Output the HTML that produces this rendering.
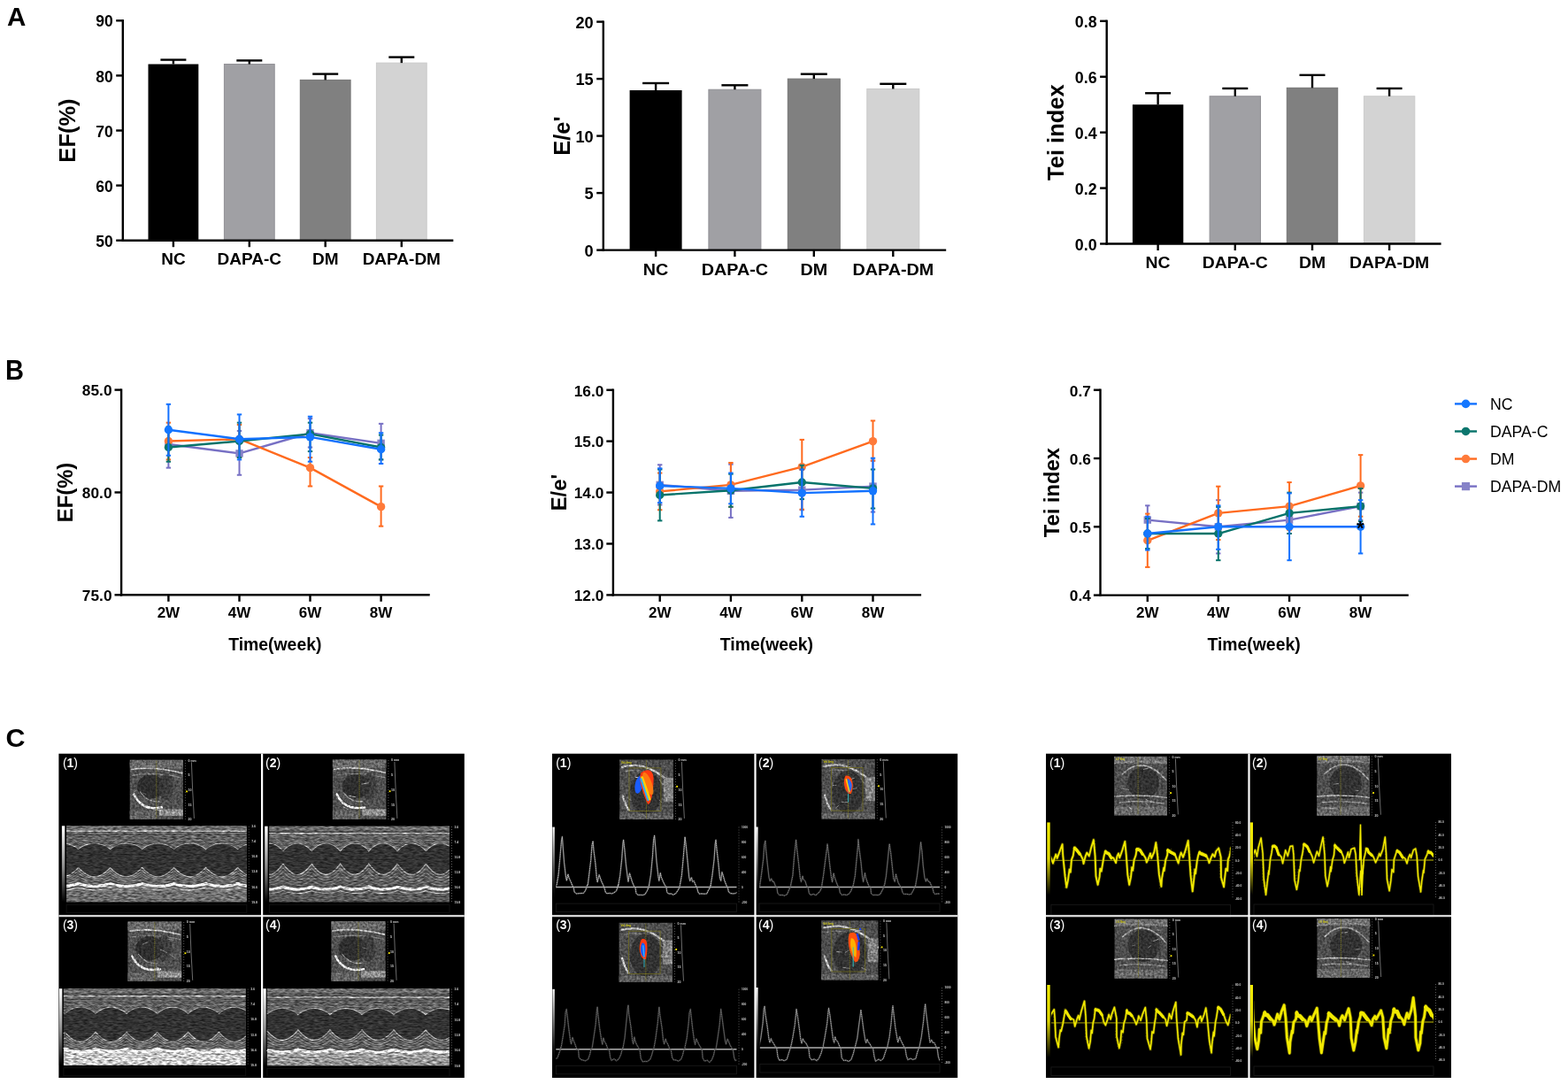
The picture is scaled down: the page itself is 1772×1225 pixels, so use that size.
<!DOCTYPE html><html><head><meta charset="utf-8"><title>Figure</title>
<style>html,body{margin:0;padding:0;background:#fff;}svg{display:block;}text{font-family:'Liberation Sans', Arial, sans-serif;}</style></head><body>
<svg width="1772" height="1225" viewBox="0 0 1772 1225">
<rect width="1772" height="1225" fill="#fff"/>
<text x="8" y="29.4" font-size="29.5" text-anchor="start" font-weight="bold" fill="#000">A</text>
<text x="0" y="0" font-size="30.6" text-anchor="start" font-weight="bold" fill="#000" transform="translate(6 428.6) scale(0.95 1)">B</text>
<text x="6.6" y="844.4" font-size="30.4" text-anchor="start" font-weight="bold" fill="#000">C</text>
<rect x="167.5" y="72.48" width="56.8" height="199.22" fill="#000000"/>
<line x1="195.9" y1="72.48" x2="195.9" y2="67.58" stroke="#000" stroke-width="2.4" stroke-linecap="butt"/>
<line x1="181.4" y1="67.58" x2="210.4" y2="67.58" stroke="#000" stroke-width="2.4" stroke-linecap="butt"/>
<rect x="253.4" y="72.48" width="56.8" height="199.22" fill="#a0a0a4" stroke="#919095" stroke-width="1"/>
<line x1="281.8" y1="72.48" x2="281.8" y2="68.38" stroke="#000" stroke-width="2.4" stroke-linecap="butt"/>
<line x1="267.3" y1="68.38" x2="296.3" y2="68.38" stroke="#000" stroke-width="2.4" stroke-linecap="butt"/>
<rect x="339.3" y="90.37" width="56.8" height="181.33" fill="#808080" stroke="#737373" stroke-width="1"/>
<line x1="367.7" y1="90.37" x2="367.7" y2="83.6" stroke="#000" stroke-width="2.4" stroke-linecap="butt"/>
<line x1="353.2" y1="83.6" x2="382.2" y2="83.6" stroke="#000" stroke-width="2.4" stroke-linecap="butt"/>
<rect x="425.4" y="71.12" width="56.8" height="200.58" fill="#d3d3d3" stroke="#cacaca" stroke-width="1"/>
<line x1="453.8" y1="71.12" x2="453.8" y2="64.6" stroke="#000" stroke-width="2.4" stroke-linecap="butt"/>
<line x1="439.3" y1="64.6" x2="468.3" y2="64.6" stroke="#000" stroke-width="2.4" stroke-linecap="butt"/>
<line x1="138.8" y1="22.1" x2="138.8" y2="272.9" stroke="#000" stroke-width="2.4" stroke-linecap="butt"/>
<line x1="137.6" y1="271.7" x2="512.3" y2="271.7" stroke="#000" stroke-width="2.4" stroke-linecap="butt"/>
<line x1="131.2" y1="271.7" x2="138.8" y2="271.7" stroke="#000" stroke-width="2.4" stroke-linecap="butt"/>
<text x="127.7" y="278.8" font-size="17.5" text-anchor="end" font-weight="bold" fill="#000">50</text>
<line x1="131.2" y1="209.6" x2="138.8" y2="209.6" stroke="#000" stroke-width="2.4" stroke-linecap="butt"/>
<text x="127.7" y="216.7" font-size="17.5" text-anchor="end" font-weight="bold" fill="#000">60</text>
<line x1="131.2" y1="147.5" x2="138.8" y2="147.5" stroke="#000" stroke-width="2.4" stroke-linecap="butt"/>
<text x="127.7" y="154.6" font-size="17.5" text-anchor="end" font-weight="bold" fill="#000">70</text>
<line x1="131.2" y1="85.4" x2="138.8" y2="85.4" stroke="#000" stroke-width="2.4" stroke-linecap="butt"/>
<text x="127.7" y="92.5" font-size="17.5" text-anchor="end" font-weight="bold" fill="#000">80</text>
<line x1="131.2" y1="23.3" x2="138.8" y2="23.3" stroke="#000" stroke-width="2.4" stroke-linecap="butt"/>
<text x="127.7" y="30.4" font-size="17.5" text-anchor="end" font-weight="bold" fill="#000">90</text>
<line x1="195.9" y1="271.7" x2="195.9" y2="279.2" stroke="#000" stroke-width="2.4" stroke-linecap="butt"/>
<text x="195.9" y="299.2" font-size="19" text-anchor="middle" font-weight="bold" fill="#000">NC</text>
<line x1="281.8" y1="271.7" x2="281.8" y2="279.2" stroke="#000" stroke-width="2.4" stroke-linecap="butt"/>
<text x="281.8" y="299.2" font-size="19" text-anchor="middle" font-weight="bold" fill="#000">DAPA-C</text>
<line x1="367.7" y1="271.7" x2="367.7" y2="279.2" stroke="#000" stroke-width="2.4" stroke-linecap="butt"/>
<text x="367.7" y="299.2" font-size="19" text-anchor="middle" font-weight="bold" fill="#000">DM</text>
<line x1="453.8" y1="271.7" x2="453.8" y2="279.2" stroke="#000" stroke-width="2.4" stroke-linecap="butt"/>
<text x="453.8" y="299.2" font-size="19" text-anchor="middle" font-weight="bold" fill="#000">DAPA-DM</text>
<text x="84.8" y="147.5" font-size="25.5" text-anchor="middle" font-weight="bold" fill="#000" transform="rotate(-90 84.8 147.5)">EF(%)</text>
<rect x="711.6" y="102" width="59" height="180.6" fill="#000000"/>
<line x1="741.1" y1="102" x2="741.1" y2="94" stroke="#000" stroke-width="2.4" stroke-linecap="butt"/>
<line x1="726.1" y1="94" x2="756.1" y2="94" stroke="#000" stroke-width="2.4" stroke-linecap="butt"/>
<rect x="800.9" y="101.23" width="59" height="181.37" fill="#a0a0a4" stroke="#919095" stroke-width="1"/>
<line x1="830.4" y1="101.23" x2="830.4" y2="96.32" stroke="#000" stroke-width="2.4" stroke-linecap="butt"/>
<line x1="815.4" y1="96.32" x2="845.4" y2="96.32" stroke="#000" stroke-width="2.4" stroke-linecap="butt"/>
<rect x="890.3" y="89.1" width="59" height="193.5" fill="#808080" stroke="#737373" stroke-width="1"/>
<line x1="919.8" y1="89.1" x2="919.8" y2="83.68" stroke="#000" stroke-width="2.4" stroke-linecap="butt"/>
<line x1="904.8" y1="83.68" x2="934.8" y2="83.68" stroke="#000" stroke-width="2.4" stroke-linecap="butt"/>
<rect x="979.8" y="100.45" width="59" height="182.15" fill="#d3d3d3" stroke="#cacaca" stroke-width="1"/>
<line x1="1009.3" y1="100.45" x2="1009.3" y2="94.78" stroke="#000" stroke-width="2.4" stroke-linecap="butt"/>
<line x1="994.3" y1="94.78" x2="1024.3" y2="94.78" stroke="#000" stroke-width="2.4" stroke-linecap="butt"/>
<line x1="681.8" y1="23.4" x2="681.8" y2="283.8" stroke="#000" stroke-width="2.4" stroke-linecap="butt"/>
<line x1="680.6" y1="282.6" x2="1069.2" y2="282.6" stroke="#000" stroke-width="2.4" stroke-linecap="butt"/>
<line x1="674.2" y1="282.6" x2="681.8" y2="282.6" stroke="#000" stroke-width="2.4" stroke-linecap="butt"/>
<text x="0" y="0" font-size="17.5" text-anchor="end" font-weight="bold" fill="#000" transform="translate(670.7 289.7) scale(1.04 1)">0</text>
<line x1="674.2" y1="218.1" x2="681.8" y2="218.1" stroke="#000" stroke-width="2.4" stroke-linecap="butt"/>
<text x="0" y="0" font-size="17.5" text-anchor="end" font-weight="bold" fill="#000" transform="translate(670.7 225.2) scale(1.04 1)">5</text>
<line x1="674.2" y1="153.6" x2="681.8" y2="153.6" stroke="#000" stroke-width="2.4" stroke-linecap="butt"/>
<text x="0" y="0" font-size="17.5" text-anchor="end" font-weight="bold" fill="#000" transform="translate(670.7 160.7) scale(1.04 1)">10</text>
<line x1="674.2" y1="89.1" x2="681.8" y2="89.1" stroke="#000" stroke-width="2.4" stroke-linecap="butt"/>
<text x="0" y="0" font-size="17.5" text-anchor="end" font-weight="bold" fill="#000" transform="translate(670.7 96.2) scale(1.04 1)">15</text>
<line x1="674.2" y1="24.6" x2="681.8" y2="24.6" stroke="#000" stroke-width="2.4" stroke-linecap="butt"/>
<text x="0" y="0" font-size="17.5" text-anchor="end" font-weight="bold" fill="#000" transform="translate(670.7 31.7) scale(1.04 1)">20</text>
<line x1="741.1" y1="282.6" x2="741.1" y2="290.1" stroke="#000" stroke-width="2.4" stroke-linecap="butt"/>
<text x="0" y="0" font-size="19" text-anchor="middle" font-weight="bold" fill="#000" transform="translate(741.1 311) scale(1.04 1)">NC</text>
<line x1="830.4" y1="282.6" x2="830.4" y2="290.1" stroke="#000" stroke-width="2.4" stroke-linecap="butt"/>
<text x="0" y="0" font-size="19" text-anchor="middle" font-weight="bold" fill="#000" transform="translate(830.4 311) scale(1.04 1)">DAPA-C</text>
<line x1="919.8" y1="282.6" x2="919.8" y2="290.1" stroke="#000" stroke-width="2.4" stroke-linecap="butt"/>
<text x="0" y="0" font-size="19" text-anchor="middle" font-weight="bold" fill="#000" transform="translate(919.8 311) scale(1.04 1)">DM</text>
<line x1="1009.3" y1="282.6" x2="1009.3" y2="290.1" stroke="#000" stroke-width="2.4" stroke-linecap="butt"/>
<text x="0" y="0" font-size="19" text-anchor="middle" font-weight="bold" fill="#000" transform="translate(1009.3 311) scale(1.04 1)">DAPA-DM</text>
<text x="643.8" y="153.6" font-size="25.5" text-anchor="middle" font-weight="bold" fill="#000" transform="rotate(-90 643.8 153.6)">E/e'</text>
<rect x="1279.9" y="118.19" width="57.4" height="157.31" fill="#000000"/>
<line x1="1308.6" y1="118.19" x2="1308.6" y2="105.29" stroke="#000" stroke-width="2.4" stroke-linecap="butt"/>
<line x1="1294.1" y1="105.29" x2="1323.1" y2="105.29" stroke="#000" stroke-width="2.4" stroke-linecap="butt"/>
<rect x="1367.1" y="108.75" width="57.4" height="166.75" fill="#a0a0a4" stroke="#919095" stroke-width="1"/>
<line x1="1395.8" y1="108.75" x2="1395.8" y2="99.94" stroke="#000" stroke-width="2.4" stroke-linecap="butt"/>
<line x1="1381.3" y1="99.94" x2="1410.3" y2="99.94" stroke="#000" stroke-width="2.4" stroke-linecap="butt"/>
<rect x="1454.3" y="99.31" width="57.4" height="176.19" fill="#808080" stroke="#737373" stroke-width="1"/>
<line x1="1483" y1="99.31" x2="1483" y2="84.84" stroke="#000" stroke-width="2.4" stroke-linecap="butt"/>
<line x1="1468.5" y1="84.84" x2="1497.5" y2="84.84" stroke="#000" stroke-width="2.4" stroke-linecap="butt"/>
<rect x="1541.4" y="108.75" width="57.4" height="166.75" fill="#d3d3d3" stroke="#cacaca" stroke-width="1"/>
<line x1="1570.1" y1="108.75" x2="1570.1" y2="99.94" stroke="#000" stroke-width="2.4" stroke-linecap="butt"/>
<line x1="1555.6" y1="99.94" x2="1584.6" y2="99.94" stroke="#000" stroke-width="2.4" stroke-linecap="butt"/>
<line x1="1250.7" y1="22.6" x2="1250.7" y2="276.7" stroke="#000" stroke-width="2.4" stroke-linecap="butt"/>
<line x1="1249.5" y1="275.5" x2="1628.6" y2="275.5" stroke="#000" stroke-width="2.4" stroke-linecap="butt"/>
<line x1="1243.1" y1="275.5" x2="1250.7" y2="275.5" stroke="#000" stroke-width="2.4" stroke-linecap="butt"/>
<text x="0" y="0" font-size="17.5" text-anchor="end" font-weight="bold" fill="#000" transform="translate(1239.6 282.6) scale(1.02 1)">0.0</text>
<line x1="1243.1" y1="212.58" x2="1250.7" y2="212.58" stroke="#000" stroke-width="2.4" stroke-linecap="butt"/>
<text x="0" y="0" font-size="17.5" text-anchor="end" font-weight="bold" fill="#000" transform="translate(1239.6 219.68) scale(1.02 1)">0.2</text>
<line x1="1243.1" y1="149.65" x2="1250.7" y2="149.65" stroke="#000" stroke-width="2.4" stroke-linecap="butt"/>
<text x="0" y="0" font-size="17.5" text-anchor="end" font-weight="bold" fill="#000" transform="translate(1239.6 156.75) scale(1.02 1)">0.4</text>
<line x1="1243.1" y1="86.73" x2="1250.7" y2="86.73" stroke="#000" stroke-width="2.4" stroke-linecap="butt"/>
<text x="0" y="0" font-size="17.5" text-anchor="end" font-weight="bold" fill="#000" transform="translate(1239.6 93.83) scale(1.02 1)">0.6</text>
<line x1="1243.1" y1="23.8" x2="1250.7" y2="23.8" stroke="#000" stroke-width="2.4" stroke-linecap="butt"/>
<text x="0" y="0" font-size="17.5" text-anchor="end" font-weight="bold" fill="#000" transform="translate(1239.6 30.9) scale(1.02 1)">0.8</text>
<line x1="1308.6" y1="275.5" x2="1308.6" y2="283" stroke="#000" stroke-width="2.4" stroke-linecap="butt"/>
<text x="0" y="0" font-size="19" text-anchor="middle" font-weight="bold" fill="#000" transform="translate(1308.6 303) scale(1.02 1)">NC</text>
<line x1="1395.8" y1="275.5" x2="1395.8" y2="283" stroke="#000" stroke-width="2.4" stroke-linecap="butt"/>
<text x="0" y="0" font-size="19" text-anchor="middle" font-weight="bold" fill="#000" transform="translate(1395.8 303) scale(1.02 1)">DAPA-C</text>
<line x1="1483" y1="275.5" x2="1483" y2="283" stroke="#000" stroke-width="2.4" stroke-linecap="butt"/>
<text x="0" y="0" font-size="19" text-anchor="middle" font-weight="bold" fill="#000" transform="translate(1483 303) scale(1.02 1)">DM</text>
<line x1="1570.1" y1="275.5" x2="1570.1" y2="283" stroke="#000" stroke-width="2.4" stroke-linecap="butt"/>
<text x="0" y="0" font-size="19" text-anchor="middle" font-weight="bold" fill="#000" transform="translate(1570.1 303) scale(1.02 1)">DAPA-DM</text>
<text x="1202" y="149.65" font-size="25.5" text-anchor="middle" font-weight="bold" fill="#000" transform="rotate(-90 1202 149.65)">Tei index</text>
<line x1="137.1" y1="439.4" x2="137.1" y2="673.5" stroke="#000" stroke-width="2.4" stroke-linecap="butt"/>
<line x1="135.9" y1="672.3" x2="485.7" y2="672.3" stroke="#000" stroke-width="2.4" stroke-linecap="butt"/>
<line x1="129.5" y1="672.3" x2="137.1" y2="672.3" stroke="#000" stroke-width="2.4" stroke-linecap="butt"/>
<text x="126.5" y="679.13" font-size="17.3" text-anchor="end" font-weight="bold" fill="#000">75.0</text>
<line x1="129.5" y1="556.45" x2="137.1" y2="556.45" stroke="#000" stroke-width="2.4" stroke-linecap="butt"/>
<text x="126.5" y="563.28" font-size="17.3" text-anchor="end" font-weight="bold" fill="#000">80.0</text>
<line x1="129.5" y1="440.6" x2="137.1" y2="440.6" stroke="#000" stroke-width="2.4" stroke-linecap="butt"/>
<text x="126.5" y="447.43" font-size="17.3" text-anchor="end" font-weight="bold" fill="#000">85.0</text>
<line x1="190.4" y1="672.3" x2="190.4" y2="679.8" stroke="#000" stroke-width="2.4" stroke-linecap="butt"/>
<text x="190.4" y="697.8" font-size="17" text-anchor="middle" font-weight="bold" fill="#000">2W</text>
<line x1="270.5" y1="672.3" x2="270.5" y2="679.8" stroke="#000" stroke-width="2.4" stroke-linecap="butt"/>
<text x="270.5" y="697.8" font-size="17" text-anchor="middle" font-weight="bold" fill="#000">4W</text>
<line x1="350.5" y1="672.3" x2="350.5" y2="679.8" stroke="#000" stroke-width="2.4" stroke-linecap="butt"/>
<text x="350.5" y="697.8" font-size="17" text-anchor="middle" font-weight="bold" fill="#000">6W</text>
<line x1="430.6" y1="672.3" x2="430.6" y2="679.8" stroke="#000" stroke-width="2.4" stroke-linecap="butt"/>
<text x="430.6" y="697.8" font-size="17" text-anchor="middle" font-weight="bold" fill="#000">8W</text>
<text x="310.8" y="735.2" font-size="19.4" text-anchor="middle" font-weight="bold" fill="#000">Time(week)</text>
<text x="82" y="556.45" font-size="23.8" text-anchor="middle" font-weight="bold" fill="#000" transform="rotate(-90 82 556.45)">EF(%)</text>
<line x1="190.4" y1="486.94" x2="190.4" y2="528.65" stroke="#7770c4" stroke-width="2" stroke-linecap="butt"/>
<line x1="187.7" y1="486.94" x2="193.1" y2="486.94" stroke="#7770c4" stroke-width="2" stroke-linecap="butt"/>
<line x1="187.7" y1="528.65" x2="193.1" y2="528.65" stroke="#7770c4" stroke-width="2" stroke-linecap="butt"/>
<line x1="270.5" y1="486.94" x2="270.5" y2="536.76" stroke="#7770c4" stroke-width="2" stroke-linecap="butt"/>
<line x1="267.8" y1="486.94" x2="273.2" y2="486.94" stroke="#7770c4" stroke-width="2" stroke-linecap="butt"/>
<line x1="267.8" y1="536.76" x2="273.2" y2="536.76" stroke="#7770c4" stroke-width="2" stroke-linecap="butt"/>
<line x1="350.5" y1="473.04" x2="350.5" y2="505.48" stroke="#7770c4" stroke-width="2" stroke-linecap="butt"/>
<line x1="347.8" y1="473.04" x2="353.2" y2="473.04" stroke="#7770c4" stroke-width="2" stroke-linecap="butt"/>
<line x1="347.8" y1="505.48" x2="353.2" y2="505.48" stroke="#7770c4" stroke-width="2" stroke-linecap="butt"/>
<line x1="430.6" y1="478.83" x2="430.6" y2="519.38" stroke="#7770c4" stroke-width="2" stroke-linecap="butt"/>
<line x1="427.9" y1="478.83" x2="433.3" y2="478.83" stroke="#7770c4" stroke-width="2" stroke-linecap="butt"/>
<line x1="427.9" y1="519.38" x2="433.3" y2="519.38" stroke="#7770c4" stroke-width="2" stroke-linecap="butt"/>
<polyline points="190.4,502 270.5,512.43 350.5,489.26 430.6,500.84" fill="none" stroke="#7770c4" stroke-width="2.4" stroke-linejoin="round"/>
<rect x="186.2" y="497.8" width="8.4" height="8.4" fill="#8682c8"/>
<rect x="266.3" y="508.23" width="8.4" height="8.4" fill="#8682c8"/>
<rect x="346.3" y="485.06" width="8.4" height="8.4" fill="#8682c8"/>
<rect x="426.4" y="496.64" width="8.4" height="8.4" fill="#8682c8"/>
<line x1="190.4" y1="477.67" x2="190.4" y2="519.38" stroke="#ff6a1e" stroke-width="2" stroke-linecap="butt"/>
<line x1="187.7" y1="477.67" x2="193.1" y2="477.67" stroke="#ff6a1e" stroke-width="2" stroke-linecap="butt"/>
<line x1="187.7" y1="519.38" x2="193.1" y2="519.38" stroke="#ff6a1e" stroke-width="2" stroke-linecap="butt"/>
<line x1="270.5" y1="479.99" x2="270.5" y2="517.06" stroke="#ff6a1e" stroke-width="2" stroke-linecap="butt"/>
<line x1="267.8" y1="479.99" x2="273.2" y2="479.99" stroke="#ff6a1e" stroke-width="2" stroke-linecap="butt"/>
<line x1="267.8" y1="517.06" x2="273.2" y2="517.06" stroke="#ff6a1e" stroke-width="2" stroke-linecap="butt"/>
<line x1="350.5" y1="517.06" x2="350.5" y2="549.5" stroke="#ff6a1e" stroke-width="2" stroke-linecap="butt"/>
<line x1="347.8" y1="517.06" x2="353.2" y2="517.06" stroke="#ff6a1e" stroke-width="2" stroke-linecap="butt"/>
<line x1="347.8" y1="549.5" x2="353.2" y2="549.5" stroke="#ff6a1e" stroke-width="2" stroke-linecap="butt"/>
<line x1="430.6" y1="549.5" x2="430.6" y2="594.68" stroke="#ff6a1e" stroke-width="2" stroke-linecap="butt"/>
<line x1="427.9" y1="549.5" x2="433.3" y2="549.5" stroke="#ff6a1e" stroke-width="2" stroke-linecap="butt"/>
<line x1="427.9" y1="594.68" x2="433.3" y2="594.68" stroke="#ff6a1e" stroke-width="2" stroke-linecap="butt"/>
<polyline points="190.4,498.52 270.5,496.21 350.5,528.65 430.6,572.67" fill="none" stroke="#ff6a1e" stroke-width="2.4" stroke-linejoin="round"/>
<circle cx="190.4" cy="498.52" r="4.7" fill="#ff7a3a"/>
<circle cx="270.5" cy="496.21" r="4.7" fill="#ff7a3a"/>
<circle cx="350.5" cy="528.65" r="4.7" fill="#ff7a3a"/>
<circle cx="430.6" cy="572.67" r="4.7" fill="#ff7a3a"/>
<line x1="190.4" y1="482.31" x2="190.4" y2="521.69" stroke="#07736a" stroke-width="2" stroke-linecap="butt"/>
<line x1="187.7" y1="482.31" x2="193.1" y2="482.31" stroke="#07736a" stroke-width="2" stroke-linecap="butt"/>
<line x1="187.7" y1="521.69" x2="193.1" y2="521.69" stroke="#07736a" stroke-width="2" stroke-linecap="butt"/>
<line x1="270.5" y1="477.67" x2="270.5" y2="517.06" stroke="#07736a" stroke-width="2" stroke-linecap="butt"/>
<line x1="267.8" y1="477.67" x2="273.2" y2="477.67" stroke="#07736a" stroke-width="2" stroke-linecap="butt"/>
<line x1="267.8" y1="517.06" x2="273.2" y2="517.06" stroke="#07736a" stroke-width="2" stroke-linecap="butt"/>
<line x1="350.5" y1="477.67" x2="350.5" y2="510.11" stroke="#07736a" stroke-width="2" stroke-linecap="butt"/>
<line x1="347.8" y1="477.67" x2="353.2" y2="477.67" stroke="#07736a" stroke-width="2" stroke-linecap="butt"/>
<line x1="347.8" y1="510.11" x2="353.2" y2="510.11" stroke="#07736a" stroke-width="2" stroke-linecap="butt"/>
<line x1="430.6" y1="491.57" x2="430.6" y2="519.38" stroke="#07736a" stroke-width="2" stroke-linecap="butt"/>
<line x1="427.9" y1="491.57" x2="433.3" y2="491.57" stroke="#07736a" stroke-width="2" stroke-linecap="butt"/>
<line x1="427.9" y1="519.38" x2="433.3" y2="519.38" stroke="#07736a" stroke-width="2" stroke-linecap="butt"/>
<polyline points="190.4,505.48 270.5,498.52 350.5,490.42 430.6,505.48" fill="none" stroke="#07736a" stroke-width="2.4" stroke-linejoin="round"/>
<circle cx="190.4" cy="505.48" r="4.7" fill="#0b766e"/>
<circle cx="270.5" cy="498.52" r="4.7" fill="#0b766e"/>
<circle cx="350.5" cy="490.42" r="4.7" fill="#0b766e"/>
<circle cx="430.6" cy="505.48" r="4.7" fill="#0b766e"/>
<line x1="190.4" y1="456.82" x2="190.4" y2="514.74" stroke="#1271ff" stroke-width="2" stroke-linecap="butt"/>
<line x1="187.7" y1="456.82" x2="193.1" y2="456.82" stroke="#1271ff" stroke-width="2" stroke-linecap="butt"/>
<line x1="187.7" y1="514.74" x2="193.1" y2="514.74" stroke="#1271ff" stroke-width="2" stroke-linecap="butt"/>
<line x1="270.5" y1="468.4" x2="270.5" y2="519.38" stroke="#1271ff" stroke-width="2" stroke-linecap="butt"/>
<line x1="267.8" y1="468.4" x2="273.2" y2="468.4" stroke="#1271ff" stroke-width="2" stroke-linecap="butt"/>
<line x1="267.8" y1="519.38" x2="273.2" y2="519.38" stroke="#1271ff" stroke-width="2" stroke-linecap="butt"/>
<line x1="350.5" y1="470.72" x2="350.5" y2="521.69" stroke="#1271ff" stroke-width="2" stroke-linecap="butt"/>
<line x1="347.8" y1="470.72" x2="353.2" y2="470.72" stroke="#1271ff" stroke-width="2" stroke-linecap="butt"/>
<line x1="347.8" y1="521.69" x2="353.2" y2="521.69" stroke="#1271ff" stroke-width="2" stroke-linecap="butt"/>
<line x1="430.6" y1="489.26" x2="430.6" y2="524.01" stroke="#1271ff" stroke-width="2" stroke-linecap="butt"/>
<line x1="427.9" y1="489.26" x2="433.3" y2="489.26" stroke="#1271ff" stroke-width="2" stroke-linecap="butt"/>
<line x1="427.9" y1="524.01" x2="433.3" y2="524.01" stroke="#1271ff" stroke-width="2" stroke-linecap="butt"/>
<polyline points="190.4,485.78 270.5,496.21 350.5,493.89 430.6,507.79" fill="none" stroke="#1271ff" stroke-width="2.4" stroke-linejoin="round"/>
<circle cx="190.4" cy="485.78" r="4.7" fill="#1477ff"/>
<circle cx="270.5" cy="496.21" r="4.7" fill="#1477ff"/>
<circle cx="350.5" cy="493.89" r="4.7" fill="#1477ff"/>
<circle cx="430.6" cy="507.79" r="4.7" fill="#1477ff"/>
<line x1="692.9" y1="439.5" x2="692.9" y2="673.6" stroke="#000" stroke-width="2.4" stroke-linecap="butt"/>
<line x1="691.7" y1="672.4" x2="1041.1" y2="672.4" stroke="#000" stroke-width="2.4" stroke-linecap="butt"/>
<line x1="685.3" y1="672.4" x2="692.9" y2="672.4" stroke="#000" stroke-width="2.4" stroke-linecap="butt"/>
<text x="682.3" y="679.23" font-size="17.3" text-anchor="end" font-weight="bold" fill="#000">12.0</text>
<line x1="685.3" y1="614.48" x2="692.9" y2="614.48" stroke="#000" stroke-width="2.4" stroke-linecap="butt"/>
<text x="682.3" y="621.3" font-size="17.3" text-anchor="end" font-weight="bold" fill="#000">13.0</text>
<line x1="685.3" y1="556.55" x2="692.9" y2="556.55" stroke="#000" stroke-width="2.4" stroke-linecap="butt"/>
<text x="682.3" y="563.38" font-size="17.3" text-anchor="end" font-weight="bold" fill="#000">14.0</text>
<line x1="685.3" y1="498.62" x2="692.9" y2="498.62" stroke="#000" stroke-width="2.4" stroke-linecap="butt"/>
<text x="682.3" y="505.45" font-size="17.3" text-anchor="end" font-weight="bold" fill="#000">15.0</text>
<line x1="685.3" y1="440.7" x2="692.9" y2="440.7" stroke="#000" stroke-width="2.4" stroke-linecap="butt"/>
<text x="682.3" y="447.53" font-size="17.3" text-anchor="end" font-weight="bold" fill="#000">16.0</text>
<line x1="745.7" y1="672.4" x2="745.7" y2="679.9" stroke="#000" stroke-width="2.4" stroke-linecap="butt"/>
<text x="745.7" y="697.9" font-size="17" text-anchor="middle" font-weight="bold" fill="#000">2W</text>
<line x1="825.9" y1="672.4" x2="825.9" y2="679.9" stroke="#000" stroke-width="2.4" stroke-linecap="butt"/>
<text x="825.9" y="697.9" font-size="17" text-anchor="middle" font-weight="bold" fill="#000">4W</text>
<line x1="906.3" y1="672.4" x2="906.3" y2="679.9" stroke="#000" stroke-width="2.4" stroke-linecap="butt"/>
<text x="906.3" y="697.9" font-size="17" text-anchor="middle" font-weight="bold" fill="#000">6W</text>
<line x1="986.5" y1="672.4" x2="986.5" y2="679.9" stroke="#000" stroke-width="2.4" stroke-linecap="butt"/>
<text x="986.5" y="697.9" font-size="17" text-anchor="middle" font-weight="bold" fill="#000">8W</text>
<text x="866.4" y="735.2" font-size="19.4" text-anchor="middle" font-weight="bold" fill="#000">Time(week)</text>
<text x="640" y="556.55" font-size="23.8" text-anchor="middle" font-weight="bold" fill="#000" transform="rotate(-90 640 556.55)">E/e'</text>
<line x1="745.7" y1="525.27" x2="745.7" y2="570.45" stroke="#7770c4" stroke-width="2" stroke-linecap="butt"/>
<line x1="743" y1="525.27" x2="748.4" y2="525.27" stroke="#7770c4" stroke-width="2" stroke-linecap="butt"/>
<line x1="743" y1="570.45" x2="748.4" y2="570.45" stroke="#7770c4" stroke-width="2" stroke-linecap="butt"/>
<line x1="825.9" y1="524.69" x2="825.9" y2="584.93" stroke="#7770c4" stroke-width="2" stroke-linecap="butt"/>
<line x1="823.2" y1="524.69" x2="828.6" y2="524.69" stroke="#7770c4" stroke-width="2" stroke-linecap="butt"/>
<line x1="823.2" y1="584.93" x2="828.6" y2="584.93" stroke="#7770c4" stroke-width="2" stroke-linecap="butt"/>
<line x1="906.3" y1="531.06" x2="906.3" y2="576.24" stroke="#7770c4" stroke-width="2" stroke-linecap="butt"/>
<line x1="903.6" y1="531.06" x2="909" y2="531.06" stroke="#7770c4" stroke-width="2" stroke-linecap="butt"/>
<line x1="903.6" y1="576.24" x2="909" y2="576.24" stroke="#7770c4" stroke-width="2" stroke-linecap="butt"/>
<line x1="986.5" y1="520.64" x2="986.5" y2="578.56" stroke="#7770c4" stroke-width="2" stroke-linecap="butt"/>
<line x1="983.8" y1="520.64" x2="989.2" y2="520.64" stroke="#7770c4" stroke-width="2" stroke-linecap="butt"/>
<line x1="983.8" y1="578.56" x2="989.2" y2="578.56" stroke="#7770c4" stroke-width="2" stroke-linecap="butt"/>
<polyline points="745.7,547.86 825.9,554.81 906.3,553.65 986.5,549.6" fill="none" stroke="#7770c4" stroke-width="2.4" stroke-linejoin="round"/>
<rect x="741.5" y="543.66" width="8.4" height="8.4" fill="#8682c8"/>
<rect x="821.7" y="550.61" width="8.4" height="8.4" fill="#8682c8"/>
<rect x="902.1" y="549.45" width="8.4" height="8.4" fill="#8682c8"/>
<rect x="982.3" y="545.4" width="8.4" height="8.4" fill="#8682c8"/>
<line x1="745.7" y1="534.54" x2="745.7" y2="576.24" stroke="#ff6a1e" stroke-width="2" stroke-linecap="butt"/>
<line x1="743" y1="534.54" x2="748.4" y2="534.54" stroke="#ff6a1e" stroke-width="2" stroke-linecap="butt"/>
<line x1="743" y1="576.24" x2="748.4" y2="576.24" stroke="#ff6a1e" stroke-width="2" stroke-linecap="butt"/>
<line x1="825.9" y1="522.95" x2="825.9" y2="572.77" stroke="#ff6a1e" stroke-width="2" stroke-linecap="butt"/>
<line x1="823.2" y1="522.95" x2="828.6" y2="522.95" stroke="#ff6a1e" stroke-width="2" stroke-linecap="butt"/>
<line x1="823.2" y1="572.77" x2="828.6" y2="572.77" stroke="#ff6a1e" stroke-width="2" stroke-linecap="butt"/>
<line x1="906.3" y1="496.89" x2="906.3" y2="575.67" stroke="#ff6a1e" stroke-width="2" stroke-linecap="butt"/>
<line x1="903.6" y1="496.89" x2="909" y2="496.89" stroke="#ff6a1e" stroke-width="2" stroke-linecap="butt"/>
<line x1="903.6" y1="575.67" x2="909" y2="575.67" stroke="#ff6a1e" stroke-width="2" stroke-linecap="butt"/>
<line x1="986.5" y1="475.45" x2="986.5" y2="520.64" stroke="#ff6a1e" stroke-width="2" stroke-linecap="butt"/>
<line x1="983.8" y1="475.45" x2="989.2" y2="475.45" stroke="#ff6a1e" stroke-width="2" stroke-linecap="butt"/>
<line x1="983.8" y1="520.64" x2="989.2" y2="520.64" stroke="#ff6a1e" stroke-width="2" stroke-linecap="butt"/>
<polyline points="745.7,555.39 825.9,547.86 906.3,527.59 986.5,498.62" fill="none" stroke="#ff6a1e" stroke-width="2.4" stroke-linejoin="round"/>
<circle cx="745.7" cy="555.39" r="4.7" fill="#ff7a3a"/>
<circle cx="825.9" cy="547.86" r="4.7" fill="#ff7a3a"/>
<circle cx="906.3" cy="527.59" r="4.7" fill="#ff7a3a"/>
<circle cx="986.5" cy="498.62" r="4.7" fill="#ff7a3a"/>
<line x1="745.7" y1="530.48" x2="745.7" y2="588.41" stroke="#07736a" stroke-width="2" stroke-linecap="butt"/>
<line x1="743" y1="530.48" x2="748.4" y2="530.48" stroke="#07736a" stroke-width="2" stroke-linecap="butt"/>
<line x1="743" y1="588.41" x2="748.4" y2="588.41" stroke="#07736a" stroke-width="2" stroke-linecap="butt"/>
<line x1="825.9" y1="535.7" x2="825.9" y2="572.77" stroke="#07736a" stroke-width="2" stroke-linecap="butt"/>
<line x1="823.2" y1="535.7" x2="828.6" y2="535.7" stroke="#07736a" stroke-width="2" stroke-linecap="butt"/>
<line x1="823.2" y1="572.77" x2="828.6" y2="572.77" stroke="#07736a" stroke-width="2" stroke-linecap="butt"/>
<line x1="906.3" y1="525.85" x2="906.3" y2="564.08" stroke="#07736a" stroke-width="2" stroke-linecap="butt"/>
<line x1="903.6" y1="525.85" x2="909" y2="525.85" stroke="#07736a" stroke-width="2" stroke-linecap="butt"/>
<line x1="903.6" y1="564.08" x2="909" y2="564.08" stroke="#07736a" stroke-width="2" stroke-linecap="butt"/>
<line x1="986.5" y1="530.48" x2="986.5" y2="574.51" stroke="#07736a" stroke-width="2" stroke-linecap="butt"/>
<line x1="983.8" y1="530.48" x2="989.2" y2="530.48" stroke="#07736a" stroke-width="2" stroke-linecap="butt"/>
<line x1="983.8" y1="574.51" x2="989.2" y2="574.51" stroke="#07736a" stroke-width="2" stroke-linecap="butt"/>
<polyline points="745.7,559.45 825.9,554.23 906.3,544.97 986.5,551.92" fill="none" stroke="#07736a" stroke-width="2.4" stroke-linejoin="round"/>
<circle cx="745.7" cy="559.45" r="4.7" fill="#0b766e"/>
<circle cx="825.9" cy="554.23" r="4.7" fill="#0b766e"/>
<circle cx="906.3" cy="544.97" r="4.7" fill="#0b766e"/>
<circle cx="986.5" cy="551.92" r="4.7" fill="#0b766e"/>
<line x1="745.7" y1="529.33" x2="745.7" y2="568.13" stroke="#1271ff" stroke-width="2" stroke-linecap="butt"/>
<line x1="743" y1="529.33" x2="748.4" y2="529.33" stroke="#1271ff" stroke-width="2" stroke-linecap="butt"/>
<line x1="743" y1="568.13" x2="748.4" y2="568.13" stroke="#1271ff" stroke-width="2" stroke-linecap="butt"/>
<line x1="825.9" y1="534.54" x2="825.9" y2="569.29" stroke="#1271ff" stroke-width="2" stroke-linecap="butt"/>
<line x1="823.2" y1="534.54" x2="828.6" y2="534.54" stroke="#1271ff" stroke-width="2" stroke-linecap="butt"/>
<line x1="823.2" y1="569.29" x2="828.6" y2="569.29" stroke="#1271ff" stroke-width="2" stroke-linecap="butt"/>
<line x1="906.3" y1="530.48" x2="906.3" y2="583.77" stroke="#1271ff" stroke-width="2" stroke-linecap="butt"/>
<line x1="903.6" y1="530.48" x2="909" y2="530.48" stroke="#1271ff" stroke-width="2" stroke-linecap="butt"/>
<line x1="903.6" y1="583.77" x2="909" y2="583.77" stroke="#1271ff" stroke-width="2" stroke-linecap="butt"/>
<line x1="986.5" y1="517.74" x2="986.5" y2="592.46" stroke="#1271ff" stroke-width="2" stroke-linecap="butt"/>
<line x1="983.8" y1="517.74" x2="989.2" y2="517.74" stroke="#1271ff" stroke-width="2" stroke-linecap="butt"/>
<line x1="983.8" y1="592.46" x2="989.2" y2="592.46" stroke="#1271ff" stroke-width="2" stroke-linecap="butt"/>
<polyline points="745.7,549.02 825.9,551.92 906.3,557.13 986.5,554.81" fill="none" stroke="#1271ff" stroke-width="2.4" stroke-linejoin="round"/>
<circle cx="745.7" cy="549.02" r="4.7" fill="#1477ff"/>
<circle cx="825.9" cy="551.92" r="4.7" fill="#1477ff"/>
<circle cx="906.3" cy="557.13" r="4.7" fill="#1477ff"/>
<circle cx="986.5" cy="554.81" r="4.7" fill="#1477ff"/>
<line x1="1243.5" y1="439.5" x2="1243.5" y2="673.8" stroke="#000" stroke-width="2.4" stroke-linecap="butt"/>
<line x1="1242.3" y1="672.6" x2="1591.8" y2="672.6" stroke="#000" stroke-width="2.4" stroke-linecap="butt"/>
<line x1="1235.9" y1="672.6" x2="1243.5" y2="672.6" stroke="#000" stroke-width="2.4" stroke-linecap="butt"/>
<text x="1232.9" y="679.43" font-size="17.3" text-anchor="end" font-weight="bold" fill="#000">0.4</text>
<line x1="1235.9" y1="595.3" x2="1243.5" y2="595.3" stroke="#000" stroke-width="2.4" stroke-linecap="butt"/>
<text x="1232.9" y="602.13" font-size="17.3" text-anchor="end" font-weight="bold" fill="#000">0.5</text>
<line x1="1235.9" y1="518" x2="1243.5" y2="518" stroke="#000" stroke-width="2.4" stroke-linecap="butt"/>
<text x="1232.9" y="524.83" font-size="17.3" text-anchor="end" font-weight="bold" fill="#000">0.6</text>
<line x1="1235.9" y1="440.7" x2="1243.5" y2="440.7" stroke="#000" stroke-width="2.4" stroke-linecap="butt"/>
<text x="1232.9" y="447.53" font-size="17.3" text-anchor="end" font-weight="bold" fill="#000">0.7</text>
<line x1="1296.8" y1="672.6" x2="1296.8" y2="680.1" stroke="#000" stroke-width="2.4" stroke-linecap="butt"/>
<text x="1296.8" y="698.1" font-size="17" text-anchor="middle" font-weight="bold" fill="#000">2W</text>
<line x1="1376.8" y1="672.6" x2="1376.8" y2="680.1" stroke="#000" stroke-width="2.4" stroke-linecap="butt"/>
<text x="1376.8" y="698.1" font-size="17" text-anchor="middle" font-weight="bold" fill="#000">4W</text>
<line x1="1457.1" y1="672.6" x2="1457.1" y2="680.1" stroke="#000" stroke-width="2.4" stroke-linecap="butt"/>
<text x="1457.1" y="698.1" font-size="17" text-anchor="middle" font-weight="bold" fill="#000">6W</text>
<line x1="1537.6" y1="672.6" x2="1537.6" y2="680.1" stroke="#000" stroke-width="2.4" stroke-linecap="butt"/>
<text x="1537.6" y="698.1" font-size="17" text-anchor="middle" font-weight="bold" fill="#000">8W</text>
<text x="1417.05" y="735.2" font-size="19.4" text-anchor="middle" font-weight="bold" fill="#000">Time(week)</text>
<text x="1197" y="556.65" font-size="23.8" text-anchor="middle" font-weight="bold" fill="#000" transform="rotate(-90 1197 556.65)">Tei index</text>
<line x1="1296.8" y1="571.34" x2="1296.8" y2="603.8" stroke="#7770c4" stroke-width="2" stroke-linecap="butt"/>
<line x1="1294.1" y1="571.34" x2="1299.5" y2="571.34" stroke="#7770c4" stroke-width="2" stroke-linecap="butt"/>
<line x1="1294.1" y1="603.8" x2="1299.5" y2="603.8" stroke="#7770c4" stroke-width="2" stroke-linecap="butt"/>
<line x1="1376.8" y1="565.15" x2="1376.8" y2="625.45" stroke="#7770c4" stroke-width="2" stroke-linecap="butt"/>
<line x1="1374.1" y1="565.15" x2="1379.5" y2="565.15" stroke="#7770c4" stroke-width="2" stroke-linecap="butt"/>
<line x1="1374.1" y1="625.45" x2="1379.5" y2="625.45" stroke="#7770c4" stroke-width="2" stroke-linecap="butt"/>
<line x1="1457.1" y1="572.11" x2="1457.1" y2="603.03" stroke="#7770c4" stroke-width="2" stroke-linecap="butt"/>
<line x1="1454.4" y1="572.11" x2="1459.8" y2="572.11" stroke="#7770c4" stroke-width="2" stroke-linecap="butt"/>
<line x1="1454.4" y1="603.03" x2="1459.8" y2="603.03" stroke="#7770c4" stroke-width="2" stroke-linecap="butt"/>
<line x1="1537.6" y1="556.65" x2="1537.6" y2="587.57" stroke="#7770c4" stroke-width="2" stroke-linecap="butt"/>
<line x1="1534.9" y1="556.65" x2="1540.3" y2="556.65" stroke="#7770c4" stroke-width="2" stroke-linecap="butt"/>
<line x1="1534.9" y1="587.57" x2="1540.3" y2="587.57" stroke="#7770c4" stroke-width="2" stroke-linecap="butt"/>
<polyline points="1296.8,587.57 1376.8,595.3 1457.1,587.57 1537.6,572.11" fill="none" stroke="#7770c4" stroke-width="2.4" stroke-linejoin="round"/>
<rect x="1292.6" y="583.37" width="8.4" height="8.4" fill="#8682c8"/>
<rect x="1372.6" y="591.1" width="8.4" height="8.4" fill="#8682c8"/>
<rect x="1452.9" y="583.37" width="8.4" height="8.4" fill="#8682c8"/>
<rect x="1533.4" y="567.91" width="8.4" height="8.4" fill="#8682c8"/>
<line x1="1296.8" y1="580.61" x2="1296.8" y2="640.91" stroke="#ff6a1e" stroke-width="2" stroke-linecap="butt"/>
<line x1="1294.1" y1="580.61" x2="1299.5" y2="580.61" stroke="#ff6a1e" stroke-width="2" stroke-linecap="butt"/>
<line x1="1294.1" y1="640.91" x2="1299.5" y2="640.91" stroke="#ff6a1e" stroke-width="2" stroke-linecap="butt"/>
<line x1="1376.8" y1="549.69" x2="1376.8" y2="609.99" stroke="#ff6a1e" stroke-width="2" stroke-linecap="butt"/>
<line x1="1374.1" y1="549.69" x2="1379.5" y2="549.69" stroke="#ff6a1e" stroke-width="2" stroke-linecap="butt"/>
<line x1="1374.1" y1="609.99" x2="1379.5" y2="609.99" stroke="#ff6a1e" stroke-width="2" stroke-linecap="butt"/>
<line x1="1457.1" y1="545.06" x2="1457.1" y2="599.16" stroke="#ff6a1e" stroke-width="2" stroke-linecap="butt"/>
<line x1="1454.4" y1="545.06" x2="1459.8" y2="545.06" stroke="#ff6a1e" stroke-width="2" stroke-linecap="butt"/>
<line x1="1454.4" y1="599.16" x2="1459.8" y2="599.16" stroke="#ff6a1e" stroke-width="2" stroke-linecap="butt"/>
<line x1="1537.6" y1="514.13" x2="1537.6" y2="583.7" stroke="#ff6a1e" stroke-width="2" stroke-linecap="butt"/>
<line x1="1534.9" y1="514.13" x2="1540.3" y2="514.13" stroke="#ff6a1e" stroke-width="2" stroke-linecap="butt"/>
<line x1="1534.9" y1="583.7" x2="1540.3" y2="583.7" stroke="#ff6a1e" stroke-width="2" stroke-linecap="butt"/>
<polyline points="1296.8,610.76 1376.8,579.84 1457.1,572.11 1537.6,548.92" fill="none" stroke="#ff6a1e" stroke-width="2.4" stroke-linejoin="round"/>
<circle cx="1296.8" cy="610.76" r="4.7" fill="#ff7a3a"/>
<circle cx="1376.8" cy="579.84" r="4.7" fill="#ff7a3a"/>
<circle cx="1457.1" cy="572.11" r="4.7" fill="#ff7a3a"/>
<circle cx="1537.6" cy="548.92" r="4.7" fill="#ff7a3a"/>
<line x1="1296.8" y1="586.02" x2="1296.8" y2="620.04" stroke="#07736a" stroke-width="2" stroke-linecap="butt"/>
<line x1="1294.1" y1="586.02" x2="1299.5" y2="586.02" stroke="#07736a" stroke-width="2" stroke-linecap="butt"/>
<line x1="1294.1" y1="620.04" x2="1299.5" y2="620.04" stroke="#07736a" stroke-width="2" stroke-linecap="butt"/>
<line x1="1376.8" y1="572.88" x2="1376.8" y2="633.18" stroke="#07736a" stroke-width="2" stroke-linecap="butt"/>
<line x1="1374.1" y1="572.88" x2="1379.5" y2="572.88" stroke="#07736a" stroke-width="2" stroke-linecap="butt"/>
<line x1="1374.1" y1="633.18" x2="1379.5" y2="633.18" stroke="#07736a" stroke-width="2" stroke-linecap="butt"/>
<line x1="1457.1" y1="556.65" x2="1457.1" y2="603.03" stroke="#07736a" stroke-width="2" stroke-linecap="butt"/>
<line x1="1454.4" y1="556.65" x2="1459.8" y2="556.65" stroke="#07736a" stroke-width="2" stroke-linecap="butt"/>
<line x1="1454.4" y1="603.03" x2="1459.8" y2="603.03" stroke="#07736a" stroke-width="2" stroke-linecap="butt"/>
<line x1="1537.6" y1="552.01" x2="1537.6" y2="589.12" stroke="#07736a" stroke-width="2" stroke-linecap="butt"/>
<line x1="1534.9" y1="552.01" x2="1540.3" y2="552.01" stroke="#07736a" stroke-width="2" stroke-linecap="butt"/>
<line x1="1534.9" y1="589.12" x2="1540.3" y2="589.12" stroke="#07736a" stroke-width="2" stroke-linecap="butt"/>
<polyline points="1296.8,603.03 1376.8,603.03 1457.1,579.84 1537.6,572.11" fill="none" stroke="#07736a" stroke-width="2.4" stroke-linejoin="round"/>
<circle cx="1296.8" cy="603.03" r="4.7" fill="#0b766e"/>
<circle cx="1376.8" cy="603.03" r="4.7" fill="#0b766e"/>
<circle cx="1457.1" cy="579.84" r="4.7" fill="#0b766e"/>
<circle cx="1537.6" cy="572.11" r="4.7" fill="#0b766e"/>
<line x1="1296.8" y1="583.7" x2="1296.8" y2="621.58" stroke="#1271ff" stroke-width="2" stroke-linecap="butt"/>
<line x1="1294.1" y1="583.7" x2="1299.5" y2="583.7" stroke="#1271ff" stroke-width="2" stroke-linecap="butt"/>
<line x1="1294.1" y1="621.58" x2="1299.5" y2="621.58" stroke="#1271ff" stroke-width="2" stroke-linecap="butt"/>
<line x1="1376.8" y1="571.34" x2="1376.8" y2="620.81" stroke="#1271ff" stroke-width="2" stroke-linecap="butt"/>
<line x1="1374.1" y1="571.34" x2="1379.5" y2="571.34" stroke="#1271ff" stroke-width="2" stroke-linecap="butt"/>
<line x1="1374.1" y1="620.81" x2="1379.5" y2="620.81" stroke="#1271ff" stroke-width="2" stroke-linecap="butt"/>
<line x1="1457.1" y1="557.42" x2="1457.1" y2="633.18" stroke="#1271ff" stroke-width="2" stroke-linecap="butt"/>
<line x1="1454.4" y1="557.42" x2="1459.8" y2="557.42" stroke="#1271ff" stroke-width="2" stroke-linecap="butt"/>
<line x1="1454.4" y1="633.18" x2="1459.8" y2="633.18" stroke="#1271ff" stroke-width="2" stroke-linecap="butt"/>
<line x1="1537.6" y1="565.15" x2="1537.6" y2="625.45" stroke="#1271ff" stroke-width="2" stroke-linecap="butt"/>
<line x1="1534.9" y1="565.15" x2="1540.3" y2="565.15" stroke="#1271ff" stroke-width="2" stroke-linecap="butt"/>
<line x1="1534.9" y1="625.45" x2="1540.3" y2="625.45" stroke="#1271ff" stroke-width="2" stroke-linecap="butt"/>
<polyline points="1296.8,603.03 1376.8,595.3 1457.1,595.3 1537.6,595.3" fill="none" stroke="#1271ff" stroke-width="2.4" stroke-linejoin="round"/>
<circle cx="1296.8" cy="603.03" r="4.7" fill="#1477ff"/>
<circle cx="1376.8" cy="595.3" r="4.7" fill="#1477ff"/>
<circle cx="1457.1" cy="595.3" r="4.7" fill="#1477ff"/>
<circle cx="1537.6" cy="595.3" r="4.7" fill="#1477ff"/>
<text x="1537.4" y="604.2" font-size="22" text-anchor="middle" font-weight="bold" fill="#000">*</text>
<line x1="1644" y1="456.4" x2="1669" y2="456.4" stroke="#1271ff" stroke-width="2.4" stroke-linecap="butt"/>
<circle cx="1656.5" cy="456.4" r="4.8" fill="#1477ff"/>
<text x="1684" y="462.8" font-size="17.7" text-anchor="start" font-weight="normal" fill="#000">NC</text>
<line x1="1644" y1="487.47" x2="1669" y2="487.47" stroke="#07736a" stroke-width="2.4" stroke-linecap="butt"/>
<circle cx="1656.5" cy="487.47" r="4.8" fill="#0b766e"/>
<text x="1684" y="493.87" font-size="17.7" text-anchor="start" font-weight="normal" fill="#000">DAPA-C</text>
<line x1="1644" y1="518.54" x2="1669" y2="518.54" stroke="#ff6a1e" stroke-width="2.4" stroke-linecap="butt"/>
<circle cx="1656.5" cy="518.54" r="4.8" fill="#ff7a3a"/>
<text x="1684" y="524.94" font-size="17.7" text-anchor="start" font-weight="normal" fill="#000">DM</text>
<line x1="1644" y1="549.61" x2="1669" y2="549.61" stroke="#7770c4" stroke-width="2.4" stroke-linecap="butt"/>
<rect x="1651.9" y="545.01" width="9.2" height="9.2" fill="#8682c8"/>
<text x="1684" y="556.01" font-size="17.7" text-anchor="start" font-weight="normal" fill="#000">DAPA-DM</text>
<defs>
<filter id="spk" x="0" y="0" width="1" height="1" color-interpolation-filters="sRGB">
  <feTurbulence type="fractalNoise" baseFrequency="0.18 0.55" numOctaves="2" seed="7" result="n"/>
  <feColorMatrix in="n" type="matrix" values="1.5 0 0 0 -0.25  1.5 0 0 0 -0.25  1.5 0 0 0 -0.25  0 0 0 0 1" result="gn"/>
  <feComposite in="SourceGraphic" in2="gn" operator="arithmetic" k1="1.1" k2="0.45" k3="0" k4="0" result="c"/>
  <feGaussianBlur in="c" stdDeviation="0.35"/>
</filter>
<filter id="spk2" x="0" y="0" width="1" height="1" color-interpolation-filters="sRGB">
  <feTurbulence type="fractalNoise" baseFrequency="0.4" numOctaves="2" seed="3" result="n"/>
  <feColorMatrix in="n" type="matrix" values="1.3 0 0 0 -0.15  1.3 0 0 0 -0.15  1.3 0 0 0 -0.15  0 0 0 0 1" result="gn"/>
  <feComposite in="SourceGraphic" in2="gn" operator="arithmetic" k1="1.0" k2="0.5" k3="0" k4="0" result="c"/>
  <feGaussianBlur in="c" stdDeviation="0.4"/>
</filter>
<filter id="blur1" x="-10%" y="-10%" width="120%" height="120%"><feGaussianBlur stdDeviation="0.6"/></filter>
<filter id="blur2" x="-20%" y="-20%" width="140%" height="140%"><feGaussianBlur stdDeviation="1.2"/></filter>
<linearGradient id="gbar" x1="0" y1="0" x2="0" y2="1">
  <stop offset="0" stop-color="#ffffff"/><stop offset="0.55" stop-color="#8a8a8a"/><stop offset="1" stop-color="#000000"/>
</linearGradient>
<linearGradient id="ybar" x1="0" y1="0" x2="0" y2="1">
  <stop offset="0" stop-color="#f4ee00"/><stop offset="0.5" stop-color="#e0d800"/><stop offset="1" stop-color="#000000"/>
</linearGradient>
<linearGradient id="dbar" x1="0" y1="0" x2="0" y2="1">
  <stop offset="0" stop-color="#ffffff"/><stop offset="0.35" stop-color="#9a9a9a"/><stop offset="0.8" stop-color="#202020"/><stop offset="1" stop-color="#000000"/>
</linearGradient>
</defs>
<rect x="66.4" y="851.7" width="458.4" height="366.3" fill="#000"/>
<rect x="624" y="851.7" width="458.2" height="366.3" fill="#000"/>
<rect x="1182" y="851.7" width="458" height="366.3" fill="#000"/>
<g filter="url(#spk2)">
<rect x="146.7" y="858.8" width="60.2" height="67.1" fill="#505050"/>
<rect x="146.7" y="858.8" width="60.2" height="9.4" fill="#696969"/>
<g filter="url(#blur1)">
<path d="M148.5 869.5 Q173.8 865.5 205.7 873.6" stroke="#bebebe" stroke-width="1.6" fill="none" stroke-linecap="round"/>
<path d="M149.7 876.2 Q176.8 872.2 205.1 878.9" stroke="#828282" stroke-width="1.2" fill="none" stroke-linecap="round"/>
<ellipse cx="170.6" cy="889" rx="15.7" ry="13.4" fill="#2d2d2d"/>
<ellipse cx="187.6" cy="889" rx="8.4" ry="14.8" fill="#373737" opacity="0.8"/>
<path d="M151.5 897.7 Q159.9 916.5 182.8 912.5" stroke="#e6e6e6" stroke-width="2.4" fill="none" stroke-linecap="round"/>
<path d="M158.7 895.7 Q167.8 907.1 179.8 905.8" stroke="#969696" stroke-width="1.2" fill="none" stroke-linecap="round"/>
<rect x="179.8" y="914.5" width="27.1" height="7.4" fill="#919191"/>
<rect x="146.7" y="916.5" width="30.1" height="9.4" fill="#646464"/>
</g>
<line x1="175" y1="915.4" x2="180.8" y2="915.9" stroke="#959595" stroke-width="0.9" />
<line x1="158" y1="894.6" x2="164.8" y2="897.2" stroke="#7c7c7c" stroke-width="0.9" />
<line x1="163.4" y1="873.4" x2="171.3" y2="875.3" stroke="#7a7a7a" stroke-width="0.9" />
<line x1="194.1" y1="917.4" x2="201" y2="918.7" stroke="#7f7f7f" stroke-width="0.9" />
<line x1="150.4" y1="895.5" x2="153.7" y2="893.8" stroke="#848484" stroke-width="0.9" />
</g>
<line x1="176.8" y1="859.8" x2="176.8" y2="924.9" stroke="#7d7a22" stroke-width="0.8" stroke-dasharray="1.5 0.8"/>
<line x1="209.4" y1="859.3" x2="209.4" y2="925.9" stroke="#8c8c8c" stroke-width="0.8" stroke-dasharray="0.8 2.2"/>
<text x="212.4" y="860.6" font-size="3.6" fill="#d0d0d0" font-weight="bold" font-family="'Liberation Sans', Arial, sans-serif">0 mm</text>
<text x="212.4" y="877.2" font-size="3.6" fill="#d0d0d0" font-weight="bold" font-family="'Liberation Sans', Arial, sans-serif">5</text>
<text x="212.4" y="893.9" font-size="3.6" fill="#d0d0d0" font-weight="bold" font-family="'Liberation Sans', Arial, sans-serif">10</text>
<text x="212.4" y="910.5" font-size="3.6" fill="#d0d0d0" font-weight="bold" font-family="'Liberation Sans', Arial, sans-serif">15</text>
<text x="212.4" y="927.2" font-size="3.6" fill="#d0d0d0" font-weight="bold" font-family="'Liberation Sans', Arial, sans-serif">20</text>
<rect x="210.2" y="893.5" width="1.8" height="1.8" fill="#ffee00"/>
<path d="M216.4 861.3 Q217.4 892.6 219.4 924.9" stroke="#9a9a9a" stroke-width="0.7" fill="none"/>
<g filter="url(#spk)">
<rect x="75.1" y="933.3" width="203.7" height="86" fill="#525252"/>
<rect x="75.1" y="933.3" width="203.7" height="5" fill="#6e6e6e"/>
<line x1="75.1" y1="939.3" x2="278.8" y2="939.3" stroke="#b4b4b4" stroke-width="1.6"/>
<line x1="75.1" y1="941.4" x2="278.8" y2="941.4" stroke="#868686" stroke-width="0.7"/>
<line x1="75.1" y1="944.7" x2="278.8" y2="944.7" stroke="#717171" stroke-width="0.7"/>
<line x1="75.1" y1="947" x2="278.8" y2="947" stroke="#787878" stroke-width="0.7"/>
<line x1="75.1" y1="949.8" x2="278.8" y2="949.8" stroke="#848484" stroke-width="0.7"/>
<polyline points="75.1,950.9 76.1,951.1 77.1,951.4 78.1,951.7 79.1,952 80.1,952.4 81.1,952.8 82.1,953.3 83.1,953.8 84.1,954.4 85.1,955 86.1,955.7 87.1,956.4 88.1,957.4 89.1,957.3 90.2,956.4 91.2,955.6 92.2,954.9 93.2,954.3 94.2,953.8 95.2,953.3 96.2,952.8 97.2,952.4 98.2,952 99.2,951.7 100.2,951.4 101.2,951.1 102.2,950.9 103.2,950.7 104.2,950.6 105.2,950.5 106.2,950.5 107.2,950.5 108.2,950.6 109.2,950.6 110.2,950.8 111.2,951 112.2,951.2 113.2,951.4 114.2,951.7 115.2,952.1 116.2,952.5 117.2,952.9 118.2,953.4 119.3,953.9 120.3,954.5 121.3,955.1 122.3,955.8 123.3,956.5 124.3,957.5 125.3,957.1 126.3,956.3 127.3,955.5 128.3,954.9 129.3,954.3 130.3,953.7 131.3,953.2 132.3,952.8 133.3,952.3 134.3,952 135.3,951.6 136.3,951.3 137.3,951.1 138.3,950.9 139.3,950.7 140.3,950.6 141.3,950.5 142.3,950.5 143.3,950.5 144.3,950.6 145.3,950.7 146.3,950.8 147.3,951 148.4,951.2 149.4,951.5 150.4,951.8 151.4,952.1 152.4,952.5 153.4,953 154.4,953.4 155.4,954 156.4,954.5 157.4,955.2 158.4,955.8 159.4,956.6 160.4,957.7 161.4,957 162.4,956.2 163.4,955.4 164.4,954.8 165.4,954.2 166.4,953.6 167.4,953.2 168.4,952.7 169.4,952.3 170.4,951.9 171.4,951.6 172.4,951.3 173.4,951.1 174.4,950.9 175.4,950.7 176.4,950.6 177.5,950.5 178.5,950.5 179.5,950.5 180.5,950.6 181.5,950.7 182.5,950.8 183.5,951 184.5,951.2 185.5,951.5 186.5,951.8 187.5,952.2 188.5,952.6 189.5,953 190.5,953.5 191.5,954 192.5,954.6 193.5,955.2 194.5,955.9 195.5,956.8 196.5,957.9 197.5,956.9 198.5,956.1 199.5,955.3 200.5,954.7 201.5,954.1 202.5,953.6 203.5,953.1 204.5,952.6 205.5,952.2 206.6,951.9 207.6,951.6 208.6,951.3 209.6,951 210.6,950.8 211.6,950.7 212.6,950.6 213.6,950.5 214.6,950.5 215.6,950.5 216.6,950.6 217.6,950.7 218.6,950.8 219.6,951 220.6,951.3 221.6,951.5 222.6,951.9 223.6,952.2 224.6,952.6 225.6,953.1 226.6,953.6 227.6,954.1 228.6,954.7 229.6,955.3 230.6,956 231.6,956.9 232.6,957.9 233.6,956.8 234.6,956 235.7,955.3 236.7,954.6 237.7,954.1 238.7,953.5 239.7,953 240.7,952.6 241.7,952.2 242.7,951.8 243.7,951.5 244.7,951.2 245.7,951 246.7,950.8 247.7,950.7 248.7,950.6 249.7,950.5 250.7,950.5 251.7,950.5 252.7,950.6 253.7,950.7 254.7,950.9 255.7,951.1 256.7,951.3 257.7,951.6 258.7,951.9 259.7,952.3 260.7,952.7 261.7,953.1 262.7,953.6 263.7,954.2 264.8,954.8 265.8,955.4 266.8,956.1 267.8,957 268.8,957.7 269.8,956.7 270.8,955.9 271.8,955.2 272.8,954.6 273.8,954 274.8,953.5 275.8,953 276.8,952.5 277.8,952.1 278.8,951.8" fill="none" stroke="#767676" stroke-width="0.8"/>
<polyline points="75.1,948.5 76.1,948.7 77.1,949 78.1,949.3 79.1,949.7 80.1,950.1 81.1,950.6 82.1,951.1 83.1,951.7 84.1,952.3 85.1,952.9 86.1,953.7 87.1,954.5 88.1,955.6 89.1,955.4 90.2,954.4 91.2,953.6 92.2,952.9 93.2,952.2 94.2,951.6 95.2,951 96.2,950.5 97.2,950.1 98.2,949.7 99.2,949.3 100.2,949 101.2,948.7 102.2,948.5 103.2,948.3 104.2,948.1 105.2,948 106.2,948 107.2,948 108.2,948.1 109.2,948.2 110.2,948.3 111.2,948.5 112.2,948.7 113.2,949 114.2,949.4 115.2,949.7 116.2,950.2 117.2,950.6 118.2,951.2 119.3,951.7 120.3,952.4 121.3,953 122.3,953.8 123.3,954.6 124.3,955.7 125.3,955.3 126.3,954.3 127.3,953.5 128.3,952.8 129.3,952.1 130.3,951.5 131.3,951 132.3,950.5 133.3,950 134.3,949.6 135.3,949.2 136.3,948.9 137.3,948.7 138.3,948.4 139.3,948.2 140.3,948.1 141.3,948 142.3,948 143.3,948 144.3,948.1 145.3,948.2 146.3,948.3 147.3,948.5 148.4,948.8 149.4,949.1 150.4,949.4 151.4,949.8 152.4,950.2 153.4,950.7 154.4,951.2 155.4,951.8 156.4,952.4 157.4,953.1 158.4,953.9 159.4,954.8 160.4,955.9 161.4,955.2 162.4,954.2 163.4,953.4 164.4,952.7 165.4,952.1 166.4,951.5 167.4,950.9 168.4,950.4 169.4,950 170.4,949.6 171.4,949.2 172.4,948.9 173.4,948.6 174.4,948.4 175.4,948.2 176.4,948.1 177.5,948 178.5,948 179.5,948 180.5,948.1 181.5,948.2 182.5,948.3 183.5,948.6 184.5,948.8 185.5,949.1 186.5,949.5 187.5,949.8 188.5,950.3 189.5,950.8 190.5,951.3 191.5,951.9 192.5,952.5 193.5,953.2 194.5,954 195.5,954.9 196.5,956.1 197.5,955 198.5,954.1 199.5,953.3 200.5,952.6 201.5,952 202.5,951.4 203.5,950.9 204.5,950.4 205.5,949.9 206.6,949.5 207.6,949.2 208.6,948.9 209.6,948.6 210.6,948.4 211.6,948.2 212.6,948.1 213.6,948 214.6,948 215.6,948 216.6,948.1 217.6,948.2 218.6,948.4 219.6,948.6 220.6,948.8 221.6,949.1 222.6,949.5 223.6,949.9 224.6,950.3 225.6,950.8 226.6,951.4 227.6,952 228.6,952.6 229.6,953.3 230.6,954.1 231.6,955 232.6,956.2 233.6,954.9 234.6,954 235.7,953.2 236.7,952.5 237.7,951.9 238.7,951.3 239.7,950.8 240.7,950.3 241.7,949.9 242.7,949.5 243.7,949.1 244.7,948.8 245.7,948.6 246.7,948.4 247.7,948.2 248.7,948.1 249.7,948 250.7,948 251.7,948 252.7,948.1 253.7,948.2 254.7,948.4 255.7,948.6 256.7,948.9 257.7,949.2 258.7,949.5 259.7,949.9 260.7,950.4 261.7,950.9 262.7,951.4 263.7,952 264.8,952.7 265.8,953.4 266.8,954.2 267.8,955.1 268.8,955.9 269.8,954.8 270.8,953.9 271.8,953.2 272.8,952.5 273.8,951.8 274.8,951.3 275.8,950.7 276.8,950.2 277.8,949.8 278.8,949.4" fill="none" stroke="#767676" stroke-width="0.8"/>
<polyline points="75.1,945.5 76.1,945.8 77.1,946.1 78.1,946.5 79.1,946.9 80.1,947.3 81.1,947.9 82.1,948.4 83.1,949.1 84.1,949.7 85.1,950.5 86.1,951.3 87.1,952.2 88.1,953.4 89.1,953.2 90.2,952.1 91.2,951.2 92.2,950.4 93.2,949.7 94.2,949 95.2,948.4 96.2,947.8 97.2,947.3 98.2,946.8 99.2,946.4 100.2,946.1 101.2,945.8 102.2,945.5 103.2,945.3 104.2,945.1 105.2,945 106.2,945 107.2,945 108.2,945.1 109.2,945.2 110.2,945.3 111.2,945.6 112.2,945.8 113.2,946.1 114.2,946.5 115.2,946.9 116.2,947.4 117.2,947.9 118.2,948.5 119.3,949.1 120.3,949.8 121.3,950.6 122.3,951.4 123.3,952.4 124.3,953.5 125.3,953.1 126.3,952 127.3,951.1 128.3,950.3 129.3,949.6 130.3,948.9 131.3,948.3 132.3,947.7 133.3,947.2 134.3,946.8 135.3,946.4 136.3,946 137.3,945.7 138.3,945.5 139.3,945.3 140.3,945.1 141.3,945 142.3,945 143.3,945 144.3,945.1 145.3,945.2 146.3,945.4 147.3,945.6 148.4,945.9 149.4,946.2 150.4,946.6 151.4,947 152.4,947.5 153.4,948 154.4,948.6 155.4,949.2 156.4,949.9 157.4,950.7 158.4,951.5 159.4,952.5 160.4,953.7 161.4,952.9 162.4,951.9 163.4,951 164.4,950.2 165.4,949.5 166.4,948.8 167.4,948.2 168.4,947.7 169.4,947.2 170.4,946.7 171.4,946.3 172.4,946 173.4,945.7 174.4,945.4 175.4,945.3 176.4,945.1 177.5,945 178.5,945 179.5,945 180.5,945.1 181.5,945.2 182.5,945.4 183.5,945.6 184.5,945.9 185.5,946.2 186.5,946.6 187.5,947 188.5,947.5 189.5,948.1 190.5,948.7 191.5,949.3 192.5,950 193.5,950.8 194.5,951.6 195.5,952.6 196.5,954 197.5,952.8 198.5,951.8 199.5,950.9 200.5,950.1 201.5,949.4 202.5,948.8 203.5,948.2 204.5,947.6 205.5,947.1 206.6,946.7 207.6,946.3 208.6,945.9 209.6,945.7 210.6,945.4 211.6,945.2 212.6,945.1 213.6,945 214.6,945 215.6,945 216.6,945.1 217.6,945.2 218.6,945.4 219.6,945.6 220.6,945.9 221.6,946.3 222.6,946.7 223.6,947.1 224.6,947.6 225.6,948.1 226.6,948.7 227.6,949.4 228.6,950.1 229.6,950.9 230.6,951.7 231.6,952.8 232.6,954.1 233.6,952.7 234.6,951.7 235.7,950.8 236.7,950 237.7,949.3 238.7,948.7 239.7,948.1 240.7,947.6 241.7,947.1 242.7,946.6 243.7,946.2 244.7,945.9 245.7,945.6 246.7,945.4 247.7,945.2 248.7,945.1 249.7,945 250.7,945 251.7,945 252.7,945.1 253.7,945.2 254.7,945.4 255.7,945.7 256.7,946 257.7,946.3 258.7,946.7 259.7,947.2 260.7,947.7 261.7,948.2 262.7,948.8 263.7,949.5 264.8,950.2 265.8,951 266.8,951.9 267.8,952.9 268.8,953.8 269.8,952.5 270.8,951.6 271.8,950.7 272.8,949.9 273.8,949.2 274.8,948.6 275.8,948 276.8,947.5 277.8,947 278.8,946.6" fill="none" stroke="#767676" stroke-width="0.8"/>
<polygon points="75.1,953.4 76.1,953.6 77.1,953.8 78.1,954.1 79.1,954.4 80.1,954.7 81.1,955.1 82.1,955.5 83.1,956 84.1,956.5 85.1,957 86.1,957.7 87.1,958.3 88.1,959.2 89.1,959.1 90.2,958.3 91.2,957.6 92.2,957 93.2,956.5 94.2,956 95.2,955.5 96.2,955.1 97.2,954.7 98.2,954.4 99.2,954.1 100.2,953.8 101.2,953.6 102.2,953.4 103.2,953.2 104.2,953.1 105.2,953 106.2,953 107.2,953 108.2,953 109.2,953.1 110.2,953.2 111.2,953.4 112.2,953.6 113.2,953.8 114.2,954.1 115.2,954.4 116.2,954.8 117.2,955.2 118.2,955.6 119.3,956.1 120.3,956.6 121.3,957.1 122.3,957.7 123.3,958.4 124.3,959.3 125.3,959 126.3,958.2 127.3,957.5 128.3,956.9 129.3,956.4 130.3,955.9 131.3,955.4 132.3,955 133.3,954.7 134.3,954.3 135.3,954 136.3,953.8 137.3,953.5 138.3,953.3 139.3,953.2 140.3,953.1 141.3,953 142.3,953 143.3,953 144.3,953.1 145.3,953.1 146.3,953.3 147.3,953.4 148.4,953.6 149.4,953.9 150.4,954.2 151.4,954.5 152.4,954.8 153.4,955.2 154.4,955.6 155.4,956.1 156.4,956.6 157.4,957.2 158.4,957.8 159.4,958.5 160.4,959.5 161.4,958.9 162.4,958.1 163.4,957.4 164.4,956.9 165.4,956.3 166.4,955.8 167.4,955.4 168.4,955 169.4,954.6 170.4,954.3 171.4,954 172.4,953.7 173.4,953.5 174.4,953.3 175.4,953.2 176.4,953.1 177.5,953 178.5,953 179.5,953 180.5,953.1 181.5,953.2 182.5,953.3 183.5,953.5 184.5,953.7 185.5,953.9 186.5,954.2 187.5,954.5 188.5,954.9 189.5,955.3 190.5,955.7 191.5,956.2 192.5,956.7 193.5,957.3 194.5,957.9 195.5,958.6 196.5,959.6 197.5,958.8 198.5,958 199.5,957.4 200.5,956.8 201.5,956.3 202.5,955.8 203.5,955.3 204.5,954.9 205.5,954.6 206.6,954.2 207.6,954 208.6,953.7 209.6,953.5 210.6,953.3 211.6,953.2 212.6,953.1 213.6,953 214.6,953 215.6,953 216.6,953.1 217.6,953.2 218.6,953.3 219.6,953.5 220.6,953.7 221.6,953.9 222.6,954.2 223.6,954.6 224.6,954.9 225.6,955.3 226.6,955.8 227.6,956.2 228.6,956.8 229.6,957.3 230.6,958 231.6,958.7 232.6,959.7 233.6,958.7 234.6,957.9 235.7,957.3 236.7,956.7 237.7,956.2 238.7,955.7 239.7,955.3 240.7,954.9 241.7,954.5 242.7,954.2 243.7,953.9 244.7,953.7 245.7,953.5 246.7,953.3 247.7,953.2 248.7,953.1 249.7,953 250.7,953 251.7,953 252.7,953.1 253.7,953.2 254.7,953.3 255.7,953.5 256.7,953.7 257.7,954 258.7,954.3 259.7,954.6 260.7,955 261.7,955.4 262.7,955.8 263.7,956.3 264.8,956.8 265.8,957.4 266.8,958.1 267.8,958.8 268.8,959.5 269.8,958.6 270.8,957.8 271.8,957.2 272.8,956.7 273.8,956.1 274.8,955.7 275.8,955.2 276.8,954.8 277.8,954.5 278.8,954.2 278.8,988.7 277.8,988.1 276.8,987.5 275.8,986.8 274.8,986.1 273.8,985.3 272.8,984.5 271.8,983.6 270.8,982.7 269.8,981.7 268.8,980.6 267.8,981.3 266.8,982.4 265.8,983.3 264.8,984.2 263.7,985.1 262.7,985.9 261.7,986.6 260.7,987.3 259.7,987.9 258.7,988.5 257.7,989 256.7,989.5 255.7,989.9 254.7,990.2 253.7,990.5 252.7,990.7 251.7,990.8 250.7,990.8 249.7,990.8 248.7,990.7 247.7,990.5 246.7,990.3 245.7,990 244.7,989.6 243.7,989.1 242.7,988.6 241.7,988.1 240.7,987.4 239.7,986.8 238.7,986 237.7,985.2 236.7,984.4 235.7,983.5 234.6,982.6 233.6,981.6 232.6,980.4 231.6,981.5 230.6,982.5 229.6,983.4 228.6,984.3 227.6,985.2 226.6,985.9 225.6,986.7 224.6,987.4 223.6,988 222.6,988.6 221.6,989.1 220.6,989.6 219.6,989.9 218.6,990.3 217.6,990.5 216.6,990.7 215.6,990.8 214.6,990.8 213.6,990.8 212.6,990.7 211.6,990.5 210.6,990.3 209.6,989.9 208.6,989.5 207.6,989.1 206.6,988.6 205.5,988 204.5,987.4 203.5,986.7 202.5,985.9 201.5,985.1 200.5,984.3 199.5,983.4 198.5,982.4 197.5,981.4 196.5,980.5 195.5,981.6 194.5,982.6 193.5,983.5 192.5,984.4 191.5,985.3 190.5,986 189.5,986.8 188.5,987.5 187.5,988.1 186.5,988.7 185.5,989.2 184.5,989.6 183.5,990 182.5,990.3 181.5,990.5 180.5,990.7 179.5,990.8 178.5,990.8 177.5,990.8 176.4,990.7 175.4,990.5 174.4,990.2 173.4,989.9 172.4,989.5 171.4,989 170.4,988.5 169.4,987.9 168.4,987.3 167.4,986.6 166.4,985.8 165.4,985 164.4,984.2 163.4,983.3 162.4,982.3 161.4,981.3 160.4,980.6 159.4,981.7 158.4,982.7 157.4,983.6 156.4,984.5 155.4,985.4 154.4,986.1 153.4,986.9 152.4,987.5 151.4,988.2 150.4,988.7 149.4,989.2 148.4,989.7 147.3,990 146.3,990.3 145.3,990.6 144.3,990.7 143.3,990.8 142.3,990.8 141.3,990.8 140.3,990.6 139.3,990.4 138.3,990.2 137.3,989.8 136.3,989.4 135.3,989 134.3,988.4 133.3,987.8 132.3,987.2 131.3,986.5 130.3,985.7 129.3,984.9 128.3,984.1 127.3,983.2 126.3,982.2 125.3,981.2 124.3,980.8 123.3,981.9 122.3,982.8 121.3,983.8 120.3,984.6 119.3,985.5 118.2,986.2 117.2,987 116.2,987.6 115.2,988.2 114.2,988.8 113.2,989.3 112.2,989.7 111.2,990.1 110.2,990.4 109.2,990.6 108.2,990.7 107.2,990.8 106.2,990.8 105.2,990.8 104.2,990.6 103.2,990.4 102.2,990.1 101.2,989.8 100.2,989.4 99.2,988.9 98.2,988.4 97.2,987.8 96.2,987.1 95.2,986.4 94.2,985.6 93.2,984.8 92.2,984 91.2,983 90.2,982.1 89.1,981 88.1,980.9 87.1,982 86.1,983 85.1,983.9 84.1,984.7 83.1,985.6 82.1,986.3 81.1,987 80.1,987.7 79.1,988.3 78.1,988.9 77.1,989.3 76.1,989.8 75.1,990.1" fill="#323232"/>
<polyline points="75.1,953.4 76.1,953.6 77.1,953.8 78.1,954.1 79.1,954.4 80.1,954.7 81.1,955.1 82.1,955.5 83.1,956 84.1,956.5 85.1,957 86.1,957.7 87.1,958.3 88.1,959.2 89.1,959.1 90.2,958.3 91.2,957.6 92.2,957 93.2,956.5 94.2,956 95.2,955.5 96.2,955.1 97.2,954.7 98.2,954.4 99.2,954.1 100.2,953.8 101.2,953.6 102.2,953.4 103.2,953.2 104.2,953.1 105.2,953 106.2,953 107.2,953 108.2,953 109.2,953.1 110.2,953.2 111.2,953.4 112.2,953.6 113.2,953.8 114.2,954.1 115.2,954.4 116.2,954.8 117.2,955.2 118.2,955.6 119.3,956.1 120.3,956.6 121.3,957.1 122.3,957.7 123.3,958.4 124.3,959.3 125.3,959 126.3,958.2 127.3,957.5 128.3,956.9 129.3,956.4 130.3,955.9 131.3,955.4 132.3,955 133.3,954.7 134.3,954.3 135.3,954 136.3,953.8 137.3,953.5 138.3,953.3 139.3,953.2 140.3,953.1 141.3,953 142.3,953 143.3,953 144.3,953.1 145.3,953.1 146.3,953.3 147.3,953.4 148.4,953.6 149.4,953.9 150.4,954.2 151.4,954.5 152.4,954.8 153.4,955.2 154.4,955.6 155.4,956.1 156.4,956.6 157.4,957.2 158.4,957.8 159.4,958.5 160.4,959.5 161.4,958.9 162.4,958.1 163.4,957.4 164.4,956.9 165.4,956.3 166.4,955.8 167.4,955.4 168.4,955 169.4,954.6 170.4,954.3 171.4,954 172.4,953.7 173.4,953.5 174.4,953.3 175.4,953.2 176.4,953.1 177.5,953 178.5,953 179.5,953 180.5,953.1 181.5,953.2 182.5,953.3 183.5,953.5 184.5,953.7 185.5,953.9 186.5,954.2 187.5,954.5 188.5,954.9 189.5,955.3 190.5,955.7 191.5,956.2 192.5,956.7 193.5,957.3 194.5,957.9 195.5,958.6 196.5,959.6 197.5,958.8 198.5,958 199.5,957.4 200.5,956.8 201.5,956.3 202.5,955.8 203.5,955.3 204.5,954.9 205.5,954.6 206.6,954.2 207.6,954 208.6,953.7 209.6,953.5 210.6,953.3 211.6,953.2 212.6,953.1 213.6,953 214.6,953 215.6,953 216.6,953.1 217.6,953.2 218.6,953.3 219.6,953.5 220.6,953.7 221.6,953.9 222.6,954.2 223.6,954.6 224.6,954.9 225.6,955.3 226.6,955.8 227.6,956.2 228.6,956.8 229.6,957.3 230.6,958 231.6,958.7 232.6,959.7 233.6,958.7 234.6,957.9 235.7,957.3 236.7,956.7 237.7,956.2 238.7,955.7 239.7,955.3 240.7,954.9 241.7,954.5 242.7,954.2 243.7,953.9 244.7,953.7 245.7,953.5 246.7,953.3 247.7,953.2 248.7,953.1 249.7,953 250.7,953 251.7,953 252.7,953.1 253.7,953.2 254.7,953.3 255.7,953.5 256.7,953.7 257.7,954 258.7,954.3 259.7,954.6 260.7,955 261.7,955.4 262.7,955.8 263.7,956.3 264.8,956.8 265.8,957.4 266.8,958.1 267.8,958.8 268.8,959.5 269.8,958.6 270.8,957.8 271.8,957.2 272.8,956.7 273.8,956.1 274.8,955.7 275.8,955.2 276.8,954.8 277.8,954.5 278.8,954.2" fill="none" stroke="#a5a5a5" stroke-width="1.1"/>
<polyline points="75.1,990.1 76.1,989.8 77.1,989.3 78.1,988.9 79.1,988.3 80.1,987.7 81.1,987 82.1,986.3 83.1,985.6 84.1,984.7 85.1,983.9 86.1,983 87.1,982 88.1,980.9 89.1,981 90.2,982.1 91.2,983 92.2,984 93.2,984.8 94.2,985.6 95.2,986.4 96.2,987.1 97.2,987.8 98.2,988.4 99.2,988.9 100.2,989.4 101.2,989.8 102.2,990.1 103.2,990.4 104.2,990.6 105.2,990.8 106.2,990.8 107.2,990.8 108.2,990.7 109.2,990.6 110.2,990.4 111.2,990.1 112.2,989.7 113.2,989.3 114.2,988.8 115.2,988.2 116.2,987.6 117.2,987 118.2,986.2 119.3,985.5 120.3,984.6 121.3,983.8 122.3,982.8 123.3,981.9 124.3,980.8 125.3,981.2 126.3,982.2 127.3,983.2 128.3,984.1 129.3,984.9 130.3,985.7 131.3,986.5 132.3,987.2 133.3,987.8 134.3,988.4 135.3,989 136.3,989.4 137.3,989.8 138.3,990.2 139.3,990.4 140.3,990.6 141.3,990.8 142.3,990.8 143.3,990.8 144.3,990.7 145.3,990.6 146.3,990.3 147.3,990 148.4,989.7 149.4,989.2 150.4,988.7 151.4,988.2 152.4,987.5 153.4,986.9 154.4,986.1 155.4,985.4 156.4,984.5 157.4,983.6 158.4,982.7 159.4,981.7 160.4,980.6 161.4,981.3 162.4,982.3 163.4,983.3 164.4,984.2 165.4,985 166.4,985.8 167.4,986.6 168.4,987.3 169.4,987.9 170.4,988.5 171.4,989 172.4,989.5 173.4,989.9 174.4,990.2 175.4,990.5 176.4,990.7 177.5,990.8 178.5,990.8 179.5,990.8 180.5,990.7 181.5,990.5 182.5,990.3 183.5,990 184.5,989.6 185.5,989.2 186.5,988.7 187.5,988.1 188.5,987.5 189.5,986.8 190.5,986 191.5,985.3 192.5,984.4 193.5,983.5 194.5,982.6 195.5,981.6 196.5,980.5 197.5,981.4 198.5,982.4 199.5,983.4 200.5,984.3 201.5,985.1 202.5,985.9 203.5,986.7 204.5,987.4 205.5,988 206.6,988.6 207.6,989.1 208.6,989.5 209.6,989.9 210.6,990.3 211.6,990.5 212.6,990.7 213.6,990.8 214.6,990.8 215.6,990.8 216.6,990.7 217.6,990.5 218.6,990.3 219.6,989.9 220.6,989.6 221.6,989.1 222.6,988.6 223.6,988 224.6,987.4 225.6,986.7 226.6,985.9 227.6,985.2 228.6,984.3 229.6,983.4 230.6,982.5 231.6,981.5 232.6,980.4 233.6,981.6 234.6,982.6 235.7,983.5 236.7,984.4 237.7,985.2 238.7,986 239.7,986.8 240.7,987.4 241.7,988.1 242.7,988.6 243.7,989.1 244.7,989.6 245.7,990 246.7,990.3 247.7,990.5 248.7,990.7 249.7,990.8 250.7,990.8 251.7,990.8 252.7,990.7 253.7,990.5 254.7,990.2 255.7,989.9 256.7,989.5 257.7,989 258.7,988.5 259.7,987.9 260.7,987.3 261.7,986.6 262.7,985.9 263.7,985.1 264.8,984.2 265.8,983.3 266.8,982.4 267.8,981.3 268.8,980.6 269.8,981.7 270.8,982.7 271.8,983.6 272.8,984.5 273.8,985.3 274.8,986.1 275.8,986.8 276.8,987.5 277.8,988.1 278.8,988.7" fill="none" stroke="#afafaf" stroke-width="1.2"/>
<polyline points="75.1,992.1 76.1,991.8 77.1,991.4 78.1,991 79.1,990.6 80.1,990 81.1,989.4 82.1,988.8 83.1,988.2 84.1,987.4 85.1,986.7 86.1,985.9 87.1,985 88.1,984.1 89.1,984.2 90.2,985.1 91.2,986 92.2,986.8 93.2,987.5 94.2,988.2 95.2,988.9 96.2,989.5 97.2,990.1 98.2,990.6 99.2,991.1 100.2,991.5 101.2,991.8 102.2,992.1 103.2,992.4 104.2,992.6 105.2,992.7 106.2,992.7 107.2,992.7 108.2,992.7 109.2,992.5 110.2,992.3 111.2,992.1 112.2,991.8 113.2,991.4 114.2,991 115.2,990.5 116.2,990 117.2,989.4 118.2,988.7 119.3,988.1 120.3,987.4 121.3,986.6 122.3,985.8 123.3,984.9 124.3,984 125.3,984.3 126.3,985.2 127.3,986.1 128.3,986.9 129.3,987.6 130.3,988.3 131.3,989 132.3,989.6 133.3,990.1 134.3,990.7 135.3,991.1 136.3,991.5 137.3,991.9 138.3,992.2 139.3,992.4 140.3,992.6 141.3,992.7 142.3,992.7 143.3,992.7 144.3,992.6 145.3,992.5 146.3,992.3 147.3,992 148.4,991.7 149.4,991.3 150.4,990.9 151.4,990.4 152.4,989.9 153.4,989.3 154.4,988.7 155.4,988 156.4,987.3 157.4,986.5 158.4,985.7 159.4,984.8 160.4,983.8 161.4,984.4 162.4,985.3 163.4,986.2 164.4,987 165.4,987.7 166.4,988.4 167.4,989 168.4,989.7 169.4,990.2 170.4,990.7 171.4,991.2 172.4,991.6 173.4,991.9 174.4,992.2 175.4,992.4 176.4,992.6 177.5,992.7 178.5,992.7 179.5,992.7 180.5,992.6 181.5,992.5 182.5,992.3 183.5,992 184.5,991.7 185.5,991.3 186.5,990.9 187.5,990.4 188.5,989.8 189.5,989.2 190.5,988.6 191.5,987.9 192.5,987.2 193.5,986.4 194.5,985.6 195.5,984.7 196.5,983.7 197.5,984.6 198.5,985.4 199.5,986.3 200.5,987 201.5,987.8 202.5,988.5 203.5,989.1 204.5,989.7 205.5,990.3 206.6,990.8 207.6,991.2 208.6,991.6 209.6,992 210.6,992.2 211.6,992.5 212.6,992.6 213.6,992.7 214.6,992.7 215.6,992.7 216.6,992.6 217.6,992.5 218.6,992.2 219.6,992 220.6,991.6 221.6,991.2 222.6,990.8 223.6,990.3 224.6,989.7 225.6,989.1 226.6,988.5 227.6,987.8 228.6,987.1 229.6,986.3 230.6,985.5 231.6,984.6 232.6,983.7 233.6,984.7 234.6,985.5 235.7,986.4 236.7,987.1 237.7,987.9 238.7,988.6 239.7,989.2 240.7,989.8 241.7,990.3 242.7,990.8 243.7,991.3 244.7,991.7 245.7,992 246.7,992.3 247.7,992.5 248.7,992.6 249.7,992.7 250.7,992.7 251.7,992.7 252.7,992.6 253.7,992.4 254.7,992.2 255.7,991.9 256.7,991.6 257.7,991.2 258.7,990.7 259.7,990.2 260.7,989.7 261.7,989.1 262.7,988.4 263.7,987.7 264.8,987 265.8,986.2 266.8,985.4 267.8,984.5 268.8,983.8 269.8,984.8 270.8,985.7 271.8,986.5 272.8,987.2 273.8,988 274.8,988.6 275.8,989.3 276.8,989.9 277.8,990.4 278.8,990.9" fill="none" stroke="#969696" stroke-width="0.9"/>
<polyline points="75.1,994.1 76.1,993.9 77.1,993.5 78.1,993.2 79.1,992.8 80.1,992.3 81.1,991.9 82.1,991.3 83.1,990.8 84.1,990.2 85.1,989.5 86.1,988.8 87.1,988.1 88.1,987.3 89.1,987.4 90.2,988.2 91.2,988.9 92.2,989.6 93.2,990.2 94.2,990.8 95.2,991.4 96.2,991.9 97.2,992.4 98.2,992.8 99.2,993.2 100.2,993.6 101.2,993.9 102.2,994.1 103.2,994.3 104.2,994.5 105.2,994.6 106.2,994.6 107.2,994.6 108.2,994.6 109.2,994.5 110.2,994.3 111.2,994.1 112.2,993.8 113.2,993.5 114.2,993.1 115.2,992.7 116.2,992.3 117.2,991.8 118.2,991.3 119.3,990.7 120.3,990.1 121.3,989.4 122.3,988.7 123.3,988 124.3,987.2 125.3,987.5 126.3,988.3 127.3,989 128.3,989.7 129.3,990.3 130.3,990.9 131.3,991.4 132.3,992 133.3,992.4 134.3,992.9 135.3,993.3 136.3,993.6 137.3,993.9 138.3,994.2 139.3,994.4 140.3,994.5 141.3,994.6 142.3,994.6 143.3,994.6 144.3,994.6 145.3,994.4 146.3,994.3 147.3,994.1 148.4,993.8 149.4,993.5 150.4,993.1 151.4,992.7 152.4,992.2 153.4,991.7 154.4,991.2 155.4,990.6 156.4,990 157.4,989.3 158.4,988.7 159.4,987.9 160.4,987.1 161.4,987.6 162.4,988.4 163.4,989.1 164.4,989.7 165.4,990.4 166.4,991 167.4,991.5 168.4,992 169.4,992.5 170.4,992.9 171.4,993.3 172.4,993.7 173.4,993.9 174.4,994.2 175.4,994.4 176.4,994.5 177.5,994.6 178.5,994.6 179.5,994.6 180.5,994.6 181.5,994.4 182.5,994.3 183.5,994 184.5,993.7 185.5,993.4 186.5,993 187.5,992.6 188.5,992.2 189.5,991.7 190.5,991.1 191.5,990.5 192.5,989.9 193.5,989.3 194.5,988.6 195.5,987.8 196.5,986.9 197.5,987.7 198.5,988.4 199.5,989.2 200.5,989.8 201.5,990.4 202.5,991 203.5,991.6 204.5,992.1 205.5,992.6 206.6,993 207.6,993.4 208.6,993.7 209.6,994 210.6,994.2 211.6,994.4 212.6,994.5 213.6,994.6 214.6,994.6 215.6,994.6 216.6,994.5 217.6,994.4 218.6,994.2 219.6,994 220.6,993.7 221.6,993.4 222.6,993 223.6,992.6 224.6,992.1 225.6,991.6 226.6,991.1 227.6,990.5 228.6,989.8 229.6,989.2 230.6,988.5 231.6,987.7 232.6,986.9 233.6,987.8 234.6,988.5 235.7,989.2 236.7,989.9 237.7,990.5 238.7,991.1 239.7,991.6 240.7,992.2 241.7,992.6 242.7,993 243.7,993.4 244.7,993.7 245.7,994 246.7,994.2 247.7,994.4 248.7,994.5 249.7,994.6 250.7,994.6 251.7,994.6 252.7,994.5 253.7,994.4 254.7,994.2 255.7,994 256.7,993.7 257.7,993.3 258.7,992.9 259.7,992.5 260.7,992 261.7,991.5 262.7,991 263.7,990.4 264.8,989.8 265.8,989.1 266.8,988.4 267.8,987.6 268.8,987 269.8,987.9 270.8,988.6 271.8,989.3 272.8,990 273.8,990.6 274.8,991.2 275.8,991.7 276.8,992.2 277.8,992.7 278.8,993.1" fill="none" stroke="#919191" stroke-width="0.9"/>
<polyline points="75.1,996.1 76.1,995.9 77.1,995.7 78.1,995.4 79.1,995 80.1,994.7 81.1,994.3 82.1,993.8 83.1,993.4 84.1,992.9 85.1,992.3 86.1,991.8 87.1,991.2 88.1,990.5 89.1,990.6 90.2,991.2 91.2,991.8 92.2,992.4 93.2,992.9 94.2,993.4 95.2,993.9 96.2,994.3 97.2,994.7 98.2,995.1 99.2,995.4 100.2,995.7 101.2,995.9 102.2,996.1 103.2,996.3 104.2,996.4 105.2,996.5 106.2,996.5 107.2,996.5 108.2,996.5 109.2,996.4 110.2,996.3 111.2,996.1 112.2,995.9 113.2,995.6 114.2,995.3 115.2,995 116.2,994.6 117.2,994.2 118.2,993.8 119.3,993.3 120.3,992.8 121.3,992.3 122.3,991.7 123.3,991.1 124.3,990.4 125.3,990.6 126.3,991.3 127.3,991.9 128.3,992.5 129.3,993 130.3,993.5 131.3,993.9 132.3,994.4 133.3,994.8 134.3,995.1 135.3,995.4 136.3,995.7 137.3,996 138.3,996.2 139.3,996.3 140.3,996.4 141.3,996.5 142.3,996.5 143.3,996.5 144.3,996.5 145.3,996.4 146.3,996.2 147.3,996.1 148.4,995.8 149.4,995.6 150.4,995.3 151.4,994.9 152.4,994.6 153.4,994.2 154.4,993.7 155.4,993.2 156.4,992.7 157.4,992.2 158.4,991.6 159.4,991 160.4,990.3 161.4,990.7 162.4,991.4 163.4,992 164.4,992.5 165.4,993 166.4,993.5 167.4,994 168.4,994.4 169.4,994.8 170.4,995.1 171.4,995.5 172.4,995.7 173.4,996 174.4,996.2 175.4,996.3 176.4,996.4 177.5,996.5 178.5,996.5 179.5,996.5 180.5,996.5 181.5,996.4 182.5,996.2 183.5,996 184.5,995.8 185.5,995.5 186.5,995.2 187.5,994.9 188.5,994.5 189.5,994.1 190.5,993.7 191.5,993.2 192.5,992.7 193.5,992.1 194.5,991.6 195.5,990.9 196.5,990.2 197.5,990.8 198.5,991.5 199.5,992 200.5,992.6 201.5,993.1 202.5,993.6 203.5,994 204.5,994.5 205.5,994.8 206.6,995.2 207.6,995.5 208.6,995.8 209.6,996 210.6,996.2 211.6,996.3 212.6,996.5 213.6,996.5 214.6,996.5 215.6,996.5 216.6,996.5 217.6,996.4 218.6,996.2 219.6,996 220.6,995.8 221.6,995.5 222.6,995.2 223.6,994.9 224.6,994.5 225.6,994.1 226.6,993.6 227.6,993.1 228.6,992.6 229.6,992.1 230.6,991.5 231.6,990.8 232.6,990.1 233.6,990.9 234.6,991.5 235.7,992.1 236.7,992.7 237.7,993.2 238.7,993.6 239.7,994.1 240.7,994.5 241.7,994.9 242.7,995.2 243.7,995.5 244.7,995.8 245.7,996 246.7,996.2 247.7,996.4 248.7,996.5 249.7,996.5 250.7,996.5 251.7,996.5 252.7,996.5 253.7,996.3 254.7,996.2 255.7,996 256.7,995.8 257.7,995.5 258.7,995.2 259.7,994.8 260.7,994.4 261.7,994 262.7,993.5 263.7,993.1 264.8,992.5 265.8,992 266.8,991.4 267.8,990.8 268.8,990.3 269.8,991 270.8,991.6 271.8,992.2 272.8,992.7 273.8,993.2 274.8,993.7 275.8,994.1 276.8,994.6 277.8,994.9 278.8,995.3" fill="none" stroke="#8c8c8c" stroke-width="0.9"/>
<polyline points="75.1,998.1 76.1,998 77.1,997.8 78.1,997.5 79.1,997.3 80.1,997 81.1,996.7 82.1,996.3 83.1,996 84.1,995.6 85.1,995.2 86.1,994.7 87.1,994.2 88.1,993.7 89.1,993.7 90.2,994.3 91.2,994.8 92.2,995.2 93.2,995.6 94.2,996 95.2,996.4 96.2,996.7 97.2,997 98.2,997.3 99.2,997.6 100.2,997.8 101.2,998 102.2,998.1 103.2,998.3 104.2,998.4 105.2,998.4 106.2,998.4 107.2,998.4 108.2,998.4 109.2,998.3 110.2,998.2 111.2,998.1 112.2,997.9 113.2,997.7 114.2,997.5 115.2,997.2 116.2,997 117.2,996.6 118.2,996.3 119.3,995.9 120.3,995.5 121.3,995.1 122.3,994.7 123.3,994.2 124.3,993.6 125.3,993.8 126.3,994.3 127.3,994.8 128.3,995.3 129.3,995.7 130.3,996.1 131.3,996.4 132.3,996.7 133.3,997.1 134.3,997.3 135.3,997.6 136.3,997.8 137.3,998 138.3,998.1 139.3,998.3 140.3,998.4 141.3,998.4 142.3,998.4 143.3,998.4 144.3,998.4 145.3,998.3 146.3,998.2 147.3,998.1 148.4,997.9 149.4,997.7 150.4,997.5 151.4,997.2 152.4,996.9 153.4,996.6 154.4,996.2 155.4,995.9 156.4,995.5 157.4,995.1 158.4,994.6 159.4,994.1 160.4,993.5 161.4,993.9 162.4,994.4 163.4,994.9 164.4,995.3 165.4,995.7 166.4,996.1 167.4,996.5 168.4,996.8 169.4,997.1 170.4,997.4 171.4,997.6 172.4,997.8 173.4,998 174.4,998.2 175.4,998.3 176.4,998.4 177.5,998.4 178.5,998.4 179.5,998.4 180.5,998.4 181.5,998.3 182.5,998.2 183.5,998.1 184.5,997.9 185.5,997.7 186.5,997.4 187.5,997.2 188.5,996.9 189.5,996.6 190.5,996.2 191.5,995.8 192.5,995.4 193.5,995 194.5,994.5 195.5,994 196.5,993.4 197.5,993.9 198.5,994.5 199.5,994.9 200.5,995.4 201.5,995.8 202.5,996.1 203.5,996.5 204.5,996.8 205.5,997.1 206.6,997.4 207.6,997.6 208.6,997.9 209.6,998 210.6,998.2 211.6,998.3 212.6,998.4 213.6,998.4 214.6,998.5 215.6,998.4 216.6,998.4 217.6,998.3 218.6,998.2 219.6,998 220.6,997.9 221.6,997.6 222.6,997.4 223.6,997.1 224.6,996.8 225.6,996.5 226.6,996.2 227.6,995.8 228.6,995.4 229.6,994.9 230.6,994.5 231.6,994 232.6,993.4 233.6,994 234.6,994.5 235.7,995 236.7,995.4 237.7,995.8 238.7,996.2 239.7,996.5 240.7,996.9 241.7,997.2 242.7,997.4 243.7,997.7 244.7,997.9 245.7,998.1 246.7,998.2 247.7,998.3 248.7,998.4 249.7,998.4 250.7,998.4 251.7,998.4 252.7,998.4 253.7,998.3 254.7,998.2 255.7,998 256.7,997.8 257.7,997.6 258.7,997.4 259.7,997.1 260.7,996.8 261.7,996.5 262.7,996.1 263.7,995.7 264.8,995.3 265.8,994.9 266.8,994.4 267.8,993.9 268.8,993.5 269.8,994.1 270.8,994.6 271.8,995 272.8,995.5 273.8,995.9 274.8,996.2 275.8,996.6 276.8,996.9 277.8,997.2 278.8,997.5" fill="none" stroke="#878787" stroke-width="0.9"/>
<polygon points="75.1,1001.2 76.1,1001.1 77.1,1001 78.1,1000.9 79.1,1000.8 80.1,1000.6 81.1,1000.4 82.1,1000.2 83.1,1000 84.1,999.8 85.1,999.6 86.1,999.3 87.1,999 88.1,998.6 89.1,998.7 90.2,999 91.2,999.3 92.2,999.6 93.2,999.8 94.2,1000 95.2,1000.3 96.2,1000.4 97.2,1000.6 98.2,1000.8 99.2,1000.9 100.2,1001 101.2,1001.1 102.2,1001.2 103.2,1001.3 104.2,1001.4 105.2,1001.4 106.2,1001.4 107.2,1001.4 108.2,1001.4 109.2,1001.3 110.2,1001.3 111.2,1001.2 112.2,1001.1 113.2,1001 114.2,1000.9 115.2,1000.7 116.2,1000.6 117.2,1000.4 118.2,1000.2 119.3,1000 120.3,999.8 121.3,999.5 122.3,999.2 123.3,998.9 124.3,998.6 125.3,998.7 126.3,999.1 127.3,999.3 128.3,999.6 129.3,999.8 130.3,1000.1 131.3,1000.3 132.3,1000.5 133.3,1000.6 134.3,1000.8 135.3,1000.9 136.3,1001.1 137.3,1001.2 138.3,1001.2 139.3,1001.3 140.3,1001.4 141.3,1001.4 142.3,1001.4 143.3,1001.4 144.3,1001.4 145.3,1001.3 146.3,1001.3 147.3,1001.2 148.4,1001.1 149.4,1001 150.4,1000.9 151.4,1000.7 152.4,1000.6 153.4,1000.4 154.4,1000.2 155.4,1000 156.4,999.7 157.4,999.5 158.4,999.2 159.4,998.9 160.4,998.5 161.4,998.8 162.4,999.1 163.4,999.4 164.4,999.6 165.4,999.9 166.4,1000.1 167.4,1000.3 168.4,1000.5 169.4,1000.7 170.4,1000.8 171.4,1000.9 172.4,1001.1 173.4,1001.2 174.4,1001.3 175.4,1001.3 176.4,1001.4 177.5,1001.4 178.5,1001.4 179.5,1001.4 180.5,1001.4 181.5,1001.3 182.5,1001.3 183.5,1001.2 184.5,1001.1 185.5,1001 186.5,1000.9 187.5,1000.7 188.5,1000.5 189.5,1000.4 190.5,1000.2 191.5,999.9 192.5,999.7 193.5,999.5 194.5,999.2 195.5,998.9 196.5,998.5 197.5,998.8 198.5,999.1 199.5,999.4 200.5,999.7 201.5,999.9 202.5,1000.1 203.5,1000.3 204.5,1000.5 205.5,1000.7 206.6,1000.8 207.6,1001 208.6,1001.1 209.6,1001.2 210.6,1001.3 211.6,1001.3 212.6,1001.4 213.6,1001.4 214.6,1001.4 215.6,1001.4 216.6,1001.4 217.6,1001.3 218.6,1001.3 219.6,1001.2 220.6,1001.1 221.6,1001 222.6,1000.8 223.6,1000.7 224.6,1000.5 225.6,1000.3 226.6,1000.1 227.6,999.9 228.6,999.7 229.6,999.4 230.6,999.1 231.6,998.8 232.6,998.4 233.6,998.9 234.6,999.2 235.7,999.4 236.7,999.7 237.7,999.9 238.7,1000.1 239.7,1000.3 240.7,1000.5 241.7,1000.7 242.7,1000.8 243.7,1001 244.7,1001.1 245.7,1001.2 246.7,1001.3 247.7,1001.3 248.7,1001.4 249.7,1001.4 250.7,1001.4 251.7,1001.4 252.7,1001.4 253.7,1001.3 254.7,1001.3 255.7,1001.2 256.7,1001.1 257.7,1001 258.7,1000.8 259.7,1000.7 260.7,1000.5 261.7,1000.3 262.7,1000.1 263.7,999.9 264.8,999.6 265.8,999.4 266.8,999.1 267.8,998.8 268.8,998.5 269.8,998.9 270.8,999.2 271.8,999.5 272.8,999.7 273.8,1000 274.8,1000.2 275.8,1000.4 276.8,1000.6 277.8,1000.7 278.8,1000.9 278.8,1019.3 75.1,1019.3" fill="#6e6e6e"/>
<polyline points="75.1,1001.2 76.1,1001.1 77.1,1001 78.1,1000.9 79.1,1000.8 80.1,1000.6 81.1,1000.4 82.1,1000.2 83.1,1000 84.1,999.8 85.1,999.6 86.1,999.3 87.1,999 88.1,998.6 89.1,998.7 90.2,999 91.2,999.3 92.2,999.6 93.2,999.8 94.2,1000 95.2,1000.3 96.2,1000.4 97.2,1000.6 98.2,1000.8 99.2,1000.9 100.2,1001 101.2,1001.1 102.2,1001.2 103.2,1001.3 104.2,1001.4 105.2,1001.4 106.2,1001.4 107.2,1001.4 108.2,1001.4 109.2,1001.3 110.2,1001.3 111.2,1001.2 112.2,1001.1 113.2,1001 114.2,1000.9 115.2,1000.7 116.2,1000.6 117.2,1000.4 118.2,1000.2 119.3,1000 120.3,999.8 121.3,999.5 122.3,999.2 123.3,998.9 124.3,998.6 125.3,998.7 126.3,999.1 127.3,999.3 128.3,999.6 129.3,999.8 130.3,1000.1 131.3,1000.3 132.3,1000.5 133.3,1000.6 134.3,1000.8 135.3,1000.9 136.3,1001.1 137.3,1001.2 138.3,1001.2 139.3,1001.3 140.3,1001.4 141.3,1001.4 142.3,1001.4 143.3,1001.4 144.3,1001.4 145.3,1001.3 146.3,1001.3 147.3,1001.2 148.4,1001.1 149.4,1001 150.4,1000.9 151.4,1000.7 152.4,1000.6 153.4,1000.4 154.4,1000.2 155.4,1000 156.4,999.7 157.4,999.5 158.4,999.2 159.4,998.9 160.4,998.5 161.4,998.8 162.4,999.1 163.4,999.4 164.4,999.6 165.4,999.9 166.4,1000.1 167.4,1000.3 168.4,1000.5 169.4,1000.7 170.4,1000.8 171.4,1000.9 172.4,1001.1 173.4,1001.2 174.4,1001.3 175.4,1001.3 176.4,1001.4 177.5,1001.4 178.5,1001.4 179.5,1001.4 180.5,1001.4 181.5,1001.3 182.5,1001.3 183.5,1001.2 184.5,1001.1 185.5,1001 186.5,1000.9 187.5,1000.7 188.5,1000.5 189.5,1000.4 190.5,1000.2 191.5,999.9 192.5,999.7 193.5,999.5 194.5,999.2 195.5,998.9 196.5,998.5 197.5,998.8 198.5,999.1 199.5,999.4 200.5,999.7 201.5,999.9 202.5,1000.1 203.5,1000.3 204.5,1000.5 205.5,1000.7 206.6,1000.8 207.6,1001 208.6,1001.1 209.6,1001.2 210.6,1001.3 211.6,1001.3 212.6,1001.4 213.6,1001.4 214.6,1001.4 215.6,1001.4 216.6,1001.4 217.6,1001.3 218.6,1001.3 219.6,1001.2 220.6,1001.1 221.6,1001 222.6,1000.8 223.6,1000.7 224.6,1000.5 225.6,1000.3 226.6,1000.1 227.6,999.9 228.6,999.7 229.6,999.4 230.6,999.1 231.6,998.8 232.6,998.4 233.6,998.9 234.6,999.2 235.7,999.4 236.7,999.7 237.7,999.9 238.7,1000.1 239.7,1000.3 240.7,1000.5 241.7,1000.7 242.7,1000.8 243.7,1001 244.7,1001.1 245.7,1001.2 246.7,1001.3 247.7,1001.3 248.7,1001.4 249.7,1001.4 250.7,1001.4 251.7,1001.4 252.7,1001.4 253.7,1001.3 254.7,1001.3 255.7,1001.2 256.7,1001.1 257.7,1001 258.7,1000.8 259.7,1000.7 260.7,1000.5 261.7,1000.3 262.7,1000.1 263.7,999.9 264.8,999.6 265.8,999.4 266.8,999.1 267.8,998.8 268.8,998.5 269.8,998.9 270.8,999.2 271.8,999.5 272.8,999.7 273.8,1000 274.8,1000.2 275.8,1000.4 276.8,1000.6 277.8,1000.7 278.8,1000.9" fill="none" stroke="#fafafa" stroke-width="3"/>
<polyline points="75.1,1005.7 76.1,1005.6 77.1,1005.5 78.1,1005.4 79.1,1005.3 80.1,1005.1 81.1,1004.9 82.1,1004.7 83.1,1004.5 84.1,1004.3 85.1,1004.1 86.1,1003.8 87.1,1003.5 88.1,1003.1 89.1,1003.2 90.2,1003.5 91.2,1003.8 92.2,1004.1 93.2,1004.3 94.2,1004.5 95.2,1004.8 96.2,1004.9 97.2,1005.1 98.2,1005.3 99.2,1005.4 100.2,1005.5 101.2,1005.6 102.2,1005.7 103.2,1005.8 104.2,1005.9 105.2,1005.9 106.2,1005.9 107.2,1005.9 108.2,1005.9 109.2,1005.8 110.2,1005.8 111.2,1005.7 112.2,1005.6 113.2,1005.5 114.2,1005.4 115.2,1005.2 116.2,1005.1 117.2,1004.9 118.2,1004.7 119.3,1004.5 120.3,1004.3 121.3,1004 122.3,1003.7 123.3,1003.4 124.3,1003.1 125.3,1003.2 126.3,1003.6 127.3,1003.8 128.3,1004.1 129.3,1004.3 130.3,1004.6 131.3,1004.8 132.3,1005 133.3,1005.1 134.3,1005.3 135.3,1005.4 136.3,1005.6 137.3,1005.7 138.3,1005.7 139.3,1005.8 140.3,1005.9 141.3,1005.9 142.3,1005.9 143.3,1005.9 144.3,1005.9 145.3,1005.8 146.3,1005.8 147.3,1005.7 148.4,1005.6 149.4,1005.5 150.4,1005.4 151.4,1005.2 152.4,1005.1 153.4,1004.9 154.4,1004.7 155.4,1004.5 156.4,1004.2 157.4,1004 158.4,1003.7 159.4,1003.4 160.4,1003 161.4,1003.3 162.4,1003.6 163.4,1003.9 164.4,1004.1 165.4,1004.4 166.4,1004.6 167.4,1004.8 168.4,1005 169.4,1005.2 170.4,1005.3 171.4,1005.4 172.4,1005.6 173.4,1005.7 174.4,1005.8 175.4,1005.8 176.4,1005.9 177.5,1005.9 178.5,1005.9 179.5,1005.9 180.5,1005.9 181.5,1005.8 182.5,1005.8 183.5,1005.7 184.5,1005.6 185.5,1005.5 186.5,1005.4 187.5,1005.2 188.5,1005 189.5,1004.9 190.5,1004.7 191.5,1004.4 192.5,1004.2 193.5,1004 194.5,1003.7 195.5,1003.4 196.5,1003 197.5,1003.3 198.5,1003.6 199.5,1003.9 200.5,1004.2 201.5,1004.4 202.5,1004.6 203.5,1004.8 204.5,1005 205.5,1005.2 206.6,1005.3 207.6,1005.5 208.6,1005.6 209.6,1005.7 210.6,1005.8 211.6,1005.8 212.6,1005.9 213.6,1005.9 214.6,1005.9 215.6,1005.9 216.6,1005.9 217.6,1005.8 218.6,1005.8 219.6,1005.7 220.6,1005.6 221.6,1005.5 222.6,1005.3 223.6,1005.2 224.6,1005 225.6,1004.8 226.6,1004.6 227.6,1004.4 228.6,1004.2 229.6,1003.9 230.6,1003.6 231.6,1003.3 232.6,1002.9 233.6,1003.4 234.6,1003.7 235.7,1003.9 236.7,1004.2 237.7,1004.4 238.7,1004.6 239.7,1004.8 240.7,1005 241.7,1005.2 242.7,1005.3 243.7,1005.5 244.7,1005.6 245.7,1005.7 246.7,1005.8 247.7,1005.8 248.7,1005.9 249.7,1005.9 250.7,1005.9 251.7,1005.9 252.7,1005.9 253.7,1005.8 254.7,1005.8 255.7,1005.7 256.7,1005.6 257.7,1005.5 258.7,1005.3 259.7,1005.2 260.7,1005 261.7,1004.8 262.7,1004.6 263.7,1004.4 264.8,1004.1 265.8,1003.9 266.8,1003.6 267.8,1003.3 268.8,1003 269.8,1003.4 270.8,1003.7 271.8,1004 272.8,1004.2 273.8,1004.5 274.8,1004.7 275.8,1004.9 276.8,1005.1 277.8,1005.2 278.8,1005.4" fill="none" stroke="#bebebe" stroke-width="1"/>
</g>
<rect x="69.9" y="933.3" width="3.4" height="86" fill="url(#gbar)"/>
<line x1="281.3" y1="933.8" x2="281.3" y2="1019.3" stroke="#8c8c8c" stroke-width="0.8" stroke-dasharray="0.8 2.2"/>
<text x="284.3" y="935.1" font-size="3.4" fill="#d0d0d0" font-weight="bold" font-family="'Liberation Sans', Arial, sans-serif">3.6</text>
<text x="284.3" y="952.2" font-size="3.4" fill="#d0d0d0" font-weight="bold" font-family="'Liberation Sans', Arial, sans-serif">7.4</text>
<text x="284.3" y="969.3" font-size="3.4" fill="#d0d0d0" font-weight="bold" font-family="'Liberation Sans', Arial, sans-serif">10.8</text>
<text x="284.3" y="986.4" font-size="3.4" fill="#d0d0d0" font-weight="bold" font-family="'Liberation Sans', Arial, sans-serif">13.8</text>
<text x="284.3" y="1003.5" font-size="3.4" fill="#d0d0d0" font-weight="bold" font-family="'Liberation Sans', Arial, sans-serif">16.6</text>
<text x="284.3" y="1020.6" font-size="3.4" fill="#d0d0d0" font-weight="bold" font-family="'Liberation Sans', Arial, sans-serif">19.8</text>
<rect x="75.1" y="1022.3" width="203.7" height="9" fill="none" stroke="#141414" stroke-width="0.8"/>
<text x="70.9" y="866.8" font-size="14" fill="#fff" font-family="'Liberation Sans', Arial, sans-serif">(<tspan font-weight="bold">1</tspan>)</text>
<g filter="url(#spk2)">
<rect x="375.9" y="858.5" width="60.5" height="67.4" fill="#505050"/>
<rect x="375.9" y="858.5" width="60.5" height="9.4" fill="#696969"/>
<g filter="url(#blur1)">
<path d="M377.7 869.3 Q403.1 865.2 435.2 873.3" stroke="#bebebe" stroke-width="1.6" fill="none" stroke-linecap="round"/>
<path d="M378.9 876 Q406.1 872 434.6 878.7" stroke="#828282" stroke-width="1.2" fill="none" stroke-linecap="round"/>
<ellipse cx="402.3" cy="888.8" rx="15.7" ry="13.5" fill="#2d2d2d"/>
<ellipse cx="417" cy="888.8" rx="8.5" ry="14.8" fill="#373737" opacity="0.8"/>
<path d="M380.7 897.6 Q389.2 916.5 412.2 912.4" stroke="#e6e6e6" stroke-width="2.4" fill="none" stroke-linecap="round"/>
<path d="M388 895.6 Q397.1 907 409.2 905.7" stroke="#969696" stroke-width="1.2" fill="none" stroke-linecap="round"/>
<rect x="409.2" y="914.4" width="27.2" height="7.4" fill="#919191"/>
<rect x="375.9" y="916.5" width="30.2" height="9.4" fill="#646464"/>
</g>
<line x1="385.3" y1="869.8" x2="394.3" y2="868.1" stroke="#7e7e7e" stroke-width="0.9" />
<line x1="408.5" y1="886.1" x2="416.8" y2="884.7" stroke="#a7a7a7" stroke-width="0.9" />
<line x1="393.4" y1="899" x2="402" y2="900.8" stroke="#a6a6a6" stroke-width="0.9" />
<line x1="411.1" y1="871.1" x2="419.3" y2="872.2" stroke="#878787" stroke-width="0.9" />
<line x1="387.6" y1="911.6" x2="394" y2="915.1" stroke="#9e9e9e" stroke-width="0.9" />
</g>
<line x1="406.1" y1="859.5" x2="406.1" y2="924.9" stroke="#7d7a22" stroke-width="0.8" stroke-dasharray="1.5 0.8"/>
<line x1="438.9" y1="859" x2="438.9" y2="925.9" stroke="#8c8c8c" stroke-width="0.8" stroke-dasharray="0.8 2.2"/>
<text x="441.9" y="860.3" font-size="3.6" fill="#d0d0d0" font-weight="bold" font-family="'Liberation Sans', Arial, sans-serif">0 mm</text>
<text x="441.9" y="877" font-size="3.6" fill="#d0d0d0" font-weight="bold" font-family="'Liberation Sans', Arial, sans-serif">5</text>
<text x="441.9" y="893.8" font-size="3.6" fill="#d0d0d0" font-weight="bold" font-family="'Liberation Sans', Arial, sans-serif">10</text>
<text x="441.9" y="910.5" font-size="3.6" fill="#d0d0d0" font-weight="bold" font-family="'Liberation Sans', Arial, sans-serif">15</text>
<text x="441.9" y="927.2" font-size="3.6" fill="#d0d0d0" font-weight="bold" font-family="'Liberation Sans', Arial, sans-serif">20</text>
<rect x="439.7" y="893.3" width="1.8" height="1.8" fill="#ffee00"/>
<path d="M445.9 861 Q446.9 892.5 448.9 924.9" stroke="#9a9a9a" stroke-width="0.7" fill="none"/>
<g filter="url(#spk)">
<rect x="304.3" y="933.7" width="203.7" height="85.6" fill="#525252"/>
<rect x="304.3" y="933.7" width="203.7" height="5" fill="#6e6e6e"/>
<line x1="304.3" y1="941.7" x2="508" y2="941.7" stroke="#b4b4b4" stroke-width="1.6"/>
<line x1="304.3" y1="944.7" x2="508" y2="944.7" stroke="#8a8a8a" stroke-width="0.7"/>
<line x1="304.3" y1="946.4" x2="508" y2="946.4" stroke="#6b6b6b" stroke-width="0.7"/>
<line x1="304.3" y1="949.7" x2="508" y2="949.7" stroke="#828282" stroke-width="0.7"/>
<line x1="304.3" y1="952.2" x2="508" y2="952.2" stroke="#737373" stroke-width="0.7"/>
<polyline points="304.3,950.5 305.3,950.5 306.3,950.7 307.3,950.9 308.3,951.2 309.3,951.6 310.3,952 311.3,952.5 312.3,953.1 313.3,953.7 314.3,954.4 315.3,955.2 316.3,956.1 317.3,957 318.3,958.1 319.4,959.4 320.4,959.6 321.4,958.2 322.4,957.1 323.4,956.1 324.4,955.3 325.4,954.5 326.4,953.8 327.4,953.1 328.4,952.5 329.4,952 330.4,951.6 331.4,951.2 332.4,950.9 333.4,950.7 334.4,950.6 335.4,950.5 336.4,950.5 337.4,950.5 338.4,950.7 339.4,950.9 340.4,951.1 341.4,951.5 342.4,951.9 343.4,952.4 344.4,952.9 345.4,953.6 346.4,954.3 347.4,955 348.5,955.9 349.5,956.8 350.5,957.9 351.5,959.1 352.5,959.9 353.5,958.4 354.5,957.3 355.5,956.3 356.5,955.4 357.5,954.6 358.5,953.9 359.5,953.2 360.5,952.6 361.5,952.1 362.5,951.7 363.5,951.3 364.5,951 365.5,950.7 366.5,950.6 367.5,950.5 368.5,950.5 369.5,950.5 370.5,950.6 371.5,950.8 372.5,951.1 373.5,951.4 374.5,951.8 375.5,952.3 376.5,952.8 377.6,953.4 378.6,954.1 379.6,954.9 380.6,955.7 381.6,956.6 382.6,957.7 383.6,958.9 384.6,960.3 385.6,958.7 386.6,957.5 387.6,956.5 388.6,955.6 389.6,954.8 390.6,954 391.6,953.4 392.6,952.8 393.6,952.2 394.6,951.8 395.6,951.4 396.6,951 397.6,950.8 398.6,950.6 399.6,950.5 400.6,950.5 401.6,950.5 402.6,950.6 403.6,950.8 404.6,951 405.6,951.3 406.7,951.7 407.7,952.2 408.7,952.7 409.7,953.3 410.7,954 411.7,954.7 412.7,955.6 413.7,956.5 414.7,957.5 415.7,958.6 416.7,960.2 417.7,958.9 418.7,957.7 419.7,956.7 420.7,955.8 421.7,954.9 422.7,954.2 423.7,953.5 424.7,952.9 425.7,952.3 426.7,951.8 427.7,951.4 428.7,951.1 429.7,950.8 430.7,950.6 431.7,950.5 432.7,950.5 433.7,950.5 434.7,950.6 435.8,950.7 436.8,951 437.8,951.3 438.8,951.7 439.8,952.1 440.8,952.6 441.8,953.2 442.8,953.9 443.8,954.6 444.8,955.4 445.8,956.3 446.8,957.3 447.8,958.4 448.8,959.8 449.8,959.2 450.8,957.9 451.8,956.9 452.8,955.9 453.8,955.1 454.8,954.3 455.8,953.6 456.8,953 457.8,952.4 458.8,951.9 459.8,951.5 460.8,951.2 461.8,950.9 462.8,950.7 463.8,950.5 464.9,950.5 465.9,950.5 466.9,950.6 467.9,950.7 468.9,950.9 469.9,951.2 470.9,951.6 471.9,952 472.9,952.5 473.9,953.1 474.9,953.7 475.9,954.5 476.9,955.2 477.9,956.1 478.9,957.1 479.9,958.2 480.9,959.5 481.9,959.5 482.9,958.2 483.9,957.1 484.9,956.1 485.9,955.2 486.9,954.4 487.9,953.7 488.9,953.1 489.9,952.5 490.9,952 491.9,951.6 492.9,951.2 494,950.9 495,950.7 496,950.6 497,950.5 498,950.5 499,950.5 500,950.7 501,950.9 502,951.2 503,951.5 504,951.9 505,952.4 506,953 507,953.6 508,954.3" fill="none" stroke="#767676" stroke-width="0.8"/>
<polyline points="304.3,948 305.3,948.1 306.3,948.2 307.3,948.4 308.3,948.8 309.3,949.1 310.3,949.6 311.3,950.1 312.3,950.8 313.3,951.4 314.3,952.2 315.3,953 316.3,954 317.3,955 318.3,956.2 319.4,957.6 320.4,957.7 321.4,956.3 322.4,955.1 323.4,954.1 324.4,953.1 325.4,952.3 326.4,951.5 327.4,950.8 328.4,950.2 329.4,949.7 330.4,949.2 331.4,948.8 332.4,948.5 333.4,948.2 334.4,948.1 335.4,948 336.4,948 337.4,948 338.4,948.2 339.4,948.4 340.4,948.7 341.4,949.1 342.4,949.5 343.4,950 344.4,950.6 345.4,951.3 346.4,952.1 347.4,952.9 348.5,953.8 349.5,954.8 350.5,955.9 351.5,957.3 352.5,958.1 353.5,956.5 354.5,955.3 355.5,954.3 356.5,953.3 357.5,952.4 358.5,951.6 359.5,950.9 360.5,950.3 361.5,949.8 362.5,949.3 363.5,948.9 364.5,948.5 365.5,948.3 366.5,948.1 367.5,948 368.5,948 369.5,948 370.5,948.1 371.5,948.3 372.5,948.6 373.5,949 374.5,949.4 375.5,949.9 376.5,950.5 377.6,951.2 378.6,951.9 379.6,952.7 380.6,953.6 381.6,954.6 382.6,955.7 383.6,957 384.6,958.5 385.6,956.8 386.6,955.5 387.6,954.4 388.6,953.5 389.6,952.6 390.6,951.8 391.6,951.1 392.6,950.4 393.6,949.9 394.6,949.4 395.6,948.9 396.6,948.6 397.6,948.3 398.6,948.1 399.6,948 400.6,948 401.6,948 402.6,948.1 403.6,948.3 404.6,948.6 405.6,948.9 406.7,949.3 407.7,949.8 408.7,950.4 409.7,951 410.7,951.8 411.7,952.6 412.7,953.4 413.7,954.4 414.7,955.5 415.7,956.7 416.7,958.4 417.7,957.1 418.7,955.8 419.7,954.6 420.7,953.7 421.7,952.8 422.7,951.9 423.7,951.2 424.7,950.5 425.7,950 426.7,949.4 427.7,949 428.7,948.6 429.7,948.4 430.7,948.1 431.7,948 432.7,948 433.7,948 434.7,948.1 435.8,948.3 436.8,948.5 437.8,948.8 438.8,949.2 439.8,949.7 440.8,950.3 441.8,950.9 442.8,951.6 443.8,952.4 444.8,953.3 445.8,954.2 446.8,955.3 447.8,956.5 448.8,958 449.8,957.3 450.8,956 451.8,954.8 452.8,953.8 453.8,952.9 454.8,952.1 455.8,951.3 456.8,950.7 457.8,950.1 458.8,949.5 459.8,949.1 460.8,948.7 461.8,948.4 462.8,948.2 463.8,948 464.9,948 465.9,948 466.9,948.1 467.9,948.2 468.9,948.5 469.9,948.8 470.9,949.2 471.9,949.6 472.9,950.2 473.9,950.8 474.9,951.5 475.9,952.2 476.9,953.1 477.9,954 478.9,955.1 479.9,956.2 480.9,957.7 481.9,957.7 482.9,956.2 483.9,955 484.9,954 485.9,953.1 486.9,952.2 487.9,951.5 488.9,950.8 489.9,950.2 490.9,949.6 491.9,949.2 492.9,948.8 494,948.5 495,948.2 496,948.1 497,948 498,948 499,948 500,948.2 501,948.4 502,948.7 503,949.1 504,949.5 505,950.1 506,950.7 507,951.3 508,952.1" fill="none" stroke="#767676" stroke-width="0.8"/>
<polyline points="304.3,945 305.3,945.1 306.3,945.2 307.3,945.5 308.3,945.8 309.3,946.2 310.3,946.7 311.3,947.3 312.3,948 313.3,948.7 314.3,949.6 315.3,950.5 316.3,951.5 317.3,952.6 318.3,953.9 319.4,955.4 320.4,955.6 321.4,954 322.4,952.7 323.4,951.6 324.4,950.6 325.4,949.6 326.4,948.8 327.4,948.1 328.4,947.4 329.4,946.8 330.4,946.3 331.4,945.9 332.4,945.5 333.4,945.3 334.4,945.1 335.4,945 336.4,945 337.4,945 338.4,945.2 339.4,945.4 340.4,945.8 341.4,946.2 342.4,946.6 343.4,947.2 344.4,947.9 345.4,948.6 346.4,949.4 347.4,950.3 348.5,951.3 349.5,952.4 350.5,953.6 351.5,955.1 352.5,955.9 353.5,954.3 354.5,952.9 355.5,951.8 356.5,950.7 357.5,949.8 358.5,949 359.5,948.2 360.5,947.5 361.5,946.9 362.5,946.4 363.5,945.9 364.5,945.6 365.5,945.3 366.5,945.1 367.5,945 368.5,945 369.5,945 370.5,945.2 371.5,945.4 372.5,945.7 373.5,946.1 374.5,946.5 375.5,947.1 376.5,947.7 377.6,948.4 378.6,949.2 379.6,950.1 380.6,951.1 381.6,952.2 382.6,953.4 383.6,954.8 384.6,956.4 385.6,954.5 386.6,953.2 387.6,952 388.6,950.9 389.6,950 390.6,949.1 391.6,948.3 392.6,947.6 393.6,947 394.6,946.5 395.6,946 396.6,945.6 397.6,945.3 398.6,945.1 399.6,945 400.6,945 401.6,945 402.6,945.1 403.6,945.3 404.6,945.6 405.6,946 406.7,946.4 407.7,947 408.7,947.6 409.7,948.3 410.7,949.1 411.7,949.9 412.7,950.9 413.7,951.9 414.7,953.1 415.7,954.5 416.7,956.3 417.7,954.8 418.7,953.4 419.7,952.2 420.7,951.1 421.7,950.1 422.7,949.3 423.7,948.5 424.7,947.8 425.7,947.1 426.7,946.6 427.7,946.1 428.7,945.7 429.7,945.4 430.7,945.2 431.7,945 432.7,945 433.7,945 434.7,945.1 435.8,945.3 436.8,945.6 437.8,945.9 438.8,946.4 439.8,946.9 440.8,947.5 441.8,948.2 442.8,948.9 443.8,949.8 444.8,950.7 445.8,951.7 446.8,952.9 447.8,954.2 448.8,955.9 449.8,955.1 450.8,953.7 451.8,952.4 452.8,951.3 453.8,950.3 454.8,949.4 455.8,948.6 456.8,947.9 457.8,947.2 458.8,946.7 459.8,946.2 460.8,945.8 461.8,945.4 462.8,945.2 463.8,945 464.9,945 465.9,945 466.9,945.1 467.9,945.2 468.9,945.5 469.9,945.8 470.9,946.3 471.9,946.8 472.9,947.4 473.9,948 474.9,948.8 475.9,949.6 476.9,950.5 477.9,951.5 478.9,952.7 479.9,953.9 480.9,955.5 481.9,955.5 482.9,953.9 483.9,952.6 484.9,951.5 485.9,950.5 486.9,949.6 487.9,948.8 488.9,948 489.9,947.3 490.9,946.8 491.9,946.3 492.9,945.8 494,945.5 495,945.2 496,945.1 497,945 498,945 499,945 500,945.2 501,945.4 502,945.8 503,946.2 504,946.7 505,947.2 506,947.9 507,948.6 508,949.4" fill="none" stroke="#767676" stroke-width="0.8"/>
<polygon points="304.3,953 305.3,953 306.3,953.2 307.3,953.4 308.3,953.6 309.3,954 310.3,954.4 311.3,954.8 312.3,955.4 313.3,956 314.3,956.6 315.3,957.3 316.3,958.1 317.3,959 318.3,960 319.4,961.3 320.4,961.4 321.4,960.1 322.4,959.1 323.4,958.2 324.4,957.4 325.4,956.7 326.4,956 327.4,955.4 328.4,954.9 329.4,954.4 330.4,954 331.4,953.7 332.4,953.4 333.4,953.2 334.4,953 335.4,953 336.4,953 337.4,953 338.4,953.1 339.4,953.3 340.4,953.6 341.4,953.9 342.4,954.3 343.4,954.7 344.4,955.3 345.4,955.8 346.4,956.5 347.4,957.2 348.5,958 349.5,958.9 350.5,959.8 351.5,961 352.5,961.7 353.5,960.4 354.5,959.3 355.5,958.4 356.5,957.6 357.5,956.8 358.5,956.1 359.5,955.5 360.5,955 361.5,954.5 362.5,954.1 363.5,953.7 364.5,953.4 365.5,953.2 366.5,953.1 367.5,953 368.5,953 369.5,953 370.5,953.1 371.5,953.3 372.5,953.5 373.5,953.8 374.5,954.2 375.5,954.7 376.5,955.2 377.6,955.7 378.6,956.4 379.6,957.1 380.6,957.8 381.6,958.7 382.6,959.6 383.6,960.8 384.6,962.1 385.6,960.6 386.6,959.5 387.6,958.5 388.6,957.7 389.6,956.9 390.6,956.3 391.6,955.6 392.6,955.1 393.6,954.6 394.6,954.2 395.6,953.8 396.6,953.5 397.6,953.3 398.6,953.1 399.6,953 400.6,953 401.6,953 402.6,953.1 403.6,953.3 404.6,953.5 405.6,953.8 406.7,954.1 407.7,954.6 408.7,955.1 409.7,955.6 410.7,956.2 411.7,956.9 412.7,957.7 413.7,958.5 414.7,959.4 415.7,960.5 416.7,962 417.7,960.8 418.7,959.7 419.7,958.7 420.7,957.9 421.7,957.1 422.7,956.4 423.7,955.8 424.7,955.2 425.7,954.7 426.7,954.2 427.7,953.9 428.7,953.5 429.7,953.3 430.7,953.1 431.7,953 432.7,953 433.7,953 434.7,953.1 435.8,953.2 436.8,953.4 437.8,953.7 438.8,954.1 439.8,954.5 440.8,955 441.8,955.5 442.8,956.1 443.8,956.8 444.8,957.5 445.8,958.4 446.8,959.3 447.8,960.3 448.8,961.6 449.8,961 450.8,959.9 451.8,958.9 452.8,958 453.8,957.2 454.8,956.5 455.8,955.9 456.8,955.3 457.8,954.8 458.8,954.3 459.8,953.9 460.8,953.6 461.8,953.3 462.8,953.2 463.8,953 464.9,953 465.9,953 466.9,953 467.9,953.2 468.9,953.4 469.9,953.7 470.9,954 471.9,954.4 472.9,954.9 473.9,955.4 474.9,956 475.9,956.7 476.9,957.4 477.9,958.2 478.9,959.1 479.9,960.1 480.9,961.3 481.9,961.3 482.9,960.1 483.9,959.1 484.9,958.2 485.9,957.4 486.9,956.6 487.9,956 488.9,955.4 489.9,954.9 490.9,954.4 491.9,954 492.9,953.7 494,953.4 495,953.2 496,953 497,953 498,953 499,953 500,953.2 501,953.3 502,953.6 503,953.9 504,954.3 505,954.8 506,955.3 507,955.9 508,956.5 508,982.9 507,983.8 506,984.7 505,985.5 504,986.2 503,986.8 502,987.3 501,987.7 500,988 499,988.2 498,988.3 497,988.3 496,988.2 495,988 494,987.6 492.9,987.2 491.9,986.7 490.9,986.1 489.9,985.4 488.9,984.6 487.9,983.7 486.9,982.7 485.9,981.7 484.9,980.6 483.9,979.4 482.9,978.2 481.9,976.8 480.9,976.8 479.9,978.2 478.9,979.4 477.9,980.6 476.9,981.7 475.9,982.7 474.9,983.7 473.9,984.6 472.9,985.4 471.9,986.1 470.9,986.7 469.9,987.2 468.9,987.6 467.9,988 466.9,988.2 465.9,988.3 464.9,988.3 463.8,988.2 462.8,988 461.8,987.7 460.8,987.3 459.8,986.8 458.8,986.2 457.8,985.5 456.8,984.7 455.8,983.9 454.8,982.9 453.8,981.9 452.8,980.8 451.8,979.7 450.8,978.4 449.8,977.1 448.8,976.5 447.8,977.9 446.8,979.2 445.8,980.4 444.8,981.5 443.8,982.5 442.8,983.5 441.8,984.4 440.8,985.2 439.8,985.9 438.8,986.6 437.8,987.1 436.8,987.6 435.8,987.9 434.7,988.1 433.7,988.3 432.7,988.3 431.7,988.2 430.7,988.1 429.7,987.8 428.7,987.4 427.7,986.9 426.7,986.3 425.7,985.6 424.7,984.9 423.7,984 422.7,983.1 421.7,982.1 420.7,981 419.7,979.9 418.7,978.7 417.7,977.3 416.7,976.2 415.7,977.7 414.7,978.9 413.7,980.1 412.7,981.3 411.7,982.3 410.7,983.3 409.7,984.2 408.7,985.1 407.7,985.8 406.7,986.5 405.6,987 404.6,987.5 403.6,987.8 402.6,988.1 401.6,988.3 400.6,988.3 399.6,988.3 398.6,988.1 397.6,987.8 396.6,987.5 395.6,987 394.6,986.4 393.6,985.8 392.6,985 391.6,984.2 390.6,983.3 389.6,982.3 388.6,981.2 387.6,980.1 386.6,978.9 385.6,977.6 384.6,976.1 383.6,977.4 382.6,978.7 381.6,979.9 380.6,981.1 379.6,982.1 378.6,983.1 377.6,984.1 376.5,984.9 375.5,985.7 374.5,986.3 373.5,986.9 372.5,987.4 371.5,987.8 370.5,988.1 369.5,988.2 368.5,988.3 367.5,988.3 366.5,988.1 365.5,987.9 364.5,987.5 363.5,987.1 362.5,986.5 361.5,985.9 360.5,985.2 359.5,984.4 358.5,983.5 357.5,982.5 356.5,981.4 355.5,980.3 354.5,979.1 353.5,977.9 352.5,976.4 351.5,977.1 350.5,978.5 349.5,979.7 348.5,980.9 347.4,981.9 346.4,983 345.4,983.9 344.4,984.8 343.4,985.5 342.4,986.2 341.4,986.8 340.4,987.3 339.4,987.7 338.4,988 337.4,988.2 336.4,988.3 335.4,988.3 334.4,988.2 333.4,987.9 332.4,987.6 331.4,987.2 330.4,986.7 329.4,986 328.4,985.3 327.4,984.5 326.4,983.6 325.4,982.7 324.4,981.6 323.4,980.5 322.4,979.4 321.4,978.1 320.4,976.7 319.4,976.9 318.3,978.2 317.3,979.5 316.3,980.6 315.3,981.7 314.3,982.8 313.3,983.7 312.3,984.6 311.3,985.4 310.3,986.1 309.3,986.7 308.3,987.2 307.3,987.7 306.3,988 305.3,988.2 304.3,988.3" fill="#323232"/>
<polyline points="304.3,953 305.3,953 306.3,953.2 307.3,953.4 308.3,953.6 309.3,954 310.3,954.4 311.3,954.8 312.3,955.4 313.3,956 314.3,956.6 315.3,957.3 316.3,958.1 317.3,959 318.3,960 319.4,961.3 320.4,961.4 321.4,960.1 322.4,959.1 323.4,958.2 324.4,957.4 325.4,956.7 326.4,956 327.4,955.4 328.4,954.9 329.4,954.4 330.4,954 331.4,953.7 332.4,953.4 333.4,953.2 334.4,953 335.4,953 336.4,953 337.4,953 338.4,953.1 339.4,953.3 340.4,953.6 341.4,953.9 342.4,954.3 343.4,954.7 344.4,955.3 345.4,955.8 346.4,956.5 347.4,957.2 348.5,958 349.5,958.9 350.5,959.8 351.5,961 352.5,961.7 353.5,960.4 354.5,959.3 355.5,958.4 356.5,957.6 357.5,956.8 358.5,956.1 359.5,955.5 360.5,955 361.5,954.5 362.5,954.1 363.5,953.7 364.5,953.4 365.5,953.2 366.5,953.1 367.5,953 368.5,953 369.5,953 370.5,953.1 371.5,953.3 372.5,953.5 373.5,953.8 374.5,954.2 375.5,954.7 376.5,955.2 377.6,955.7 378.6,956.4 379.6,957.1 380.6,957.8 381.6,958.7 382.6,959.6 383.6,960.8 384.6,962.1 385.6,960.6 386.6,959.5 387.6,958.5 388.6,957.7 389.6,956.9 390.6,956.3 391.6,955.6 392.6,955.1 393.6,954.6 394.6,954.2 395.6,953.8 396.6,953.5 397.6,953.3 398.6,953.1 399.6,953 400.6,953 401.6,953 402.6,953.1 403.6,953.3 404.6,953.5 405.6,953.8 406.7,954.1 407.7,954.6 408.7,955.1 409.7,955.6 410.7,956.2 411.7,956.9 412.7,957.7 413.7,958.5 414.7,959.4 415.7,960.5 416.7,962 417.7,960.8 418.7,959.7 419.7,958.7 420.7,957.9 421.7,957.1 422.7,956.4 423.7,955.8 424.7,955.2 425.7,954.7 426.7,954.2 427.7,953.9 428.7,953.5 429.7,953.3 430.7,953.1 431.7,953 432.7,953 433.7,953 434.7,953.1 435.8,953.2 436.8,953.4 437.8,953.7 438.8,954.1 439.8,954.5 440.8,955 441.8,955.5 442.8,956.1 443.8,956.8 444.8,957.5 445.8,958.4 446.8,959.3 447.8,960.3 448.8,961.6 449.8,961 450.8,959.9 451.8,958.9 452.8,958 453.8,957.2 454.8,956.5 455.8,955.9 456.8,955.3 457.8,954.8 458.8,954.3 459.8,953.9 460.8,953.6 461.8,953.3 462.8,953.2 463.8,953 464.9,953 465.9,953 466.9,953 467.9,953.2 468.9,953.4 469.9,953.7 470.9,954 471.9,954.4 472.9,954.9 473.9,955.4 474.9,956 475.9,956.7 476.9,957.4 477.9,958.2 478.9,959.1 479.9,960.1 480.9,961.3 481.9,961.3 482.9,960.1 483.9,959.1 484.9,958.2 485.9,957.4 486.9,956.6 487.9,956 488.9,955.4 489.9,954.9 490.9,954.4 491.9,954 492.9,953.7 494,953.4 495,953.2 496,953 497,953 498,953 499,953 500,953.2 501,953.3 502,953.6 503,953.9 504,954.3 505,954.8 506,955.3 507,955.9 508,956.5" fill="none" stroke="#a5a5a5" stroke-width="1.1"/>
<polyline points="304.3,988.3 305.3,988.2 306.3,988 307.3,987.7 308.3,987.2 309.3,986.7 310.3,986.1 311.3,985.4 312.3,984.6 313.3,983.7 314.3,982.8 315.3,981.7 316.3,980.6 317.3,979.5 318.3,978.2 319.4,976.9 320.4,976.7 321.4,978.1 322.4,979.4 323.4,980.5 324.4,981.6 325.4,982.7 326.4,983.6 327.4,984.5 328.4,985.3 329.4,986 330.4,986.7 331.4,987.2 332.4,987.6 333.4,987.9 334.4,988.2 335.4,988.3 336.4,988.3 337.4,988.2 338.4,988 339.4,987.7 340.4,987.3 341.4,986.8 342.4,986.2 343.4,985.5 344.4,984.8 345.4,983.9 346.4,983 347.4,981.9 348.5,980.9 349.5,979.7 350.5,978.5 351.5,977.1 352.5,976.4 353.5,977.9 354.5,979.1 355.5,980.3 356.5,981.4 357.5,982.5 358.5,983.5 359.5,984.4 360.5,985.2 361.5,985.9 362.5,986.5 363.5,987.1 364.5,987.5 365.5,987.9 366.5,988.1 367.5,988.3 368.5,988.3 369.5,988.2 370.5,988.1 371.5,987.8 372.5,987.4 373.5,986.9 374.5,986.3 375.5,985.7 376.5,984.9 377.6,984.1 378.6,983.1 379.6,982.1 380.6,981.1 381.6,979.9 382.6,978.7 383.6,977.4 384.6,976.1 385.6,977.6 386.6,978.9 387.6,980.1 388.6,981.2 389.6,982.3 390.6,983.3 391.6,984.2 392.6,985 393.6,985.8 394.6,986.4 395.6,987 396.6,987.5 397.6,987.8 398.6,988.1 399.6,988.3 400.6,988.3 401.6,988.3 402.6,988.1 403.6,987.8 404.6,987.5 405.6,987 406.7,986.5 407.7,985.8 408.7,985.1 409.7,984.2 410.7,983.3 411.7,982.3 412.7,981.3 413.7,980.1 414.7,978.9 415.7,977.7 416.7,976.2 417.7,977.3 418.7,978.7 419.7,979.9 420.7,981 421.7,982.1 422.7,983.1 423.7,984 424.7,984.9 425.7,985.6 426.7,986.3 427.7,986.9 428.7,987.4 429.7,987.8 430.7,988.1 431.7,988.2 432.7,988.3 433.7,988.3 434.7,988.1 435.8,987.9 436.8,987.6 437.8,987.1 438.8,986.6 439.8,985.9 440.8,985.2 441.8,984.4 442.8,983.5 443.8,982.5 444.8,981.5 445.8,980.4 446.8,979.2 447.8,977.9 448.8,976.5 449.8,977.1 450.8,978.4 451.8,979.7 452.8,980.8 453.8,981.9 454.8,982.9 455.8,983.9 456.8,984.7 457.8,985.5 458.8,986.2 459.8,986.8 460.8,987.3 461.8,987.7 462.8,988 463.8,988.2 464.9,988.3 465.9,988.3 466.9,988.2 467.9,988 468.9,987.6 469.9,987.2 470.9,986.7 471.9,986.1 472.9,985.4 473.9,984.6 474.9,983.7 475.9,982.7 476.9,981.7 477.9,980.6 478.9,979.4 479.9,978.2 480.9,976.8 481.9,976.8 482.9,978.2 483.9,979.4 484.9,980.6 485.9,981.7 486.9,982.7 487.9,983.7 488.9,984.6 489.9,985.4 490.9,986.1 491.9,986.7 492.9,987.2 494,987.6 495,988 496,988.2 497,988.3 498,988.3 499,988.2 500,988 501,987.7 502,987.3 503,986.8 504,986.2 505,985.5 506,984.7 507,983.8 508,982.9" fill="none" stroke="#afafaf" stroke-width="1.2"/>
<polyline points="304.3,991.3 305.3,991.2 306.3,991 307.3,990.8 308.3,990.4 309.3,989.9 310.3,989.4 311.3,988.8 312.3,988.1 313.3,987.4 314.3,986.6 315.3,985.7 316.3,984.7 317.3,983.7 318.3,982.6 319.4,981.4 320.4,981.3 321.4,982.5 322.4,983.6 323.4,984.6 324.4,985.6 325.4,986.5 326.4,987.3 327.4,988.1 328.4,988.7 329.4,989.4 330.4,989.9 331.4,990.4 332.4,990.7 333.4,991 334.4,991.2 335.4,991.3 336.4,991.3 337.4,991.2 338.4,991.1 339.4,990.8 340.4,990.5 341.4,990 342.4,989.5 343.4,988.9 344.4,988.3 345.4,987.5 346.4,986.7 347.4,985.8 348.5,984.9 349.5,983.9 350.5,982.8 351.5,981.7 352.5,981.1 353.5,982.3 354.5,983.4 355.5,984.4 356.5,985.4 357.5,986.3 358.5,987.1 359.5,987.9 360.5,988.6 361.5,989.3 362.5,989.8 363.5,990.3 364.5,990.7 365.5,991 366.5,991.2 367.5,991.3 368.5,991.3 369.5,991.3 370.5,991.1 371.5,990.9 372.5,990.5 373.5,990.1 374.5,989.6 375.5,989 376.5,988.4 377.6,987.7 378.6,986.9 379.6,986 380.6,985.1 381.6,984.1 382.6,983 383.6,981.9 384.6,980.8 385.6,982.1 386.6,983.2 387.6,984.2 388.6,985.2 389.6,986.1 390.6,987 391.6,987.8 392.6,988.5 393.6,989.1 394.6,989.7 395.6,990.2 396.6,990.6 397.6,990.9 398.6,991.1 399.6,991.3 400.6,991.3 401.6,991.3 402.6,991.1 403.6,990.9 404.6,990.6 405.6,990.2 406.7,989.7 407.7,989.2 408.7,988.5 409.7,987.8 410.7,987 411.7,986.2 412.7,985.3 413.7,984.3 414.7,983.2 415.7,982.1 416.7,980.9 417.7,981.9 418.7,983 419.7,984.1 420.7,985 421.7,986 422.7,986.8 423.7,987.6 424.7,988.4 425.7,989 426.7,989.6 427.7,990.1 428.7,990.5 429.7,990.9 430.7,991.1 431.7,991.3 432.7,991.3 433.7,991.3 434.7,991.2 435.8,991 436.8,990.7 437.8,990.3 438.8,989.8 439.8,989.3 440.8,988.7 441.8,988 442.8,987.2 443.8,986.3 444.8,985.4 445.8,984.5 446.8,983.5 447.8,982.3 448.8,981.1 449.8,981.6 450.8,982.8 451.8,983.9 452.8,984.9 453.8,985.8 454.8,986.7 455.8,987.5 456.8,988.2 457.8,988.9 458.8,989.5 459.8,990 460.8,990.4 461.8,990.8 462.8,991.1 463.8,991.2 464.9,991.3 465.9,991.3 466.9,991.2 467.9,991 468.9,990.7 469.9,990.4 470.9,989.9 471.9,989.4 472.9,988.8 473.9,988.1 474.9,987.3 475.9,986.5 476.9,985.6 477.9,984.7 478.9,983.6 479.9,982.6 480.9,981.4 481.9,981.4 482.9,982.6 483.9,983.7 484.9,984.7 485.9,985.6 486.9,986.5 487.9,987.3 488.9,988.1 489.9,988.8 490.9,989.4 491.9,989.9 492.9,990.4 494,990.7 495,991 496,991.2 497,991.3 498,991.3 499,991.2 500,991.1 501,990.8 502,990.4 503,990 504,989.5 505,988.9 506,988.2 507,987.5 508,986.7" fill="none" stroke="#969696" stroke-width="0.9"/>
<polyline points="304.3,994.3 305.3,994.2 306.3,994.1 307.3,993.8 308.3,993.5 309.3,993.2 310.3,992.7 311.3,992.2 312.3,991.7 313.3,991 314.3,990.3 315.3,989.6 316.3,988.8 317.3,987.9 318.3,987 319.4,986 320.4,985.9 321.4,986.9 322.4,987.9 323.4,988.7 324.4,989.5 325.4,990.3 326.4,991 327.4,991.6 328.4,992.2 329.4,992.7 330.4,993.1 331.4,993.5 332.4,993.8 333.4,994.1 334.4,994.2 335.4,994.3 336.4,994.3 337.4,994.3 338.4,994.1 339.4,993.9 340.4,993.6 341.4,993.2 342.4,992.8 343.4,992.3 344.4,991.8 345.4,991.1 346.4,990.5 347.4,989.7 348.5,988.9 349.5,988.1 350.5,987.2 351.5,986.2 352.5,985.7 353.5,986.8 354.5,987.7 355.5,988.6 356.5,989.4 357.5,990.1 358.5,990.8 359.5,991.5 360.5,992.1 361.5,992.6 362.5,993.1 363.5,993.4 364.5,993.8 365.5,994 366.5,994.2 367.5,994.3 368.5,994.3 369.5,994.3 370.5,994.1 371.5,993.9 372.5,993.7 373.5,993.3 374.5,992.9 375.5,992.4 376.5,991.9 377.6,991.3 378.6,990.6 379.6,989.9 380.6,989.1 381.6,988.3 382.6,987.4 383.6,986.4 384.6,985.5 385.6,986.6 386.6,987.5 387.6,988.4 388.6,989.2 389.6,990 390.6,990.7 391.6,991.4 392.6,992 393.6,992.5 394.6,993 395.6,993.4 396.6,993.7 397.6,994 398.6,994.2 399.6,994.3 400.6,994.3 401.6,994.3 402.6,994.2 403.6,994 404.6,993.7 405.6,993.4 406.7,993 407.7,992.5 408.7,992 409.7,991.4 410.7,990.7 411.7,990 412.7,989.2 413.7,988.4 414.7,987.6 415.7,986.6 416.7,985.5 417.7,986.4 418.7,987.3 419.7,988.2 420.7,989.1 421.7,989.8 422.7,990.6 423.7,991.2 424.7,991.9 425.7,992.4 426.7,992.9 427.7,993.3 428.7,993.7 429.7,993.9 430.7,994.1 431.7,994.3 432.7,994.3 433.7,994.3 434.7,994.2 435.8,994 436.8,993.8 437.8,993.5 438.8,993.1 439.8,992.6 440.8,992.1 441.8,991.5 442.8,990.9 443.8,990.2 444.8,989.4 445.8,988.6 446.8,987.7 447.8,986.8 448.8,985.7 449.8,986.2 450.8,987.2 451.8,988.1 452.8,988.9 453.8,989.7 454.8,990.4 455.8,991.1 456.8,991.7 457.8,992.3 458.8,992.8 459.8,993.2 460.8,993.6 461.8,993.9 462.8,994.1 463.8,994.2 464.9,994.3 465.9,994.3 466.9,994.2 467.9,994.1 468.9,993.8 469.9,993.5 470.9,993.2 471.9,992.7 472.9,992.2 473.9,991.6 474.9,991 475.9,990.3 476.9,989.5 477.9,988.7 478.9,987.9 479.9,987 480.9,986 481.9,986 482.9,987 483.9,987.9 484.9,988.8 485.9,989.6 486.9,990.3 487.9,991 488.9,991.6 489.9,992.2 490.9,992.7 491.9,993.2 492.9,993.5 494,993.8 495,994.1 496,994.2 497,994.3 498,994.3 499,994.2 500,994.1 501,993.9 502,993.6 503,993.2 504,992.8 505,992.3 506,991.7 507,991.1 508,990.4" fill="none" stroke="#919191" stroke-width="0.9"/>
<polyline points="304.3,997.3 305.3,997.3 306.3,997.1 307.3,996.9 308.3,996.7 309.3,996.4 310.3,996 311.3,995.6 312.3,995.2 313.3,994.7 314.3,994.1 315.3,993.5 316.3,992.9 317.3,992.2 318.3,991.4 319.4,990.6 320.4,990.5 321.4,991.3 322.4,992.1 323.4,992.8 324.4,993.5 325.4,994.1 326.4,994.6 327.4,995.1 328.4,995.6 329.4,996 330.4,996.4 331.4,996.7 332.4,996.9 333.4,997.1 334.4,997.2 335.4,997.3 336.4,997.3 337.4,997.3 338.4,997.2 339.4,997 340.4,996.8 341.4,996.5 342.4,996.1 343.4,995.7 344.4,995.3 345.4,994.8 346.4,994.2 347.4,993.6 348.5,993 349.5,992.3 350.5,991.6 351.5,990.8 352.5,990.3 353.5,991.2 354.5,992 355.5,992.7 356.5,993.3 357.5,993.9 358.5,994.5 359.5,995 360.5,995.5 361.5,995.9 362.5,996.3 363.5,996.6 364.5,996.9 365.5,997.1 366.5,997.2 367.5,997.3 368.5,997.3 369.5,997.3 370.5,997.2 371.5,997 372.5,996.8 373.5,996.5 374.5,996.2 375.5,995.8 376.5,995.4 377.6,994.9 378.6,994.3 379.6,993.7 380.6,993.1 381.6,992.4 382.6,991.7 383.6,990.9 384.6,990.1 385.6,991 386.6,991.8 387.6,992.5 388.6,993.2 389.6,993.8 390.6,994.4 391.6,994.9 392.6,995.4 393.6,995.9 394.6,996.2 395.6,996.6 396.6,996.8 397.6,997 398.6,997.2 399.6,997.3 400.6,997.3 401.6,997.3 402.6,997.2 403.6,997.1 404.6,996.8 405.6,996.6 406.7,996.3 407.7,995.9 408.7,995.4 409.7,995 410.7,994.4 411.7,993.9 412.7,993.2 413.7,992.6 414.7,991.9 415.7,991.1 416.7,990.2 417.7,990.9 418.7,991.7 419.7,992.4 420.7,993.1 421.7,993.7 422.7,994.3 423.7,994.8 424.7,995.3 425.7,995.8 426.7,996.2 427.7,996.5 428.7,996.8 429.7,997 430.7,997.2 431.7,997.3 432.7,997.3 433.7,997.3 434.7,997.2 435.8,997.1 436.8,996.9 437.8,996.6 438.8,996.3 439.8,996 440.8,995.5 441.8,995.1 442.8,994.5 443.8,994 444.8,993.4 445.8,992.7 446.8,992 447.8,991.2 448.8,990.4 449.8,990.7 450.8,991.5 451.8,992.3 452.8,993 453.8,993.6 454.8,994.2 455.8,994.7 456.8,995.3 457.8,995.7 458.8,996.1 459.8,996.5 460.8,996.7 461.8,997 462.8,997.2 463.8,997.3 464.9,997.3 465.9,997.3 466.9,997.2 467.9,997.1 468.9,996.9 469.9,996.7 470.9,996.4 471.9,996 472.9,995.6 473.9,995.2 474.9,994.6 475.9,994.1 476.9,993.5 477.9,992.8 478.9,992.1 479.9,991.4 480.9,990.5 481.9,990.6 482.9,991.4 483.9,992.1 484.9,992.8 485.9,993.5 486.9,994.1 487.9,994.6 488.9,995.2 489.9,995.6 490.9,996 491.9,996.4 492.9,996.7 494,996.9 495,997.1 496,997.2 497,997.3 498,997.3 499,997.3 500,997.1 501,997 502,996.7 503,996.4 504,996.1 505,995.7 506,995.2 507,994.7 508,994.2" fill="none" stroke="#8c8c8c" stroke-width="0.9"/>
<polyline points="304.3,1000.3 305.3,1000.3 306.3,1000.2 307.3,1000 308.3,999.9 309.3,999.6 310.3,999.4 311.3,999.1 312.3,998.7 313.3,998.3 314.3,997.9 315.3,997.4 316.3,996.9 317.3,996.4 318.3,995.8 319.4,995.2 320.4,995.1 321.4,995.8 322.4,996.3 323.4,996.9 324.4,997.4 325.4,997.8 326.4,998.3 327.4,998.7 328.4,999 329.4,999.3 330.4,999.6 331.4,999.8 332.4,1000 333.4,1000.2 334.4,1000.3 335.4,1000.3 336.4,1000.3 337.4,1000.3 338.4,1000.2 339.4,1000.1 340.4,999.9 341.4,999.7 342.4,999.4 343.4,999.1 344.4,998.8 345.4,998.4 346.4,998 347.4,997.5 348.5,997 349.5,996.5 350.5,995.9 351.5,995.3 352.5,995 353.5,995.6 354.5,996.2 355.5,996.8 356.5,997.3 357.5,997.8 358.5,998.2 359.5,998.6 360.5,999 361.5,999.3 362.5,999.6 363.5,999.8 364.5,1000 365.5,1000.1 366.5,1000.3 367.5,1000.3 368.5,1000.3 369.5,1000.3 370.5,1000.2 371.5,1000.1 372.5,999.9 373.5,999.7 374.5,999.5 375.5,999.2 376.5,998.8 377.6,998.5 378.6,998.1 379.6,997.6 380.6,997.1 381.6,996.6 382.6,996 383.6,995.4 384.6,994.8 385.6,995.5 386.6,996.1 387.6,996.7 388.6,997.2 389.6,997.7 390.6,998.1 391.6,998.5 392.6,998.9 393.6,999.2 394.6,999.5 395.6,999.8 396.6,1000 397.6,1000.1 398.6,1000.2 399.6,1000.3 400.6,1000.3 401.6,1000.3 402.6,1000.2 403.6,1000.1 404.6,1000 405.6,999.8 406.7,999.5 407.7,999.2 408.7,998.9 409.7,998.5 410.7,998.1 411.7,997.7 412.7,997.2 413.7,996.7 414.7,996.2 415.7,995.6 416.7,994.8 417.7,995.4 418.7,996 419.7,996.6 420.7,997.1 421.7,997.6 422.7,998 423.7,998.5 424.7,998.8 425.7,999.2 426.7,999.5 427.7,999.7 428.7,999.9 429.7,1000.1 430.7,1000.2 431.7,1000.3 432.7,1000.3 433.7,1000.3 434.7,1000.3 435.8,1000.2 436.8,1000 437.8,999.8 438.8,999.6 439.8,999.3 440.8,999 441.8,998.6 442.8,998.2 443.8,997.8 444.8,997.3 445.8,996.8 446.8,996.3 447.8,995.7 448.8,995 449.8,995.3 450.8,995.9 451.8,996.5 452.8,997 453.8,997.5 454.8,998 455.8,998.4 456.8,998.8 457.8,999.1 458.8,999.4 459.8,999.7 460.8,999.9 461.8,1000.1 462.8,1000.2 463.8,1000.3 464.9,1000.3 465.9,1000.3 466.9,1000.3 467.9,1000.2 468.9,1000 469.9,999.8 470.9,999.6 471.9,999.3 472.9,999 473.9,998.7 474.9,998.3 475.9,997.9 476.9,997.4 477.9,996.9 478.9,996.4 479.9,995.8 480.9,995.1 481.9,995.1 482.9,995.8 483.9,996.4 484.9,996.9 485.9,997.4 486.9,997.9 487.9,998.3 488.9,998.7 489.9,999 490.9,999.4 491.9,999.6 492.9,999.9 494,1000 495,1000.2 496,1000.3 497,1000.3 498,1000.3 499,1000.3 500,1000.2 501,1000.1 502,999.9 503,999.7 504,999.4 505,999.1 506,998.8 507,998.4 508,998" fill="none" stroke="#878787" stroke-width="0.9"/>
<polygon points="304.3,1005 305.3,1005 306.3,1004.9 307.3,1004.9 308.3,1004.8 309.3,1004.7 310.3,1004.5 311.3,1004.4 312.3,1004.2 313.3,1004 314.3,1003.8 315.3,1003.5 316.3,1003.3 317.3,1003 318.3,1002.7 319.4,1002.3 320.4,1002.3 321.4,1002.6 322.4,1003 323.4,1003.2 324.4,1003.5 325.4,1003.7 326.4,1004 327.4,1004.2 328.4,1004.3 329.4,1004.5 330.4,1004.6 331.4,1004.8 332.4,1004.9 333.4,1004.9 334.4,1005 335.4,1005 336.4,1005 337.4,1005 338.4,1004.9 339.4,1004.9 340.4,1004.8 341.4,1004.7 342.4,1004.5 343.4,1004.4 344.4,1004.2 345.4,1004 346.4,1003.8 347.4,1003.6 348.5,1003.3 349.5,1003 350.5,1002.7 351.5,1002.4 352.5,1002.2 353.5,1002.6 354.5,1002.9 355.5,1003.2 356.5,1003.5 357.5,1003.7 358.5,1003.9 359.5,1004.1 360.5,1004.3 361.5,1004.5 362.5,1004.6 363.5,1004.7 364.5,1004.8 365.5,1004.9 366.5,1005 367.5,1005 368.5,1005 369.5,1005 370.5,1005 371.5,1004.9 372.5,1004.8 373.5,1004.7 374.5,1004.6 375.5,1004.4 376.5,1004.3 377.6,1004.1 378.6,1003.9 379.6,1003.6 380.6,1003.4 381.6,1003.1 382.6,1002.8 383.6,1002.4 384.6,1002.1 385.6,1002.5 386.6,1002.8 387.6,1003.1 388.6,1003.4 389.6,1003.7 390.6,1003.9 391.6,1004.1 392.6,1004.3 393.6,1004.4 394.6,1004.6 395.6,1004.7 396.6,1004.8 397.6,1004.9 398.6,1005 399.6,1005 400.6,1005 401.6,1005 402.6,1005 403.6,1004.9 404.6,1004.8 405.6,1004.7 406.7,1004.6 407.7,1004.5 408.7,1004.3 409.7,1004.1 410.7,1003.9 411.7,1003.7 412.7,1003.4 413.7,1003.1 414.7,1002.8 415.7,1002.5 416.7,1002.1 417.7,1002.4 418.7,1002.8 419.7,1003.1 420.7,1003.4 421.7,1003.6 422.7,1003.8 423.7,1004.1 424.7,1004.2 425.7,1004.4 426.7,1004.6 427.7,1004.7 428.7,1004.8 429.7,1004.9 430.7,1004.9 431.7,1005 432.7,1005 433.7,1005 434.7,1005 435.8,1004.9 436.8,1004.8 437.8,1004.7 438.8,1004.6 439.8,1004.5 440.8,1004.3 441.8,1004.1 442.8,1003.9 443.8,1003.7 444.8,1003.5 445.8,1003.2 446.8,1002.9 447.8,1002.6 448.8,1002.2 449.8,1002.4 450.8,1002.7 451.8,1003 452.8,1003.3 453.8,1003.6 454.8,1003.8 455.8,1004 456.8,1004.2 457.8,1004.4 458.8,1004.5 459.8,1004.7 460.8,1004.8 461.8,1004.9 462.8,1004.9 463.8,1005 464.9,1005 465.9,1005 466.9,1005 467.9,1004.9 468.9,1004.9 469.9,1004.8 470.9,1004.6 471.9,1004.5 472.9,1004.4 473.9,1004.2 474.9,1004 475.9,1003.8 476.9,1003.5 477.9,1003.3 478.9,1003 479.9,1002.6 480.9,1002.3 481.9,1002.3 482.9,1002.7 483.9,1003 484.9,1003.3 485.9,1003.5 486.9,1003.8 487.9,1004 488.9,1004.2 489.9,1004.4 490.9,1004.5 491.9,1004.7 492.9,1004.8 494,1004.9 495,1004.9 496,1005 497,1005 498,1005 499,1005 500,1004.9 501,1004.9 502,1004.8 503,1004.7 504,1004.5 505,1004.4 506,1004.2 507,1004 508,1003.8 508,1019.3 304.3,1019.3" fill="#585858"/>
<polyline points="304.3,1005 305.3,1005 306.3,1004.9 307.3,1004.9 308.3,1004.8 309.3,1004.7 310.3,1004.5 311.3,1004.4 312.3,1004.2 313.3,1004 314.3,1003.8 315.3,1003.5 316.3,1003.3 317.3,1003 318.3,1002.7 319.4,1002.3 320.4,1002.3 321.4,1002.6 322.4,1003 323.4,1003.2 324.4,1003.5 325.4,1003.7 326.4,1004 327.4,1004.2 328.4,1004.3 329.4,1004.5 330.4,1004.6 331.4,1004.8 332.4,1004.9 333.4,1004.9 334.4,1005 335.4,1005 336.4,1005 337.4,1005 338.4,1004.9 339.4,1004.9 340.4,1004.8 341.4,1004.7 342.4,1004.5 343.4,1004.4 344.4,1004.2 345.4,1004 346.4,1003.8 347.4,1003.6 348.5,1003.3 349.5,1003 350.5,1002.7 351.5,1002.4 352.5,1002.2 353.5,1002.6 354.5,1002.9 355.5,1003.2 356.5,1003.5 357.5,1003.7 358.5,1003.9 359.5,1004.1 360.5,1004.3 361.5,1004.5 362.5,1004.6 363.5,1004.7 364.5,1004.8 365.5,1004.9 366.5,1005 367.5,1005 368.5,1005 369.5,1005 370.5,1005 371.5,1004.9 372.5,1004.8 373.5,1004.7 374.5,1004.6 375.5,1004.4 376.5,1004.3 377.6,1004.1 378.6,1003.9 379.6,1003.6 380.6,1003.4 381.6,1003.1 382.6,1002.8 383.6,1002.4 384.6,1002.1 385.6,1002.5 386.6,1002.8 387.6,1003.1 388.6,1003.4 389.6,1003.7 390.6,1003.9 391.6,1004.1 392.6,1004.3 393.6,1004.4 394.6,1004.6 395.6,1004.7 396.6,1004.8 397.6,1004.9 398.6,1005 399.6,1005 400.6,1005 401.6,1005 402.6,1005 403.6,1004.9 404.6,1004.8 405.6,1004.7 406.7,1004.6 407.7,1004.5 408.7,1004.3 409.7,1004.1 410.7,1003.9 411.7,1003.7 412.7,1003.4 413.7,1003.1 414.7,1002.8 415.7,1002.5 416.7,1002.1 417.7,1002.4 418.7,1002.8 419.7,1003.1 420.7,1003.4 421.7,1003.6 422.7,1003.8 423.7,1004.1 424.7,1004.2 425.7,1004.4 426.7,1004.6 427.7,1004.7 428.7,1004.8 429.7,1004.9 430.7,1004.9 431.7,1005 432.7,1005 433.7,1005 434.7,1005 435.8,1004.9 436.8,1004.8 437.8,1004.7 438.8,1004.6 439.8,1004.5 440.8,1004.3 441.8,1004.1 442.8,1003.9 443.8,1003.7 444.8,1003.5 445.8,1003.2 446.8,1002.9 447.8,1002.6 448.8,1002.2 449.8,1002.4 450.8,1002.7 451.8,1003 452.8,1003.3 453.8,1003.6 454.8,1003.8 455.8,1004 456.8,1004.2 457.8,1004.4 458.8,1004.5 459.8,1004.7 460.8,1004.8 461.8,1004.9 462.8,1004.9 463.8,1005 464.9,1005 465.9,1005 466.9,1005 467.9,1004.9 468.9,1004.9 469.9,1004.8 470.9,1004.6 471.9,1004.5 472.9,1004.4 473.9,1004.2 474.9,1004 475.9,1003.8 476.9,1003.5 477.9,1003.3 478.9,1003 479.9,1002.6 480.9,1002.3 481.9,1002.3 482.9,1002.7 483.9,1003 484.9,1003.3 485.9,1003.5 486.9,1003.8 487.9,1004 488.9,1004.2 489.9,1004.4 490.9,1004.5 491.9,1004.7 492.9,1004.8 494,1004.9 495,1004.9 496,1005 497,1005 498,1005 499,1005 500,1004.9 501,1004.9 502,1004.8 503,1004.7 504,1004.5 505,1004.4 506,1004.2 507,1004 508,1003.8" fill="none" stroke="#fafafa" stroke-width="3"/>
<polyline points="304.3,1009.5 305.3,1009.5 306.3,1009.4 307.3,1009.4 308.3,1009.3 309.3,1009.2 310.3,1009 311.3,1008.9 312.3,1008.7 313.3,1008.5 314.3,1008.3 315.3,1008 316.3,1007.8 317.3,1007.5 318.3,1007.2 319.4,1006.8 320.4,1006.8 321.4,1007.1 322.4,1007.5 323.4,1007.7 324.4,1008 325.4,1008.2 326.4,1008.5 327.4,1008.7 328.4,1008.8 329.4,1009 330.4,1009.1 331.4,1009.3 332.4,1009.4 333.4,1009.4 334.4,1009.5 335.4,1009.5 336.4,1009.5 337.4,1009.5 338.4,1009.4 339.4,1009.4 340.4,1009.3 341.4,1009.2 342.4,1009 343.4,1008.9 344.4,1008.7 345.4,1008.5 346.4,1008.3 347.4,1008.1 348.5,1007.8 349.5,1007.5 350.5,1007.2 351.5,1006.9 352.5,1006.7 353.5,1007.1 354.5,1007.4 355.5,1007.7 356.5,1008 357.5,1008.2 358.5,1008.4 359.5,1008.6 360.5,1008.8 361.5,1009 362.5,1009.1 363.5,1009.2 364.5,1009.3 365.5,1009.4 366.5,1009.5 367.5,1009.5 368.5,1009.5 369.5,1009.5 370.5,1009.5 371.5,1009.4 372.5,1009.3 373.5,1009.2 374.5,1009.1 375.5,1008.9 376.5,1008.8 377.6,1008.6 378.6,1008.4 379.6,1008.1 380.6,1007.9 381.6,1007.6 382.6,1007.3 383.6,1006.9 384.6,1006.6 385.6,1007 386.6,1007.3 387.6,1007.6 388.6,1007.9 389.6,1008.2 390.6,1008.4 391.6,1008.6 392.6,1008.8 393.6,1008.9 394.6,1009.1 395.6,1009.2 396.6,1009.3 397.6,1009.4 398.6,1009.5 399.6,1009.5 400.6,1009.5 401.6,1009.5 402.6,1009.5 403.6,1009.4 404.6,1009.3 405.6,1009.2 406.7,1009.1 407.7,1009 408.7,1008.8 409.7,1008.6 410.7,1008.4 411.7,1008.2 412.7,1007.9 413.7,1007.6 414.7,1007.3 415.7,1007 416.7,1006.6 417.7,1006.9 418.7,1007.3 419.7,1007.6 420.7,1007.9 421.7,1008.1 422.7,1008.3 423.7,1008.6 424.7,1008.7 425.7,1008.9 426.7,1009.1 427.7,1009.2 428.7,1009.3 429.7,1009.4 430.7,1009.4 431.7,1009.5 432.7,1009.5 433.7,1009.5 434.7,1009.5 435.8,1009.4 436.8,1009.3 437.8,1009.2 438.8,1009.1 439.8,1009 440.8,1008.8 441.8,1008.6 442.8,1008.4 443.8,1008.2 444.8,1008 445.8,1007.7 446.8,1007.4 447.8,1007.1 448.8,1006.7 449.8,1006.9 450.8,1007.2 451.8,1007.5 452.8,1007.8 453.8,1008.1 454.8,1008.3 455.8,1008.5 456.8,1008.7 457.8,1008.9 458.8,1009 459.8,1009.2 460.8,1009.3 461.8,1009.4 462.8,1009.4 463.8,1009.5 464.9,1009.5 465.9,1009.5 466.9,1009.5 467.9,1009.4 468.9,1009.4 469.9,1009.3 470.9,1009.1 471.9,1009 472.9,1008.9 473.9,1008.7 474.9,1008.5 475.9,1008.3 476.9,1008 477.9,1007.8 478.9,1007.5 479.9,1007.1 480.9,1006.8 481.9,1006.8 482.9,1007.2 483.9,1007.5 484.9,1007.8 485.9,1008 486.9,1008.3 487.9,1008.5 488.9,1008.7 489.9,1008.9 490.9,1009 491.9,1009.2 492.9,1009.3 494,1009.4 495,1009.4 496,1009.5 497,1009.5 498,1009.5 499,1009.5 500,1009.4 501,1009.4 502,1009.3 503,1009.2 504,1009 505,1008.9 506,1008.7 507,1008.5 508,1008.3" fill="none" stroke="#bebebe" stroke-width="1"/>
</g>
<rect x="299.2" y="933.7" width="3.4" height="85.6" fill="url(#gbar)"/>
<line x1="510.5" y1="934.2" x2="510.5" y2="1019.3" stroke="#8c8c8c" stroke-width="0.8" stroke-dasharray="0.8 2.2"/>
<text x="513.5" y="935.5" font-size="3.4" fill="#d0d0d0" font-weight="bold" font-family="'Liberation Sans', Arial, sans-serif">3.6</text>
<text x="513.5" y="952.5" font-size="3.4" fill="#d0d0d0" font-weight="bold" font-family="'Liberation Sans', Arial, sans-serif">7.4</text>
<text x="513.5" y="969.5" font-size="3.4" fill="#d0d0d0" font-weight="bold" font-family="'Liberation Sans', Arial, sans-serif">10.8</text>
<text x="513.5" y="986.6" font-size="3.4" fill="#d0d0d0" font-weight="bold" font-family="'Liberation Sans', Arial, sans-serif">13.8</text>
<text x="513.5" y="1003.6" font-size="3.4" fill="#d0d0d0" font-weight="bold" font-family="'Liberation Sans', Arial, sans-serif">16.6</text>
<text x="513.5" y="1020.6" font-size="3.4" fill="#d0d0d0" font-weight="bold" font-family="'Liberation Sans', Arial, sans-serif">19.8</text>
<rect x="304.3" y="1022.3" width="203.7" height="9" fill="none" stroke="#141414" stroke-width="0.8"/>
<text x="300" y="866.8" font-size="14" fill="#fff" font-family="'Liberation Sans', Arial, sans-serif">(<tspan font-weight="bold">2</tspan>)</text>
<g filter="url(#spk2)">
<rect x="144.4" y="1041.5" width="60.8" height="67.3" fill="#505050"/>
<rect x="144.4" y="1041.5" width="60.8" height="9.4" fill="#696969"/>
<g filter="url(#blur1)">
<path d="M146.2 1052.3 Q171.8 1048.2 204 1056.3" stroke="#bebebe" stroke-width="1.6" fill="none" stroke-linecap="round"/>
<path d="M147.4 1059 Q174.8 1055 203.4 1061.7" stroke="#828282" stroke-width="1.2" fill="none" stroke-linecap="round"/>
<ellipse cx="169.1" cy="1071.8" rx="15.8" ry="13.5" fill="#2d2d2d"/>
<ellipse cx="185.7" cy="1071.8" rx="8.5" ry="14.8" fill="#373737" opacity="0.8"/>
<path d="M149.3 1080.5 Q157.8 1099.4 180.9 1095.3" stroke="#e6e6e6" stroke-width="2.4" fill="none" stroke-linecap="round"/>
<path d="M156.6 1078.5 Q165.7 1090 177.8 1088.6" stroke="#969696" stroke-width="1.2" fill="none" stroke-linecap="round"/>
<rect x="177.8" y="1097.4" width="27.4" height="7.4" fill="#919191"/>
<rect x="144.4" y="1099.4" width="30.4" height="9.4" fill="#646464"/>
</g>
<line x1="176.3" y1="1092.8" x2="180.9" y2="1094.4" stroke="#a4a4a4" stroke-width="0.9" />
<line x1="188.9" y1="1061" x2="195.8" y2="1062.3" stroke="#919191" stroke-width="0.9" />
<line x1="191.5" y1="1078.3" x2="197.2" y2="1081.9" stroke="#979797" stroke-width="0.9" />
<line x1="161.2" y1="1067.2" x2="167.2" y2="1064.6" stroke="#969696" stroke-width="0.9" />
<line x1="181" y1="1073.1" x2="189.1" y2="1076.6" stroke="#939393" stroke-width="0.9" />
</g>
<line x1="174.8" y1="1042.5" x2="174.8" y2="1107.8" stroke="#7d7a22" stroke-width="0.8" stroke-dasharray="1.5 0.8"/>
<line x1="207.7" y1="1042" x2="207.7" y2="1108.8" stroke="#8c8c8c" stroke-width="0.8" stroke-dasharray="0.8 2.2"/>
<text x="210.7" y="1043.3" font-size="3.6" fill="#d0d0d0" font-weight="bold" font-family="'Liberation Sans', Arial, sans-serif">0 mm</text>
<text x="210.7" y="1060" font-size="3.6" fill="#d0d0d0" font-weight="bold" font-family="'Liberation Sans', Arial, sans-serif">5</text>
<text x="210.7" y="1076.7" font-size="3.6" fill="#d0d0d0" font-weight="bold" font-family="'Liberation Sans', Arial, sans-serif">10</text>
<text x="210.7" y="1093.4" font-size="3.6" fill="#d0d0d0" font-weight="bold" font-family="'Liberation Sans', Arial, sans-serif">15</text>
<text x="210.7" y="1110.1" font-size="3.6" fill="#d0d0d0" font-weight="bold" font-family="'Liberation Sans', Arial, sans-serif">20</text>
<rect x="208.5" y="1076.3" width="1.8" height="1.8" fill="#ffee00"/>
<path d="M214.7 1044 Q215.7 1075.4 217.7 1107.8" stroke="#9a9a9a" stroke-width="0.7" fill="none"/>
<g filter="url(#spk)">
<rect x="71.9" y="1117.2" width="205.8" height="86.6" fill="#525252"/>
<rect x="71.9" y="1117.2" width="205.8" height="5" fill="#6e6e6e"/>
<line x1="71.9" y1="1125.8" x2="277.7" y2="1125.8" stroke="#b4b4b4" stroke-width="1.6"/>
<line x1="71.9" y1="1128" x2="277.7" y2="1128" stroke="#7c7c7c" stroke-width="0.7"/>
<line x1="71.9" y1="1130.8" x2="277.7" y2="1130.8" stroke="#7e7e7e" stroke-width="0.7"/>
<line x1="71.9" y1="1133.6" x2="277.7" y2="1133.6" stroke="#6b6b6b" stroke-width="0.7"/>
<line x1="71.9" y1="1135.6" x2="277.7" y2="1135.6" stroke="#868686" stroke-width="0.7"/>
<polyline points="71.9,1142.1 72.9,1143.1 73.9,1143.1 74.9,1142.1 75.9,1141.2 76.9,1140.5 77.9,1139.8 78.9,1139.2 79.9,1138.6 80.9,1138.1 81.9,1137.6 82.9,1137.2 83.9,1136.8 85,1136.5 86,1136.2 87,1136 88,1135.9 89,1135.7 90,1135.7 91,1135.7 92,1135.7 93,1135.8 94,1135.9 95,1136.1 96,1136.3 97,1136.6 98,1137 99,1137.3 100,1137.8 101,1138.3 102,1138.8 103,1139.4 104,1140 105,1140.7 106,1141.5 107,1142.4 108,1143.6 109,1142.7 110,1141.8 111.1,1141 112.1,1140.2 113.1,1139.6 114.1,1139 115.1,1138.4 116.1,1137.9 117.1,1137.5 118.1,1137.1 119.1,1136.7 120.1,1136.4 121.1,1136.2 122.1,1136 123.1,1135.8 124.1,1135.7 125.1,1135.7 126.1,1135.7 127.1,1135.7 128.1,1135.8 129.1,1136 130.1,1136.2 131.1,1136.4 132.1,1136.7 133.1,1137.1 134.1,1137.5 135.1,1137.9 136.1,1138.4 137.2,1139 138.2,1139.6 139.2,1140.3 140.2,1141 141.2,1141.8 142.2,1142.8 143.2,1143.6 144.2,1142.4 145.2,1141.5 146.2,1140.7 147.2,1140 148.2,1139.4 149.2,1138.8 150.2,1138.3 151.2,1137.8 152.2,1137.3 153.2,1137 154.2,1136.6 155.2,1136.3 156.2,1136.1 157.2,1135.9 158.2,1135.8 159.2,1135.7 160.2,1135.7 161.2,1135.7 162.3,1135.7 163.3,1135.9 164.3,1136 165.3,1136.3 166.3,1136.5 167.3,1136.8 168.3,1137.2 169.3,1137.6 170.3,1138.1 171.3,1138.6 172.3,1139.2 173.3,1139.8 174.3,1140.5 175.3,1141.3 176.3,1142.1 177.3,1143.1 178.3,1143.1 179.3,1142.1 180.3,1141.2 181.3,1140.5 182.3,1139.8 183.3,1139.2 184.3,1138.6 185.3,1138.1 186.3,1137.6 187.3,1137.2 188.4,1136.8 189.4,1136.5 190.4,1136.2 191.4,1136 192.4,1135.9 193.4,1135.7 194.4,1135.7 195.4,1135.7 196.4,1135.7 197.4,1135.8 198.4,1135.9 199.4,1136.1 200.4,1136.3 201.4,1136.6 202.4,1137 203.4,1137.3 204.4,1137.8 205.4,1138.3 206.4,1138.8 207.4,1139.4 208.4,1140 209.4,1140.7 210.4,1141.5 211.4,1142.4 212.4,1143.6 213.5,1142.7 214.5,1141.8 215.5,1141 216.5,1140.2 217.5,1139.6 218.5,1139 219.5,1138.4 220.5,1137.9 221.5,1137.5 222.5,1137.1 223.5,1136.7 224.5,1136.4 225.5,1136.2 226.5,1136 227.5,1135.8 228.5,1135.7 229.5,1135.7 230.5,1135.7 231.5,1135.7 232.5,1135.8 233.5,1136 234.5,1136.2 235.5,1136.4 236.5,1136.7 237.5,1137.1 238.5,1137.5 239.6,1137.9 240.6,1138.4 241.6,1139 242.6,1139.6 243.6,1140.3 244.6,1141 245.6,1141.8 246.6,1142.8 247.6,1143.6 248.6,1142.4 249.6,1141.5 250.6,1140.7 251.6,1140 252.6,1139.4 253.6,1138.8 254.6,1138.3 255.6,1137.8 256.6,1137.3 257.6,1137 258.6,1136.6 259.6,1136.3 260.6,1136.1 261.6,1135.9 262.6,1135.8 263.6,1135.7 264.6,1135.7 265.7,1135.7 266.7,1135.7 267.7,1135.9 268.7,1136 269.7,1136.3 270.7,1136.5 271.7,1136.8 272.7,1137.2 273.7,1137.6 274.7,1138.1 275.7,1138.6 276.7,1139.2 277.7,1139.8" fill="none" stroke="#767676" stroke-width="0.8"/>
<polyline points="71.9,1140.2 72.9,1141.3 73.9,1141.3 74.9,1140.2 75.9,1139.2 76.9,1138.4 77.9,1137.7 78.9,1137 79.9,1136.4 80.9,1135.8 81.9,1135.3 82.9,1134.8 83.9,1134.4 85,1134.1 86,1133.8 87,1133.6 88,1133.4 89,1133.2 90,1133.2 91,1133.2 92,1133.2 93,1133.3 94,1133.4 95,1133.6 96,1133.9 97,1134.2 98,1134.6 99,1135 100,1135.5 101,1136 102,1136.6 103,1137.2 104,1137.9 105,1138.7 106,1139.5 107,1140.5 108,1141.8 109,1140.9 110,1139.8 111.1,1138.9 112.1,1138.2 113.1,1137.4 114.1,1136.8 115.1,1136.2 116.1,1135.6 117.1,1135.1 118.1,1134.7 119.1,1134.3 120.1,1134 121.1,1133.7 122.1,1133.5 123.1,1133.3 124.1,1133.2 125.1,1133.2 126.1,1133.2 127.1,1133.2 128.1,1133.3 129.1,1133.5 130.1,1133.7 131.1,1134 132.1,1134.3 133.1,1134.7 134.1,1135.2 135.1,1135.6 136.1,1136.2 137.2,1136.8 138.2,1137.5 139.2,1138.2 140.2,1139 141.2,1139.9 142.2,1140.9 143.2,1141.8 144.2,1140.5 145.2,1139.5 146.2,1138.7 147.2,1137.9 148.2,1137.2 149.2,1136.6 150.2,1136 151.2,1135.5 152.2,1135 153.2,1134.6 154.2,1134.2 155.2,1133.9 156.2,1133.6 157.2,1133.4 158.2,1133.3 159.2,1133.2 160.2,1133.2 161.2,1133.2 162.3,1133.3 163.3,1133.4 164.3,1133.6 165.3,1133.8 166.3,1134.1 167.3,1134.5 168.3,1134.9 169.3,1135.3 170.3,1135.8 171.3,1136.4 172.3,1137 173.3,1137.7 174.3,1138.4 175.3,1139.3 176.3,1140.2 177.3,1141.3 178.3,1141.3 179.3,1140.2 180.3,1139.2 181.3,1138.4 182.3,1137.7 183.3,1137 184.3,1136.4 185.3,1135.8 186.3,1135.3 187.3,1134.8 188.4,1134.4 189.4,1134.1 190.4,1133.8 191.4,1133.6 192.4,1133.4 193.4,1133.2 194.4,1133.2 195.4,1133.2 196.4,1133.2 197.4,1133.3 198.4,1133.4 199.4,1133.6 200.4,1133.9 201.4,1134.2 202.4,1134.6 203.4,1135 204.4,1135.5 205.4,1136 206.4,1136.6 207.4,1137.2 208.4,1137.9 209.4,1138.7 210.4,1139.6 211.4,1140.5 212.4,1141.8 213.5,1140.9 214.5,1139.8 215.5,1138.9 216.5,1138.2 217.5,1137.4 218.5,1136.8 219.5,1136.2 220.5,1135.6 221.5,1135.1 222.5,1134.7 223.5,1134.3 224.5,1134 225.5,1133.7 226.5,1133.5 227.5,1133.3 228.5,1133.2 229.5,1133.2 230.5,1133.2 231.5,1133.2 232.5,1133.3 233.5,1133.5 234.5,1133.7 235.5,1134 236.5,1134.3 237.5,1134.7 238.5,1135.2 239.6,1135.6 240.6,1136.2 241.6,1136.8 242.6,1137.5 243.6,1138.2 244.6,1139 245.6,1139.9 246.6,1140.9 247.6,1141.8 248.6,1140.5 249.6,1139.5 250.6,1138.7 251.6,1137.9 252.6,1137.2 253.6,1136.6 254.6,1136 255.6,1135.5 256.6,1135 257.6,1134.6 258.6,1134.2 259.6,1133.9 260.6,1133.6 261.6,1133.4 262.6,1133.3 263.6,1133.2 264.6,1133.2 265.7,1133.2 266.7,1133.3 267.7,1133.4 268.7,1133.6 269.7,1133.8 270.7,1134.1 271.7,1134.5 272.7,1134.9 273.7,1135.3 274.7,1135.8 275.7,1136.4 276.7,1137 277.7,1137.7" fill="none" stroke="#767676" stroke-width="0.8"/>
<polyline points="71.9,1137.9 72.9,1139.1 73.9,1139.1 74.9,1137.9 75.9,1136.8 76.9,1135.9 77.9,1135.1 78.9,1134.4 79.9,1133.7 80.9,1133.1 81.9,1132.5 82.9,1132 83.9,1131.6 85,1131.2 86,1130.9 87,1130.6 88,1130.4 89,1130.3 90,1130.2 91,1130.2 92,1130.2 93,1130.3 94,1130.5 95,1130.7 96,1131 97,1131.3 98,1131.7 99,1132.2 100,1132.7 101,1133.3 102,1133.9 103,1134.6 104,1135.4 105,1136.2 106,1137.2 107,1138.3 108,1139.7 109,1138.6 110,1137.5 111.1,1136.5 112.1,1135.7 113.1,1134.9 114.1,1134.1 115.1,1133.5 116.1,1132.9 117.1,1132.3 118.1,1131.9 119.1,1131.4 120.1,1131.1 121.1,1130.8 122.1,1130.5 123.1,1130.3 124.1,1130.2 125.1,1130.2 126.1,1130.2 127.1,1130.2 128.1,1130.4 129.1,1130.5 130.1,1130.8 131.1,1131.1 132.1,1131.4 133.1,1131.9 134.1,1132.4 135.1,1132.9 136.1,1133.5 137.2,1134.2 138.2,1134.9 139.2,1135.7 140.2,1136.5 141.2,1137.5 142.2,1138.7 143.2,1139.6 144.2,1138.2 145.2,1137.2 146.2,1136.2 147.2,1135.4 148.2,1134.6 149.2,1133.9 150.2,1133.3 151.2,1132.7 152.2,1132.2 153.2,1131.7 154.2,1131.3 155.2,1131 156.2,1130.7 157.2,1130.5 158.2,1130.3 159.2,1130.2 160.2,1130.2 161.2,1130.2 162.3,1130.3 163.3,1130.4 164.3,1130.6 165.3,1130.9 166.3,1131.2 167.3,1131.6 168.3,1132 169.3,1132.5 170.3,1133.1 171.3,1133.7 172.3,1134.4 173.3,1135.1 174.3,1136 175.3,1136.9 176.3,1137.9 177.3,1139.1 178.3,1139.1 179.3,1137.9 180.3,1136.8 181.3,1135.9 182.3,1135.1 183.3,1134.4 184.3,1133.7 185.3,1133.1 186.3,1132.5 187.3,1132 188.4,1131.6 189.4,1131.2 190.4,1130.9 191.4,1130.6 192.4,1130.4 193.4,1130.3 194.4,1130.2 195.4,1130.2 196.4,1130.2 197.4,1130.3 198.4,1130.5 199.4,1130.7 200.4,1131 201.4,1131.3 202.4,1131.7 203.4,1132.2 204.4,1132.7 205.4,1133.3 206.4,1133.9 207.4,1134.6 208.4,1135.4 209.4,1136.3 210.4,1137.2 211.4,1138.3 212.4,1139.7 213.5,1138.6 214.5,1137.5 215.5,1136.5 216.5,1135.6 217.5,1134.9 218.5,1134.1 219.5,1133.5 220.5,1132.9 221.5,1132.3 222.5,1131.9 223.5,1131.4 224.5,1131.1 225.5,1130.8 226.5,1130.5 227.5,1130.3 228.5,1130.2 229.5,1130.2 230.5,1130.2 231.5,1130.2 232.5,1130.4 233.5,1130.5 234.5,1130.8 235.5,1131.1 236.5,1131.4 237.5,1131.9 238.5,1132.4 239.6,1132.9 240.6,1133.5 241.6,1134.2 242.6,1134.9 243.6,1135.7 244.6,1136.6 245.6,1137.5 246.6,1138.7 247.6,1139.6 248.6,1138.2 249.6,1137.2 250.6,1136.2 251.6,1135.4 252.6,1134.6 253.6,1133.9 254.6,1133.3 255.6,1132.7 256.6,1132.2 257.6,1131.7 258.6,1131.3 259.6,1131 260.6,1130.7 261.6,1130.5 262.6,1130.3 263.6,1130.2 264.6,1130.2 265.7,1130.2 266.7,1130.3 267.7,1130.4 268.7,1130.6 269.7,1130.9 270.7,1131.2 271.7,1131.6 272.7,1132 273.7,1132.5 274.7,1133.1 275.7,1133.7 276.7,1134.4 277.7,1135.1" fill="none" stroke="#767676" stroke-width="0.8"/>
<polygon points="71.9,1144 72.9,1145 73.9,1144.9 74.9,1144 75.9,1143.2 76.9,1142.5 77.9,1141.9 78.9,1141.4 79.9,1140.8 80.9,1140.4 81.9,1139.9 82.9,1139.6 83.9,1139.2 85,1138.9 86,1138.7 87,1138.5 88,1138.3 89,1138.2 90,1138.2 91,1138.2 92,1138.2 93,1138.3 94,1138.4 95,1138.6 96,1138.8 97,1139 98,1139.3 99,1139.7 100,1140.1 101,1140.5 102,1141 103,1141.5 104,1142.1 105,1142.8 106,1143.5 107,1144.3 108,1145.4 109,1144.6 110,1143.7 111.1,1143 112.1,1142.3 113.1,1141.7 114.1,1141.2 115.1,1140.7 116.1,1140.2 117.1,1139.8 118.1,1139.4 119.1,1139.1 120.1,1138.9 121.1,1138.6 122.1,1138.4 123.1,1138.3 124.1,1138.2 125.1,1138.2 126.1,1138.2 127.1,1138.2 128.1,1138.3 129.1,1138.4 130.1,1138.6 131.1,1138.9 132.1,1139.1 133.1,1139.5 134.1,1139.8 135.1,1140.2 136.1,1140.7 137.2,1141.2 138.2,1141.7 139.2,1142.3 140.2,1143 141.2,1143.7 142.2,1144.6 143.2,1145.3 144.2,1144.3 145.2,1143.5 146.2,1142.8 147.2,1142.1 148.2,1141.5 149.2,1141 150.2,1140.5 151.2,1140.1 152.2,1139.7 153.2,1139.3 154.2,1139 155.2,1138.8 156.2,1138.6 157.2,1138.4 158.2,1138.3 159.2,1138.2 160.2,1138.2 161.2,1138.2 162.3,1138.2 163.3,1138.3 164.3,1138.5 165.3,1138.7 166.3,1138.9 167.3,1139.2 168.3,1139.6 169.3,1140 170.3,1140.4 171.3,1140.9 172.3,1141.4 173.3,1141.9 174.3,1142.6 175.3,1143.2 176.3,1144 177.3,1145 178.3,1144.9 179.3,1144 180.3,1143.2 181.3,1142.5 182.3,1141.9 183.3,1141.4 184.3,1140.8 185.3,1140.4 186.3,1139.9 187.3,1139.6 188.4,1139.2 189.4,1138.9 190.4,1138.7 191.4,1138.5 192.4,1138.3 193.4,1138.2 194.4,1138.2 195.4,1138.2 196.4,1138.2 197.4,1138.3 198.4,1138.4 199.4,1138.6 200.4,1138.8 201.4,1139 202.4,1139.3 203.4,1139.7 204.4,1140.1 205.4,1140.5 206.4,1141 207.4,1141.6 208.4,1142.1 209.4,1142.8 210.4,1143.5 211.4,1144.3 212.4,1145.4 213.5,1144.6 214.5,1143.7 215.5,1143 216.5,1142.3 217.5,1141.7 218.5,1141.2 219.5,1140.7 220.5,1140.2 221.5,1139.8 222.5,1139.4 223.5,1139.1 224.5,1138.9 225.5,1138.6 226.5,1138.4 227.5,1138.3 228.5,1138.2 229.5,1138.2 230.5,1138.2 231.5,1138.2 232.5,1138.3 233.5,1138.4 234.5,1138.6 235.5,1138.9 236.5,1139.1 237.5,1139.5 238.5,1139.8 239.6,1140.2 240.6,1140.7 241.6,1141.2 242.6,1141.7 243.6,1142.3 244.6,1143 245.6,1143.8 246.6,1144.6 247.6,1145.3 248.6,1144.3 249.6,1143.5 250.6,1142.8 251.6,1142.1 252.6,1141.5 253.6,1141 254.6,1140.5 255.6,1140.1 256.6,1139.7 257.6,1139.3 258.6,1139 259.6,1138.8 260.6,1138.6 261.6,1138.4 262.6,1138.3 263.6,1138.2 264.6,1138.2 265.7,1138.2 266.7,1138.2 267.7,1138.3 268.7,1138.5 269.7,1138.7 270.7,1138.9 271.7,1139.2 272.7,1139.6 273.7,1140 274.7,1140.4 275.7,1140.9 276.7,1141.4 277.7,1141.9 277.7,1171 276.7,1171.9 275.7,1172.7 274.7,1173.5 273.7,1174.2 272.7,1174.8 271.7,1175.4 270.7,1175.9 269.7,1176.3 268.7,1176.7 267.7,1177 266.7,1177.2 265.7,1177.3 264.6,1177.3 263.6,1177.2 262.6,1177.1 261.6,1176.9 260.6,1176.6 259.6,1176.2 258.6,1175.8 257.6,1175.2 256.6,1174.6 255.6,1174 254.6,1173.2 253.6,1172.5 252.6,1171.6 251.6,1170.7 250.6,1169.7 249.6,1168.7 248.6,1167.6 247.6,1166.4 246.6,1167.2 245.6,1168.3 244.6,1169.4 243.6,1170.3 242.6,1171.3 241.6,1172.1 240.6,1173 239.6,1173.7 238.5,1174.4 237.5,1175 236.5,1175.6 235.5,1176.1 234.5,1176.5 233.5,1176.8 232.5,1177 231.5,1177.2 230.5,1177.3 229.5,1177.3 228.5,1177.2 227.5,1177 226.5,1176.8 225.5,1176.5 224.5,1176.1 223.5,1175.6 222.5,1175 221.5,1174.4 220.5,1173.7 219.5,1173 218.5,1172.2 217.5,1171.3 216.5,1170.4 215.5,1169.4 214.5,1168.4 213.5,1167.2 212.4,1166.4 211.4,1167.6 210.4,1168.7 209.4,1169.7 208.4,1170.7 207.4,1171.6 206.4,1172.4 205.4,1173.2 204.4,1174 203.4,1174.6 202.4,1175.2 201.4,1175.8 200.4,1176.2 199.4,1176.6 198.4,1176.9 197.4,1177.1 196.4,1177.2 195.4,1177.3 194.4,1177.3 193.4,1177.2 192.4,1177 191.4,1176.7 190.4,1176.4 189.4,1175.9 188.4,1175.4 187.3,1174.8 186.3,1174.2 185.3,1173.5 184.3,1172.7 183.3,1171.9 182.3,1171 181.3,1170.1 180.3,1169.1 179.3,1168 178.3,1166.8 177.3,1166.8 176.3,1168 175.3,1169 174.3,1170 173.3,1171 172.3,1171.9 171.3,1172.7 170.3,1173.5 169.3,1174.2 168.3,1174.8 167.3,1175.4 166.3,1175.9 165.3,1176.3 164.3,1176.7 163.3,1177 162.3,1177.2 161.2,1177.3 160.2,1177.3 159.2,1177.2 158.2,1177.1 157.2,1176.9 156.2,1176.6 155.2,1176.2 154.2,1175.8 153.2,1175.2 152.2,1174.6 151.2,1174 150.2,1173.2 149.2,1172.5 148.2,1171.6 147.2,1170.7 146.2,1169.7 145.2,1168.7 144.2,1167.6 143.2,1166.4 142.2,1167.2 141.2,1168.3 140.2,1169.4 139.2,1170.4 138.2,1171.3 137.2,1172.2 136.1,1173 135.1,1173.7 134.1,1174.4 133.1,1175 132.1,1175.6 131.1,1176.1 130.1,1176.5 129.1,1176.8 128.1,1177 127.1,1177.2 126.1,1177.3 125.1,1177.3 124.1,1177.2 123.1,1177 122.1,1176.8 121.1,1176.5 120.1,1176.1 119.1,1175.6 118.1,1175 117.1,1174.4 116.1,1173.7 115.1,1173 114.1,1172.2 113.1,1171.3 112.1,1170.4 111.1,1169.4 110,1168.4 109,1167.2 108,1166.4 107,1167.6 106,1168.7 105,1169.7 104,1170.7 103,1171.6 102,1172.4 101,1173.2 100,1174 99,1174.6 98,1175.2 97,1175.8 96,1176.2 95,1176.6 94,1176.9 93,1177.1 92,1177.2 91,1177.3 90,1177.3 89,1177.2 88,1177 87,1176.7 86,1176.4 85,1175.9 83.9,1175.4 82.9,1174.8 81.9,1174.2 80.9,1173.5 79.9,1172.7 78.9,1171.9 77.9,1171 76.9,1170.1 75.9,1169.1 74.9,1168 73.9,1166.8 72.9,1166.8 71.9,1168" fill="#323232"/>
<polyline points="71.9,1144 72.9,1145 73.9,1144.9 74.9,1144 75.9,1143.2 76.9,1142.5 77.9,1141.9 78.9,1141.4 79.9,1140.8 80.9,1140.4 81.9,1139.9 82.9,1139.6 83.9,1139.2 85,1138.9 86,1138.7 87,1138.5 88,1138.3 89,1138.2 90,1138.2 91,1138.2 92,1138.2 93,1138.3 94,1138.4 95,1138.6 96,1138.8 97,1139 98,1139.3 99,1139.7 100,1140.1 101,1140.5 102,1141 103,1141.5 104,1142.1 105,1142.8 106,1143.5 107,1144.3 108,1145.4 109,1144.6 110,1143.7 111.1,1143 112.1,1142.3 113.1,1141.7 114.1,1141.2 115.1,1140.7 116.1,1140.2 117.1,1139.8 118.1,1139.4 119.1,1139.1 120.1,1138.9 121.1,1138.6 122.1,1138.4 123.1,1138.3 124.1,1138.2 125.1,1138.2 126.1,1138.2 127.1,1138.2 128.1,1138.3 129.1,1138.4 130.1,1138.6 131.1,1138.9 132.1,1139.1 133.1,1139.5 134.1,1139.8 135.1,1140.2 136.1,1140.7 137.2,1141.2 138.2,1141.7 139.2,1142.3 140.2,1143 141.2,1143.7 142.2,1144.6 143.2,1145.3 144.2,1144.3 145.2,1143.5 146.2,1142.8 147.2,1142.1 148.2,1141.5 149.2,1141 150.2,1140.5 151.2,1140.1 152.2,1139.7 153.2,1139.3 154.2,1139 155.2,1138.8 156.2,1138.6 157.2,1138.4 158.2,1138.3 159.2,1138.2 160.2,1138.2 161.2,1138.2 162.3,1138.2 163.3,1138.3 164.3,1138.5 165.3,1138.7 166.3,1138.9 167.3,1139.2 168.3,1139.6 169.3,1140 170.3,1140.4 171.3,1140.9 172.3,1141.4 173.3,1141.9 174.3,1142.6 175.3,1143.2 176.3,1144 177.3,1145 178.3,1144.9 179.3,1144 180.3,1143.2 181.3,1142.5 182.3,1141.9 183.3,1141.4 184.3,1140.8 185.3,1140.4 186.3,1139.9 187.3,1139.6 188.4,1139.2 189.4,1138.9 190.4,1138.7 191.4,1138.5 192.4,1138.3 193.4,1138.2 194.4,1138.2 195.4,1138.2 196.4,1138.2 197.4,1138.3 198.4,1138.4 199.4,1138.6 200.4,1138.8 201.4,1139 202.4,1139.3 203.4,1139.7 204.4,1140.1 205.4,1140.5 206.4,1141 207.4,1141.6 208.4,1142.1 209.4,1142.8 210.4,1143.5 211.4,1144.3 212.4,1145.4 213.5,1144.6 214.5,1143.7 215.5,1143 216.5,1142.3 217.5,1141.7 218.5,1141.2 219.5,1140.7 220.5,1140.2 221.5,1139.8 222.5,1139.4 223.5,1139.1 224.5,1138.9 225.5,1138.6 226.5,1138.4 227.5,1138.3 228.5,1138.2 229.5,1138.2 230.5,1138.2 231.5,1138.2 232.5,1138.3 233.5,1138.4 234.5,1138.6 235.5,1138.9 236.5,1139.1 237.5,1139.5 238.5,1139.8 239.6,1140.2 240.6,1140.7 241.6,1141.2 242.6,1141.7 243.6,1142.3 244.6,1143 245.6,1143.8 246.6,1144.6 247.6,1145.3 248.6,1144.3 249.6,1143.5 250.6,1142.8 251.6,1142.1 252.6,1141.5 253.6,1141 254.6,1140.5 255.6,1140.1 256.6,1139.7 257.6,1139.3 258.6,1139 259.6,1138.8 260.6,1138.6 261.6,1138.4 262.6,1138.3 263.6,1138.2 264.6,1138.2 265.7,1138.2 266.7,1138.2 267.7,1138.3 268.7,1138.5 269.7,1138.7 270.7,1138.9 271.7,1139.2 272.7,1139.6 273.7,1140 274.7,1140.4 275.7,1140.9 276.7,1141.4 277.7,1141.9" fill="none" stroke="#a5a5a5" stroke-width="1.1"/>
<polyline points="71.9,1168 72.9,1166.8 73.9,1166.8 74.9,1168 75.9,1169.1 76.9,1170.1 77.9,1171 78.9,1171.9 79.9,1172.7 80.9,1173.5 81.9,1174.2 82.9,1174.8 83.9,1175.4 85,1175.9 86,1176.4 87,1176.7 88,1177 89,1177.2 90,1177.3 91,1177.3 92,1177.2 93,1177.1 94,1176.9 95,1176.6 96,1176.2 97,1175.8 98,1175.2 99,1174.6 100,1174 101,1173.2 102,1172.4 103,1171.6 104,1170.7 105,1169.7 106,1168.7 107,1167.6 108,1166.4 109,1167.2 110,1168.4 111.1,1169.4 112.1,1170.4 113.1,1171.3 114.1,1172.2 115.1,1173 116.1,1173.7 117.1,1174.4 118.1,1175 119.1,1175.6 120.1,1176.1 121.1,1176.5 122.1,1176.8 123.1,1177 124.1,1177.2 125.1,1177.3 126.1,1177.3 127.1,1177.2 128.1,1177 129.1,1176.8 130.1,1176.5 131.1,1176.1 132.1,1175.6 133.1,1175 134.1,1174.4 135.1,1173.7 136.1,1173 137.2,1172.2 138.2,1171.3 139.2,1170.4 140.2,1169.4 141.2,1168.3 142.2,1167.2 143.2,1166.4 144.2,1167.6 145.2,1168.7 146.2,1169.7 147.2,1170.7 148.2,1171.6 149.2,1172.5 150.2,1173.2 151.2,1174 152.2,1174.6 153.2,1175.2 154.2,1175.8 155.2,1176.2 156.2,1176.6 157.2,1176.9 158.2,1177.1 159.2,1177.2 160.2,1177.3 161.2,1177.3 162.3,1177.2 163.3,1177 164.3,1176.7 165.3,1176.3 166.3,1175.9 167.3,1175.4 168.3,1174.8 169.3,1174.2 170.3,1173.5 171.3,1172.7 172.3,1171.9 173.3,1171 174.3,1170 175.3,1169 176.3,1168 177.3,1166.8 178.3,1166.8 179.3,1168 180.3,1169.1 181.3,1170.1 182.3,1171 183.3,1171.9 184.3,1172.7 185.3,1173.5 186.3,1174.2 187.3,1174.8 188.4,1175.4 189.4,1175.9 190.4,1176.4 191.4,1176.7 192.4,1177 193.4,1177.2 194.4,1177.3 195.4,1177.3 196.4,1177.2 197.4,1177.1 198.4,1176.9 199.4,1176.6 200.4,1176.2 201.4,1175.8 202.4,1175.2 203.4,1174.6 204.4,1174 205.4,1173.2 206.4,1172.4 207.4,1171.6 208.4,1170.7 209.4,1169.7 210.4,1168.7 211.4,1167.6 212.4,1166.4 213.5,1167.2 214.5,1168.4 215.5,1169.4 216.5,1170.4 217.5,1171.3 218.5,1172.2 219.5,1173 220.5,1173.7 221.5,1174.4 222.5,1175 223.5,1175.6 224.5,1176.1 225.5,1176.5 226.5,1176.8 227.5,1177 228.5,1177.2 229.5,1177.3 230.5,1177.3 231.5,1177.2 232.5,1177 233.5,1176.8 234.5,1176.5 235.5,1176.1 236.5,1175.6 237.5,1175 238.5,1174.4 239.6,1173.7 240.6,1173 241.6,1172.1 242.6,1171.3 243.6,1170.3 244.6,1169.4 245.6,1168.3 246.6,1167.2 247.6,1166.4 248.6,1167.6 249.6,1168.7 250.6,1169.7 251.6,1170.7 252.6,1171.6 253.6,1172.5 254.6,1173.2 255.6,1174 256.6,1174.6 257.6,1175.2 258.6,1175.8 259.6,1176.2 260.6,1176.6 261.6,1176.9 262.6,1177.1 263.6,1177.2 264.6,1177.3 265.7,1177.3 266.7,1177.2 267.7,1177 268.7,1176.7 269.7,1176.3 270.7,1175.9 271.7,1175.4 272.7,1174.8 273.7,1174.2 274.7,1173.5 275.7,1172.7 276.7,1171.9 277.7,1171" fill="none" stroke="#afafaf" stroke-width="1.2"/>
<polyline points="71.9,1171.1 72.9,1170.1 73.9,1170.2 74.9,1171.2 75.9,1172.1 76.9,1173 77.9,1173.8 78.9,1174.6 79.9,1175.3 80.9,1175.9 81.9,1176.6 82.9,1177.1 83.9,1177.6 85,1178 86,1178.4 87,1178.7 88,1179 89,1179.1 90,1179.2 91,1179.2 92,1179.2 93,1179.1 94,1178.9 95,1178.6 96,1178.3 97,1177.9 98,1177.4 99,1176.9 100,1176.3 101,1175.7 102,1175 103,1174.3 104,1173.5 105,1172.7 106,1171.8 107,1170.8 108,1169.7 109,1170.5 110,1171.5 111.1,1172.4 112.1,1173.2 113.1,1174 114.1,1174.8 115.1,1175.5 116.1,1176.2 117.1,1176.7 118.1,1177.3 119.1,1177.8 120.1,1178.2 121.1,1178.5 122.1,1178.8 123.1,1179 124.1,1179.2 125.1,1179.2 126.1,1179.2 127.1,1179.2 128.1,1179 129.1,1178.8 130.1,1178.5 131.1,1178.2 132.1,1177.8 133.1,1177.3 134.1,1176.7 135.1,1176.1 136.1,1175.5 137.2,1174.8 138.2,1174 139.2,1173.2 140.2,1172.4 141.2,1171.5 142.2,1170.5 143.2,1169.8 144.2,1170.8 145.2,1171.8 146.2,1172.7 147.2,1173.5 148.2,1174.3 149.2,1175 150.2,1175.7 151.2,1176.4 152.2,1176.9 153.2,1177.5 154.2,1177.9 155.2,1178.3 156.2,1178.6 157.2,1178.9 158.2,1179.1 159.2,1179.2 160.2,1179.2 161.2,1179.2 162.3,1179.1 163.3,1178.9 164.3,1178.7 165.3,1178.4 166.3,1178 167.3,1177.6 168.3,1177.1 169.3,1176.5 170.3,1175.9 171.3,1175.3 172.3,1174.5 173.3,1173.8 174.3,1172.9 175.3,1172.1 176.3,1171.1 177.3,1170.1 178.3,1170.2 179.3,1171.2 180.3,1172.1 181.3,1173 182.3,1173.8 183.3,1174.6 184.3,1175.3 185.3,1175.9 186.3,1176.6 187.3,1177.1 188.4,1177.6 189.4,1178 190.4,1178.4 191.4,1178.7 192.4,1179 193.4,1179.1 194.4,1179.2 195.4,1179.2 196.4,1179.2 197.4,1179.1 198.4,1178.9 199.4,1178.6 200.4,1178.3 201.4,1177.9 202.4,1177.4 203.4,1176.9 204.4,1176.3 205.4,1175.7 206.4,1175 207.4,1174.3 208.4,1173.5 209.4,1172.7 210.4,1171.8 211.4,1170.8 212.4,1169.7 213.5,1170.5 214.5,1171.5 215.5,1172.4 216.5,1173.2 217.5,1174.1 218.5,1174.8 219.5,1175.5 220.5,1176.2 221.5,1176.8 222.5,1177.3 223.5,1177.8 224.5,1178.2 225.5,1178.5 226.5,1178.8 227.5,1179 228.5,1179.2 229.5,1179.2 230.5,1179.2 231.5,1179.2 232.5,1179 233.5,1178.8 234.5,1178.5 235.5,1178.2 236.5,1177.7 237.5,1177.3 238.5,1176.7 239.6,1176.1 240.6,1175.5 241.6,1174.8 242.6,1174 243.6,1173.2 244.6,1172.4 245.6,1171.5 246.6,1170.5 247.6,1169.8 248.6,1170.9 249.6,1171.8 250.6,1172.7 251.6,1173.5 252.6,1174.3 253.6,1175 254.6,1175.7 255.6,1176.4 256.6,1176.9 257.6,1177.5 258.6,1177.9 259.6,1178.3 260.6,1178.6 261.6,1178.9 262.6,1179.1 263.6,1179.2 264.6,1179.2 265.7,1179.2 266.7,1179.1 267.7,1178.9 268.7,1178.7 269.7,1178.4 270.7,1178 271.7,1177.6 272.7,1177.1 273.7,1176.5 274.7,1175.9 275.7,1175.3 276.7,1174.5 277.7,1173.8" fill="none" stroke="#969696" stroke-width="0.9"/>
<polyline points="71.9,1174.3 72.9,1173.5 73.9,1173.5 74.9,1174.3 75.9,1175.1 76.9,1175.9 77.9,1176.6 78.9,1177.2 79.9,1177.8 80.9,1178.4 81.9,1178.9 82.9,1179.4 83.9,1179.8 85,1180.2 86,1180.5 87,1180.7 88,1180.9 89,1181.1 90,1181.1 91,1181.2 92,1181.1 93,1181 94,1180.9 95,1180.6 96,1180.4 97,1180 98,1179.7 99,1179.2 100,1178.7 101,1178.2 102,1177.6 103,1177 104,1176.3 105,1175.6 106,1174.9 107,1174.1 108,1173.1 109,1173.8 110,1174.6 111.1,1175.4 112.1,1176.1 113.1,1176.8 114.1,1177.4 115.1,1178 116.1,1178.6 117.1,1179.1 118.1,1179.5 119.1,1179.9 120.1,1180.3 121.1,1180.6 122.1,1180.8 123.1,1181 124.1,1181.1 125.1,1181.2 126.1,1181.2 127.1,1181.1 128.1,1181 129.1,1180.8 130.1,1180.6 131.1,1180.3 132.1,1179.9 133.1,1179.5 134.1,1179.1 135.1,1178.6 136.1,1178 137.2,1177.4 138.2,1176.8 139.2,1176.1 140.2,1175.4 141.2,1174.6 142.2,1173.8 143.2,1173.2 144.2,1174.1 145.2,1174.9 146.2,1175.6 147.2,1176.3 148.2,1177 149.2,1177.6 150.2,1178.2 151.2,1178.7 152.2,1179.2 153.2,1179.7 154.2,1180.1 155.2,1180.4 156.2,1180.7 157.2,1180.9 158.2,1181 159.2,1181.1 160.2,1181.2 161.2,1181.1 162.3,1181.1 163.3,1180.9 164.3,1180.7 165.3,1180.5 166.3,1180.2 167.3,1179.8 168.3,1179.4 169.3,1178.9 170.3,1178.4 171.3,1177.8 172.3,1177.2 173.3,1176.6 174.3,1175.9 175.3,1175.1 176.3,1174.3 177.3,1173.5 178.3,1173.5 179.3,1174.4 180.3,1175.1 181.3,1175.9 182.3,1176.6 183.3,1177.2 184.3,1177.8 185.3,1178.4 186.3,1178.9 187.3,1179.4 188.4,1179.8 189.4,1180.2 190.4,1180.5 191.4,1180.7 192.4,1180.9 193.4,1181.1 194.4,1181.1 195.4,1181.2 196.4,1181.1 197.4,1181 198.4,1180.9 199.4,1180.6 200.4,1180.4 201.4,1180 202.4,1179.7 203.4,1179.2 204.4,1178.7 205.4,1178.2 206.4,1177.6 207.4,1177 208.4,1176.3 209.4,1175.6 210.4,1174.9 211.4,1174 212.4,1173.1 213.5,1173.8 214.5,1174.6 215.5,1175.4 216.5,1176.1 217.5,1176.8 218.5,1177.4 219.5,1178 220.5,1178.6 221.5,1179.1 222.5,1179.5 223.5,1179.9 224.5,1180.3 225.5,1180.6 226.5,1180.8 227.5,1181 228.5,1181.1 229.5,1181.2 230.5,1181.2 231.5,1181.1 232.5,1181 233.5,1180.8 234.5,1180.6 235.5,1180.3 236.5,1179.9 237.5,1179.5 238.5,1179.1 239.6,1178.6 240.6,1178 241.6,1177.4 242.6,1176.8 243.6,1176.1 244.6,1175.4 245.6,1174.6 246.6,1173.8 247.6,1173.2 248.6,1174.1 249.6,1174.9 250.6,1175.6 251.6,1176.3 252.6,1177 253.6,1177.6 254.6,1178.2 255.6,1178.7 256.6,1179.2 257.6,1179.7 258.6,1180.1 259.6,1180.4 260.6,1180.7 261.6,1180.9 262.6,1181 263.6,1181.1 264.6,1181.2 265.7,1181.1 266.7,1181.1 267.7,1180.9 268.7,1180.7 269.7,1180.5 270.7,1180.2 271.7,1179.8 272.7,1179.4 273.7,1178.9 274.7,1178.4 275.7,1177.8 276.7,1177.2 277.7,1176.5" fill="none" stroke="#919191" stroke-width="0.9"/>
<polyline points="71.9,1177.5 72.9,1176.8 73.9,1176.8 74.9,1177.5 75.9,1178.2 76.9,1178.8 77.9,1179.4 78.9,1179.9 79.9,1180.4 80.9,1180.8 81.9,1181.3 82.9,1181.6 83.9,1182 85,1182.3 86,1182.5 87,1182.7 88,1182.9 89,1183 90,1183.1 91,1183.1 92,1183.1 93,1183 94,1182.9 95,1182.7 96,1182.5 97,1182.2 98,1181.9 99,1181.5 100,1181.1 101,1180.7 102,1180.2 103,1179.7 104,1179.2 105,1178.6 106,1178 107,1177.3 108,1176.5 109,1177.1 110,1177.7 111.1,1178.4 112.1,1179 113.1,1179.5 114.1,1180.1 115.1,1180.5 116.1,1181 117.1,1181.4 118.1,1181.8 119.1,1182.1 120.1,1182.4 121.1,1182.6 122.1,1182.8 123.1,1182.9 124.1,1183 125.1,1183.1 126.1,1183.1 127.1,1183 128.1,1182.9 129.1,1182.8 130.1,1182.6 131.1,1182.4 132.1,1182.1 133.1,1181.8 134.1,1181.4 135.1,1181 136.1,1180.5 137.2,1180 138.2,1179.5 139.2,1179 140.2,1178.4 141.2,1177.7 142.2,1177 143.2,1176.5 144.2,1177.3 145.2,1178 146.2,1178.6 147.2,1179.2 148.2,1179.7 149.2,1180.2 150.2,1180.7 151.2,1181.1 152.2,1181.5 153.2,1181.9 154.2,1182.2 155.2,1182.5 156.2,1182.7 157.2,1182.9 158.2,1183 159.2,1183.1 160.2,1183.1 161.2,1183.1 162.3,1183 163.3,1182.9 164.3,1182.7 165.3,1182.5 166.3,1182.3 167.3,1182 168.3,1181.6 169.3,1181.3 170.3,1180.8 171.3,1180.4 172.3,1179.9 173.3,1179.3 174.3,1178.8 175.3,1178.2 176.3,1177.5 177.3,1176.8 178.3,1176.8 179.3,1177.5 180.3,1178.2 181.3,1178.8 182.3,1179.4 183.3,1179.9 184.3,1180.4 185.3,1180.8 186.3,1181.3 187.3,1181.7 188.4,1182 189.4,1182.3 190.4,1182.5 191.4,1182.7 192.4,1182.9 193.4,1183 194.4,1183.1 195.4,1183.1 196.4,1183.1 197.4,1183 198.4,1182.9 199.4,1182.7 200.4,1182.5 201.4,1182.2 202.4,1181.9 203.4,1181.5 204.4,1181.1 205.4,1180.7 206.4,1180.2 207.4,1179.7 208.4,1179.2 209.4,1178.6 210.4,1177.9 211.4,1177.3 212.4,1176.5 213.5,1177.1 214.5,1177.8 215.5,1178.4 216.5,1179 217.5,1179.5 218.5,1180.1 219.5,1180.5 220.5,1181 221.5,1181.4 222.5,1181.8 223.5,1182.1 224.5,1182.4 225.5,1182.6 226.5,1182.8 227.5,1182.9 228.5,1183 229.5,1183.1 230.5,1183.1 231.5,1183 232.5,1182.9 233.5,1182.8 234.5,1182.6 235.5,1182.4 236.5,1182.1 237.5,1181.8 238.5,1181.4 239.6,1181 240.6,1180.5 241.6,1180 242.6,1179.5 243.6,1179 244.6,1178.4 245.6,1177.7 246.6,1177 247.6,1176.5 248.6,1177.3 249.6,1178 250.6,1178.6 251.6,1179.2 252.6,1179.7 253.6,1180.2 254.6,1180.7 255.6,1181.1 256.6,1181.5 257.6,1181.9 258.6,1182.2 259.6,1182.5 260.6,1182.7 261.6,1182.9 262.6,1183 263.6,1183.1 264.6,1183.1 265.7,1183.1 266.7,1183 267.7,1182.9 268.7,1182.7 269.7,1182.5 270.7,1182.3 271.7,1182 272.7,1181.6 273.7,1181.3 274.7,1180.8 275.7,1180.4 276.7,1179.9 277.7,1179.3" fill="none" stroke="#8c8c8c" stroke-width="0.9"/>
<polyline points="71.9,1180.7 72.9,1180.1 73.9,1180.1 74.9,1180.7 75.9,1181.2 76.9,1181.7 77.9,1182.1 78.9,1182.6 79.9,1182.9 80.9,1183.3 81.9,1183.6 82.9,1183.9 83.9,1184.2 85,1184.4 86,1184.6 87,1184.8 88,1184.9 89,1185 90,1185 91,1185 92,1185 93,1184.9 94,1184.8 95,1184.7 96,1184.5 97,1184.3 98,1184.1 99,1183.8 100,1183.5 101,1183.2 102,1182.8 103,1182.4 104,1182 105,1181.5 106,1181 107,1180.5 108,1179.9 109,1180.3 110,1180.9 111.1,1181.4 112.1,1181.8 113.1,1182.3 114.1,1182.7 115.1,1183.1 116.1,1183.4 117.1,1183.7 118.1,1184 119.1,1184.3 120.1,1184.5 121.1,1184.7 122.1,1184.8 123.1,1184.9 124.1,1185 125.1,1185 126.1,1185 127.1,1185 128.1,1184.9 129.1,1184.8 130.1,1184.7 131.1,1184.5 132.1,1184.3 133.1,1184 134.1,1183.7 135.1,1183.4 136.1,1183.1 137.2,1182.7 138.2,1182.3 139.2,1181.8 140.2,1181.4 141.2,1180.9 142.2,1180.3 143.2,1179.9 144.2,1180.5 145.2,1181.1 146.2,1181.5 147.2,1182 148.2,1182.4 149.2,1182.8 150.2,1183.2 151.2,1183.5 152.2,1183.8 153.2,1184.1 154.2,1184.3 155.2,1184.5 156.2,1184.7 157.2,1184.8 158.2,1184.9 159.2,1185 160.2,1185 161.2,1185 162.3,1185 163.3,1184.9 164.3,1184.8 165.3,1184.6 166.3,1184.4 167.3,1184.2 168.3,1183.9 169.3,1183.6 170.3,1183.3 171.3,1182.9 172.3,1182.5 173.3,1182.1 174.3,1181.7 175.3,1181.2 176.3,1180.7 177.3,1180.1 178.3,1180.1 179.3,1180.7 180.3,1181.2 181.3,1181.7 182.3,1182.1 183.3,1182.6 184.3,1182.9 185.3,1183.3 186.3,1183.6 187.3,1183.9 188.4,1184.2 189.4,1184.4 190.4,1184.6 191.4,1184.8 192.4,1184.9 193.4,1185 194.4,1185 195.4,1185 196.4,1185 197.4,1184.9 198.4,1184.8 199.4,1184.7 200.4,1184.5 201.4,1184.3 202.4,1184.1 203.4,1183.8 204.4,1183.5 205.4,1183.2 206.4,1182.8 207.4,1182.4 208.4,1182 209.4,1181.5 210.4,1181 211.4,1180.5 212.4,1179.9 213.5,1180.3 214.5,1180.9 215.5,1181.4 216.5,1181.9 217.5,1182.3 218.5,1182.7 219.5,1183.1 220.5,1183.4 221.5,1183.7 222.5,1184 223.5,1184.3 224.5,1184.5 225.5,1184.7 226.5,1184.8 227.5,1184.9 228.5,1185 229.5,1185 230.5,1185 231.5,1185 232.5,1184.9 233.5,1184.8 234.5,1184.7 235.5,1184.5 236.5,1184.3 237.5,1184 238.5,1183.7 239.6,1183.4 240.6,1183.1 241.6,1182.7 242.6,1182.3 243.6,1181.8 244.6,1181.4 245.6,1180.9 246.6,1180.3 247.6,1179.9 248.6,1180.5 249.6,1181.1 250.6,1181.5 251.6,1182 252.6,1182.4 253.6,1182.8 254.6,1183.2 255.6,1183.5 256.6,1183.8 257.6,1184.1 258.6,1184.3 259.6,1184.5 260.6,1184.7 261.6,1184.8 262.6,1184.9 263.6,1185 264.6,1185 265.7,1185 266.7,1185 267.7,1184.9 268.7,1184.8 269.7,1184.6 270.7,1184.4 271.7,1184.2 272.7,1183.9 273.7,1183.6 274.7,1183.3 275.7,1182.9 276.7,1182.5 277.7,1182.1" fill="none" stroke="#878787" stroke-width="0.9"/>
<polygon points="71.9,1185.6 72.9,1185.3 73.9,1185.3 74.9,1185.6 75.9,1185.9 76.9,1186.2 77.9,1186.5 78.9,1186.7 79.9,1186.9 80.9,1187.1 81.9,1187.3 82.9,1187.4 83.9,1187.6 85,1187.7 86,1187.8 87,1187.9 88,1188 89,1188 90,1188 91,1188 92,1188 93,1188 94,1187.9 95,1187.9 96,1187.8 97,1187.7 98,1187.5 99,1187.4 100,1187.2 101,1187 102,1186.8 103,1186.6 104,1186.4 105,1186.1 106,1185.8 107,1185.5 108,1185.1 109,1185.4 110,1185.8 111.1,1186 112.1,1186.3 113.1,1186.6 114.1,1186.8 115.1,1187 116.1,1187.2 117.1,1187.3 118.1,1187.5 119.1,1187.6 120.1,1187.7 121.1,1187.8 122.1,1187.9 123.1,1188 124.1,1188 125.1,1188 126.1,1188 127.1,1188 128.1,1188 129.1,1187.9 130.1,1187.8 131.1,1187.7 132.1,1187.6 133.1,1187.5 134.1,1187.3 135.1,1187.2 136.1,1187 137.2,1186.8 138.2,1186.5 139.2,1186.3 140.2,1186 141.2,1185.7 142.2,1185.4 143.2,1185.2 144.2,1185.5 145.2,1185.9 146.2,1186.1 147.2,1186.4 148.2,1186.6 149.2,1186.8 150.2,1187 151.2,1187.2 152.2,1187.4 153.2,1187.5 154.2,1187.7 155.2,1187.8 156.2,1187.9 157.2,1187.9 158.2,1188 159.2,1188 160.2,1188 161.2,1188 162.3,1188 163.3,1188 164.3,1187.9 165.3,1187.8 166.3,1187.7 167.3,1187.6 168.3,1187.4 169.3,1187.3 170.3,1187.1 171.3,1186.9 172.3,1186.7 173.3,1186.5 174.3,1186.2 175.3,1185.9 176.3,1185.6 177.3,1185.3 178.3,1185.3 179.3,1185.7 180.3,1186 181.3,1186.2 182.3,1186.5 183.3,1186.7 184.3,1186.9 185.3,1187.1 186.3,1187.3 187.3,1187.4 188.4,1187.6 189.4,1187.7 190.4,1187.8 191.4,1187.9 192.4,1188 193.4,1188 194.4,1188 195.4,1188 196.4,1188 197.4,1188 198.4,1187.9 199.4,1187.9 200.4,1187.8 201.4,1187.7 202.4,1187.5 203.4,1187.4 204.4,1187.2 205.4,1187 206.4,1186.8 207.4,1186.6 208.4,1186.4 209.4,1186.1 210.4,1185.8 211.4,1185.5 212.4,1185.1 213.5,1185.4 214.5,1185.8 215.5,1186 216.5,1186.3 217.5,1186.6 218.5,1186.8 219.5,1187 220.5,1187.2 221.5,1187.3 222.5,1187.5 223.5,1187.6 224.5,1187.7 225.5,1187.8 226.5,1187.9 227.5,1188 228.5,1188 229.5,1188 230.5,1188 231.5,1188 232.5,1188 233.5,1187.9 234.5,1187.8 235.5,1187.7 236.5,1187.6 237.5,1187.5 238.5,1187.3 239.6,1187.2 240.6,1187 241.6,1186.8 242.6,1186.5 243.6,1186.3 244.6,1186 245.6,1185.7 246.6,1185.4 247.6,1185.2 248.6,1185.5 249.6,1185.9 250.6,1186.1 251.6,1186.4 252.6,1186.6 253.6,1186.8 254.6,1187 255.6,1187.2 256.6,1187.4 257.6,1187.5 258.6,1187.7 259.6,1187.8 260.6,1187.9 261.6,1187.9 262.6,1188 263.6,1188 264.6,1188 265.7,1188 266.7,1188 267.7,1188 268.7,1187.9 269.7,1187.8 270.7,1187.7 271.7,1187.6 272.7,1187.4 273.7,1187.3 274.7,1187.1 275.7,1186.9 276.7,1186.7 277.7,1186.5 277.7,1203.8 71.9,1203.8" fill="#cdcdcd"/>
<polyline points="71.9,1185.6 72.9,1185.3 73.9,1185.3 74.9,1185.6 75.9,1185.9 76.9,1186.2 77.9,1186.5 78.9,1186.7 79.9,1186.9 80.9,1187.1 81.9,1187.3 82.9,1187.4 83.9,1187.6 85,1187.7 86,1187.8 87,1187.9 88,1188 89,1188 90,1188 91,1188 92,1188 93,1188 94,1187.9 95,1187.9 96,1187.8 97,1187.7 98,1187.5 99,1187.4 100,1187.2 101,1187 102,1186.8 103,1186.6 104,1186.4 105,1186.1 106,1185.8 107,1185.5 108,1185.1 109,1185.4 110,1185.8 111.1,1186 112.1,1186.3 113.1,1186.6 114.1,1186.8 115.1,1187 116.1,1187.2 117.1,1187.3 118.1,1187.5 119.1,1187.6 120.1,1187.7 121.1,1187.8 122.1,1187.9 123.1,1188 124.1,1188 125.1,1188 126.1,1188 127.1,1188 128.1,1188 129.1,1187.9 130.1,1187.8 131.1,1187.7 132.1,1187.6 133.1,1187.5 134.1,1187.3 135.1,1187.2 136.1,1187 137.2,1186.8 138.2,1186.5 139.2,1186.3 140.2,1186 141.2,1185.7 142.2,1185.4 143.2,1185.2 144.2,1185.5 145.2,1185.9 146.2,1186.1 147.2,1186.4 148.2,1186.6 149.2,1186.8 150.2,1187 151.2,1187.2 152.2,1187.4 153.2,1187.5 154.2,1187.7 155.2,1187.8 156.2,1187.9 157.2,1187.9 158.2,1188 159.2,1188 160.2,1188 161.2,1188 162.3,1188 163.3,1188 164.3,1187.9 165.3,1187.8 166.3,1187.7 167.3,1187.6 168.3,1187.4 169.3,1187.3 170.3,1187.1 171.3,1186.9 172.3,1186.7 173.3,1186.5 174.3,1186.2 175.3,1185.9 176.3,1185.6 177.3,1185.3 178.3,1185.3 179.3,1185.7 180.3,1186 181.3,1186.2 182.3,1186.5 183.3,1186.7 184.3,1186.9 185.3,1187.1 186.3,1187.3 187.3,1187.4 188.4,1187.6 189.4,1187.7 190.4,1187.8 191.4,1187.9 192.4,1188 193.4,1188 194.4,1188 195.4,1188 196.4,1188 197.4,1188 198.4,1187.9 199.4,1187.9 200.4,1187.8 201.4,1187.7 202.4,1187.5 203.4,1187.4 204.4,1187.2 205.4,1187 206.4,1186.8 207.4,1186.6 208.4,1186.4 209.4,1186.1 210.4,1185.8 211.4,1185.5 212.4,1185.1 213.5,1185.4 214.5,1185.8 215.5,1186 216.5,1186.3 217.5,1186.6 218.5,1186.8 219.5,1187 220.5,1187.2 221.5,1187.3 222.5,1187.5 223.5,1187.6 224.5,1187.7 225.5,1187.8 226.5,1187.9 227.5,1188 228.5,1188 229.5,1188 230.5,1188 231.5,1188 232.5,1188 233.5,1187.9 234.5,1187.8 235.5,1187.7 236.5,1187.6 237.5,1187.5 238.5,1187.3 239.6,1187.2 240.6,1187 241.6,1186.8 242.6,1186.5 243.6,1186.3 244.6,1186 245.6,1185.7 246.6,1185.4 247.6,1185.2 248.6,1185.5 249.6,1185.9 250.6,1186.1 251.6,1186.4 252.6,1186.6 253.6,1186.8 254.6,1187 255.6,1187.2 256.6,1187.4 257.6,1187.5 258.6,1187.7 259.6,1187.8 260.6,1187.9 261.6,1187.9 262.6,1188 263.6,1188 264.6,1188 265.7,1188 266.7,1188 267.7,1188 268.7,1187.9 269.7,1187.8 270.7,1187.7 271.7,1187.6 272.7,1187.4 273.7,1187.3 274.7,1187.1 275.7,1186.9 276.7,1186.7 277.7,1186.5" fill="none" stroke="#fafafa" stroke-width="3"/>
<polyline points="71.9,1190.1 72.9,1189.8 73.9,1189.8 74.9,1190.1 75.9,1190.4 76.9,1190.7 77.9,1191 78.9,1191.2 79.9,1191.4 80.9,1191.6 81.9,1191.8 82.9,1191.9 83.9,1192.1 85,1192.2 86,1192.3 87,1192.4 88,1192.5 89,1192.5 90,1192.5 91,1192.5 92,1192.5 93,1192.5 94,1192.4 95,1192.4 96,1192.3 97,1192.2 98,1192 99,1191.9 100,1191.7 101,1191.5 102,1191.3 103,1191.1 104,1190.9 105,1190.6 106,1190.3 107,1190 108,1189.6 109,1189.9 110,1190.3 111.1,1190.5 112.1,1190.8 113.1,1191.1 114.1,1191.3 115.1,1191.5 116.1,1191.7 117.1,1191.8 118.1,1192 119.1,1192.1 120.1,1192.2 121.1,1192.3 122.1,1192.4 123.1,1192.5 124.1,1192.5 125.1,1192.5 126.1,1192.5 127.1,1192.5 128.1,1192.5 129.1,1192.4 130.1,1192.3 131.1,1192.2 132.1,1192.1 133.1,1192 134.1,1191.8 135.1,1191.7 136.1,1191.5 137.2,1191.3 138.2,1191 139.2,1190.8 140.2,1190.5 141.2,1190.2 142.2,1189.9 143.2,1189.7 144.2,1190 145.2,1190.4 146.2,1190.6 147.2,1190.9 148.2,1191.1 149.2,1191.3 150.2,1191.5 151.2,1191.7 152.2,1191.9 153.2,1192 154.2,1192.2 155.2,1192.3 156.2,1192.4 157.2,1192.4 158.2,1192.5 159.2,1192.5 160.2,1192.5 161.2,1192.5 162.3,1192.5 163.3,1192.5 164.3,1192.4 165.3,1192.3 166.3,1192.2 167.3,1192.1 168.3,1191.9 169.3,1191.8 170.3,1191.6 171.3,1191.4 172.3,1191.2 173.3,1191 174.3,1190.7 175.3,1190.4 176.3,1190.1 177.3,1189.8 178.3,1189.8 179.3,1190.2 180.3,1190.5 181.3,1190.7 182.3,1191 183.3,1191.2 184.3,1191.4 185.3,1191.6 186.3,1191.8 187.3,1191.9 188.4,1192.1 189.4,1192.2 190.4,1192.3 191.4,1192.4 192.4,1192.5 193.4,1192.5 194.4,1192.5 195.4,1192.5 196.4,1192.5 197.4,1192.5 198.4,1192.4 199.4,1192.4 200.4,1192.3 201.4,1192.2 202.4,1192 203.4,1191.9 204.4,1191.7 205.4,1191.5 206.4,1191.3 207.4,1191.1 208.4,1190.9 209.4,1190.6 210.4,1190.3 211.4,1190 212.4,1189.6 213.5,1189.9 214.5,1190.3 215.5,1190.5 216.5,1190.8 217.5,1191.1 218.5,1191.3 219.5,1191.5 220.5,1191.7 221.5,1191.8 222.5,1192 223.5,1192.1 224.5,1192.2 225.5,1192.3 226.5,1192.4 227.5,1192.5 228.5,1192.5 229.5,1192.5 230.5,1192.5 231.5,1192.5 232.5,1192.5 233.5,1192.4 234.5,1192.3 235.5,1192.2 236.5,1192.1 237.5,1192 238.5,1191.8 239.6,1191.7 240.6,1191.5 241.6,1191.3 242.6,1191 243.6,1190.8 244.6,1190.5 245.6,1190.2 246.6,1189.9 247.6,1189.7 248.6,1190 249.6,1190.4 250.6,1190.6 251.6,1190.9 252.6,1191.1 253.6,1191.3 254.6,1191.5 255.6,1191.7 256.6,1191.9 257.6,1192 258.6,1192.2 259.6,1192.3 260.6,1192.4 261.6,1192.4 262.6,1192.5 263.6,1192.5 264.6,1192.5 265.7,1192.5 266.7,1192.5 267.7,1192.5 268.7,1192.4 269.7,1192.3 270.7,1192.2 271.7,1192.1 272.7,1191.9 273.7,1191.8 274.7,1191.6 275.7,1191.4 276.7,1191.2 277.7,1191" fill="none" stroke="#bebebe" stroke-width="1"/>
</g>
<rect x="66.9" y="1117.2" width="3.4" height="86.6" fill="url(#gbar)"/>
<line x1="280.2" y1="1117.7" x2="280.2" y2="1203.8" stroke="#8c8c8c" stroke-width="0.8" stroke-dasharray="0.8 2.2"/>
<text x="283.2" y="1119" font-size="3.4" fill="#d0d0d0" font-weight="bold" font-family="'Liberation Sans', Arial, sans-serif">3.6</text>
<text x="283.2" y="1136.2" font-size="3.4" fill="#d0d0d0" font-weight="bold" font-family="'Liberation Sans', Arial, sans-serif">7.4</text>
<text x="283.2" y="1153.4" font-size="3.4" fill="#d0d0d0" font-weight="bold" font-family="'Liberation Sans', Arial, sans-serif">10.8</text>
<text x="283.2" y="1170.7" font-size="3.4" fill="#d0d0d0" font-weight="bold" font-family="'Liberation Sans', Arial, sans-serif">13.8</text>
<text x="283.2" y="1187.9" font-size="3.4" fill="#d0d0d0" font-weight="bold" font-family="'Liberation Sans', Arial, sans-serif">16.6</text>
<text x="283.2" y="1205.1" font-size="3.4" fill="#d0d0d0" font-weight="bold" font-family="'Liberation Sans', Arial, sans-serif">19.8</text>
<rect x="71.9" y="1206.8" width="205.8" height="9" fill="none" stroke="#141414" stroke-width="0.8"/>
<text x="70.9" y="1049.6" font-size="14" fill="#fff" font-family="'Liberation Sans', Arial, sans-serif">(<tspan font-weight="bold">3</tspan>)</text>
<g filter="url(#spk2)">
<rect x="374.4" y="1041.1" width="61.2" height="67.7" fill="#505050"/>
<rect x="374.4" y="1041.1" width="61.2" height="9.5" fill="#696969"/>
<g filter="url(#blur1)">
<path d="M376.2 1051.9 Q401.9 1047.9 434.4 1056" stroke="#bebebe" stroke-width="1.6" fill="none" stroke-linecap="round"/>
<path d="M377.5 1058.7 Q405 1054.6 433.8 1061.4" stroke="#828282" stroke-width="1.2" fill="none" stroke-linecap="round"/>
<ellipse cx="398.4" cy="1071.6" rx="15.9" ry="13.5" fill="#2d2d2d"/>
<ellipse cx="416" cy="1071.6" rx="8.6" ry="14.9" fill="#373737" opacity="0.8"/>
<path d="M379.3 1080.4 Q387.9 1099.3 411.1 1095.3" stroke="#e6e6e6" stroke-width="2.4" fill="none" stroke-linecap="round"/>
<path d="M386.6 1078.3 Q395.8 1089.8 408.1 1088.5" stroke="#969696" stroke-width="1.2" fill="none" stroke-linecap="round"/>
<rect x="408.1" y="1097.3" width="27.5" height="7.4" fill="#919191"/>
<rect x="374.4" y="1099.3" width="30.6" height="9.5" fill="#646464"/>
</g>
<line x1="402.3" y1="1095" x2="406.4" y2="1093.6" stroke="#797979" stroke-width="0.9" />
<line x1="382.8" y1="1051.7" x2="386.8" y2="1052.3" stroke="#a9a9a9" stroke-width="0.9" />
<line x1="409.3" y1="1070.5" x2="414.7" y2="1072.3" stroke="#888888" stroke-width="0.9" />
<line x1="380.8" y1="1094" x2="387.5" y2="1091.8" stroke="#7b7b7b" stroke-width="0.9" />
<line x1="381.8" y1="1099.9" x2="385.4" y2="1101.3" stroke="#a8a8a8" stroke-width="0.9" />
</g>
<line x1="405" y1="1042.1" x2="405" y2="1107.8" stroke="#7d7a22" stroke-width="0.8" stroke-dasharray="1.5 0.8"/>
<line x1="438.1" y1="1041.6" x2="438.1" y2="1108.8" stroke="#8c8c8c" stroke-width="0.8" stroke-dasharray="0.8 2.2"/>
<text x="441.1" y="1042.9" font-size="3.6" fill="#d0d0d0" font-weight="bold" font-family="'Liberation Sans', Arial, sans-serif">0 mm</text>
<text x="441.1" y="1059.7" font-size="3.6" fill="#d0d0d0" font-weight="bold" font-family="'Liberation Sans', Arial, sans-serif">5</text>
<text x="441.1" y="1076.5" font-size="3.6" fill="#d0d0d0" font-weight="bold" font-family="'Liberation Sans', Arial, sans-serif">10</text>
<text x="441.1" y="1093.3" font-size="3.6" fill="#d0d0d0" font-weight="bold" font-family="'Liberation Sans', Arial, sans-serif">15</text>
<text x="441.1" y="1110.1" font-size="3.6" fill="#d0d0d0" font-weight="bold" font-family="'Liberation Sans', Arial, sans-serif">20</text>
<rect x="438.9" y="1076.1" width="1.8" height="1.8" fill="#ffee00"/>
<path d="M445.1 1043.6 Q446.1 1075.2 448.1 1107.8" stroke="#9a9a9a" stroke-width="0.7" fill="none"/>
<g filter="url(#spk)">
<rect x="301.9" y="1117.2" width="206.1" height="87.1" fill="#525252"/>
<rect x="301.9" y="1117.2" width="206.1" height="5" fill="#6e6e6e"/>
<line x1="301.9" y1="1127" x2="508" y2="1127" stroke="#b4b4b4" stroke-width="1.6"/>
<line x1="301.9" y1="1129.2" x2="508" y2="1129.2" stroke="#6c6c6c" stroke-width="0.7"/>
<line x1="301.9" y1="1132" x2="508" y2="1132" stroke="#6e6e6e" stroke-width="0.7"/>
<line x1="301.9" y1="1134.3" x2="508" y2="1134.3" stroke="#777777" stroke-width="0.7"/>
<line x1="301.9" y1="1137.7" x2="508" y2="1137.7" stroke="#858585" stroke-width="0.7"/>
<polyline points="301.9,1143.9 302.9,1143 303.9,1142.2 304.9,1141.5 305.9,1140.9 306.9,1140.3 307.9,1139.8 308.9,1139.3 309.9,1138.8 310.9,1138.4 311.9,1138.1 312.9,1137.8 313.9,1137.5 314.9,1137.3 315.9,1137.1 316.9,1137 317.9,1136.9 318.9,1136.9 319.9,1136.9 320.9,1137 321.9,1137.1 322.9,1137.3 323.9,1137.5 324.9,1137.7 325.9,1138 326.9,1138.4 327.9,1138.8 328.9,1139.2 329.9,1139.7 330.9,1140.2 331.9,1140.8 332.9,1141.4 333.9,1142.1 334.9,1142.9 335.9,1143.7 336.9,1144.9 337.9,1143.9 338.9,1143 339.9,1142.2 340.9,1141.5 341.9,1140.9 342.9,1140.3 343.9,1139.8 344.9,1139.3 345.9,1138.8 346.9,1138.4 347.9,1138.1 348.9,1137.8 349.9,1137.5 350.9,1137.3 351.9,1137.1 352.9,1137 353.9,1136.9 354.9,1136.9 355.9,1136.9 356.9,1137 357.9,1137.1 358.9,1137.3 359.9,1137.5 360.9,1137.7 361.9,1138 362.9,1138.4 363.9,1138.8 364.9,1139.2 365.9,1139.7 366.9,1140.2 367.9,1140.8 368.9,1141.4 369.9,1142.1 370.9,1142.9 371.9,1143.8 372.9,1145 373.9,1143.9 374.9,1143 375.9,1142.2 376.9,1141.5 377.9,1140.9 378.9,1140.3 379.9,1139.8 380.9,1139.3 381.9,1138.8 382.9,1138.4 383.9,1138.1 384.9,1137.8 385.9,1137.5 386.9,1137.3 387.9,1137.1 388.9,1137 389.9,1136.9 390.9,1136.9 391.9,1136.9 392.9,1137 393.9,1137.1 394.9,1137.3 395.9,1137.5 396.9,1137.7 397.9,1138 398.9,1138.4 399.9,1138.8 400.9,1139.2 401.9,1139.7 402.9,1140.2 403.9,1140.8 404.9,1141.4 406,1142.1 407,1142.9 408,1143.8 409,1145 410,1143.9 411,1143 412,1142.2 413,1141.5 414,1140.9 415,1140.3 416,1139.7 417,1139.3 418,1138.8 419,1138.4 420,1138.1 421,1137.8 422,1137.5 423,1137.3 424,1137.1 425,1137 426,1136.9 427,1136.9 428,1136.9 429,1137 430,1137.1 431,1137.3 432,1137.5 433,1137.7 434,1138 435,1138.4 436,1138.8 437,1139.2 438,1139.7 439,1140.2 440,1140.8 441,1141.4 442,1142.1 443,1142.9 444,1143.8 445,1145.1 446,1143.9 447,1143 448,1142.2 449,1141.5 450,1140.8 451,1140.3 452,1139.7 453,1139.2 454,1138.8 455,1138.4 456,1138.1 457,1137.8 458,1137.5 459,1137.3 460,1137.1 461,1137 462,1136.9 463,1136.9 464,1136.9 465,1137 466,1137.1 467,1137.3 468,1137.5 469,1137.7 470,1138 471,1138.4 472,1138.8 473,1139.2 474,1139.7 475,1140.2 476,1140.8 477,1141.5 478,1142.2 479,1142.9 480,1143.8 481,1145.1 482,1143.8 483,1142.9 484,1142.2 485,1141.5 486,1140.8 487,1140.3 488,1139.7 489,1139.2 490,1138.8 491,1138.4 492,1138.1 493,1137.8 494,1137.5 495,1137.3 496,1137.1 497,1137 498,1136.9 499,1136.9 500,1136.9 501,1137 502,1137.1 503,1137.3 504,1137.5 505,1137.8 506,1138.1 507,1138.4 508,1138.8" fill="none" stroke="#767676" stroke-width="0.8"/>
<polyline points="301.9,1142.1 302.9,1141.1 303.9,1140.2 304.9,1139.5 305.9,1138.8 306.9,1138.1 307.9,1137.5 308.9,1137 309.9,1136.5 310.9,1136.1 311.9,1135.7 312.9,1135.4 313.9,1135.1 314.9,1134.8 315.9,1134.7 316.9,1134.5 317.9,1134.4 318.9,1134.4 319.9,1134.4 320.9,1134.5 321.9,1134.6 322.9,1134.8 323.9,1135 324.9,1135.3 325.9,1135.6 326.9,1136 327.9,1136.4 328.9,1136.9 329.9,1137.4 330.9,1138 331.9,1138.6 332.9,1139.3 333.9,1140.1 334.9,1140.9 335.9,1141.9 336.9,1143.2 337.9,1142 338.9,1141.1 339.9,1140.2 340.9,1139.4 341.9,1138.7 342.9,1138.1 343.9,1137.5 344.9,1137 345.9,1136.5 346.9,1136.1 347.9,1135.7 348.9,1135.4 349.9,1135.1 350.9,1134.8 351.9,1134.7 352.9,1134.5 353.9,1134.4 354.9,1134.4 355.9,1134.4 356.9,1134.5 357.9,1134.6 358.9,1134.8 359.9,1135 360.9,1135.3 361.9,1135.6 362.9,1136 363.9,1136.4 364.9,1136.9 365.9,1137.4 366.9,1138 367.9,1138.6 368.9,1139.3 369.9,1140.1 370.9,1140.9 371.9,1141.9 372.9,1143.2 373.9,1142 374.9,1141 375.9,1140.2 376.9,1139.4 377.9,1138.7 378.9,1138.1 379.9,1137.5 380.9,1137 381.9,1136.5 382.9,1136.1 383.9,1135.7 384.9,1135.3 385.9,1135.1 386.9,1134.8 387.9,1134.7 388.9,1134.5 389.9,1134.4 390.9,1134.4 391.9,1134.4 392.9,1134.5 393.9,1134.6 394.9,1134.8 395.9,1135 396.9,1135.3 397.9,1135.6 398.9,1136 399.9,1136.4 400.9,1136.9 401.9,1137.4 402.9,1138 403.9,1138.7 404.9,1139.3 406,1140.1 407,1140.9 408,1141.9 409,1143.3 410,1142 411,1141 412,1140.2 413,1139.4 414,1138.7 415,1138.1 416,1137.5 417,1137 418,1136.5 419,1136.1 420,1135.7 421,1135.3 422,1135.1 423,1134.8 424,1134.6 425,1134.5 426,1134.4 427,1134.4 428,1134.4 429,1134.5 430,1134.6 431,1134.8 432,1135 433,1135.3 434,1135.6 435,1136 436,1136.5 437,1136.9 438,1137.5 439,1138 440,1138.7 441,1139.4 442,1140.1 443,1141 444,1141.9 445,1143.3 446,1142 447,1141 448,1140.2 449,1139.4 450,1138.7 451,1138.1 452,1137.5 453,1137 454,1136.5 455,1136 456,1135.7 457,1135.3 458,1135.1 459,1134.8 460,1134.6 461,1134.5 462,1134.4 463,1134.4 464,1134.4 465,1134.5 466,1134.6 467,1134.8 468,1135 469,1135.3 470,1135.7 471,1136 472,1136.5 473,1136.9 474,1137.5 475,1138 476,1138.7 477,1139.4 478,1140.1 479,1141 480,1141.9 481,1143.3 482,1142 483,1141 484,1140.1 485,1139.4 486,1138.7 487,1138.1 488,1137.5 489,1137 490,1136.5 491,1136 492,1135.7 493,1135.3 494,1135.1 495,1134.8 496,1134.6 497,1134.5 498,1134.4 499,1134.4 500,1134.4 501,1134.5 502,1134.6 503,1134.8 504,1135 505,1135.3 506,1135.7 507,1136 508,1136.5" fill="none" stroke="#767676" stroke-width="0.8"/>
<polyline points="301.9,1139.8 302.9,1138.7 303.9,1137.8 304.9,1137 305.9,1136.2 306.9,1135.5 307.9,1134.8 308.9,1134.3 309.9,1133.7 310.9,1133.2 311.9,1132.8 312.9,1132.5 313.9,1132.1 314.9,1131.9 315.9,1131.7 316.9,1131.5 317.9,1131.4 318.9,1131.4 319.9,1131.4 320.9,1131.5 321.9,1131.6 322.9,1131.8 323.9,1132.1 324.9,1132.4 325.9,1132.8 326.9,1133.2 327.9,1133.6 328.9,1134.2 329.9,1134.7 330.9,1135.4 331.9,1136.1 332.9,1136.8 333.9,1137.6 334.9,1138.6 335.9,1139.6 336.9,1141.1 337.9,1139.8 338.9,1138.7 339.9,1137.8 340.9,1136.9 341.9,1136.2 342.9,1135.5 343.9,1134.8 344.9,1134.2 345.9,1133.7 346.9,1133.2 347.9,1132.8 348.9,1132.4 349.9,1132.1 350.9,1131.9 351.9,1131.7 352.9,1131.5 353.9,1131.4 354.9,1131.4 355.9,1131.4 356.9,1131.5 357.9,1131.7 358.9,1131.8 359.9,1132.1 360.9,1132.4 361.9,1132.8 362.9,1133.2 363.9,1133.6 364.9,1134.2 365.9,1134.7 366.9,1135.4 367.9,1136.1 368.9,1136.8 369.9,1137.7 370.9,1138.6 371.9,1139.6 372.9,1141.1 373.9,1139.8 374.9,1138.7 375.9,1137.8 376.9,1136.9 377.9,1136.2 378.9,1135.5 379.9,1134.8 380.9,1134.2 381.9,1133.7 382.9,1133.2 383.9,1132.8 384.9,1132.4 385.9,1132.1 386.9,1131.9 387.9,1131.7 388.9,1131.5 389.9,1131.4 390.9,1131.4 391.9,1131.4 392.9,1131.5 393.9,1131.7 394.9,1131.8 395.9,1132.1 396.9,1132.4 397.9,1132.8 398.9,1133.2 399.9,1133.6 400.9,1134.2 401.9,1134.8 402.9,1135.4 403.9,1136.1 404.9,1136.8 406,1137.7 407,1138.6 408,1139.7 409,1141.1 410,1139.8 411,1138.7 412,1137.8 413,1136.9 414,1136.2 415,1135.5 416,1134.8 417,1134.2 418,1133.7 419,1133.2 420,1132.8 421,1132.4 422,1132.1 423,1131.9 424,1131.7 425,1131.5 426,1131.4 427,1131.4 428,1131.4 429,1131.5 430,1131.7 431,1131.9 432,1132.1 433,1132.4 434,1132.8 435,1133.2 436,1133.7 437,1134.2 438,1134.8 439,1135.4 440,1136.1 441,1136.9 442,1137.7 443,1138.6 444,1139.7 445,1141.2 446,1139.8 447,1138.7 448,1137.7 449,1136.9 450,1136.1 451,1135.4 452,1134.8 453,1134.2 454,1133.7 455,1133.2 456,1132.8 457,1132.4 458,1132.1 459,1131.9 460,1131.7 461,1131.5 462,1131.4 463,1131.4 464,1131.4 465,1131.5 466,1131.7 467,1131.9 468,1132.1 469,1132.4 470,1132.8 471,1133.2 472,1133.7 473,1134.2 474,1134.8 475,1135.4 476,1136.1 477,1136.9 478,1137.7 479,1138.6 480,1139.7 481,1141.2 482,1139.7 483,1138.7 484,1137.7 485,1136.9 486,1136.1 487,1135.4 488,1134.8 489,1134.2 490,1133.7 491,1133.2 492,1132.8 493,1132.4 494,1132.1 495,1131.9 496,1131.7 497,1131.5 498,1131.4 499,1131.4 500,1131.4 501,1131.5 502,1131.7 503,1131.9 504,1132.1 505,1132.4 506,1132.8 507,1133.2 508,1133.7" fill="none" stroke="#767676" stroke-width="0.8"/>
<polygon points="301.9,1145.8 302.9,1145 303.9,1144.2 304.9,1143.6 305.9,1143 306.9,1142.5 307.9,1142 308.9,1141.6 309.9,1141.2 310.9,1140.8 311.9,1140.5 312.9,1140.2 313.9,1140 314.9,1139.8 315.9,1139.6 316.9,1139.5 317.9,1139.4 318.9,1139.4 319.9,1139.4 320.9,1139.5 321.9,1139.6 322.9,1139.7 323.9,1139.9 324.9,1140.2 325.9,1140.4 326.9,1140.7 327.9,1141.1 328.9,1141.5 329.9,1141.9 330.9,1142.4 331.9,1142.9 332.9,1143.5 333.9,1144.1 334.9,1144.8 335.9,1145.6 336.9,1146.7 337.9,1145.8 338.9,1144.9 339.9,1144.2 340.9,1143.6 341.9,1143 342.9,1142.5 343.9,1142 344.9,1141.6 345.9,1141.2 346.9,1140.8 347.9,1140.5 348.9,1140.2 349.9,1140 350.9,1139.8 351.9,1139.6 352.9,1139.5 353.9,1139.4 354.9,1139.4 355.9,1139.4 356.9,1139.5 357.9,1139.6 358.9,1139.7 359.9,1139.9 360.9,1140.2 361.9,1140.4 362.9,1140.7 363.9,1141.1 364.9,1141.5 365.9,1141.9 366.9,1142.4 367.9,1142.9 368.9,1143.5 369.9,1144.1 370.9,1144.8 371.9,1145.6 372.9,1146.7 373.9,1145.8 374.9,1144.9 375.9,1144.2 376.9,1143.6 377.9,1143 378.9,1142.5 379.9,1142 380.9,1141.5 381.9,1141.1 382.9,1140.8 383.9,1140.5 384.9,1140.2 385.9,1140 386.9,1139.8 387.9,1139.6 388.9,1139.5 389.9,1139.4 390.9,1139.4 391.9,1139.4 392.9,1139.5 393.9,1139.6 394.9,1139.7 395.9,1139.9 396.9,1140.2 397.9,1140.4 398.9,1140.7 399.9,1141.1 400.9,1141.5 401.9,1141.9 402.9,1142.4 403.9,1142.9 404.9,1143.5 406,1144.2 407,1144.8 408,1145.7 409,1146.8 410,1145.7 411,1144.9 412,1144.2 413,1143.6 414,1143 415,1142.5 416,1142 417,1141.5 418,1141.1 419,1140.8 420,1140.5 421,1140.2 422,1140 423,1139.8 424,1139.6 425,1139.5 426,1139.4 427,1139.4 428,1139.4 429,1139.5 430,1139.6 431,1139.7 432,1139.9 433,1140.2 434,1140.4 435,1140.8 436,1141.1 437,1141.5 438,1141.9 439,1142.4 440,1143 441,1143.5 442,1144.2 443,1144.9 444,1145.7 445,1146.8 446,1145.7 447,1144.9 448,1144.2 449,1143.6 450,1143 451,1142.5 452,1142 453,1141.5 454,1141.1 455,1140.8 456,1140.5 457,1140.2 458,1139.9 459,1139.8 460,1139.6 461,1139.5 462,1139.4 463,1139.4 464,1139.4 465,1139.5 466,1139.6 467,1139.7 468,1139.9 469,1140.2 470,1140.4 471,1140.8 472,1141.1 473,1141.5 474,1142 475,1142.4 476,1143 477,1143.5 478,1144.2 479,1144.9 480,1145.7 481,1146.9 482,1145.7 483,1144.9 484,1144.2 485,1143.6 486,1143 487,1142.5 488,1142 489,1141.5 490,1141.1 491,1140.8 492,1140.5 493,1140.2 494,1139.9 495,1139.8 496,1139.6 497,1139.5 498,1139.4 499,1139.4 500,1139.4 501,1139.5 502,1139.6 503,1139.8 504,1139.9 505,1140.2 506,1140.5 507,1140.8 508,1141.1 508,1172.3 507,1173 506,1173.5 505,1174 504,1174.5 503,1174.8 502,1175.1 501,1175.3 500,1175.4 499,1175.5 498,1175.4 497,1175.3 496,1175.1 495,1174.8 494,1174.5 493,1174 492,1173.5 491,1173 490,1172.3 489,1171.6 488,1170.8 487,1170 486,1169.1 485,1168.2 484,1167.2 483,1166.1 482,1165 481,1163.7 480,1165 479,1166.2 478,1167.2 477,1168.2 476,1169.1 475,1170 474,1170.9 473,1171.6 472,1172.3 471,1173 470,1173.5 469,1174.1 468,1174.5 467,1174.8 466,1175.1 465,1175.3 464,1175.4 463,1175.5 462,1175.4 461,1175.3 460,1175.1 459,1174.8 458,1174.5 457,1174 456,1173.5 455,1172.9 454,1172.3 453,1171.6 452,1170.8 451,1170 450,1169.1 449,1168.2 448,1167.2 447,1166.1 446,1165 445,1163.8 444,1165.1 443,1166.2 442,1167.2 441,1168.2 440,1169.2 439,1170 438,1170.9 437,1171.6 436,1172.3 435,1173 434,1173.6 433,1174.1 432,1174.5 431,1174.8 430,1175.1 429,1175.3 428,1175.4 427,1175.5 426,1175.4 425,1175.3 424,1175.1 423,1174.8 422,1174.5 421,1174 420,1173.5 419,1172.9 418,1172.3 417,1171.6 416,1170.8 415,1170 414,1169.1 413,1168.1 412,1167.1 411,1166.1 410,1165 409,1163.8 408,1165.1 407,1166.2 406,1167.2 404.9,1168.2 403.9,1169.2 402.9,1170.1 401.9,1170.9 400.9,1171.6 399.9,1172.4 398.9,1173 397.9,1173.6 396.9,1174.1 395.9,1174.5 394.9,1174.8 393.9,1175.1 392.9,1175.3 391.9,1175.4 390.9,1175.5 389.9,1175.4 388.9,1175.3 387.9,1175.1 386.9,1174.8 385.9,1174.5 384.9,1174 383.9,1173.5 382.9,1172.9 381.9,1172.3 380.9,1171.6 379.9,1170.8 378.9,1170 377.9,1169.1 376.9,1168.1 375.9,1167.1 374.9,1166.1 373.9,1164.9 372.9,1163.8 371.9,1165.1 370.9,1166.2 369.9,1167.3 368.9,1168.3 367.9,1169.2 366.9,1170.1 365.9,1170.9 364.9,1171.7 363.9,1172.4 362.9,1173 361.9,1173.6 360.9,1174.1 359.9,1174.5 358.9,1174.9 357.9,1175.1 356.9,1175.3 355.9,1175.4 354.9,1175.5 353.9,1175.4 352.9,1175.3 351.9,1175.1 350.9,1174.8 349.9,1174.4 348.9,1174 347.9,1173.5 346.9,1172.9 345.9,1172.3 344.9,1171.6 343.9,1170.8 342.9,1169.9 341.9,1169.1 340.9,1168.1 339.9,1167.1 338.9,1166.1 337.9,1164.9 336.9,1163.9 335.9,1165.1 334.9,1166.2 333.9,1167.3 332.9,1168.3 331.9,1169.2 330.9,1170.1 329.9,1170.9 328.9,1171.7 327.9,1172.4 326.9,1173 325.9,1173.6 324.9,1174.1 323.9,1174.5 322.9,1174.9 321.9,1175.1 320.9,1175.3 319.9,1175.4 318.9,1175.5 317.9,1175.4 316.9,1175.3 315.9,1175.1 314.9,1174.8 313.9,1174.4 312.9,1174 311.9,1173.5 310.9,1172.9 309.9,1172.3 308.9,1171.5 307.9,1170.8 306.9,1169.9 305.9,1169 304.9,1168.1 303.9,1167.1 302.9,1166 301.9,1164.9" fill="#323232"/>
<polyline points="301.9,1145.8 302.9,1145 303.9,1144.2 304.9,1143.6 305.9,1143 306.9,1142.5 307.9,1142 308.9,1141.6 309.9,1141.2 310.9,1140.8 311.9,1140.5 312.9,1140.2 313.9,1140 314.9,1139.8 315.9,1139.6 316.9,1139.5 317.9,1139.4 318.9,1139.4 319.9,1139.4 320.9,1139.5 321.9,1139.6 322.9,1139.7 323.9,1139.9 324.9,1140.2 325.9,1140.4 326.9,1140.7 327.9,1141.1 328.9,1141.5 329.9,1141.9 330.9,1142.4 331.9,1142.9 332.9,1143.5 333.9,1144.1 334.9,1144.8 335.9,1145.6 336.9,1146.7 337.9,1145.8 338.9,1144.9 339.9,1144.2 340.9,1143.6 341.9,1143 342.9,1142.5 343.9,1142 344.9,1141.6 345.9,1141.2 346.9,1140.8 347.9,1140.5 348.9,1140.2 349.9,1140 350.9,1139.8 351.9,1139.6 352.9,1139.5 353.9,1139.4 354.9,1139.4 355.9,1139.4 356.9,1139.5 357.9,1139.6 358.9,1139.7 359.9,1139.9 360.9,1140.2 361.9,1140.4 362.9,1140.7 363.9,1141.1 364.9,1141.5 365.9,1141.9 366.9,1142.4 367.9,1142.9 368.9,1143.5 369.9,1144.1 370.9,1144.8 371.9,1145.6 372.9,1146.7 373.9,1145.8 374.9,1144.9 375.9,1144.2 376.9,1143.6 377.9,1143 378.9,1142.5 379.9,1142 380.9,1141.5 381.9,1141.1 382.9,1140.8 383.9,1140.5 384.9,1140.2 385.9,1140 386.9,1139.8 387.9,1139.6 388.9,1139.5 389.9,1139.4 390.9,1139.4 391.9,1139.4 392.9,1139.5 393.9,1139.6 394.9,1139.7 395.9,1139.9 396.9,1140.2 397.9,1140.4 398.9,1140.7 399.9,1141.1 400.9,1141.5 401.9,1141.9 402.9,1142.4 403.9,1142.9 404.9,1143.5 406,1144.2 407,1144.8 408,1145.7 409,1146.8 410,1145.7 411,1144.9 412,1144.2 413,1143.6 414,1143 415,1142.5 416,1142 417,1141.5 418,1141.1 419,1140.8 420,1140.5 421,1140.2 422,1140 423,1139.8 424,1139.6 425,1139.5 426,1139.4 427,1139.4 428,1139.4 429,1139.5 430,1139.6 431,1139.7 432,1139.9 433,1140.2 434,1140.4 435,1140.8 436,1141.1 437,1141.5 438,1141.9 439,1142.4 440,1143 441,1143.5 442,1144.2 443,1144.9 444,1145.7 445,1146.8 446,1145.7 447,1144.9 448,1144.2 449,1143.6 450,1143 451,1142.5 452,1142 453,1141.5 454,1141.1 455,1140.8 456,1140.5 457,1140.2 458,1139.9 459,1139.8 460,1139.6 461,1139.5 462,1139.4 463,1139.4 464,1139.4 465,1139.5 466,1139.6 467,1139.7 468,1139.9 469,1140.2 470,1140.4 471,1140.8 472,1141.1 473,1141.5 474,1142 475,1142.4 476,1143 477,1143.5 478,1144.2 479,1144.9 480,1145.7 481,1146.9 482,1145.7 483,1144.9 484,1144.2 485,1143.6 486,1143 487,1142.5 488,1142 489,1141.5 490,1141.1 491,1140.8 492,1140.5 493,1140.2 494,1139.9 495,1139.8 496,1139.6 497,1139.5 498,1139.4 499,1139.4 500,1139.4 501,1139.5 502,1139.6 503,1139.8 504,1139.9 505,1140.2 506,1140.5 507,1140.8 508,1141.1" fill="none" stroke="#a5a5a5" stroke-width="1.1"/>
<polyline points="301.9,1164.9 302.9,1166 303.9,1167.1 304.9,1168.1 305.9,1169 306.9,1169.9 307.9,1170.8 308.9,1171.5 309.9,1172.3 310.9,1172.9 311.9,1173.5 312.9,1174 313.9,1174.4 314.9,1174.8 315.9,1175.1 316.9,1175.3 317.9,1175.4 318.9,1175.5 319.9,1175.4 320.9,1175.3 321.9,1175.1 322.9,1174.9 323.9,1174.5 324.9,1174.1 325.9,1173.6 326.9,1173 327.9,1172.4 328.9,1171.7 329.9,1170.9 330.9,1170.1 331.9,1169.2 332.9,1168.3 333.9,1167.3 334.9,1166.2 335.9,1165.1 336.9,1163.9 337.9,1164.9 338.9,1166.1 339.9,1167.1 340.9,1168.1 341.9,1169.1 342.9,1169.9 343.9,1170.8 344.9,1171.6 345.9,1172.3 346.9,1172.9 347.9,1173.5 348.9,1174 349.9,1174.4 350.9,1174.8 351.9,1175.1 352.9,1175.3 353.9,1175.4 354.9,1175.5 355.9,1175.4 356.9,1175.3 357.9,1175.1 358.9,1174.9 359.9,1174.5 360.9,1174.1 361.9,1173.6 362.9,1173 363.9,1172.4 364.9,1171.7 365.9,1170.9 366.9,1170.1 367.9,1169.2 368.9,1168.3 369.9,1167.3 370.9,1166.2 371.9,1165.1 372.9,1163.8 373.9,1164.9 374.9,1166.1 375.9,1167.1 376.9,1168.1 377.9,1169.1 378.9,1170 379.9,1170.8 380.9,1171.6 381.9,1172.3 382.9,1172.9 383.9,1173.5 384.9,1174 385.9,1174.5 386.9,1174.8 387.9,1175.1 388.9,1175.3 389.9,1175.4 390.9,1175.5 391.9,1175.4 392.9,1175.3 393.9,1175.1 394.9,1174.8 395.9,1174.5 396.9,1174.1 397.9,1173.6 398.9,1173 399.9,1172.4 400.9,1171.6 401.9,1170.9 402.9,1170.1 403.9,1169.2 404.9,1168.2 406,1167.2 407,1166.2 408,1165.1 409,1163.8 410,1165 411,1166.1 412,1167.1 413,1168.1 414,1169.1 415,1170 416,1170.8 417,1171.6 418,1172.3 419,1172.9 420,1173.5 421,1174 422,1174.5 423,1174.8 424,1175.1 425,1175.3 426,1175.4 427,1175.5 428,1175.4 429,1175.3 430,1175.1 431,1174.8 432,1174.5 433,1174.1 434,1173.6 435,1173 436,1172.3 437,1171.6 438,1170.9 439,1170 440,1169.2 441,1168.2 442,1167.2 443,1166.2 444,1165.1 445,1163.8 446,1165 447,1166.1 448,1167.2 449,1168.2 450,1169.1 451,1170 452,1170.8 453,1171.6 454,1172.3 455,1172.9 456,1173.5 457,1174 458,1174.5 459,1174.8 460,1175.1 461,1175.3 462,1175.4 463,1175.5 464,1175.4 465,1175.3 466,1175.1 467,1174.8 468,1174.5 469,1174.1 470,1173.5 471,1173 472,1172.3 473,1171.6 474,1170.9 475,1170 476,1169.1 477,1168.2 478,1167.2 479,1166.2 480,1165 481,1163.7 482,1165 483,1166.1 484,1167.2 485,1168.2 486,1169.1 487,1170 488,1170.8 489,1171.6 490,1172.3 491,1173 492,1173.5 493,1174 494,1174.5 495,1174.8 496,1175.1 497,1175.3 498,1175.4 499,1175.5 500,1175.4 501,1175.3 502,1175.1 503,1174.8 504,1174.5 505,1174 506,1173.5 507,1173 508,1172.3" fill="none" stroke="#afafaf" stroke-width="1.2"/>
<polyline points="301.9,1168.8 302.9,1169.8 303.9,1170.7 304.9,1171.5 305.9,1172.4 306.9,1173.1 307.9,1173.8 308.9,1174.5 309.9,1175.1 310.9,1175.7 311.9,1176.2 312.9,1176.6 313.9,1177 314.9,1177.3 315.9,1177.6 316.9,1177.7 317.9,1177.9 318.9,1177.9 319.9,1177.9 320.9,1177.8 321.9,1177.6 322.9,1177.4 323.9,1177.1 324.9,1176.7 325.9,1176.3 326.9,1175.8 327.9,1175.2 328.9,1174.6 329.9,1174 330.9,1173.3 331.9,1172.5 332.9,1171.7 333.9,1170.8 334.9,1169.9 335.9,1169 336.9,1167.8 337.9,1168.8 338.9,1169.8 339.9,1170.7 340.9,1171.6 341.9,1172.4 342.9,1173.1 343.9,1173.9 344.9,1174.5 345.9,1175.1 346.9,1175.7 347.9,1176.2 348.9,1176.6 349.9,1177 350.9,1177.3 351.9,1177.6 352.9,1177.8 353.9,1177.9 354.9,1177.9 355.9,1177.9 356.9,1177.8 357.9,1177.6 358.9,1177.4 359.9,1177.1 360.9,1176.7 361.9,1176.3 362.9,1175.8 363.9,1175.2 364.9,1174.6 365.9,1174 366.9,1173.2 367.9,1172.5 368.9,1171.7 369.9,1170.8 370.9,1169.9 371.9,1168.9 372.9,1167.8 373.9,1168.8 374.9,1169.8 375.9,1170.7 376.9,1171.6 377.9,1172.4 378.9,1173.1 379.9,1173.9 380.9,1174.5 381.9,1175.1 382.9,1175.7 383.9,1176.2 384.9,1176.6 385.9,1177 386.9,1177.3 387.9,1177.6 388.9,1177.8 389.9,1177.9 390.9,1177.9 391.9,1177.9 392.9,1177.8 393.9,1177.6 394.9,1177.4 395.9,1177.1 396.9,1176.7 397.9,1176.3 398.9,1175.8 399.9,1175.2 400.9,1174.6 401.9,1173.9 402.9,1173.2 403.9,1172.5 404.9,1171.7 406,1170.8 407,1169.9 408,1168.9 409,1167.8 410,1168.8 411,1169.8 412,1170.7 413,1171.6 414,1172.4 415,1173.2 416,1173.9 417,1174.5 418,1175.2 419,1175.7 420,1176.2 421,1176.7 422,1177 423,1177.3 424,1177.6 425,1177.8 426,1177.9 427,1177.9 428,1177.9 429,1177.8 430,1177.6 431,1177.4 432,1177.1 433,1176.7 434,1176.3 435,1175.8 436,1175.2 437,1174.6 438,1173.9 439,1173.2 440,1172.5 441,1171.6 442,1170.8 443,1169.9 444,1168.9 445,1167.8 446,1168.8 447,1169.8 448,1170.7 449,1171.6 450,1172.4 451,1173.2 452,1173.9 453,1174.6 454,1175.2 455,1175.7 456,1176.2 457,1176.7 458,1177 459,1177.3 460,1177.6 461,1177.8 462,1177.9 463,1177.9 464,1177.9 465,1177.8 466,1177.6 467,1177.4 468,1177 469,1176.7 470,1176.2 471,1175.7 472,1175.2 473,1174.6 474,1173.9 475,1173.2 476,1172.4 477,1171.6 478,1170.8 479,1169.9 480,1168.9 481,1167.7 482,1168.9 483,1169.8 484,1170.7 485,1171.6 486,1172.4 487,1173.2 488,1173.9 489,1174.6 490,1175.2 491,1175.7 492,1176.2 493,1176.7 494,1177 495,1177.3 496,1177.6 497,1177.8 498,1177.9 499,1177.9 500,1177.9 501,1177.8 502,1177.6 503,1177.3 504,1177 505,1176.7 506,1176.2 507,1175.7 508,1175.2" fill="none" stroke="#969696" stroke-width="0.9"/>
<polyline points="301.9,1172.6 302.9,1173.5 303.9,1174.2 304.9,1175 305.9,1175.7 306.9,1176.3 307.9,1176.9 308.9,1177.5 309.9,1178 310.9,1178.5 311.9,1178.9 312.9,1179.3 313.9,1179.6 314.9,1179.8 315.9,1180.1 316.9,1180.2 317.9,1180.3 318.9,1180.3 319.9,1180.3 320.9,1180.2 321.9,1180.1 322.9,1179.9 323.9,1179.6 324.9,1179.3 325.9,1179 326.9,1178.6 327.9,1178.1 328.9,1177.6 329.9,1177 330.9,1176.4 331.9,1175.8 332.9,1175.1 333.9,1174.4 334.9,1173.6 335.9,1172.8 336.9,1171.8 337.9,1172.6 338.9,1173.5 339.9,1174.3 340.9,1175 341.9,1175.7 342.9,1176.3 343.9,1176.9 344.9,1177.5 345.9,1178 346.9,1178.5 347.9,1178.9 348.9,1179.3 349.9,1179.6 350.9,1179.9 351.9,1180.1 352.9,1180.2 353.9,1180.3 354.9,1180.3 355.9,1180.3 356.9,1180.2 357.9,1180.1 358.9,1179.9 359.9,1179.6 360.9,1179.3 361.9,1179 362.9,1178.5 363.9,1178.1 364.9,1177.6 365.9,1177 366.9,1176.4 367.9,1175.8 368.9,1175.1 369.9,1174.4 370.9,1173.6 371.9,1172.8 372.9,1171.8 373.9,1172.7 374.9,1173.5 375.9,1174.3 376.9,1175 377.9,1175.7 378.9,1176.3 379.9,1176.9 380.9,1177.5 381.9,1178 382.9,1178.5 383.9,1178.9 384.9,1179.3 385.9,1179.6 386.9,1179.9 387.9,1180.1 388.9,1180.2 389.9,1180.3 390.9,1180.3 391.9,1180.3 392.9,1180.2 393.9,1180.1 394.9,1179.9 395.9,1179.6 396.9,1179.3 397.9,1179 398.9,1178.5 399.9,1178.1 400.9,1177.6 401.9,1177 402.9,1176.4 403.9,1175.8 404.9,1175.1 406,1174.4 407,1173.6 408,1172.8 409,1171.8 410,1172.7 411,1173.5 412,1174.3 413,1175 414,1175.7 415,1176.3 416,1177 417,1177.5 418,1178 419,1178.5 420,1178.9 421,1179.3 422,1179.6 423,1179.9 424,1180.1 425,1180.2 426,1180.3 427,1180.3 428,1180.3 429,1180.2 430,1180.1 431,1179.9 432,1179.6 433,1179.3 434,1178.9 435,1178.5 436,1178.1 437,1177.6 438,1177 439,1176.4 440,1175.8 441,1175.1 442,1174.3 443,1173.6 444,1172.7 445,1171.8 446,1172.7 447,1173.5 448,1174.3 449,1175 450,1175.7 451,1176.4 452,1177 453,1177.5 454,1178 455,1178.5 456,1178.9 457,1179.3 458,1179.6 459,1179.9 460,1180.1 461,1180.2 462,1180.3 463,1180.3 464,1180.3 465,1180.2 466,1180.1 467,1179.9 468,1179.6 469,1179.3 470,1178.9 471,1178.5 472,1178.1 473,1177.5 474,1177 475,1176.4 476,1175.7 477,1175.1 478,1174.3 479,1173.6 480,1172.7 481,1171.7 482,1172.7 483,1173.5 484,1174.3 485,1175 486,1175.7 487,1176.4 488,1177 489,1177.5 490,1178 491,1178.5 492,1178.9 493,1179.3 494,1179.6 495,1179.9 496,1180.1 497,1180.2 498,1180.3 499,1180.3 500,1180.3 501,1180.2 502,1180.1 503,1179.9 504,1179.6 505,1179.3 506,1178.9 507,1178.5 508,1178.1" fill="none" stroke="#919191" stroke-width="0.9"/>
<polyline points="301.9,1176.5 302.9,1177.2 303.9,1177.8 304.9,1178.4 305.9,1179 306.9,1179.5 307.9,1180 308.9,1180.5 309.9,1180.9 310.9,1181.3 311.9,1181.6 312.9,1181.9 313.9,1182.2 314.9,1182.4 315.9,1182.5 316.9,1182.7 317.9,1182.7 318.9,1182.8 319.9,1182.7 320.9,1182.7 321.9,1182.6 322.9,1182.4 323.9,1182.2 324.9,1182 325.9,1181.7 326.9,1181.3 327.9,1181 328.9,1180.5 329.9,1180.1 330.9,1179.6 331.9,1179.1 332.9,1178.5 333.9,1177.9 334.9,1177.3 335.9,1176.6 336.9,1175.8 337.9,1176.5 338.9,1177.2 339.9,1177.8 340.9,1178.4 341.9,1179 342.9,1179.5 343.9,1180 344.9,1180.5 345.9,1180.9 346.9,1181.3 347.9,1181.6 348.9,1181.9 349.9,1182.2 350.9,1182.4 351.9,1182.5 352.9,1182.7 353.9,1182.7 354.9,1182.8 355.9,1182.7 356.9,1182.7 357.9,1182.6 358.9,1182.4 359.9,1182.2 360.9,1181.9 361.9,1181.7 362.9,1181.3 363.9,1180.9 364.9,1180.5 365.9,1180.1 366.9,1179.6 367.9,1179.1 368.9,1178.5 369.9,1177.9 370.9,1177.3 371.9,1176.6 372.9,1175.8 373.9,1176.5 374.9,1177.2 375.9,1177.8 376.9,1178.4 377.9,1179 378.9,1179.5 379.9,1180 380.9,1180.5 381.9,1180.9 382.9,1181.3 383.9,1181.6 384.9,1181.9 385.9,1182.2 386.9,1182.4 387.9,1182.5 388.9,1182.7 389.9,1182.7 390.9,1182.8 391.9,1182.7 392.9,1182.7 393.9,1182.6 394.9,1182.4 395.9,1182.2 396.9,1181.9 397.9,1181.6 398.9,1181.3 399.9,1180.9 400.9,1180.5 401.9,1180.1 402.9,1179.6 403.9,1179.1 404.9,1178.5 406,1177.9 407,1177.3 408,1176.6 409,1175.8 410,1176.5 411,1177.2 412,1177.9 413,1178.5 414,1179 415,1179.5 416,1180 417,1180.5 418,1180.9 419,1181.3 420,1181.6 421,1181.9 422,1182.2 423,1182.4 424,1182.5 425,1182.7 426,1182.7 427,1182.8 428,1182.7 429,1182.7 430,1182.6 431,1182.4 432,1182.2 433,1181.9 434,1181.6 435,1181.3 436,1180.9 437,1180.5 438,1180.1 439,1179.6 440,1179.1 441,1178.5 442,1177.9 443,1177.3 444,1176.6 445,1175.8 446,1176.5 447,1177.2 448,1177.9 449,1178.5 450,1179 451,1179.5 452,1180 453,1180.5 454,1180.9 455,1181.3 456,1181.6 457,1181.9 458,1182.2 459,1182.4 460,1182.5 461,1182.7 462,1182.7 463,1182.8 464,1182.7 465,1182.7 466,1182.6 467,1182.4 468,1182.2 469,1181.9 470,1181.6 471,1181.3 472,1180.9 473,1180.5 474,1180.1 475,1179.6 476,1179 477,1178.5 478,1177.9 479,1177.3 480,1176.6 481,1175.8 482,1176.6 483,1177.2 484,1177.9 485,1178.5 486,1179 487,1179.6 488,1180 489,1180.5 490,1180.9 491,1181.3 492,1181.6 493,1181.9 494,1182.2 495,1182.4 496,1182.5 497,1182.7 498,1182.7 499,1182.8 500,1182.7 501,1182.7 502,1182.6 503,1182.4 504,1182.2 505,1181.9 506,1181.6 507,1181.3 508,1180.9" fill="none" stroke="#8c8c8c" stroke-width="0.9"/>
<polyline points="301.9,1180.4 302.9,1180.9 303.9,1181.4 304.9,1181.9 305.9,1182.3 306.9,1182.7 307.9,1183.1 308.9,1183.4 309.9,1183.8 310.9,1184 311.9,1184.3 312.9,1184.5 313.9,1184.7 314.9,1184.9 315.9,1185 316.9,1185.1 317.9,1185.2 318.9,1185.2 319.9,1185.2 320.9,1185.1 321.9,1185 322.9,1184.9 323.9,1184.8 324.9,1184.6 325.9,1184.4 326.9,1184.1 327.9,1183.8 328.9,1183.5 329.9,1183.2 330.9,1182.8 331.9,1182.4 332.9,1181.9 333.9,1181.5 334.9,1181 335.9,1180.5 336.9,1179.8 337.9,1180.4 338.9,1180.9 339.9,1181.4 340.9,1181.9 341.9,1182.3 342.9,1182.7 343.9,1183.1 344.9,1183.4 345.9,1183.8 346.9,1184.1 347.9,1184.3 348.9,1184.5 349.9,1184.7 350.9,1184.9 351.9,1185 352.9,1185.1 353.9,1185.2 354.9,1185.2 355.9,1185.2 356.9,1185.1 357.9,1185 358.9,1184.9 359.9,1184.8 360.9,1184.6 361.9,1184.3 362.9,1184.1 363.9,1183.8 364.9,1183.5 365.9,1183.1 366.9,1182.8 367.9,1182.4 368.9,1181.9 369.9,1181.5 370.9,1181 371.9,1180.4 372.9,1179.8 373.9,1180.4 374.9,1180.9 375.9,1181.4 376.9,1181.9 377.9,1182.3 378.9,1182.7 379.9,1183.1 380.9,1183.4 381.9,1183.8 382.9,1184.1 383.9,1184.3 384.9,1184.5 385.9,1184.7 386.9,1184.9 387.9,1185 388.9,1185.1 389.9,1185.2 390.9,1185.2 391.9,1185.2 392.9,1185.1 393.9,1185 394.9,1184.9 395.9,1184.8 396.9,1184.6 397.9,1184.3 398.9,1184.1 399.9,1183.8 400.9,1183.5 401.9,1183.1 402.9,1182.8 403.9,1182.4 404.9,1181.9 406,1181.5 407,1181 408,1180.4 409,1179.8 410,1180.4 411,1180.9 412,1181.4 413,1181.9 414,1182.3 415,1182.7 416,1183.1 417,1183.5 418,1183.8 419,1184.1 420,1184.3 421,1184.5 422,1184.7 423,1184.9 424,1185 425,1185.1 426,1185.2 427,1185.2 428,1185.2 429,1185.1 430,1185 431,1184.9 432,1184.8 433,1184.6 434,1184.3 435,1184.1 436,1183.8 437,1183.5 438,1183.1 439,1182.8 440,1182.4 441,1181.9 442,1181.5 443,1181 444,1180.4 445,1179.8 446,1180.4 447,1180.9 448,1181.4 449,1181.9 450,1182.3 451,1182.7 452,1183.1 453,1183.5 454,1183.8 455,1184.1 456,1184.3 457,1184.6 458,1184.7 459,1184.9 460,1185 461,1185.1 462,1185.2 463,1185.2 464,1185.2 465,1185.1 466,1185 467,1184.9 468,1184.8 469,1184.6 470,1184.3 471,1184.1 472,1183.8 473,1183.5 474,1183.1 475,1182.7 476,1182.3 477,1181.9 478,1181.5 479,1181 480,1180.4 481,1179.8 482,1180.4 483,1180.9 484,1181.4 485,1181.9 486,1182.3 487,1182.7 488,1183.1 489,1183.5 490,1183.8 491,1184.1 492,1184.3 493,1184.6 494,1184.7 495,1184.9 496,1185 497,1185.1 498,1185.2 499,1185.2 500,1185.2 501,1185.1 502,1185 503,1184.9 504,1184.7 505,1184.6 506,1184.3 507,1184.1 508,1183.8" fill="none" stroke="#878787" stroke-width="0.9"/>
<polygon points="301.9,1186.4 302.9,1186.7 303.9,1187 304.9,1187.2 305.9,1187.5 306.9,1187.7 307.9,1187.9 308.9,1188.1 309.9,1188.2 310.9,1188.4 311.9,1188.5 312.9,1188.6 313.9,1188.7 314.9,1188.8 315.9,1188.9 316.9,1188.9 317.9,1189 318.9,1189 319.9,1189 320.9,1188.9 321.9,1188.9 322.9,1188.8 323.9,1188.8 324.9,1188.7 325.9,1188.5 326.9,1188.4 327.9,1188.3 328.9,1188.1 329.9,1187.9 330.9,1187.7 331.9,1187.5 332.9,1187.3 333.9,1187 334.9,1186.7 335.9,1186.4 336.9,1186 337.9,1186.4 338.9,1186.7 339.9,1187 340.9,1187.2 341.9,1187.5 342.9,1187.7 343.9,1187.9 344.9,1188.1 345.9,1188.2 346.9,1188.4 347.9,1188.5 348.9,1188.6 349.9,1188.7 350.9,1188.8 351.9,1188.9 352.9,1188.9 353.9,1189 354.9,1189 355.9,1189 356.9,1188.9 357.9,1188.9 358.9,1188.8 359.9,1188.7 360.9,1188.7 361.9,1188.5 362.9,1188.4 363.9,1188.3 364.9,1188.1 365.9,1187.9 366.9,1187.7 367.9,1187.5 368.9,1187.3 369.9,1187 370.9,1186.7 371.9,1186.4 372.9,1186 373.9,1186.4 374.9,1186.7 375.9,1187 376.9,1187.2 377.9,1187.5 378.9,1187.7 379.9,1187.9 380.9,1188.1 381.9,1188.2 382.9,1188.4 383.9,1188.5 384.9,1188.6 385.9,1188.7 386.9,1188.8 387.9,1188.9 388.9,1188.9 389.9,1189 390.9,1189 391.9,1189 392.9,1188.9 393.9,1188.9 394.9,1188.8 395.9,1188.7 396.9,1188.7 397.9,1188.5 398.9,1188.4 399.9,1188.3 400.9,1188.1 401.9,1187.9 402.9,1187.7 403.9,1187.5 404.9,1187.3 406,1187 407,1186.7 408,1186.4 409,1186 410,1186.4 411,1186.7 412,1187 413,1187.2 414,1187.5 415,1187.7 416,1187.9 417,1188.1 418,1188.2 419,1188.4 420,1188.5 421,1188.6 422,1188.7 423,1188.8 424,1188.9 425,1188.9 426,1189 427,1189 428,1189 429,1188.9 430,1188.9 431,1188.8 432,1188.7 433,1188.6 434,1188.5 435,1188.4 436,1188.2 437,1188.1 438,1187.9 439,1187.7 440,1187.5 441,1187.2 442,1187 443,1186.7 444,1186.4 445,1186 446,1186.4 447,1186.7 448,1187 449,1187.2 450,1187.5 451,1187.7 452,1187.9 453,1188.1 454,1188.2 455,1188.4 456,1188.5 457,1188.6 458,1188.7 459,1188.8 460,1188.9 461,1188.9 462,1189 463,1189 464,1189 465,1188.9 466,1188.9 467,1188.8 468,1188.7 469,1188.6 470,1188.5 471,1188.4 472,1188.2 473,1188.1 474,1187.9 475,1187.7 476,1187.5 477,1187.2 478,1187 479,1186.7 480,1186.4 481,1186 482,1186.4 483,1186.7 484,1187 485,1187.2 486,1187.5 487,1187.7 488,1187.9 489,1188.1 490,1188.2 491,1188.4 492,1188.5 493,1188.6 494,1188.7 495,1188.8 496,1188.9 497,1188.9 498,1189 499,1189 500,1189 501,1188.9 502,1188.9 503,1188.8 504,1188.7 505,1188.6 506,1188.5 507,1188.4 508,1188.2 508,1204.3 301.9,1204.3" fill="#969696"/>
<polyline points="301.9,1186.4 302.9,1186.7 303.9,1187 304.9,1187.2 305.9,1187.5 306.9,1187.7 307.9,1187.9 308.9,1188.1 309.9,1188.2 310.9,1188.4 311.9,1188.5 312.9,1188.6 313.9,1188.7 314.9,1188.8 315.9,1188.9 316.9,1188.9 317.9,1189 318.9,1189 319.9,1189 320.9,1188.9 321.9,1188.9 322.9,1188.8 323.9,1188.8 324.9,1188.7 325.9,1188.5 326.9,1188.4 327.9,1188.3 328.9,1188.1 329.9,1187.9 330.9,1187.7 331.9,1187.5 332.9,1187.3 333.9,1187 334.9,1186.7 335.9,1186.4 336.9,1186 337.9,1186.4 338.9,1186.7 339.9,1187 340.9,1187.2 341.9,1187.5 342.9,1187.7 343.9,1187.9 344.9,1188.1 345.9,1188.2 346.9,1188.4 347.9,1188.5 348.9,1188.6 349.9,1188.7 350.9,1188.8 351.9,1188.9 352.9,1188.9 353.9,1189 354.9,1189 355.9,1189 356.9,1188.9 357.9,1188.9 358.9,1188.8 359.9,1188.7 360.9,1188.7 361.9,1188.5 362.9,1188.4 363.9,1188.3 364.9,1188.1 365.9,1187.9 366.9,1187.7 367.9,1187.5 368.9,1187.3 369.9,1187 370.9,1186.7 371.9,1186.4 372.9,1186 373.9,1186.4 374.9,1186.7 375.9,1187 376.9,1187.2 377.9,1187.5 378.9,1187.7 379.9,1187.9 380.9,1188.1 381.9,1188.2 382.9,1188.4 383.9,1188.5 384.9,1188.6 385.9,1188.7 386.9,1188.8 387.9,1188.9 388.9,1188.9 389.9,1189 390.9,1189 391.9,1189 392.9,1188.9 393.9,1188.9 394.9,1188.8 395.9,1188.7 396.9,1188.7 397.9,1188.5 398.9,1188.4 399.9,1188.3 400.9,1188.1 401.9,1187.9 402.9,1187.7 403.9,1187.5 404.9,1187.3 406,1187 407,1186.7 408,1186.4 409,1186 410,1186.4 411,1186.7 412,1187 413,1187.2 414,1187.5 415,1187.7 416,1187.9 417,1188.1 418,1188.2 419,1188.4 420,1188.5 421,1188.6 422,1188.7 423,1188.8 424,1188.9 425,1188.9 426,1189 427,1189 428,1189 429,1188.9 430,1188.9 431,1188.8 432,1188.7 433,1188.6 434,1188.5 435,1188.4 436,1188.2 437,1188.1 438,1187.9 439,1187.7 440,1187.5 441,1187.2 442,1187 443,1186.7 444,1186.4 445,1186 446,1186.4 447,1186.7 448,1187 449,1187.2 450,1187.5 451,1187.7 452,1187.9 453,1188.1 454,1188.2 455,1188.4 456,1188.5 457,1188.6 458,1188.7 459,1188.8 460,1188.9 461,1188.9 462,1189 463,1189 464,1189 465,1188.9 466,1188.9 467,1188.8 468,1188.7 469,1188.6 470,1188.5 471,1188.4 472,1188.2 473,1188.1 474,1187.9 475,1187.7 476,1187.5 477,1187.2 478,1187 479,1186.7 480,1186.4 481,1186 482,1186.4 483,1186.7 484,1187 485,1187.2 486,1187.5 487,1187.7 488,1187.9 489,1188.1 490,1188.2 491,1188.4 492,1188.5 493,1188.6 494,1188.7 495,1188.8 496,1188.9 497,1188.9 498,1189 499,1189 500,1189 501,1188.9 502,1188.9 503,1188.8 504,1188.7 505,1188.6 506,1188.5 507,1188.4 508,1188.2" fill="none" stroke="#fafafa" stroke-width="3"/>
<polyline points="301.9,1190.9 302.9,1191.2 303.9,1191.5 304.9,1191.7 305.9,1192 306.9,1192.2 307.9,1192.4 308.9,1192.6 309.9,1192.7 310.9,1192.9 311.9,1193 312.9,1193.1 313.9,1193.2 314.9,1193.3 315.9,1193.4 316.9,1193.4 317.9,1193.5 318.9,1193.5 319.9,1193.5 320.9,1193.4 321.9,1193.4 322.9,1193.3 323.9,1193.3 324.9,1193.2 325.9,1193 326.9,1192.9 327.9,1192.8 328.9,1192.6 329.9,1192.4 330.9,1192.2 331.9,1192 332.9,1191.8 333.9,1191.5 334.9,1191.2 335.9,1190.9 336.9,1190.5 337.9,1190.9 338.9,1191.2 339.9,1191.5 340.9,1191.7 341.9,1192 342.9,1192.2 343.9,1192.4 344.9,1192.6 345.9,1192.7 346.9,1192.9 347.9,1193 348.9,1193.1 349.9,1193.2 350.9,1193.3 351.9,1193.4 352.9,1193.4 353.9,1193.5 354.9,1193.5 355.9,1193.5 356.9,1193.4 357.9,1193.4 358.9,1193.3 359.9,1193.2 360.9,1193.2 361.9,1193 362.9,1192.9 363.9,1192.8 364.9,1192.6 365.9,1192.4 366.9,1192.2 367.9,1192 368.9,1191.8 369.9,1191.5 370.9,1191.2 371.9,1190.9 372.9,1190.5 373.9,1190.9 374.9,1191.2 375.9,1191.5 376.9,1191.7 377.9,1192 378.9,1192.2 379.9,1192.4 380.9,1192.6 381.9,1192.7 382.9,1192.9 383.9,1193 384.9,1193.1 385.9,1193.2 386.9,1193.3 387.9,1193.4 388.9,1193.4 389.9,1193.5 390.9,1193.5 391.9,1193.5 392.9,1193.4 393.9,1193.4 394.9,1193.3 395.9,1193.2 396.9,1193.2 397.9,1193 398.9,1192.9 399.9,1192.8 400.9,1192.6 401.9,1192.4 402.9,1192.2 403.9,1192 404.9,1191.8 406,1191.5 407,1191.2 408,1190.9 409,1190.5 410,1190.9 411,1191.2 412,1191.5 413,1191.7 414,1192 415,1192.2 416,1192.4 417,1192.6 418,1192.7 419,1192.9 420,1193 421,1193.1 422,1193.2 423,1193.3 424,1193.4 425,1193.4 426,1193.5 427,1193.5 428,1193.5 429,1193.4 430,1193.4 431,1193.3 432,1193.2 433,1193.1 434,1193 435,1192.9 436,1192.7 437,1192.6 438,1192.4 439,1192.2 440,1192 441,1191.7 442,1191.5 443,1191.2 444,1190.9 445,1190.5 446,1190.9 447,1191.2 448,1191.5 449,1191.7 450,1192 451,1192.2 452,1192.4 453,1192.6 454,1192.7 455,1192.9 456,1193 457,1193.1 458,1193.2 459,1193.3 460,1193.4 461,1193.4 462,1193.5 463,1193.5 464,1193.5 465,1193.4 466,1193.4 467,1193.3 468,1193.2 469,1193.1 470,1193 471,1192.9 472,1192.7 473,1192.6 474,1192.4 475,1192.2 476,1192 477,1191.7 478,1191.5 479,1191.2 480,1190.9 481,1190.5 482,1190.9 483,1191.2 484,1191.5 485,1191.7 486,1192 487,1192.2 488,1192.4 489,1192.6 490,1192.7 491,1192.9 492,1193 493,1193.1 494,1193.2 495,1193.3 496,1193.4 497,1193.4 498,1193.5 499,1193.5 500,1193.5 501,1193.4 502,1193.4 503,1193.3 504,1193.2 505,1193.1 506,1193 507,1192.9 508,1192.7" fill="none" stroke="#bebebe" stroke-width="1"/>
</g>
<rect x="297.3" y="1117.2" width="3.4" height="87.1" fill="url(#gbar)"/>
<line x1="510.5" y1="1117.7" x2="510.5" y2="1204.3" stroke="#8c8c8c" stroke-width="0.8" stroke-dasharray="0.8 2.2"/>
<text x="513.5" y="1119" font-size="3.4" fill="#d0d0d0" font-weight="bold" font-family="'Liberation Sans', Arial, sans-serif">3.6</text>
<text x="513.5" y="1136.3" font-size="3.4" fill="#d0d0d0" font-weight="bold" font-family="'Liberation Sans', Arial, sans-serif">7.4</text>
<text x="513.5" y="1153.6" font-size="3.4" fill="#d0d0d0" font-weight="bold" font-family="'Liberation Sans', Arial, sans-serif">10.8</text>
<text x="513.5" y="1171" font-size="3.4" fill="#d0d0d0" font-weight="bold" font-family="'Liberation Sans', Arial, sans-serif">13.8</text>
<text x="513.5" y="1188.3" font-size="3.4" fill="#d0d0d0" font-weight="bold" font-family="'Liberation Sans', Arial, sans-serif">16.6</text>
<text x="513.5" y="1205.6" font-size="3.4" fill="#d0d0d0" font-weight="bold" font-family="'Liberation Sans', Arial, sans-serif">19.8</text>
<rect x="301.9" y="1207.3" width="206.1" height="9" fill="none" stroke="#141414" stroke-width="0.8"/>
<text x="300" y="1049.6" font-size="14" fill="#fff" font-family="'Liberation Sans', Arial, sans-serif">(<tspan font-weight="bold">4</tspan>)</text>
<g filter="url(#spk2)">
<rect x="700.1" y="858.5" width="60.8" height="67.4" fill="#4e4e4e"/>
<g filter="url(#blur1)">
<path d="M703.1 866.6 Q733.5 858.5 760.9 888.8" stroke="#b9b9b9" stroke-width="2.2" fill="none" stroke-linecap="round"/>
<path d="M706.2 872 Q736.6 863.9 759.7 898.9" stroke="#787878" stroke-width="1.4" fill="none" stroke-linecap="round"/>
<rect x="750" y="878.7" width="10.9" height="27" fill="#828282"/>
<ellipse cx="730.5" cy="895.6" rx="18.2" ry="24.3" fill="#323232"/>
<path d="M703.7 898.9 Q706.2 909 711 915.8" stroke="#c8c8c8" stroke-width="2.2" fill="none" stroke-linecap="round"/>
<rect x="700.1" y="919.2" width="60.8" height="6.7" fill="#5f5f5f"/>
</g>
<line x1="746.8" y1="875.7" x2="750" y2="879.7" stroke="#818181" stroke-width="0.9" />
<line x1="708.6" y1="901.5" x2="713.7" y2="904.8" stroke="#838383" stroke-width="0.9" />
<line x1="746.9" y1="884.8" x2="753.5" y2="888.3" stroke="#9a9a9a" stroke-width="0.9" />
<line x1="745.3" y1="904.4" x2="748.6" y2="907.6" stroke="#959595" stroke-width="0.9" />
<line x1="717.3" y1="878.2" x2="725.4" y2="879.3" stroke="#a6a6a6" stroke-width="0.9" />
</g>
<rect x="711" y="867.9" width="35.9" height="48.5" fill="none" stroke="#6e6a1e" stroke-width="0.8"/>
<line x1="730.5" y1="859.5" x2="730.5" y2="924.9" stroke="#7d7a22" stroke-width="0.8" stroke-dasharray="1.5 0.8"/>
<path d="M725.6 875.4 C718.3 877.4 715.9 888.8 718.3 895.6 C722 900.3 729.3 888.8 725.6 875.4 Z" fill="#1a5cff"/>
<path d="M724.4 873.3 C733.5 866.6 740.2 870.6 738.4 885.5 C737.8 898.9 735.4 909 732.3 909 C728.1 900.3 720.8 882.1 724.4 873.3 Z" fill="#ff3a10"/>
<ellipse cx="732.3" cy="885.5" rx="4.3" ry="13.5" fill="#ff8a10" opacity="0.8" transform="rotate(-20 732.3 885.5)"/>
<path d="M725.6 878.7 L734.1 903" stroke="#ffd000" stroke-width="3" stroke-linecap="round"/>
<path d="M724.4 880.1 L732.3 904.3" stroke="#30b0ff" stroke-width="2" stroke-linecap="round"/>
<text x="702.1" y="863" font-size="3.2" fill="#e8e000" font-family="'Liberation Sans', Arial, sans-serif">Vel 4mg</text>
<line x1="763.4" y1="859" x2="763.4" y2="925.9" stroke="#8c8c8c" stroke-width="0.8" stroke-dasharray="0.8 2.2"/>
<text x="766.4" y="860.3" font-size="3.6" fill="#d0d0d0" font-weight="bold" font-family="'Liberation Sans', Arial, sans-serif">0 mm</text>
<text x="766.4" y="877" font-size="3.6" fill="#d0d0d0" font-weight="bold" font-family="'Liberation Sans', Arial, sans-serif">5</text>
<text x="766.4" y="893.8" font-size="3.6" fill="#d0d0d0" font-weight="bold" font-family="'Liberation Sans', Arial, sans-serif">10</text>
<text x="766.4" y="910.5" font-size="3.6" fill="#d0d0d0" font-weight="bold" font-family="'Liberation Sans', Arial, sans-serif">15</text>
<text x="766.4" y="927.2" font-size="3.6" fill="#d0d0d0" font-weight="bold" font-family="'Liberation Sans', Arial, sans-serif">20</text>
<rect x="764.2" y="887.9" width="1.8" height="1.8" fill="#ffee00"/>
<path d="M770.4 861 Q771.4 892.5 773.4 924.9" stroke="#9a9a9a" stroke-width="0.7" fill="none"/>
<line x1="628.3" y1="1002.6" x2="832.5" y2="1002.6" stroke="#b0b0b0" stroke-width="1.5"/>
<clipPath id="cp1"><rect x="628.3" y="936.5" width="204.2" height="83"/></clipPath>
<g clip-path="url(#cp1)">
<polyline points="594.6,1000.7 596.4,987.7 598.2,969.4 599.7,951.2 600.1,946 601.2,957.4 603.1,973.5 604.7,990.9 606.1,996.2 607.1,986.7 608.1,990.4 609.8,995 612.4,1000.4 613.4,1003.8 614.8,1008.4 616.6,1011 619.5,1010 622.1,1011.7 624.9,1010.7 626.6,1006.3 627.9,1002.5 628.9,1000 629.1,1000 631.1,988.5 632.9,968.7 634.5,950 635.4,945.5 636.3,958 637.6,974.9 639.5,991.4 640.4,995.1 641.9,988 642.9,991.6 645.1,996.5 646.8,1000.7 648.3,1003.4 649.1,1008 651.3,1009.9 654,1009.7 656.4,1009.5 659.5,1009.3 661.5,1006.5 663,1002.7 663.9,999.8 664.3,1000 665.5,990.4 667.8,971.4 669,955.1 670.1,950.7 670.9,960.4 672.9,975.9 674.4,992.8 675.2,996.8 677.1,988.6 678.1,991.4 679.6,995.8 681.9,1000.7 683.1,1003.8 684.4,1008.6 685.9,1009.7 689.2,1009.3 691.4,1009.9 694,1008.7 696.6,1006.7 697.8,1003 698.7,999.9 698.7,1000.9 700.7,989.5 702.7,970.9 703.9,953.7 704.6,949.1 705.9,960.1 707.4,976.6 709.3,992 710,996.3 711.5,986.8 712.7,990.8 714.5,996.7 716.4,1001.2 718.1,1003.6 718.9,1009.4 720.9,1011.3 724.1,1011.3 726.3,1011.5 728.9,1010.7 731.4,1006.6 732.7,1003.4 733.7,999.9 733.5,1000.5 735.5,988.3 737.5,967.1 738.6,949.2 739.6,944.2 740.7,956.5 742,973.6 743.9,990.3 744.8,995.4 746.3,986.5 747.2,991 749.2,995.8 751.4,1000.4 753,1002.2 753.7,1008.1 755.5,1010 758.8,1010 760.8,1011.2 763.6,1009.8 765.9,1006.5 767.6,1003.5 768.3,1000.8 768.4,1000.4 770.4,989.2 772.3,968.3 773.8,949.6 774.1,946 775.4,956.6 777.2,974.9 778.7,991.1 779.7,995.5 781.5,991.6 782.6,996.4 784.1,995.4 786.4,1000.9 787.5,1002.7 788.9,1008.1 790.2,1010.1 793.2,1009.9 795.8,1010.2 798.8,1009.9 800.5,1006.2 802,1003.7 803.4,999.9 803.1,1000.6 804.9,989.5 807.1,970.9 808.2,953.8 809,949.2 810,959.5 811.9,975.8 813.5,992.3 814.7,995.4 815.9,985.5 817.4,989.9 818.9,995.4 821.1,1000.9 822.4,1003.3 823.4,1007.8 825.4,1009.5 828.2,1009.9 830.5,1009.7 833.7,1008.3 835.7,1006.3 836.9,1002.6 838.2,1001.1 838,1000.2 839.5,989.6 842,970.5 843,954.9 844.1,950.5 844.7,961.1 847,977.2 848.5,991.4 849.7,995.9 850.9,990.1 852,992.5 853.5,997 855.5,1001.2 857.1,1002.5 858.2,1007.6 859.7,1010.2 862.8,1009.3 865.5,1011.2 868.5,1009 870.3,1006 871.8,1003 873,1000.3" fill="none" stroke="#777777" stroke-width="1.8" stroke-linejoin="round" opacity="0.5"/>
<polyline points="594.6,1000.7 596.4,987.7 598.2,969.4 599.7,951.2 600.1,946 601.2,957.4 603.1,973.5 604.7,990.9 606.1,996.2 607.1,986.7 608.1,990.4 609.8,995 612.4,1000.4 613.4,1003.8 614.8,1008.4 616.6,1011 619.5,1010 622.1,1011.7 624.9,1010.7 626.6,1006.3 627.9,1002.5 628.9,1000 629.1,1000 631.1,988.5 632.9,968.7 634.5,950 635.4,945.5 636.3,958 637.6,974.9 639.5,991.4 640.4,995.1 641.9,988 642.9,991.6 645.1,996.5 646.8,1000.7 648.3,1003.4 649.1,1008 651.3,1009.9 654,1009.7 656.4,1009.5 659.5,1009.3 661.5,1006.5 663,1002.7 663.9,999.8 664.3,1000 665.5,990.4 667.8,971.4 669,955.1 670.1,950.7 670.9,960.4 672.9,975.9 674.4,992.8 675.2,996.8 677.1,988.6 678.1,991.4 679.6,995.8 681.9,1000.7 683.1,1003.8 684.4,1008.6 685.9,1009.7 689.2,1009.3 691.4,1009.9 694,1008.7 696.6,1006.7 697.8,1003 698.7,999.9 698.7,1000.9 700.7,989.5 702.7,970.9 703.9,953.7 704.6,949.1 705.9,960.1 707.4,976.6 709.3,992 710,996.3 711.5,986.8 712.7,990.8 714.5,996.7 716.4,1001.2 718.1,1003.6 718.9,1009.4 720.9,1011.3 724.1,1011.3 726.3,1011.5 728.9,1010.7 731.4,1006.6 732.7,1003.4 733.7,999.9 733.5,1000.5 735.5,988.3 737.5,967.1 738.6,949.2 739.6,944.2 740.7,956.5 742,973.6 743.9,990.3 744.8,995.4 746.3,986.5 747.2,991 749.2,995.8 751.4,1000.4 753,1002.2 753.7,1008.1 755.5,1010 758.8,1010 760.8,1011.2 763.6,1009.8 765.9,1006.5 767.6,1003.5 768.3,1000.8 768.4,1000.4 770.4,989.2 772.3,968.3 773.8,949.6 774.1,946 775.4,956.6 777.2,974.9 778.7,991.1 779.7,995.5 781.5,991.6 782.6,996.4 784.1,995.4 786.4,1000.9 787.5,1002.7 788.9,1008.1 790.2,1010.1 793.2,1009.9 795.8,1010.2 798.8,1009.9 800.5,1006.2 802,1003.7 803.4,999.9 803.1,1000.6 804.9,989.5 807.1,970.9 808.2,953.8 809,949.2 810,959.5 811.9,975.8 813.5,992.3 814.7,995.4 815.9,985.5 817.4,989.9 818.9,995.4 821.1,1000.9 822.4,1003.3 823.4,1007.8 825.4,1009.5 828.2,1009.9 830.5,1009.7 833.7,1008.3 835.7,1006.3 836.9,1002.6 838.2,1001.1 838,1000.2 839.5,989.6 842,970.5 843,954.9 844.1,950.5 844.7,961.1 847,977.2 848.5,991.4 849.7,995.9 850.9,990.1 852,992.5 853.5,997 855.5,1001.2 857.1,1002.5 858.2,1007.6 859.7,1010.2 862.8,1009.3 865.5,1011.2 868.5,1009 870.3,1006 871.8,1003 873,1000.3" fill="none" stroke="#cfcfcf" stroke-width="1" stroke-dasharray="1.3 0.7" stroke-linejoin="round"/>
</g>
<rect x="624.4" y="934.6" width="2.4" height="80" fill="url(#dbar)"/>
<line x1="835" y1="934.6" x2="835" y2="1019.6" stroke="#8c8c8c" stroke-width="0.8" stroke-dasharray="0.8 2.2"/>
<text x="838" y="935.9" font-size="3.2" fill="#d0d0d0" font-weight="bold" font-family="'Liberation Sans', Arial, sans-serif">1000</text>
<text x="838" y="952.9" font-size="3.2" fill="#d0d0d0" font-weight="bold" font-family="'Liberation Sans', Arial, sans-serif">800</text>
<text x="838" y="969.9" font-size="3.2" fill="#d0d0d0" font-weight="bold" font-family="'Liberation Sans', Arial, sans-serif">600</text>
<text x="838" y="986.9" font-size="3.2" fill="#d0d0d0" font-weight="bold" font-family="'Liberation Sans', Arial, sans-serif">400</text>
<text x="838" y="1003.9" font-size="3.2" fill="#d0d0d0" font-weight="bold" font-family="'Liberation Sans', Arial, sans-serif">0</text>
<text x="838" y="1020.9" font-size="3.2" fill="#d0d0d0" font-weight="bold" font-family="'Liberation Sans', Arial, sans-serif">-200</text>
<rect x="628.3" y="1021.1" width="204.2" height="9.5" fill="none" stroke="#1c1c1c" stroke-width="0.8"/>
<text x="628.2" y="866.8" font-size="14" fill="#fff" font-family="'Liberation Sans', Arial, sans-serif">(<tspan font-weight="bold">1</tspan>)</text>
<g filter="url(#spk2)">
<rect x="928.5" y="857.9" width="60.3" height="67.6" fill="#4e4e4e"/>
<g filter="url(#blur1)">
<path d="M931.5 866 Q961.7 857.9 988.8 888.3" stroke="#b9b9b9" stroke-width="2.2" fill="none" stroke-linecap="round"/>
<path d="M934.5 871.4 Q964.7 863.3 987.6 898.5" stroke="#787878" stroke-width="1.4" fill="none" stroke-linecap="round"/>
<rect x="977.9" y="878.2" width="10.9" height="27" fill="#828282"/>
<ellipse cx="958.6" cy="895.1" rx="18.1" ry="24.3" fill="#323232"/>
<path d="M932.1 898.5 Q934.5 908.6 939.4 915.4" stroke="#c8c8c8" stroke-width="2.2" fill="none" stroke-linecap="round"/>
<rect x="928.5" y="918.7" width="60.3" height="6.8" fill="#5f5f5f"/>
</g>
<line x1="941" y1="887.6" x2="945.2" y2="887.3" stroke="#949494" stroke-width="0.9" />
<line x1="960.7" y1="881" x2="965.9" y2="879.2" stroke="#a0a0a0" stroke-width="0.9" />
<line x1="944.8" y1="912.8" x2="948.3" y2="909.9" stroke="#8d8d8d" stroke-width="0.9" />
<line x1="950.6" y1="906.2" x2="958.8" y2="906.8" stroke="#868686" stroke-width="0.9" />
<line x1="963.9" y1="891.4" x2="968.5" y2="890.6" stroke="#787878" stroke-width="0.9" />
</g>
<rect x="939.4" y="867.4" width="35.6" height="48.7" fill="none" stroke="#6e6a1e" stroke-width="0.8"/>
<line x1="958.6" y1="858.9" x2="958.6" y2="924.5" stroke="#7d7a22" stroke-width="0.8" stroke-dasharray="1.5 0.8"/>
<path d="M955.6 876.8 C963.5 874.8 965.9 888.3 961.7 897.1 C955.6 898.5 951.4 883.6 955.6 876.8 Z" fill="#ff4a10"/>
<path d="M957.4 879.5 C965.9 883.6 962.3 895.1 958.6 895.8 Z" fill="#2a6cff"/>
<path d="M956.2 880.2 L959.9 895.1" stroke="#ffd800" stroke-width="1.5"/>
<line x1="958.6" y1="897.1" x2="958.6" y2="906.6" stroke="#30c0d0" stroke-width="0.9"/>
<text x="930.5" y="862.4" font-size="3.2" fill="#e8e000" font-family="'Liberation Sans', Arial, sans-serif">Vel 4mg</text>
<line x1="991.3" y1="858.4" x2="991.3" y2="925.5" stroke="#8c8c8c" stroke-width="0.8" stroke-dasharray="0.8 2.2"/>
<text x="994.3" y="859.7" font-size="3.6" fill="#d0d0d0" font-weight="bold" font-family="'Liberation Sans', Arial, sans-serif">0 mm</text>
<text x="994.3" y="876.5" font-size="3.6" fill="#d0d0d0" font-weight="bold" font-family="'Liberation Sans', Arial, sans-serif">5</text>
<text x="994.3" y="893.2" font-size="3.6" fill="#d0d0d0" font-weight="bold" font-family="'Liberation Sans', Arial, sans-serif">10</text>
<text x="994.3" y="910" font-size="3.6" fill="#d0d0d0" font-weight="bold" font-family="'Liberation Sans', Arial, sans-serif">15</text>
<text x="994.3" y="926.8" font-size="3.6" fill="#d0d0d0" font-weight="bold" font-family="'Liberation Sans', Arial, sans-serif">20</text>
<rect x="992.1" y="887.4" width="1.8" height="1.8" fill="#ffee00"/>
<path d="M998.3 860.4 Q999.3 892 1001.3 924.5" stroke="#9a9a9a" stroke-width="0.7" fill="none"/>
<line x1="858" y1="1002.5" x2="1062" y2="1002.5" stroke="#b0b0b0" stroke-width="1.5"/>
<clipPath id="cp2"><rect x="858" y="940" width="204" height="80"/></clipPath>
<g clip-path="url(#cp2)">
<polyline points="823.2,1000.9 825.4,989.6 827.1,971 828.6,953.7 829.7,950.7 830.2,961 832.3,976 833.8,992.3 835,996.5 836.5,988.4 837.7,993.4 839.5,996.4 841.1,1000.1 842.6,1003.6 843.7,1008.3 845.8,1010.4 848.8,1010.2 851,1011.3 854.2,1009.3 856,1006.2 857.3,1002.9 858.8,1000.6 858.7,1000.2 860.4,988.8 862.7,970.5 863.7,954.9 864.9,950.1 865.6,960.2 867.3,976.5 869,991.4 870.2,995.7 871.7,992.9 872.9,996.1 874.4,996.1 876.3,1001.3 877.9,1002.7 878.8,1009.2 880.8,1011.5 884.2,1011.4 886.3,1012.2 889.5,1010.7 891.4,1006.1 892.8,1002.9 893.8,1000.3 893.6,1000.3 895.9,989.2 897.4,970.1 899.1,953.3 899.6,949.1 900.8,961.1 902.6,976.1 904.3,992 905.4,996.5 907.1,990 907.8,993.6 909.9,995.6 911.6,1001.1 913.3,1003.2 914.3,1009.2 916,1011.4 919.4,1010.4 921.8,1011.7 924.7,1009.3 926.8,1006.9 928.2,1003.7 928.9,1000.7 928.8,1000.3 930.5,989.7 932.7,972.4 934.6,957.9 935,953.8 936.2,963.2 937.8,978.2 939.6,992.3 940.6,996.8 942.1,986.9 943.2,991.4 945.1,996.8 946.7,1000.9 948.1,1002.2 949.3,1008.7 951.3,1011.3 954.2,1010.9 956.8,1011.5 959.5,1010.1 961.7,1006.9 963.1,1002.9 964.2,1000.5 964.2,1000.8 966.3,989.9 968.2,969.6 969.7,953.7 969.9,948.6 971.1,960 973.1,975.4 974.6,991.3 975.6,996.5 977.5,986.5 978.4,991.4 979.9,996.2 982.1,1001.7 983.8,1002.2 984.5,1009.6 986.4,1011.4 989.7,1011.3 992.3,1011.5 994.6,1010.7 996.7,1006.8 998.6,1002.8 999.5,999.8 999.7,999.8 1001.4,990.2 1003.2,972.8 1004.7,956.9 1005.2,953.8 1006.6,963.3 1008.3,978.7 1009.8,993.2 1011.2,996.3 1012.5,987.7 1013.3,991.1 1015,997.3 1017.2,1001.2 1018.8,1003.7 1020,1008.6 1021.5,1010.4 1024.5,1010.3 1027.5,1010.8 1029.8,1010.4 1032.1,1006.1 1033.8,1002.2 1034.7,1000.4 1034.6,1000.9 1036.4,990.2 1038.7,971.5 1040.1,955.9 1040.6,951.7 1041.9,961.7 1043.2,977.8 1044.9,991.7 1046.4,996.1 1047.5,992.9 1048.9,995.9 1050.7,996.6 1052.6,1001 1053.7,1002.4 1055.1,1008.5 1056.6,1010.4 1059.9,1009.9 1062.4,1010.1 1065.2,1010.1 1067.2,1006.7 1068.8,1002.2 1070,999.7 1070,1000.1 1071.7,989.6 1073.5,969.1 1075,952.6 1075.6,947.3 1076.9,958.8 1078.6,975.2 1080.1,990.7 1081.1,995.2 1083,986.4 1083.7,989.3 1085.4,995.8 1087.9,1001.1 1089.4,1003 1090,1008.2 1092,1010.2 1094.9,1010.3 1097.6,1011.2 1100.4,1009 1102.4,1005.8 1103.9,1002.4 1104.8,1000.3" fill="none" stroke="#505050" stroke-width="1.8" stroke-linejoin="round" opacity="0.5"/>
<polyline points="823.2,1000.9 825.4,989.6 827.1,971 828.6,953.7 829.7,950.7 830.2,961 832.3,976 833.8,992.3 835,996.5 836.5,988.4 837.7,993.4 839.5,996.4 841.1,1000.1 842.6,1003.6 843.7,1008.3 845.8,1010.4 848.8,1010.2 851,1011.3 854.2,1009.3 856,1006.2 857.3,1002.9 858.8,1000.6 858.7,1000.2 860.4,988.8 862.7,970.5 863.7,954.9 864.9,950.1 865.6,960.2 867.3,976.5 869,991.4 870.2,995.7 871.7,992.9 872.9,996.1 874.4,996.1 876.3,1001.3 877.9,1002.7 878.8,1009.2 880.8,1011.5 884.2,1011.4 886.3,1012.2 889.5,1010.7 891.4,1006.1 892.8,1002.9 893.8,1000.3 893.6,1000.3 895.9,989.2 897.4,970.1 899.1,953.3 899.6,949.1 900.8,961.1 902.6,976.1 904.3,992 905.4,996.5 907.1,990 907.8,993.6 909.9,995.6 911.6,1001.1 913.3,1003.2 914.3,1009.2 916,1011.4 919.4,1010.4 921.8,1011.7 924.7,1009.3 926.8,1006.9 928.2,1003.7 928.9,1000.7 928.8,1000.3 930.5,989.7 932.7,972.4 934.6,957.9 935,953.8 936.2,963.2 937.8,978.2 939.6,992.3 940.6,996.8 942.1,986.9 943.2,991.4 945.1,996.8 946.7,1000.9 948.1,1002.2 949.3,1008.7 951.3,1011.3 954.2,1010.9 956.8,1011.5 959.5,1010.1 961.7,1006.9 963.1,1002.9 964.2,1000.5 964.2,1000.8 966.3,989.9 968.2,969.6 969.7,953.7 969.9,948.6 971.1,960 973.1,975.4 974.6,991.3 975.6,996.5 977.5,986.5 978.4,991.4 979.9,996.2 982.1,1001.7 983.8,1002.2 984.5,1009.6 986.4,1011.4 989.7,1011.3 992.3,1011.5 994.6,1010.7 996.7,1006.8 998.6,1002.8 999.5,999.8 999.7,999.8 1001.4,990.2 1003.2,972.8 1004.7,956.9 1005.2,953.8 1006.6,963.3 1008.3,978.7 1009.8,993.2 1011.2,996.3 1012.5,987.7 1013.3,991.1 1015,997.3 1017.2,1001.2 1018.8,1003.7 1020,1008.6 1021.5,1010.4 1024.5,1010.3 1027.5,1010.8 1029.8,1010.4 1032.1,1006.1 1033.8,1002.2 1034.7,1000.4 1034.6,1000.9 1036.4,990.2 1038.7,971.5 1040.1,955.9 1040.6,951.7 1041.9,961.7 1043.2,977.8 1044.9,991.7 1046.4,996.1 1047.5,992.9 1048.9,995.9 1050.7,996.6 1052.6,1001 1053.7,1002.4 1055.1,1008.5 1056.6,1010.4 1059.9,1009.9 1062.4,1010.1 1065.2,1010.1 1067.2,1006.7 1068.8,1002.2 1070,999.7 1070,1000.1 1071.7,989.6 1073.5,969.1 1075,952.6 1075.6,947.3 1076.9,958.8 1078.6,975.2 1080.1,990.7 1081.1,995.2 1083,986.4 1083.7,989.3 1085.4,995.8 1087.9,1001.1 1089.4,1003 1090,1008.2 1092,1010.2 1094.9,1010.3 1097.6,1011.2 1100.4,1009 1102.4,1005.8 1103.9,1002.4 1104.8,1000.3" fill="none" stroke="#8b8b8b" stroke-width="0.9" stroke-dasharray="1.3 0.7" stroke-linejoin="round"/>
</g>
<rect x="854.2" y="934.5" width="2.4" height="80" fill="url(#dbar)"/>
<line x1="1064.5" y1="934.5" x2="1064.5" y2="1019.5" stroke="#8c8c8c" stroke-width="0.8" stroke-dasharray="0.8 2.2"/>
<text x="1067.5" y="935.8" font-size="3.2" fill="#d0d0d0" font-weight="bold" font-family="'Liberation Sans', Arial, sans-serif">1000</text>
<text x="1067.5" y="952.8" font-size="3.2" fill="#d0d0d0" font-weight="bold" font-family="'Liberation Sans', Arial, sans-serif">800</text>
<text x="1067.5" y="969.8" font-size="3.2" fill="#d0d0d0" font-weight="bold" font-family="'Liberation Sans', Arial, sans-serif">600</text>
<text x="1067.5" y="986.8" font-size="3.2" fill="#d0d0d0" font-weight="bold" font-family="'Liberation Sans', Arial, sans-serif">400</text>
<text x="1067.5" y="1003.8" font-size="3.2" fill="#d0d0d0" font-weight="bold" font-family="'Liberation Sans', Arial, sans-serif">0</text>
<text x="1067.5" y="1020.8" font-size="3.2" fill="#d0d0d0" font-weight="bold" font-family="'Liberation Sans', Arial, sans-serif">-200</text>
<rect x="858" y="1021" width="204" height="9.5" fill="none" stroke="#1c1c1c" stroke-width="0.8"/>
<text x="857" y="866.8" font-size="14" fill="#fff" font-family="'Liberation Sans', Arial, sans-serif">(<tspan font-weight="bold">2</tspan>)</text>
<g filter="url(#spk2)">
<rect x="699.6" y="1042.8" width="60.4" height="66.9" fill="#4e4e4e"/>
<g filter="url(#blur1)">
<path d="M702.6 1050.8 Q732.8 1042.8 760 1072.9" stroke="#b9b9b9" stroke-width="2.2" fill="none" stroke-linecap="round"/>
<path d="M705.6 1056.2 Q735.8 1048.2 758.8 1082.9" stroke="#787878" stroke-width="1.4" fill="none" stroke-linecap="round"/>
<rect x="749.1" y="1062.9" width="10.9" height="26.8" fill="#828282"/>
<ellipse cx="729.8" cy="1079.6" rx="18.1" ry="24.1" fill="#323232"/>
<path d="M703.2 1082.9 Q705.6 1093 710.5 1099.7" stroke="#c8c8c8" stroke-width="2.2" fill="none" stroke-linecap="round"/>
<rect x="699.6" y="1103" width="60.4" height="6.7" fill="#5f5f5f"/>
</g>
<line x1="746.4" y1="1080.9" x2="752.2" y2="1081.6" stroke="#9e9e9e" stroke-width="0.9" />
<line x1="747.4" y1="1073.9" x2="751.8" y2="1073.6" stroke="#7b7b7b" stroke-width="0.9" />
<line x1="731.8" y1="1102.6" x2="736" y2="1105" stroke="#828282" stroke-width="0.9" />
<line x1="744.7" y1="1080.8" x2="750" y2="1078" stroke="#7f7f7f" stroke-width="0.9" />
<line x1="743.5" y1="1062.2" x2="750.2" y2="1063.1" stroke="#8e8e8e" stroke-width="0.9" />
</g>
<rect x="710.5" y="1052.2" width="35.6" height="48.2" fill="none" stroke="#6e6a1e" stroke-width="0.8"/>
<line x1="729.8" y1="1043.8" x2="729.8" y2="1108.7" stroke="#7d7a22" stroke-width="0.8" stroke-dasharray="1.5 0.8"/>
<path d="M725 1061.5 C734.6 1057.5 731 1079.6 729.8 1084.3 C723.8 1085.6 720.1 1069.6 725 1061.5 Z" fill="#ff3a10"/>
<path d="M725.6 1065.5 C731 1064.2 729.8 1079.6 727.4 1081.6 C723.8 1079.6 722.6 1070.9 725.6 1065.5 Z" fill="#1a5cff"/>
<path d="M726.8 1068.2 L728 1081.6" stroke="#30b8ff" stroke-width="1.3"/>
<line x1="728" y1="1082.9" x2="728" y2="1093" stroke="#30c0d0" stroke-width="0.9"/>
<text x="701.6" y="1047.3" font-size="3.2" fill="#e8e000" font-family="'Liberation Sans', Arial, sans-serif">Vel 4mg</text>
<line x1="762.5" y1="1043.3" x2="762.5" y2="1109.7" stroke="#8c8c8c" stroke-width="0.8" stroke-dasharray="0.8 2.2"/>
<text x="765.5" y="1044.6" font-size="3.6" fill="#d0d0d0" font-weight="bold" font-family="'Liberation Sans', Arial, sans-serif">0 mm</text>
<text x="765.5" y="1061.2" font-size="3.6" fill="#d0d0d0" font-weight="bold" font-family="'Liberation Sans', Arial, sans-serif">5</text>
<text x="765.5" y="1077.8" font-size="3.6" fill="#d0d0d0" font-weight="bold" font-family="'Liberation Sans', Arial, sans-serif">10</text>
<text x="765.5" y="1094.4" font-size="3.6" fill="#d0d0d0" font-weight="bold" font-family="'Liberation Sans', Arial, sans-serif">15</text>
<text x="765.5" y="1111" font-size="3.6" fill="#d0d0d0" font-weight="bold" font-family="'Liberation Sans', Arial, sans-serif">20</text>
<rect x="763.3" y="1072" width="1.8" height="1.8" fill="#ffee00"/>
<path d="M769.5 1045.3 Q770.5 1076.5 772.5 1108.7" stroke="#9a9a9a" stroke-width="0.7" fill="none"/>
<line x1="628.3" y1="1185.8" x2="832.5" y2="1185.8" stroke="#b0b0b0" stroke-width="1.5"/>
<clipPath id="cp3"><rect x="628.3" y="1127" width="204.2" height="81"/></clipPath>
<g clip-path="url(#cp3)">
<polyline points="598.8,1184.5 600.5,1173.4 603,1155.1 604.6,1137.5 604.9,1134.1 605.9,1143.8 607.6,1160.3 609.8,1175.9 610.4,1180.2 612,1170.8 613,1174.7 614.5,1179.7 616.8,1184.3 618.6,1186.6 619.3,1194.4 621.4,1196.6 624.5,1195.3 626.5,1196.7 629.8,1195.8 631.7,1190.6 633,1187 633.8,1183.1 634.1,1183.8 635.8,1174 638.2,1158.5 639.1,1144 640.2,1140.4 641.3,1149.5 642.8,1162.6 644.8,1177.3 645.6,1179.8 647,1172.3 648.3,1176.3 649.9,1180.1 651.6,1185.1 653.6,1185.9 654.3,1194.9 656.4,1197.4 659,1198.1 661.7,1198.8 664.7,1197 666.7,1191.3 667.8,1185.7 668.9,1184.2 669.2,1184 670.7,1174.4 673.1,1157.9 674.5,1141.2 675.1,1138 676,1147.8 677.6,1161.6 679.8,1176 680.8,1180.4 681.9,1173 683.1,1176.9 684.7,1179.4 686.7,1184.9 688.4,1185.8 689.6,1194.7 691,1198.4 694,1196.5 696.6,1198.8 699.5,1196.5 701.8,1191.3 703.2,1185.6 704.2,1183.3 704.1,1183.9 706,1173.2 707.7,1156.1 709.3,1139.5 710,1136 710.8,1146.4 713,1160.7 714.8,1176.6 715.7,1179.7 716.9,1171.9 717.9,1176.7 719.5,1180.5 722,1184.8 723.1,1186.8 724.2,1196.1 726.3,1199.8 729.3,1199.3 731.5,1199.6 734.7,1197.3 736.6,1192.1 738.2,1186.3 739.1,1183.8 739.1,1183.8 740.8,1174.4 743.2,1156.4 744.6,1140.6 744.9,1138.1 745.9,1147.4 748.1,1161.8 749.5,1175.4 750.6,1179.9 752.2,1174 753.2,1177.4 754.9,1180.4 756.7,1185.1 758.3,1186.4 759.6,1195 761.1,1197.7 764.1,1198 766.7,1199.1 769.6,1197.2 771.5,1192.2 773,1185.9 774.3,1184.5 773.9,1184.1 776.1,1173.8 778,1158 779.1,1144.5 780.3,1140.4 781.2,1149.1 782.8,1163.2 784.7,1177 785.6,1180.5 786.9,1173.8 788.3,1177 789.7,1180.1 792.2,1184.2 793.4,1185.9 794.1,1195.5 796.2,1199.1 799.3,1198.2 801.8,1200.6 804.4,1197.7 806.5,1192.3 807.8,1186.1 809.2,1184.7 809.3,1184.1 810.8,1174.8 813.1,1158.6 814.4,1144 814.7,1140.3 815.9,1148.8 817.7,1162.9 819.6,1176.8 820.5,1180.1 822.1,1174.1 823,1175.9 825,1180.9 827.1,1184.6 828.3,1185.8 829.6,1194.9 830.9,1198.5 834,1197.5 836.8,1199.5 839.4,1196.5 841.5,1192.3 842.8,1185.9 844,1184.7 844.1,1183.2 845.9,1173.4 847.9,1155.2 849.4,1138.5 849.9,1133.9 851.2,1145.4 853.1,1160.8 854.8,1175.8 855.6,1179 857.2,1176.2 858.3,1180.9 859.7,1180.3 862.1,1184.8 863.1,1186.2 864.1,1196.9 865.9,1199.8 869.4,1198.9 871.8,1200.8 874.4,1199.1 876.7,1192.8 878.1,1186.7 878.9,1184.4" fill="none" stroke="#484848" stroke-width="1.8" stroke-linejoin="round" opacity="0.5"/>
<polyline points="598.8,1184.5 600.5,1173.4 603,1155.1 604.6,1137.5 604.9,1134.1 605.9,1143.8 607.6,1160.3 609.8,1175.9 610.4,1180.2 612,1170.8 613,1174.7 614.5,1179.7 616.8,1184.3 618.6,1186.6 619.3,1194.4 621.4,1196.6 624.5,1195.3 626.5,1196.7 629.8,1195.8 631.7,1190.6 633,1187 633.8,1183.1 634.1,1183.8 635.8,1174 638.2,1158.5 639.1,1144 640.2,1140.4 641.3,1149.5 642.8,1162.6 644.8,1177.3 645.6,1179.8 647,1172.3 648.3,1176.3 649.9,1180.1 651.6,1185.1 653.6,1185.9 654.3,1194.9 656.4,1197.4 659,1198.1 661.7,1198.8 664.7,1197 666.7,1191.3 667.8,1185.7 668.9,1184.2 669.2,1184 670.7,1174.4 673.1,1157.9 674.5,1141.2 675.1,1138 676,1147.8 677.6,1161.6 679.8,1176 680.8,1180.4 681.9,1173 683.1,1176.9 684.7,1179.4 686.7,1184.9 688.4,1185.8 689.6,1194.7 691,1198.4 694,1196.5 696.6,1198.8 699.5,1196.5 701.8,1191.3 703.2,1185.6 704.2,1183.3 704.1,1183.9 706,1173.2 707.7,1156.1 709.3,1139.5 710,1136 710.8,1146.4 713,1160.7 714.8,1176.6 715.7,1179.7 716.9,1171.9 717.9,1176.7 719.5,1180.5 722,1184.8 723.1,1186.8 724.2,1196.1 726.3,1199.8 729.3,1199.3 731.5,1199.6 734.7,1197.3 736.6,1192.1 738.2,1186.3 739.1,1183.8 739.1,1183.8 740.8,1174.4 743.2,1156.4 744.6,1140.6 744.9,1138.1 745.9,1147.4 748.1,1161.8 749.5,1175.4 750.6,1179.9 752.2,1174 753.2,1177.4 754.9,1180.4 756.7,1185.1 758.3,1186.4 759.6,1195 761.1,1197.7 764.1,1198 766.7,1199.1 769.6,1197.2 771.5,1192.2 773,1185.9 774.3,1184.5 773.9,1184.1 776.1,1173.8 778,1158 779.1,1144.5 780.3,1140.4 781.2,1149.1 782.8,1163.2 784.7,1177 785.6,1180.5 786.9,1173.8 788.3,1177 789.7,1180.1 792.2,1184.2 793.4,1185.9 794.1,1195.5 796.2,1199.1 799.3,1198.2 801.8,1200.6 804.4,1197.7 806.5,1192.3 807.8,1186.1 809.2,1184.7 809.3,1184.1 810.8,1174.8 813.1,1158.6 814.4,1144 814.7,1140.3 815.9,1148.8 817.7,1162.9 819.6,1176.8 820.5,1180.1 822.1,1174.1 823,1175.9 825,1180.9 827.1,1184.6 828.3,1185.8 829.6,1194.9 830.9,1198.5 834,1197.5 836.8,1199.5 839.4,1196.5 841.5,1192.3 842.8,1185.9 844,1184.7 844.1,1183.2 845.9,1173.4 847.9,1155.2 849.4,1138.5 849.9,1133.9 851.2,1145.4 853.1,1160.8 854.8,1175.8 855.6,1179 857.2,1176.2 858.3,1180.9 859.7,1180.3 862.1,1184.8 863.1,1186.2 864.1,1196.9 865.9,1199.8 869.4,1198.9 871.8,1200.8 874.4,1199.1 876.7,1192.8 878.1,1186.7 878.9,1184.4" fill="none" stroke="#7e7e7e" stroke-width="0.9" stroke-dasharray="1.3 0.7" stroke-linejoin="round"/>
</g>
<rect x="624.4" y="1117.8" width="2.4" height="80" fill="url(#dbar)"/>
<line x1="835" y1="1117.8" x2="835" y2="1202.8" stroke="#8c8c8c" stroke-width="0.8" stroke-dasharray="0.8 2.2"/>
<text x="838" y="1119.1" font-size="3.2" fill="#d0d0d0" font-weight="bold" font-family="'Liberation Sans', Arial, sans-serif">1000</text>
<text x="838" y="1136.1" font-size="3.2" fill="#d0d0d0" font-weight="bold" font-family="'Liberation Sans', Arial, sans-serif">800</text>
<text x="838" y="1153.1" font-size="3.2" fill="#d0d0d0" font-weight="bold" font-family="'Liberation Sans', Arial, sans-serif">600</text>
<text x="838" y="1170.1" font-size="3.2" fill="#d0d0d0" font-weight="bold" font-family="'Liberation Sans', Arial, sans-serif">400</text>
<text x="838" y="1187.1" font-size="3.2" fill="#d0d0d0" font-weight="bold" font-family="'Liberation Sans', Arial, sans-serif">0</text>
<text x="838" y="1204.1" font-size="3.2" fill="#d0d0d0" font-weight="bold" font-family="'Liberation Sans', Arial, sans-serif">-200</text>
<rect x="628.3" y="1204.3" width="204.2" height="9.5" fill="none" stroke="#1c1c1c" stroke-width="0.8"/>
<text x="628.2" y="1049.6" font-size="14" fill="#fff" font-family="'Liberation Sans', Arial, sans-serif">(<tspan font-weight="bold">3</tspan>)</text>
<g filter="url(#spk2)">
<rect x="928.2" y="1040.2" width="64.2" height="67.2" fill="#4e4e4e"/>
<g filter="url(#blur1)">
<path d="M931.4 1048.3 Q963.5 1040.2 992.4 1070.4" stroke="#b9b9b9" stroke-width="2.2" fill="none" stroke-linecap="round"/>
<path d="M934.6 1053.6 Q966.7 1045.6 991.1 1080.5" stroke="#787878" stroke-width="1.4" fill="none" stroke-linecap="round"/>
<rect x="980.8" y="1060.4" width="11.6" height="26.9" fill="#828282"/>
<ellipse cx="960.3" cy="1077.2" rx="19.3" ry="24.2" fill="#323232"/>
<path d="M932.1 1080.5 Q934.6 1090.6 939.8 1097.3" stroke="#c8c8c8" stroke-width="2.2" fill="none" stroke-linecap="round"/>
<rect x="928.2" y="1100.7" width="64.2" height="6.7" fill="#5f5f5f"/>
</g>
<line x1="944.9" y1="1075.6" x2="951.3" y2="1075.8" stroke="#959595" stroke-width="0.9" />
<line x1="954.9" y1="1076.4" x2="959.1" y2="1074.2" stroke="#848484" stroke-width="0.9" />
<line x1="969" y1="1051.6" x2="974.1" y2="1051.5" stroke="#939393" stroke-width="0.9" />
<line x1="952.3" y1="1093.4" x2="960.9" y2="1094.4" stroke="#828282" stroke-width="0.9" />
<line x1="973.5" y1="1093.4" x2="979.3" y2="1096" stroke="#a4a4a4" stroke-width="0.9" />
</g>
<rect x="939.8" y="1049.6" width="37.9" height="48.4" fill="none" stroke="#6e6a1e" stroke-width="0.8"/>
<line x1="960.3" y1="1041.2" x2="960.3" y2="1106.4" stroke="#7d7a22" stroke-width="0.8" stroke-dasharray="1.5 0.8"/>
<g transform="translate(12.2 0)">
<path d="M947.5 1055 C953.9 1051 959 1056.3 957.7 1067.1 C961.6 1077.2 959 1088.6 953.9 1087.2 C947.5 1077.2 944.9 1063.7 947.5 1055 Z" fill="#ff5010"/>
<path d="M949.4 1060.4 C955.2 1059 956.4 1073.8 955.2 1081.9 C951.3 1080.5 947.5 1070.4 949.4 1060.4 Z" fill="#ffb000"/>
<path d="M956.4 1055 L958.4 1062.4" stroke="#1a3cff" stroke-width="2.2"/>
<path d="M958.4 1064.4 L957.7 1073.8" stroke="#1a3cff" stroke-width="2.2"/>
<line x1="952" y1="1070.4" x2="952" y2="1092.6" stroke="#30c0c0" stroke-width="1"/>
<rect x="959" y="1048.9" width="2" height="2" fill="#1a3cff"/>
</g>
<text x="930.2" y="1044.7" font-size="3.2" fill="#e8e000" font-family="'Liberation Sans', Arial, sans-serif">Vel 4mg</text>
<line x1="994.9" y1="1040.7" x2="994.9" y2="1107.4" stroke="#8c8c8c" stroke-width="0.8" stroke-dasharray="0.8 2.2"/>
<text x="997.9" y="1042" font-size="3.6" fill="#d0d0d0" font-weight="bold" font-family="'Liberation Sans', Arial, sans-serif">0 mm</text>
<text x="997.9" y="1058.7" font-size="3.6" fill="#d0d0d0" font-weight="bold" font-family="'Liberation Sans', Arial, sans-serif">5</text>
<text x="997.9" y="1075.4" font-size="3.6" fill="#d0d0d0" font-weight="bold" font-family="'Liberation Sans', Arial, sans-serif">10</text>
<text x="997.9" y="1092" font-size="3.6" fill="#d0d0d0" font-weight="bold" font-family="'Liberation Sans', Arial, sans-serif">15</text>
<text x="997.9" y="1108.7" font-size="3.6" fill="#d0d0d0" font-weight="bold" font-family="'Liberation Sans', Arial, sans-serif">20</text>
<rect x="995.7" y="1069.5" width="1.8" height="1.8" fill="#ffee00"/>
<path d="M1001.9 1042.7 Q1002.9 1074.1 1004.9 1106.4" stroke="#9a9a9a" stroke-width="0.7" fill="none"/>
<line x1="858.8" y1="1184" x2="1062" y2="1184" stroke="#b0b0b0" stroke-width="1.5"/>
<clipPath id="cp4"><rect x="858.8" y="1127.9" width="203.2" height="80.6"/></clipPath>
<g clip-path="url(#cp4)">
<polyline points="821.8,1181.7 823.4,1172.4 825.7,1154.8 826.8,1138.9 828,1134.5 828.7,1145.6 830.6,1159.1 832.3,1174.9 833.4,1178 835,1170.6 836,1172.8 837.9,1177.4 839.8,1182 841.6,1184.5 842.7,1194.7 844.2,1198.5 847.8,1199 850,1199.6 852.8,1197.9 855.2,1190.6 856.8,1185 857.8,1181.5 857.6,1182.8 859.9,1172.6 862.1,1156 863.2,1140.2 864.1,1137.1 865.1,1147.2 867.1,1159.9 868.9,1173.8 869.9,1178.1 871.4,1173.7 872.4,1176.7 873.9,1178.6 876.1,1182.5 877.7,1184.1 879,1194.2 880.6,1198.1 884.1,1197.6 886.2,1198.7 889.2,1197.2 891.3,1190.2 893.1,1184.8 893.9,1181.8 894,1181.8 895.8,1172.9 898.2,1158.7 899.7,1144.1 900,1140.3 901.5,1149.3 903.4,1163 904.9,1175.1 906,1179.1 907.3,1173.8 908.9,1177 910.7,1178.6 912.8,1182.6 913.9,1184.8 915,1194.7 917.1,1197.7 920.5,1197 923.1,1198.7 925.5,1195.9 928.1,1189.8 929.6,1184 930.6,1182.5 930.3,1181.8 932,1172.9 934.7,1156.6 936.1,1142.2 936.5,1139.2 937.9,1147.1 939.7,1161.1 941.5,1174.6 942.7,1178.3 943.7,1171.6 944.7,1174.9 947,1177.8 948.7,1182.2 950.2,1185.2 951.2,1195.3 953.2,1198.3 956.4,1198.2 959,1199.5 961.9,1197.4 964.3,1190.7 965.7,1185.1 966.6,1182.6 966.5,1182.5 968.8,1173.2 970.6,1158.9 972.5,1144.7 972.9,1141.3 974.1,1149.9 975.8,1162.9 977.8,1175.6 978.7,1178.6 980,1174.4 981.1,1177.4 982.9,1179.5 985,1183.3 986.7,1185.4 988,1194.1 989.5,1199.3 993,1197 995.3,1198.6 998.2,1196.3 1000.2,1190.1 1001.9,1185.1 1003,1182.6 1003,1182 1005.1,1172.2 1007.1,1156.2 1008.5,1140.2 1009,1136.6 1010.1,1146.2 1011.8,1160.9 1014.1,1174.8 1014.8,1177.9 1016.7,1171.6 1017.7,1174.9 1019.2,1178 1021.5,1182.5 1022.9,1184.3 1024.3,1193.1 1025.9,1197.6 1029,1196.1 1031.6,1197.4 1034.9,1196.3 1036.6,1189.5 1038.3,1184.7 1039.1,1182.7 1039.1,1182.6 1041.3,1171.7 1043.6,1154.1 1044.9,1139.8 1045.7,1134.7 1046.7,1145.2 1048.5,1159.1 1050.5,1175 1051.1,1178.2 1052.8,1175 1053.8,1178.1 1055.8,1178.2 1057.8,1182.6 1059.2,1185.4 1060.5,1194.5 1062.1,1198.8 1065.5,1198.6 1068.3,1198.8 1071.1,1196.4 1073.1,1191.4 1074.3,1184.3 1075.4,1182 1075.6,1182.8 1077.5,1171.9 1079.5,1155.5 1081.1,1139.8 1081.9,1136.2 1082.8,1144.7 1084.5,1160 1086.3,1173.6 1087.5,1178.5 1088.9,1170 1089.9,1174.5 1092.2,1179 1094.2,1182.4 1095.5,1184.4 1096.9,1193.3 1098.3,1197.2 1102,1195.1 1104.1,1197.2 1107.2,1195.7 1109.2,1190.7 1110.7,1184.1 1112.2,1182.5" fill="none" stroke="#686868" stroke-width="1.8" stroke-linejoin="round" opacity="0.5"/>
<polyline points="821.8,1181.7 823.4,1172.4 825.7,1154.8 826.8,1138.9 828,1134.5 828.7,1145.6 830.6,1159.1 832.3,1174.9 833.4,1178 835,1170.6 836,1172.8 837.9,1177.4 839.8,1182 841.6,1184.5 842.7,1194.7 844.2,1198.5 847.8,1199 850,1199.6 852.8,1197.9 855.2,1190.6 856.8,1185 857.8,1181.5 857.6,1182.8 859.9,1172.6 862.1,1156 863.2,1140.2 864.1,1137.1 865.1,1147.2 867.1,1159.9 868.9,1173.8 869.9,1178.1 871.4,1173.7 872.4,1176.7 873.9,1178.6 876.1,1182.5 877.7,1184.1 879,1194.2 880.6,1198.1 884.1,1197.6 886.2,1198.7 889.2,1197.2 891.3,1190.2 893.1,1184.8 893.9,1181.8 894,1181.8 895.8,1172.9 898.2,1158.7 899.7,1144.1 900,1140.3 901.5,1149.3 903.4,1163 904.9,1175.1 906,1179.1 907.3,1173.8 908.9,1177 910.7,1178.6 912.8,1182.6 913.9,1184.8 915,1194.7 917.1,1197.7 920.5,1197 923.1,1198.7 925.5,1195.9 928.1,1189.8 929.6,1184 930.6,1182.5 930.3,1181.8 932,1172.9 934.7,1156.6 936.1,1142.2 936.5,1139.2 937.9,1147.1 939.7,1161.1 941.5,1174.6 942.7,1178.3 943.7,1171.6 944.7,1174.9 947,1177.8 948.7,1182.2 950.2,1185.2 951.2,1195.3 953.2,1198.3 956.4,1198.2 959,1199.5 961.9,1197.4 964.3,1190.7 965.7,1185.1 966.6,1182.6 966.5,1182.5 968.8,1173.2 970.6,1158.9 972.5,1144.7 972.9,1141.3 974.1,1149.9 975.8,1162.9 977.8,1175.6 978.7,1178.6 980,1174.4 981.1,1177.4 982.9,1179.5 985,1183.3 986.7,1185.4 988,1194.1 989.5,1199.3 993,1197 995.3,1198.6 998.2,1196.3 1000.2,1190.1 1001.9,1185.1 1003,1182.6 1003,1182 1005.1,1172.2 1007.1,1156.2 1008.5,1140.2 1009,1136.6 1010.1,1146.2 1011.8,1160.9 1014.1,1174.8 1014.8,1177.9 1016.7,1171.6 1017.7,1174.9 1019.2,1178 1021.5,1182.5 1022.9,1184.3 1024.3,1193.1 1025.9,1197.6 1029,1196.1 1031.6,1197.4 1034.9,1196.3 1036.6,1189.5 1038.3,1184.7 1039.1,1182.7 1039.1,1182.6 1041.3,1171.7 1043.6,1154.1 1044.9,1139.8 1045.7,1134.7 1046.7,1145.2 1048.5,1159.1 1050.5,1175 1051.1,1178.2 1052.8,1175 1053.8,1178.1 1055.8,1178.2 1057.8,1182.6 1059.2,1185.4 1060.5,1194.5 1062.1,1198.8 1065.5,1198.6 1068.3,1198.8 1071.1,1196.4 1073.1,1191.4 1074.3,1184.3 1075.4,1182 1075.6,1182.8 1077.5,1171.9 1079.5,1155.5 1081.1,1139.8 1081.9,1136.2 1082.8,1144.7 1084.5,1160 1086.3,1173.6 1087.5,1178.5 1088.9,1170 1089.9,1174.5 1092.2,1179 1094.2,1182.4 1095.5,1184.4 1096.9,1193.3 1098.3,1197.2 1102,1195.1 1104.1,1197.2 1107.2,1195.7 1109.2,1190.7 1110.7,1184.1 1112.2,1182.5" fill="none" stroke="#b4b4b4" stroke-width="1" stroke-dasharray="1.3 0.7" stroke-linejoin="round"/>
</g>
<rect x="854.2" y="1116" width="2.4" height="80" fill="url(#dbar)"/>
<line x1="1064.5" y1="1116" x2="1064.5" y2="1201" stroke="#8c8c8c" stroke-width="0.8" stroke-dasharray="0.8 2.2"/>
<text x="1067.5" y="1117.3" font-size="3.2" fill="#d0d0d0" font-weight="bold" font-family="'Liberation Sans', Arial, sans-serif">1000</text>
<text x="1067.5" y="1134.3" font-size="3.2" fill="#d0d0d0" font-weight="bold" font-family="'Liberation Sans', Arial, sans-serif">800</text>
<text x="1067.5" y="1151.3" font-size="3.2" fill="#d0d0d0" font-weight="bold" font-family="'Liberation Sans', Arial, sans-serif">600</text>
<text x="1067.5" y="1168.3" font-size="3.2" fill="#d0d0d0" font-weight="bold" font-family="'Liberation Sans', Arial, sans-serif">400</text>
<text x="1067.5" y="1185.3" font-size="3.2" fill="#d0d0d0" font-weight="bold" font-family="'Liberation Sans', Arial, sans-serif">0</text>
<text x="1067.5" y="1202.3" font-size="3.2" fill="#d0d0d0" font-weight="bold" font-family="'Liberation Sans', Arial, sans-serif">-200</text>
<rect x="858.8" y="1202.5" width="203.2" height="9.5" fill="none" stroke="#1c1c1c" stroke-width="0.8"/>
<text x="857" y="1049.6" font-size="14" fill="#fff" font-family="'Liberation Sans', Arial, sans-serif">(<tspan font-weight="bold">4</tspan>)</text>
<g filter="url(#spk2)">
<rect x="1259.2" y="854.9" width="59.7" height="66.5" fill="#4e4e4e"/>
<rect x="1259.2" y="854.9" width="59.7" height="8" fill="#6e6e6e"/>
<g filter="url(#blur1)">
<path d="M1268.2 874.9 Q1292 851.6 1317.7 881.5" stroke="#a0a0a0" stroke-width="1.6" fill="none" stroke-linecap="round"/>
<path d="M1259.2 862.9 Q1289 857.6 1318.9 862.9" stroke="#878787" stroke-width="1.3" fill="none" stroke-linecap="round"/>
<ellipse cx="1292" cy="884.8" rx="17.9" ry="18" fill="#303030"/>
<path d="M1259.2 900.1 Q1289 897.5 1318.9 901.4" stroke="#afafaf" stroke-width="1.4" fill="none" stroke-linecap="round"/>
<path d="M1265.2 906.8 Q1292 904.1 1315.9 908.1" stroke="#969696" stroke-width="1.2" fill="none" stroke-linecap="round"/>
<rect x="1259.2" y="911.4" width="59.7" height="10" fill="#696969"/>
</g>
<line x1="1294.1" y1="906.8" x2="1298.2" y2="910.7" stroke="#818181" stroke-width="0.9" />
<line x1="1292.2" y1="869.5" x2="1299.8" y2="867.5" stroke="#9b9b9b" stroke-width="0.9" />
<line x1="1294.6" y1="903.1" x2="1300.3" y2="906.1" stroke="#a9a9a9" stroke-width="0.9" />
<line x1="1267.4" y1="890.7" x2="1276.1" y2="892.8" stroke="#8e8e8e" stroke-width="0.9" />
<line x1="1275.8" y1="912.4" x2="1279.3" y2="914.7" stroke="#a2a2a2" stroke-width="0.9" />
</g>
<line x1="1286.1" y1="855.9" x2="1286.1" y2="920.4" stroke="#7d7a22" stroke-width="0.8" stroke-dasharray="1.5 0.8"/>
<line x1="1321.4" y1="855.4" x2="1321.4" y2="921.4" stroke="#8c8c8c" stroke-width="0.8" stroke-dasharray="0.8 2.2"/>
<text x="1324.4" y="856.7" font-size="3.6" fill="#d0d0d0" font-weight="bold" font-family="'Liberation Sans', Arial, sans-serif">0 mm</text>
<text x="1324.4" y="873.2" font-size="3.6" fill="#d0d0d0" font-weight="bold" font-family="'Liberation Sans', Arial, sans-serif">5</text>
<text x="1324.4" y="889.7" font-size="3.6" fill="#d0d0d0" font-weight="bold" font-family="'Liberation Sans', Arial, sans-serif">10</text>
<text x="1324.4" y="906.2" font-size="3.6" fill="#d0d0d0" font-weight="bold" font-family="'Liberation Sans', Arial, sans-serif">15</text>
<text x="1324.4" y="922.7" font-size="3.6" fill="#d0d0d0" font-weight="bold" font-family="'Liberation Sans', Arial, sans-serif">20</text>
<rect x="1322.2" y="895.2" width="1.8" height="1.8" fill="#ffee00"/>
<path d="M1328.4 857.4 Q1329.4 888.4 1331.4 920.4" stroke="#9a9a9a" stroke-width="0.7" fill="none"/>
<text x="1261.2" y="859.4" font-size="3.2" fill="#e8e000" font-family="'Liberation Sans', Arial, sans-serif">LV Bmj</text>
<line x1="1187.9" y1="972.3" x2="1390.5" y2="972.3" stroke="#858005" stroke-width="1.3"/>
<clipPath id="cp5"><rect x="1187.9" y="929.3" width="202.6" height="89"/></clipPath>
<g clip-path="url(#cp5)">
<polyline points="1168.8,1003.2 1170.1,997.8 1171.1,984.4 1174.4,986 1175.6,974.2 1178.2,966.5 1178.3,960.9 1181,960 1182.9,962.9 1185.1,963.8 1186.5,970.3 1190.7,978.3 1193,968.6 1192.1,964.1 1193.5,971.2 1198.7,965.3 1199.6,956.3 1200.4,965.9 1204.5,987.7 1203.7,1004.8 1206.2,993.7 1208.9,983.5 1207.9,984.7 1210.8,971.3 1211.5,967.7 1216,956.9 1215.5,955.9 1216.7,961.7 1218.6,966.4 1225.3,968.6 1226.3,975.4 1227.8,969.2 1227.5,964.6 1231.4,969.2 1232,960.1 1237.8,950 1237.7,965 1238.5,989.3 1241.5,1001 1242.8,989 1243.9,982.4 1243.4,987 1247.4,969.7 1249.4,964.8 1248.7,962.8 1251,963.3 1253.8,963.7 1255.1,966.7 1256.7,970.9 1262.1,975.4 1263.3,966.9 1263,963.7 1266.8,966.6 1268.5,958.8 1272.4,950.1 1272.1,965.9 1274.4,989.9 1275.6,1001.9 1276.5,989.8 1277.6,977.8 1281.4,985 1280.3,970.1 1283.2,967.9 1286,960.5 1286.2,956.8 1288.2,958.3 1291.1,964.5 1293.3,967.9 1296.9,971.8 1299.4,971.7 1301.8,963.7 1301.4,970.4 1304.8,965.7 1307.1,950.9 1309.6,966.7 1310.3,989.8 1310.4,1003.5 1313.6,992.7 1315.3,980.5 1314.5,984.3 1315.4,972.1 1319.8,966 1319.8,962.7 1323.6,959.2 1324.8,963.3 1325.6,963.6 1329,968.6 1331.9,977.9 1332.3,971 1335.5,961.3 1338.4,969.3 1341.4,962.2 1343.6,949 1345.3,970.8 1346.9,988.6 1348.7,1007.3 1347.3,995.2 1348.8,980.6 1349.8,987.2 1353.6,973.3 1353.8,967.8 1354.9,962.2 1357.7,962.9 1358.4,967.1 1363.7,965.3 1364.9,971.6 1366.9,973.6 1366.5,967.8 1371.6,963.1 1372.5,966.4 1373.1,960 1376.8,956.5 1377.8,966.2 1378.7,991.5 1381.3,999.5 1383.8,992.6 1386.2,978.9 1386.8,983.5 1385.9,974.3 1388.5,964.7 1391.4,955.5 1393.4,958.6 1393.1,957.6 1398.8,963.9 1401.8,970.4 1404.2,973.5 1403.3,968.1 1406.8,964.7 1407.1,967.6 1411.6,963.9 1414,952.5 1412.4,964.3 1414.2,987.1 1417,1010 1421,996.3 1422.6,982.2 1423.9,988.3 1425.1,968.5 1424.9,965.7 1427.9,953.7 1426.8,959.9 1428.9,958.7 1433.3,964.6 1438.3,966.6 1439.3,977.4 1441.4,967.8 1443.6,963.1 1442.5,966.4 1447,960.3 1447.4,941.3 1450.7,966.9 1452.7,991.5 1453.4,1001.5 1456.8,991.1 1457,982.4 1458.8,983.1 1458.5,974.4 1461.3,969.4 1464.1,957.6 1464.7,962.2 1465.5,960.8 1467.1,965.7 1473.2,967.1 1473.4,973.3 1473.4,969.1 1476.3,962.4 1477.2,970.3 1481.6,959.1 1483.2,956.5 1484.1,965.8 1486.7,990.9" fill="none" stroke="#5a5400" stroke-width="0.9" stroke-dasharray="1 2.5" stroke-linejoin="round"/>
<polyline points="1170.2,1004 1170.8,996.2 1172.6,981.5 1174.5,985.4 1175.7,972.2 1176.9,966.1 1178.3,959.6 1179.6,960.6 1181.9,960.1 1185.2,965.4 1187.5,969 1190,975.5 1191.6,970.1 1193.3,965.5 1194.7,969.9 1197.3,962.9 1200.6,954.1 1201.2,966.3 1203.6,990.2 1205.3,1002.8 1207,994.5 1208.6,982.5 1209.8,985.7 1211,971.4 1212.7,967.2 1214.2,957.5 1215.3,958.1 1217.6,960.7 1220.2,964 1223.7,971.1 1224.5,976.1 1226.7,967.6 1228.3,963.6 1230.8,967.4 1233,958.6 1235.9,949 1237.6,967.3 1238.5,990.2 1240.6,999.9 1242.6,990.9 1243.3,981.6 1244.7,984.6 1246.8,972 1247.7,966.9 1249.3,961.5 1250.7,962.9 1253.2,964 1255.8,968.6 1258.4,969.6 1261.1,975.1 1262.4,967.8 1264,964.4 1265.3,969.3 1268.5,960.3 1271.3,951 1272.8,966.5 1274.3,988.2 1276.2,999.8 1278,991.2 1279.2,980.1 1280.2,983.6 1281.6,972 1283.6,966.4 1284.7,959 1285.9,958.9 1288.6,960.1 1291,964.1 1294.5,969.4 1295.8,974.6 1298.2,969.3 1300,964.4 1301.2,969.9 1304.3,962.8 1306.3,952.1 1308.1,966.8 1309.9,988.4 1312.4,1001.9 1313,992.8 1315.2,980.7 1315.7,984.1 1317.2,972.1 1319.2,966.3 1319.6,960 1322,961.4 1323.6,962.5 1327.4,964.5 1330,971.1 1331.7,975.4 1333,968.8 1334.7,963.5 1337,968.7 1339.7,960.9 1342.7,950 1344.1,968.2 1345.5,989 1347.7,1007.4 1348.8,998 1350.5,982.4 1351.1,987.3 1352.8,973 1354.1,966.9 1355.7,962.4 1356.7,963.5 1359.7,964.7 1362.8,966.1 1365.4,971.4 1366.5,975.2 1368.5,969.6 1370.5,965.2 1372.7,968.2 1374.3,962 1377.2,958.5 1379.7,968.6 1380,991.6 1383.1,1002.3 1384,993.1 1385.4,981.6 1387.2,984.1 1387.8,971.5 1389.6,967.1 1391.5,957.6 1392.9,959.5 1394.6,960.3 1397.9,965.2 1400.7,970.6 1402.5,974.7 1404.3,969.5 1405.6,963.9 1407.8,970 1410.9,961.1 1413.7,955.5 1414.3,966.8 1415.6,989.8 1418.8,1009 1419.4,998.1 1420.7,982.3 1422.7,985.7 1423.3,971.3 1425.7,965.1 1426.1,956.2 1427.6,957.8 1430.4,959.4 1434,963.5 1436.6,968.5 1438.3,976 1440.1,967.5 1441.9,963.9 1442.8,968 1445.9,960.4 1448.4,943.3 1449.8,966.2 1451.8,992.1 1453.5,1003.6 1456,994 1457.1,980.8 1458.1,985.5 1459.5,972.3 1460.7,967.1 1462.6,957.9 1463.1,960.8 1466.2,961.6 1468.8,966.3 1471.4,969.5 1473.2,975.7 1475.1,968.2 1477.3,965.1 1478.6,969.5 1481.2,962 1484.3,953.7 1485.3,965.5 1487,989.2" fill="none" stroke="#9a9200" stroke-width="3.4" stroke-linejoin="round" opacity="0.45" filter="url(#blur1)"/>
<polyline points="1170.2,1004 1170.8,996.2 1172.6,981.5 1174.5,985.4 1175.7,972.2 1176.9,966.1 1178.3,959.6 1179.6,960.6 1181.9,960.1 1185.2,965.4 1187.5,969 1190,975.5 1191.6,970.1 1193.3,965.5 1194.7,969.9 1197.3,962.9 1200.6,954.1 1201.2,966.3 1203.6,990.2 1205.3,1002.8 1207,994.5 1208.6,982.5 1209.8,985.7 1211,971.4 1212.7,967.2 1214.2,957.5 1215.3,958.1 1217.6,960.7 1220.2,964 1223.7,971.1 1224.5,976.1 1226.7,967.6 1228.3,963.6 1230.8,967.4 1233,958.6 1235.9,949 1237.6,967.3 1238.5,990.2 1240.6,999.9 1242.6,990.9 1243.3,981.6 1244.7,984.6 1246.8,972 1247.7,966.9 1249.3,961.5 1250.7,962.9 1253.2,964 1255.8,968.6 1258.4,969.6 1261.1,975.1 1262.4,967.8 1264,964.4 1265.3,969.3 1268.5,960.3 1271.3,951 1272.8,966.5 1274.3,988.2 1276.2,999.8 1278,991.2 1279.2,980.1 1280.2,983.6 1281.6,972 1283.6,966.4 1284.7,959 1285.9,958.9 1288.6,960.1 1291,964.1 1294.5,969.4 1295.8,974.6 1298.2,969.3 1300,964.4 1301.2,969.9 1304.3,962.8 1306.3,952.1 1308.1,966.8 1309.9,988.4 1312.4,1001.9 1313,992.8 1315.2,980.7 1315.7,984.1 1317.2,972.1 1319.2,966.3 1319.6,960 1322,961.4 1323.6,962.5 1327.4,964.5 1330,971.1 1331.7,975.4 1333,968.8 1334.7,963.5 1337,968.7 1339.7,960.9 1342.7,950 1344.1,968.2 1345.5,989 1347.7,1007.4 1348.8,998 1350.5,982.4 1351.1,987.3 1352.8,973 1354.1,966.9 1355.7,962.4 1356.7,963.5 1359.7,964.7 1362.8,966.1 1365.4,971.4 1366.5,975.2 1368.5,969.6 1370.5,965.2 1372.7,968.2 1374.3,962 1377.2,958.5 1379.7,968.6 1380,991.6 1383.1,1002.3 1384,993.1 1385.4,981.6 1387.2,984.1 1387.8,971.5 1389.6,967.1 1391.5,957.6 1392.9,959.5 1394.6,960.3 1397.9,965.2 1400.7,970.6 1402.5,974.7 1404.3,969.5 1405.6,963.9 1407.8,970 1410.9,961.1 1413.7,955.5 1414.3,966.8 1415.6,989.8 1418.8,1009 1419.4,998.1 1420.7,982.3 1422.7,985.7 1423.3,971.3 1425.7,965.1 1426.1,956.2 1427.6,957.8 1430.4,959.4 1434,963.5 1436.6,968.5 1438.3,976 1440.1,967.5 1441.9,963.9 1442.8,968 1445.9,960.4 1448.4,943.3 1449.8,966.2 1451.8,992.1 1453.5,1003.6 1456,994 1457.1,980.8 1458.1,985.5 1459.5,972.3 1460.7,967.1 1462.6,957.9 1463.1,960.8 1466.2,961.6 1468.8,966.3 1471.4,969.5 1473.2,975.7 1475.1,968.2 1477.3,965.1 1478.6,969.5 1481.2,962 1484.3,953.7 1485.3,965.5 1487,989.2" fill="none" stroke="#f2ea00" stroke-width="1.8" stroke-linejoin="round"/>
<polyline points="1178.3,959.6 1179.6,960.6 1181.9,960.1 1185.2,965.4" fill="none" stroke="#f2ea00" stroke-width="3.2" stroke-linejoin="round" stroke-linecap="round" transform="translate(0 1.2)"/>
<polyline points="1214.2,957.5 1215.3,958.1 1217.6,960.7 1220.2,964" fill="none" stroke="#f2ea00" stroke-width="3.2" stroke-linejoin="round" stroke-linecap="round" transform="translate(0 1.2)"/>
<polyline points="1249.3,961.5 1250.7,962.9 1253.2,964 1255.8,968.6" fill="none" stroke="#f2ea00" stroke-width="3.2" stroke-linejoin="round" stroke-linecap="round" transform="translate(0 1.2)"/>
<polyline points="1284.7,959 1285.9,958.9 1288.6,960.1 1291,964.1" fill="none" stroke="#f2ea00" stroke-width="3.2" stroke-linejoin="round" stroke-linecap="round" transform="translate(0 1.2)"/>
<polyline points="1319.6,960 1322,961.4 1323.6,962.5 1327.4,964.5" fill="none" stroke="#f2ea00" stroke-width="3.2" stroke-linejoin="round" stroke-linecap="round" transform="translate(0 1.2)"/>
<polyline points="1355.7,962.4 1356.7,963.5 1359.7,964.7 1362.8,966.1" fill="none" stroke="#f2ea00" stroke-width="3.2" stroke-linejoin="round" stroke-linecap="round" transform="translate(0 1.2)"/>
<polyline points="1391.5,957.6 1392.9,959.5 1394.6,960.3 1397.9,965.2" fill="none" stroke="#f2ea00" stroke-width="3.2" stroke-linejoin="round" stroke-linecap="round" transform="translate(0 1.2)"/>
<polyline points="1426.1,956.2 1427.6,957.8 1430.4,959.4 1434,963.5" fill="none" stroke="#f2ea00" stroke-width="3.2" stroke-linejoin="round" stroke-linecap="round" transform="translate(0 1.2)"/>
<polyline points="1462.6,957.9 1463.1,960.8 1466.2,961.6 1468.8,966.3" fill="none" stroke="#f2ea00" stroke-width="3.2" stroke-linejoin="round" stroke-linecap="round" transform="translate(0 1.2)"/>
</g>
<rect x="1183.3" y="929.4" width="3.4" height="82" fill="url(#ybar)"/>
<line x1="1393" y1="929.3" x2="1393" y2="1015.3" stroke="#8c8c8c" stroke-width="0.8" stroke-dasharray="0.8 2.2"/>
<text x="1396" y="930.6" font-size="3.2" fill="#d0d0d0" font-weight="bold" font-family="'Liberation Sans', Arial, sans-serif">80.0</text>
<text x="1396" y="944.9" font-size="3.2" fill="#d0d0d0" font-weight="bold" font-family="'Liberation Sans', Arial, sans-serif">40.0</text>
<text x="1396" y="959.3" font-size="3.2" fill="#d0d0d0" font-weight="bold" font-family="'Liberation Sans', Arial, sans-serif">20.0</text>
<text x="1396" y="973.6" font-size="3.2" fill="#d0d0d0" font-weight="bold" font-family="'Liberation Sans', Arial, sans-serif">0.0</text>
<text x="1396" y="987.9" font-size="3.2" fill="#d0d0d0" font-weight="bold" font-family="'Liberation Sans', Arial, sans-serif">-20.0</text>
<text x="1396" y="1002.3" font-size="3.2" fill="#d0d0d0" font-weight="bold" font-family="'Liberation Sans', Arial, sans-serif">-40.0</text>
<text x="1396" y="1016.6" font-size="3.2" fill="#d0d0d0" font-weight="bold" font-family="'Liberation Sans', Arial, sans-serif">-80.0</text>
<rect x="1187.9" y="1022.3" width="202.6" height="14" fill="none" stroke="#1c1c1c" stroke-width="0.8"/>
<text x="1186" y="866.8" font-size="14" fill="#fff" font-family="'Liberation Sans', Arial, sans-serif">(<tspan font-weight="bold">1</tspan>)</text>
<g filter="url(#spk2)">
<rect x="1488.1" y="854.1" width="59.8" height="67.6" fill="#4e4e4e"/>
<rect x="1488.1" y="854.1" width="59.8" height="8.1" fill="#6e6e6e"/>
<g filter="url(#blur1)">
<path d="M1497.1 874.4 Q1521 850.7 1546.7 881.1" stroke="#a0a0a0" stroke-width="1.6" fill="none" stroke-linecap="round"/>
<path d="M1488.1 862.2 Q1518 856.8 1547.9 862.2" stroke="#878787" stroke-width="1.3" fill="none" stroke-linecap="round"/>
<ellipse cx="1521" cy="884.5" rx="17.9" ry="18.3" fill="#303030"/>
<path d="M1488.1 900.1 Q1518 897.4 1547.9 901.4" stroke="#afafaf" stroke-width="1.4" fill="none" stroke-linecap="round"/>
<path d="M1494.1 906.8 Q1521 904.1 1544.9 908.2" stroke="#969696" stroke-width="1.2" fill="none" stroke-linecap="round"/>
<rect x="1488.1" y="911.6" width="59.8" height="10.1" fill="#696969"/>
</g>
<line x1="1506.9" y1="886.1" x2="1512.6" y2="885.5" stroke="#919191" stroke-width="0.9" />
<line x1="1508.7" y1="866.3" x2="1514.2" y2="863.5" stroke="#7d7d7d" stroke-width="0.9" />
<line x1="1502.9" y1="913.2" x2="1508.8" y2="914" stroke="#a5a5a5" stroke-width="0.9" />
<line x1="1531.4" y1="893" x2="1535.8" y2="893.7" stroke="#898989" stroke-width="0.9" />
<line x1="1534" y1="865.9" x2="1539.3" y2="867.7" stroke="#969696" stroke-width="0.9" />
</g>
<line x1="1515" y1="855.1" x2="1515" y2="920.7" stroke="#7d7a22" stroke-width="0.8" stroke-dasharray="1.5 0.8"/>
<line x1="1550.4" y1="854.6" x2="1550.4" y2="921.7" stroke="#8c8c8c" stroke-width="0.8" stroke-dasharray="0.8 2.2"/>
<text x="1553.4" y="855.9" font-size="3.6" fill="#d0d0d0" font-weight="bold" font-family="'Liberation Sans', Arial, sans-serif">0 mm</text>
<text x="1553.4" y="872.7" font-size="3.6" fill="#d0d0d0" font-weight="bold" font-family="'Liberation Sans', Arial, sans-serif">5</text>
<text x="1553.4" y="889.5" font-size="3.6" fill="#d0d0d0" font-weight="bold" font-family="'Liberation Sans', Arial, sans-serif">10</text>
<text x="1553.4" y="906.2" font-size="3.6" fill="#d0d0d0" font-weight="bold" font-family="'Liberation Sans', Arial, sans-serif">15</text>
<text x="1553.4" y="923" font-size="3.6" fill="#d0d0d0" font-weight="bold" font-family="'Liberation Sans', Arial, sans-serif">20</text>
<rect x="1551.2" y="895.1" width="1.8" height="1.8" fill="#ffee00"/>
<path d="M1557.4 856.6 Q1558.4 888.2 1560.4 920.7" stroke="#9a9a9a" stroke-width="0.7" fill="none"/>
<text x="1490.1" y="858.6" font-size="3.2" fill="#e8e000" font-family="'Liberation Sans', Arial, sans-serif">LV Bmj</text>
<line x1="1417" y1="972" x2="1620" y2="972" stroke="#858005" stroke-width="1.3"/>
<clipPath id="cp6"><rect x="1417" y="926" width="203" height="94"/></clipPath>
<g clip-path="url(#cp6)">
<polyline points="1395.7,1012 1395.2,1002.1 1398.8,981.8 1398.5,985.9 1401.9,974.3 1400.9,963.3 1403.7,957.7 1406.3,956.4 1405.9,960.3 1410.4,966 1412.8,971.3 1417,976.4 1417.7,965.5 1416.4,962.8 1418.7,970.8 1421.9,955.1 1424.2,948.2 1426.7,965.5 1426.6,995.4 1430.1,1013.1 1430.6,999.7 1433.6,983.4 1432,988.5 1436.9,968.8 1436.9,960.8 1440.2,958.4 1440.9,955.1 1440.7,954.8 1445.8,966.6 1450.1,970.7 1449.4,974.2 1451.2,968 1452.9,963.1 1455.1,970.2 1458.9,953.9 1461.8,956.9 1462.3,962.7 1464.5,994.6 1465.5,1003.3 1465.3,992.5 1467.1,981.9 1467.6,981.9 1471.2,973.4 1473.5,962.3 1474.4,953.8 1473,956 1476.9,954.2 1478.7,963.8 1481.9,967.4 1484.8,974.1 1487.5,964.7 1488.2,962.7 1491,967.9 1491.7,957.7 1497,945.9 1497.6,967.8 1496.8,988.2 1501.9,1000.5 1501.4,992.8 1505.7,979.9 1505.6,982.8 1505,972.7 1506.8,967.5 1508.6,951.8 1507.9,955.3 1511.8,956 1514.4,958.4 1517.2,967.3 1518.8,975.9 1522.9,970.5 1524.4,961.7 1524.5,970.4 1528.5,958.1 1528.8,955.6 1532.2,967.8 1531.9,990.5 1536.4,1013.3 1538.2,997.7 1539,982.4 1538.4,986.5 1541.2,968.3 1541.7,964 1542.6,956.1 1543.6,957.2 1545.9,961.8 1551.1,966.3 1552.4,967.9 1555.1,972.9 1555.8,967.1 1559.5,962.2 1558.7,966.8 1563,961 1565.7,946.7 1565.4,967.9 1568.5,993.1 1569.7,1007.1 1570.2,996.3 1574.6,981.7 1574.8,984.1 1577,970.8 1576.3,968.3 1578.4,962.9 1579.2,961.7 1581.1,963.2 1585,965.6 1589.6,968.3 1590.3,976.9 1591.7,967.6 1593.3,968.5 1592.6,971.6 1597.7,960.5 1600.2,959.9 1602.5,970.3 1602.6,989.7 1605,1010.2 1606.6,993.6 1608.9,981 1608.3,987.2 1610.7,971.2 1614,966.3 1615.9,963.1 1614.2,964.1 1616.7,965.3 1620.6,965.7 1622.1,972.8 1624.5,971.8 1627.8,965.3 1626.8,962.1 1631.2,969.8 1632.6,965.1 1634.6,947.8 1638.1,964.2 1635.8,990.6 1642.8,1009.3 1640.9,997.2 1642.3,983.9 1645.3,985.2 1644.6,973.3 1647,966.7 1647,963.6 1649.9,963.6 1652.8,963.3 1653.3,967.8 1659,968.4 1657.7,976.8 1662.5,967.3 1665.8,962.7 1665.3,967.8 1666.9,962.7 1670.4,948.8 1673,964.7 1672.3,994.6 1675.1,1002.4 1674.7,989.9 1678.2,980.3 1678,982.3 1680.9,971.8 1682.7,965.1 1683.8,951.3 1686.3,953.4 1689.3,955.8 1689,962 1692.2,968.5 1694.3,971.9 1696.8,966.5 1697.3,961.1 1701.2,969.1 1701.2,957.1 1704.4,935 1706.5,962.2 1706.7,990.4" fill="none" stroke="#5a5400" stroke-width="0.9" stroke-dasharray="1 2.5" stroke-linejoin="round"/>
<polyline points="1394.9,1010.3 1396.9,999.2 1398.1,984.1 1399.1,987.9 1401,971.8 1402.2,965.1 1403.2,955.6 1405.3,956.7 1407.4,959.6 1410.6,964.2 1412.5,969.9 1415.1,975.6 1416,966.8 1418.4,960.5 1420.5,967.8 1422.1,957.8 1425.1,946.9 1427.1,964.7 1428.2,993.3 1430.6,1011.1 1432,998.7 1433.8,984 1433.9,988.3 1435.5,971.2 1437.1,963.7 1438.2,955.6 1440.2,955.2 1442.4,957 1445,964.9 1448.1,968.6 1449.6,975.7 1451.1,968.9 1452.7,960.8 1455.3,967.3 1458,956.6 1460.8,955.9 1461.9,965.7 1463,994.7 1465.4,1005.3 1467.2,995.5 1468.3,983.1 1469,984.5 1470.3,972.2 1472,964 1473.5,953.3 1474.7,953.8 1477.5,956.1 1479.9,961.3 1483,968.1 1484.6,974.9 1486.9,967.1 1488.4,962.2 1490.5,967.3 1492.6,956.9 1495.1,946 1497,965.8 1497.8,989.6 1500,1001.7 1501.7,993.5 1503.7,979.6 1504,984.8 1505.9,971.8 1507.5,966.5 1508.5,954.4 1509.5,955.7 1511.6,957.9 1515.3,961.4 1518.2,968.4 1519.3,975.3 1521.5,969.2 1523.4,963 1524.6,969.1 1527,959.6 1530.7,958.3 1532.1,965.5 1533.3,988.8 1535.8,1011.1 1536.6,1000 1537.8,984.6 1539.9,987.1 1541.3,970.9 1542.6,966 1544.1,958.6 1545.5,958.9 1546.6,962.3 1550.4,965.6 1552.4,969 1554.6,974.8 1557.1,969.4 1558.8,964.4 1559.8,967.6 1562.7,960.1 1565.3,946.1 1566.6,965.5 1567.5,993.6 1570.1,1006.7 1571.8,995.4 1573,982.5 1574.8,985.6 1575.3,971.5 1576.8,967.1 1578.9,960.5 1579.6,961.1 1581.9,962.7 1585.1,968 1588.1,970.4 1590,975.8 1591.9,968.6 1593.4,965.5 1594.6,969.2 1597.3,960.6 1599.7,959 1601.2,967.4 1602.6,990.6 1605.6,1007.8 1606.7,996.2 1608.6,983.4 1609,986.3 1610.3,971 1612.7,965.7 1614.1,961.2 1615.2,962.5 1617.2,962.6 1620.1,966.2 1623.4,970.7 1625.1,974.7 1626.6,968.3 1628.6,964.9 1630.6,969.5 1632.7,962.5 1634.8,949.6 1636.1,966.5 1637.6,992.2 1640.9,1009.8 1641.5,998 1642.8,982.4 1644.7,986.5 1645.9,971.4 1646.7,966.7 1648.2,960.8 1649.8,961.1 1652.1,962.4 1655.2,965.3 1657.6,971 1659.4,975.8 1661.9,969.1 1663.8,965.1 1665,967.9 1667.6,961.7 1670.7,947.2 1671.9,967.7 1673,994.3 1675.9,1001.8 1676.6,992.2 1678.1,982 1679.2,982.8 1680.5,970.9 1682.3,965.1 1684.1,949 1684.8,951 1687.5,954.8 1690.2,960.8 1693,969.7 1694.7,974.7 1697.1,968.3 1698.4,961.5 1700.2,968.2 1701.9,955.8 1704.8,935.8 1706.9,963.5 1708.1,987.6" fill="none" stroke="#9a9200" stroke-width="3.1" stroke-linejoin="round" opacity="0.45" filter="url(#blur1)"/>
<polyline points="1394.9,1010.3 1396.9,999.2 1398.1,984.1 1399.1,987.9 1401,971.8 1402.2,965.1 1403.2,955.6 1405.3,956.7 1407.4,959.6 1410.6,964.2 1412.5,969.9 1415.1,975.6 1416,966.8 1418.4,960.5 1420.5,967.8 1422.1,957.8 1425.1,946.9 1427.1,964.7 1428.2,993.3 1430.6,1011.1 1432,998.7 1433.8,984 1433.9,988.3 1435.5,971.2 1437.1,963.7 1438.2,955.6 1440.2,955.2 1442.4,957 1445,964.9 1448.1,968.6 1449.6,975.7 1451.1,968.9 1452.7,960.8 1455.3,967.3 1458,956.6 1460.8,955.9 1461.9,965.7 1463,994.7 1465.4,1005.3 1467.2,995.5 1468.3,983.1 1469,984.5 1470.3,972.2 1472,964 1473.5,953.3 1474.7,953.8 1477.5,956.1 1479.9,961.3 1483,968.1 1484.6,974.9 1486.9,967.1 1488.4,962.2 1490.5,967.3 1492.6,956.9 1495.1,946 1497,965.8 1497.8,989.6 1500,1001.7 1501.7,993.5 1503.7,979.6 1504,984.8 1505.9,971.8 1507.5,966.5 1508.5,954.4 1509.5,955.7 1511.6,957.9 1515.3,961.4 1518.2,968.4 1519.3,975.3 1521.5,969.2 1523.4,963 1524.6,969.1 1527,959.6 1530.7,958.3 1532.1,965.5 1533.3,988.8 1535.8,1011.1 1536.6,1000 1537.8,984.6 1539.9,987.1 1541.3,970.9 1542.6,966 1544.1,958.6 1545.5,958.9 1546.6,962.3 1550.4,965.6 1552.4,969 1554.6,974.8 1557.1,969.4 1558.8,964.4 1559.8,967.6 1562.7,960.1 1565.3,946.1 1566.6,965.5 1567.5,993.6 1570.1,1006.7 1571.8,995.4 1573,982.5 1574.8,985.6 1575.3,971.5 1576.8,967.1 1578.9,960.5 1579.6,961.1 1581.9,962.7 1585.1,968 1588.1,970.4 1590,975.8 1591.9,968.6 1593.4,965.5 1594.6,969.2 1597.3,960.6 1599.7,959 1601.2,967.4 1602.6,990.6 1605.6,1007.8 1606.7,996.2 1608.6,983.4 1609,986.3 1610.3,971 1612.7,965.7 1614.1,961.2 1615.2,962.5 1617.2,962.6 1620.1,966.2 1623.4,970.7 1625.1,974.7 1626.6,968.3 1628.6,964.9 1630.6,969.5 1632.7,962.5 1634.8,949.6 1636.1,966.5 1637.6,992.2 1640.9,1009.8 1641.5,998 1642.8,982.4 1644.7,986.5 1645.9,971.4 1646.7,966.7 1648.2,960.8 1649.8,961.1 1652.1,962.4 1655.2,965.3 1657.6,971 1659.4,975.8 1661.9,969.1 1663.8,965.1 1665,967.9 1667.6,961.7 1670.7,947.2 1671.9,967.7 1673,994.3 1675.9,1001.8 1676.6,992.2 1678.1,982 1679.2,982.8 1680.5,970.9 1682.3,965.1 1684.1,949 1684.8,951 1687.5,954.8 1690.2,960.8 1693,969.7 1694.7,974.7 1697.1,968.3 1698.4,961.5 1700.2,968.2 1701.9,955.8 1704.8,935.8 1706.9,963.5 1708.1,987.6" fill="none" stroke="#f2ea00" stroke-width="1.5" stroke-linejoin="round"/>
<polyline points="1403.2,955.6 1405.3,956.7 1407.4,959.6 1410.6,964.2" fill="none" stroke="#f2ea00" stroke-width="2.9" stroke-linejoin="round" stroke-linecap="round" transform="translate(0 1.2)"/>
<polyline points="1438.2,955.6 1440.2,955.2 1442.4,957 1445,964.9" fill="none" stroke="#f2ea00" stroke-width="2.9" stroke-linejoin="round" stroke-linecap="round" transform="translate(0 1.2)"/>
<polyline points="1473.5,953.3 1474.7,953.8 1477.5,956.1 1479.9,961.3" fill="none" stroke="#f2ea00" stroke-width="2.9" stroke-linejoin="round" stroke-linecap="round" transform="translate(0 1.2)"/>
<polyline points="1508.5,954.4 1509.5,955.7 1511.6,957.9 1515.3,961.4" fill="none" stroke="#f2ea00" stroke-width="2.9" stroke-linejoin="round" stroke-linecap="round" transform="translate(0 1.2)"/>
<polyline points="1544.1,958.6 1545.5,958.9 1546.6,962.3 1550.4,965.6" fill="none" stroke="#f2ea00" stroke-width="2.9" stroke-linejoin="round" stroke-linecap="round" transform="translate(0 1.2)"/>
<polyline points="1578.9,960.5 1579.6,961.1 1581.9,962.7 1585.1,968" fill="none" stroke="#f2ea00" stroke-width="2.9" stroke-linejoin="round" stroke-linecap="round" transform="translate(0 1.2)"/>
<polyline points="1614.1,961.2 1615.2,962.5 1617.2,962.6 1620.1,966.2" fill="none" stroke="#f2ea00" stroke-width="2.9" stroke-linejoin="round" stroke-linecap="round" transform="translate(0 1.2)"/>
<polyline points="1648.2,960.8 1649.8,961.1 1652.1,962.4 1655.2,965.3" fill="none" stroke="#f2ea00" stroke-width="2.9" stroke-linejoin="round" stroke-linecap="round" transform="translate(0 1.2)"/>
<polyline points="1684.1,949 1684.8,951 1687.5,954.8 1690.2,960.8" fill="none" stroke="#f2ea00" stroke-width="2.9" stroke-linejoin="round" stroke-linecap="round" transform="translate(0 1.2)"/>
<polyline points="1536.5,972 1537.5,931.5 1539,1012 1540.5,977" fill="none" stroke="#f2ea00" stroke-width="1.6"/>
</g>
<rect x="1412.6" y="929.4" width="3.4" height="82" fill="url(#ybar)"/>
<line x1="1622.5" y1="929" x2="1622.5" y2="1015" stroke="#8c8c8c" stroke-width="0.8" stroke-dasharray="0.8 2.2"/>
<text x="1625.5" y="930.3" font-size="3.2" fill="#d0d0d0" font-weight="bold" font-family="'Liberation Sans', Arial, sans-serif">80.0</text>
<text x="1625.5" y="944.6" font-size="3.2" fill="#d0d0d0" font-weight="bold" font-family="'Liberation Sans', Arial, sans-serif">40.0</text>
<text x="1625.5" y="959" font-size="3.2" fill="#d0d0d0" font-weight="bold" font-family="'Liberation Sans', Arial, sans-serif">20.0</text>
<text x="1625.5" y="973.3" font-size="3.2" fill="#d0d0d0" font-weight="bold" font-family="'Liberation Sans', Arial, sans-serif">0.0</text>
<text x="1625.5" y="987.6" font-size="3.2" fill="#d0d0d0" font-weight="bold" font-family="'Liberation Sans', Arial, sans-serif">-20.0</text>
<text x="1625.5" y="1002" font-size="3.2" fill="#d0d0d0" font-weight="bold" font-family="'Liberation Sans', Arial, sans-serif">-40.0</text>
<text x="1625.5" y="1016.3" font-size="3.2" fill="#d0d0d0" font-weight="bold" font-family="'Liberation Sans', Arial, sans-serif">-80.0</text>
<rect x="1417" y="1022" width="203" height="14" fill="none" stroke="#1c1c1c" stroke-width="0.8"/>
<text x="1415" y="866.8" font-size="14" fill="#fff" font-family="'Liberation Sans', Arial, sans-serif">(<tspan font-weight="bold">2</tspan>)</text>
<g filter="url(#spk2)">
<rect x="1259.6" y="1038.7" width="59.7" height="66.9" fill="#4e4e4e"/>
<rect x="1259.6" y="1038.7" width="59.7" height="8" fill="#6e6e6e"/>
<g filter="url(#blur1)">
<path d="M1268.6 1058.8 Q1292.4 1035.4 1318.1 1065.5" stroke="#a0a0a0" stroke-width="1.6" fill="none" stroke-linecap="round"/>
<path d="M1259.6 1046.7 Q1289.4 1041.4 1319.3 1046.7" stroke="#878787" stroke-width="1.3" fill="none" stroke-linecap="round"/>
<ellipse cx="1292.4" cy="1068.8" rx="17.9" ry="18.1" fill="#303030"/>
<path d="M1259.6 1084.2 Q1289.4 1081.5 1319.3 1085.5" stroke="#afafaf" stroke-width="1.4" fill="none" stroke-linecap="round"/>
<path d="M1265.6 1090.9 Q1292.4 1088.2 1316.3 1092.2" stroke="#969696" stroke-width="1.2" fill="none" stroke-linecap="round"/>
<rect x="1259.6" y="1095.6" width="59.7" height="10" fill="#696969"/>
</g>
<line x1="1303.3" y1="1063.5" x2="1309.1" y2="1061.4" stroke="#a9a9a9" stroke-width="0.9" />
<line x1="1269.5" y1="1082.5" x2="1276.1" y2="1084.6" stroke="#8c8c8c" stroke-width="0.9" />
<line x1="1279.6" y1="1068.8" x2="1283" y2="1068" stroke="#858585" stroke-width="0.9" />
<line x1="1297.5" y1="1071.1" x2="1301.1" y2="1068.3" stroke="#898989" stroke-width="0.9" />
<line x1="1306.7" y1="1050" x2="1312.4" y2="1052.4" stroke="#7e7e7e" stroke-width="0.9" />
</g>
<line x1="1286.5" y1="1039.7" x2="1286.5" y2="1104.6" stroke="#7d7a22" stroke-width="0.8" stroke-dasharray="1.5 0.8"/>
<line x1="1321.8" y1="1039.2" x2="1321.8" y2="1105.6" stroke="#8c8c8c" stroke-width="0.8" stroke-dasharray="0.8 2.2"/>
<text x="1324.8" y="1040.5" font-size="3.6" fill="#d0d0d0" font-weight="bold" font-family="'Liberation Sans', Arial, sans-serif">0 mm</text>
<text x="1324.8" y="1057.1" font-size="3.6" fill="#d0d0d0" font-weight="bold" font-family="'Liberation Sans', Arial, sans-serif">5</text>
<text x="1324.8" y="1073.7" font-size="3.6" fill="#d0d0d0" font-weight="bold" font-family="'Liberation Sans', Arial, sans-serif">10</text>
<text x="1324.8" y="1090.3" font-size="3.6" fill="#d0d0d0" font-weight="bold" font-family="'Liberation Sans', Arial, sans-serif">15</text>
<text x="1324.8" y="1106.9" font-size="3.6" fill="#d0d0d0" font-weight="bold" font-family="'Liberation Sans', Arial, sans-serif">20</text>
<rect x="1322.6" y="1079.3" width="1.8" height="1.8" fill="#ffee00"/>
<path d="M1328.8 1041.2 Q1329.8 1072.4 1331.8 1104.6" stroke="#9a9a9a" stroke-width="0.7" fill="none"/>
<text x="1261.6" y="1043.2" font-size="3.2" fill="#e8e000" font-family="'Liberation Sans', Arial, sans-serif">LV Bmj</text>
<line x1="1187.9" y1="1155.9" x2="1390.5" y2="1155.9" stroke="#858005" stroke-width="1.3"/>
<clipPath id="cp7"><rect x="1187.9" y="1115.9" width="202.6" height="84"/></clipPath>
<g clip-path="url(#cp7)">
<polyline points="1161.1,1186.2 1165.3,1173.4 1162.6,1167.1 1165.1,1165.5 1168.2,1154.5 1166.8,1148.5 1167.3,1139.1 1171.9,1142.8 1174.9,1141.3 1174.5,1145.8 1178.6,1151.4 1181.4,1159.6 1182.4,1153.7 1184.8,1149.7 1184,1152.8 1189.5,1145.7 1190.4,1140.7 1190.8,1152.7 1193.6,1169.4 1198,1183.7 1196,1173.9 1200.1,1163.1 1197.3,1163.7 1199.4,1157.2 1201.7,1151.4 1202.9,1138.4 1205.3,1140.9 1206.8,1145.1 1208.7,1151.3 1215.1,1151.7 1215.3,1158.8 1219,1151.4 1216.8,1149 1218.7,1149.6 1220.1,1144.8 1226.4,1130.5 1227.3,1149.7 1226.2,1172.7 1231.4,1187.4 1230.5,1177 1233.2,1166.3 1233.7,1168.5 1236.8,1155.3 1236.6,1153.4 1236,1142.7 1239.4,1140.3 1241.3,1143.1 1245.4,1147.5 1245.8,1157.1 1250.6,1159.7 1250.5,1150.8 1252.9,1144 1256.9,1151.4 1258.3,1144 1260,1140.1 1262.4,1150.1 1260.1,1170.9 1264.4,1187.1 1268.3,1178.3 1269.2,1162.9 1267.1,1165.3 1268.1,1154.1 1272.2,1149.1 1273.8,1140.4 1273.7,1146.7 1275.6,1146.6 1279.1,1147.6 1280.9,1154.6 1285.7,1156 1285.9,1153.3 1286.7,1149.5 1289.7,1152.1 1292.2,1147.3 1294.2,1139.1 1296.3,1152.2 1294.9,1172.8 1301.1,1187.2 1299.3,1177.6 1302.4,1166 1302.2,1168.2 1305.7,1156 1307.8,1150.4 1304.9,1138.8 1309.5,1139.9 1312.4,1145 1315.3,1146.1 1315.2,1154.4 1318.6,1159 1320.5,1153.5 1320.9,1147.2 1322.4,1154.2 1326.3,1141.8 1328.7,1134.9 1328.9,1151.5 1333,1176.5 1333.6,1193.8 1335.3,1182 1334.7,1166.7 1337.2,1171.2 1338.5,1152.2 1339.9,1154.9 1343.3,1144.4 1341.6,1146.1 1346.7,1144.5 1348.1,1146.7 1349.5,1154.8 1351.5,1158.1 1355.8,1149.9 1357.8,1150.3 1356.9,1153.5 1359.6,1148 1364.7,1140.4 1364.4,1152.7 1366.3,1177.3 1368.1,1188.3 1370.4,1178.3 1373.3,1167.7 1370.8,1167.9 1373.9,1152.9 1374.8,1150 1377.8,1136.8 1377.9,1140 1378.3,1139.1 1383.8,1144.5 1387.1,1151.4 1386,1157.6 1389.2,1150.9 1389.7,1146.3 1394.5,1155.7 1395.8,1141 1398.2,1123.8 1396.9,1151.4 1399.6,1174.1 1404.5,1187.1 1403.4,1176.5 1406.7,1168.3 1405,1166 1409.4,1152.6 1410.8,1153.4 1411.5,1145.1 1412.4,1145.4 1414.5,1146.3 1417.2,1149.6 1419.5,1156 1421.9,1160.5 1424.7,1150.1 1426,1151.2 1427.6,1153 1431.4,1149.1 1431.9,1136.3 1432.8,1147.1 1434,1172.6 1435.7,1184.3 1437.4,1174.8 1441.3,1166.6 1439.7,1167.8 1441,1157 1444.7,1152.5 1444.8,1146.8 1445.9,1148.1 1448.1,1146 1451.4,1148.5 1456.1,1151 1457.1,1157.2 1457.6,1155.1 1460.7,1147.5 1463.1,1152.1 1461.7,1147.2 1468.7,1137.7 1469.6,1152.9 1471.3,1173.3" fill="none" stroke="#5a5400" stroke-width="0.9" stroke-dasharray="1 2.5" stroke-linejoin="round"/>
<polyline points="1160.9,1185.2 1163.4,1175.3 1164.3,1165 1164.7,1167.3 1166.9,1155.8 1168.3,1149.7 1169.1,1139.7 1170.8,1143.1 1173,1144 1175.9,1148 1178.3,1153.2 1180.7,1159.4 1182.1,1151.6 1183.6,1147.2 1185.4,1153.5 1187.7,1146.3 1191.3,1140.8 1192.1,1150.6 1193,1171.8 1196.1,1183.6 1197,1173.3 1198.3,1164 1199.2,1165.5 1201.2,1157 1202.5,1149.3 1204.1,1141.3 1205.4,1143.1 1207.5,1146.8 1210,1150.5 1213.4,1152.4 1214.7,1159.9 1217.3,1151.1 1218.7,1147.5 1219.8,1152.4 1222,1142.8 1225.5,1131.3 1227,1148.5 1227.9,1171.5 1230.6,1184.8 1232.2,1176.5 1233.2,1164.2 1234.2,1167.5 1235.2,1156.2 1236.6,1151 1237.9,1139.9 1240.2,1140.6 1242.1,1141.3 1245.3,1146 1247.4,1154.9 1249.4,1158.6 1251.6,1152.2 1253.1,1146.6 1255.1,1151.9 1256.5,1145.9 1259.4,1138.3 1261.8,1150.6 1262,1171.3 1264.8,1184.4 1266.5,1175.6 1267.3,1164.9 1269,1166.6 1270.1,1156.4 1271.9,1150.9 1273.4,1141.1 1274.6,1143.8 1276.8,1144.3 1279,1146.7 1282.3,1153.2 1284.1,1157.8 1286,1152.4 1286.8,1148 1289.1,1153.2 1291.4,1145.6 1294.3,1138.6 1295.7,1152.3 1296.5,1173.4 1300,1185.8 1301.1,1177.7 1302,1165.8 1303.6,1167.3 1304.9,1155.8 1306,1149.9 1306.9,1140.1 1308.7,1142.4 1310.6,1143.8 1314.3,1148.1 1317.2,1152.2 1318.6,1159.3 1320.4,1151.9 1321.4,1145.6 1323.8,1151.3 1325.5,1142.9 1328.8,1132.6 1329.6,1150.3 1331.4,1173.7 1334.6,1192 1334.9,1180.2 1336.4,1167.2 1337.4,1169.3 1338.7,1154.9 1341.1,1152.9 1341.8,1144 1343.3,1144.5 1345.2,1145.8 1348.2,1148 1351.3,1153.4 1352.9,1160.6 1354.1,1152.3 1356.8,1148.4 1357.9,1154.3 1360.7,1146.7 1362.8,1139 1364.5,1152.5 1366.7,1176 1369.1,1189.8 1369.7,1179.7 1371.4,1166.4 1372.1,1170.8 1373.6,1155.1 1374.8,1149.4 1376.6,1137.5 1377.7,1138.1 1379.8,1140 1382.6,1145.4 1385.4,1153.9 1387.7,1158.5 1389.4,1151.7 1390.9,1146.6 1393,1153.1 1395.3,1142.4 1397.9,1125.8 1398.6,1149.7 1400.5,1176.1 1403.3,1189.3 1404.4,1178.6 1405.2,1167.2 1406.2,1168.6 1407.8,1154.8 1409.9,1152.2 1411.1,1145.2 1412.8,1146.7 1413.9,1148.4 1417.3,1151.1 1420,1153.6 1421.6,1159.6 1424.1,1153.1 1424.8,1148.9 1426.6,1152.9 1430,1146.4 1432.8,1138.3 1433.4,1150 1435,1175.1 1437.6,1184.9 1439.4,1174.9 1439.9,1165.3 1441.5,1166.4 1442.2,1155.1 1444.1,1152.2 1445.1,1144 1447,1145.7 1449.3,1148.4 1452.5,1151.2 1454.7,1152.9 1456.8,1158.5 1458.2,1153.4 1460.5,1148.9 1462.2,1154.3 1463.6,1146 1467.3,1136.1 1468.8,1150.3 1469.6,1172.9" fill="none" stroke="#9a9200" stroke-width="3.2" stroke-linejoin="round" opacity="0.45" filter="url(#blur1)"/>
<polyline points="1160.9,1185.2 1163.4,1175.3 1164.3,1165 1164.7,1167.3 1166.9,1155.8 1168.3,1149.7 1169.1,1139.7 1170.8,1143.1 1173,1144 1175.9,1148 1178.3,1153.2 1180.7,1159.4 1182.1,1151.6 1183.6,1147.2 1185.4,1153.5 1187.7,1146.3 1191.3,1140.8 1192.1,1150.6 1193,1171.8 1196.1,1183.6 1197,1173.3 1198.3,1164 1199.2,1165.5 1201.2,1157 1202.5,1149.3 1204.1,1141.3 1205.4,1143.1 1207.5,1146.8 1210,1150.5 1213.4,1152.4 1214.7,1159.9 1217.3,1151.1 1218.7,1147.5 1219.8,1152.4 1222,1142.8 1225.5,1131.3 1227,1148.5 1227.9,1171.5 1230.6,1184.8 1232.2,1176.5 1233.2,1164.2 1234.2,1167.5 1235.2,1156.2 1236.6,1151 1237.9,1139.9 1240.2,1140.6 1242.1,1141.3 1245.3,1146 1247.4,1154.9 1249.4,1158.6 1251.6,1152.2 1253.1,1146.6 1255.1,1151.9 1256.5,1145.9 1259.4,1138.3 1261.8,1150.6 1262,1171.3 1264.8,1184.4 1266.5,1175.6 1267.3,1164.9 1269,1166.6 1270.1,1156.4 1271.9,1150.9 1273.4,1141.1 1274.6,1143.8 1276.8,1144.3 1279,1146.7 1282.3,1153.2 1284.1,1157.8 1286,1152.4 1286.8,1148 1289.1,1153.2 1291.4,1145.6 1294.3,1138.6 1295.7,1152.3 1296.5,1173.4 1300,1185.8 1301.1,1177.7 1302,1165.8 1303.6,1167.3 1304.9,1155.8 1306,1149.9 1306.9,1140.1 1308.7,1142.4 1310.6,1143.8 1314.3,1148.1 1317.2,1152.2 1318.6,1159.3 1320.4,1151.9 1321.4,1145.6 1323.8,1151.3 1325.5,1142.9 1328.8,1132.6 1329.6,1150.3 1331.4,1173.7 1334.6,1192 1334.9,1180.2 1336.4,1167.2 1337.4,1169.3 1338.7,1154.9 1341.1,1152.9 1341.8,1144 1343.3,1144.5 1345.2,1145.8 1348.2,1148 1351.3,1153.4 1352.9,1160.6 1354.1,1152.3 1356.8,1148.4 1357.9,1154.3 1360.7,1146.7 1362.8,1139 1364.5,1152.5 1366.7,1176 1369.1,1189.8 1369.7,1179.7 1371.4,1166.4 1372.1,1170.8 1373.6,1155.1 1374.8,1149.4 1376.6,1137.5 1377.7,1138.1 1379.8,1140 1382.6,1145.4 1385.4,1153.9 1387.7,1158.5 1389.4,1151.7 1390.9,1146.6 1393,1153.1 1395.3,1142.4 1397.9,1125.8 1398.6,1149.7 1400.5,1176.1 1403.3,1189.3 1404.4,1178.6 1405.2,1167.2 1406.2,1168.6 1407.8,1154.8 1409.9,1152.2 1411.1,1145.2 1412.8,1146.7 1413.9,1148.4 1417.3,1151.1 1420,1153.6 1421.6,1159.6 1424.1,1153.1 1424.8,1148.9 1426.6,1152.9 1430,1146.4 1432.8,1138.3 1433.4,1150 1435,1175.1 1437.6,1184.9 1439.4,1174.9 1439.9,1165.3 1441.5,1166.4 1442.2,1155.1 1444.1,1152.2 1445.1,1144 1447,1145.7 1449.3,1148.4 1452.5,1151.2 1454.7,1152.9 1456.8,1158.5 1458.2,1153.4 1460.5,1148.9 1462.2,1154.3 1463.6,1146 1467.3,1136.1 1468.8,1150.3 1469.6,1172.9" fill="none" stroke="#f2ea00" stroke-width="1.6" stroke-linejoin="round"/>
<polyline points="1169.1,1139.7 1170.8,1143.1 1173,1144 1175.9,1148" fill="none" stroke="#f2ea00" stroke-width="3" stroke-linejoin="round" stroke-linecap="round" transform="translate(0 1.2)"/>
<polyline points="1204.1,1141.3 1205.4,1143.1 1207.5,1146.8 1210,1150.5" fill="none" stroke="#f2ea00" stroke-width="3" stroke-linejoin="round" stroke-linecap="round" transform="translate(0 1.2)"/>
<polyline points="1237.9,1139.9 1240.2,1140.6 1242.1,1141.3 1245.3,1146" fill="none" stroke="#f2ea00" stroke-width="3" stroke-linejoin="round" stroke-linecap="round" transform="translate(0 1.2)"/>
<polyline points="1273.4,1141.1 1274.6,1143.8 1276.8,1144.3 1279,1146.7" fill="none" stroke="#f2ea00" stroke-width="3" stroke-linejoin="round" stroke-linecap="round" transform="translate(0 1.2)"/>
<polyline points="1306.9,1140.1 1308.7,1142.4 1310.6,1143.8 1314.3,1148.1" fill="none" stroke="#f2ea00" stroke-width="3" stroke-linejoin="round" stroke-linecap="round" transform="translate(0 1.2)"/>
<polyline points="1341.8,1144 1343.3,1144.5 1345.2,1145.8 1348.2,1148" fill="none" stroke="#f2ea00" stroke-width="3" stroke-linejoin="round" stroke-linecap="round" transform="translate(0 1.2)"/>
<polyline points="1376.6,1137.5 1377.7,1138.1 1379.8,1140 1382.6,1145.4" fill="none" stroke="#f2ea00" stroke-width="3" stroke-linejoin="round" stroke-linecap="round" transform="translate(0 1.2)"/>
<polyline points="1411.1,1145.2 1412.8,1146.7 1413.9,1148.4 1417.3,1151.1" fill="none" stroke="#f2ea00" stroke-width="3" stroke-linejoin="round" stroke-linecap="round" transform="translate(0 1.2)"/>
<polyline points="1445.1,1144 1447,1145.7 1449.3,1148.4 1452.5,1151.2" fill="none" stroke="#f2ea00" stroke-width="3" stroke-linejoin="round" stroke-linecap="round" transform="translate(0 1.2)"/>
</g>
<rect x="1183.3" y="1113" width="3.4" height="82" fill="url(#ybar)"/>
<line x1="1393" y1="1112.9" x2="1393" y2="1198.9" stroke="#8c8c8c" stroke-width="0.8" stroke-dasharray="0.8 2.2"/>
<text x="1396" y="1114.2" font-size="3.2" fill="#d0d0d0" font-weight="bold" font-family="'Liberation Sans', Arial, sans-serif">80.0</text>
<text x="1396" y="1128.5" font-size="3.2" fill="#d0d0d0" font-weight="bold" font-family="'Liberation Sans', Arial, sans-serif">40.0</text>
<text x="1396" y="1142.9" font-size="3.2" fill="#d0d0d0" font-weight="bold" font-family="'Liberation Sans', Arial, sans-serif">20.0</text>
<text x="1396" y="1157.2" font-size="3.2" fill="#d0d0d0" font-weight="bold" font-family="'Liberation Sans', Arial, sans-serif">0.0</text>
<text x="1396" y="1171.5" font-size="3.2" fill="#d0d0d0" font-weight="bold" font-family="'Liberation Sans', Arial, sans-serif">-20.0</text>
<text x="1396" y="1185.9" font-size="3.2" fill="#d0d0d0" font-weight="bold" font-family="'Liberation Sans', Arial, sans-serif">-40.0</text>
<text x="1396" y="1200.2" font-size="3.2" fill="#d0d0d0" font-weight="bold" font-family="'Liberation Sans', Arial, sans-serif">-80.0</text>
<rect x="1187.9" y="1205.9" width="202.6" height="9.6" fill="none" stroke="#1c1c1c" stroke-width="0.8"/>
<text x="1186" y="1049.6" font-size="14" fill="#fff" font-family="'Liberation Sans', Arial, sans-serif">(<tspan font-weight="bold">3</tspan>)</text>
<g filter="url(#spk2)">
<rect x="1488.5" y="1038" width="59.7" height="67" fill="#4e4e4e"/>
<rect x="1488.5" y="1038" width="59.7" height="8" fill="#6e6e6e"/>
<g filter="url(#blur1)">
<path d="M1497.5 1058.1 Q1521.3 1034.7 1547 1064.8" stroke="#a0a0a0" stroke-width="1.6" fill="none" stroke-linecap="round"/>
<path d="M1488.5 1046 Q1518.3 1040.7 1548.2 1046" stroke="#878787" stroke-width="1.3" fill="none" stroke-linecap="round"/>
<ellipse cx="1521.3" cy="1068.2" rx="17.9" ry="18.1" fill="#303030"/>
<path d="M1488.5 1083.6 Q1518.3 1080.9 1548.2 1084.9" stroke="#afafaf" stroke-width="1.4" fill="none" stroke-linecap="round"/>
<path d="M1494.5 1090.3 Q1521.3 1087.6 1545.2 1091.6" stroke="#969696" stroke-width="1.2" fill="none" stroke-linecap="round"/>
<rect x="1488.5" y="1095" width="59.7" height="10" fill="#696969"/>
</g>
<line x1="1532.3" y1="1072.9" x2="1538.7" y2="1072.4" stroke="#7d7d7d" stroke-width="0.9" />
<line x1="1507.4" y1="1056.7" x2="1511.1" y2="1054.9" stroke="#797979" stroke-width="0.9" />
<line x1="1516.3" y1="1054" x2="1523" y2="1053.6" stroke="#a5a5a5" stroke-width="0.9" />
<line x1="1520.8" y1="1086.8" x2="1527.7" y2="1089" stroke="#a7a7a7" stroke-width="0.9" />
<line x1="1536.1" y1="1056.2" x2="1540.9" y2="1055.2" stroke="#828282" stroke-width="0.9" />
</g>
<line x1="1515.4" y1="1039" x2="1515.4" y2="1104" stroke="#7d7a22" stroke-width="0.8" stroke-dasharray="1.5 0.8"/>
<line x1="1550.7" y1="1038.5" x2="1550.7" y2="1105" stroke="#8c8c8c" stroke-width="0.8" stroke-dasharray="0.8 2.2"/>
<text x="1553.7" y="1039.8" font-size="3.6" fill="#d0d0d0" font-weight="bold" font-family="'Liberation Sans', Arial, sans-serif">0 mm</text>
<text x="1553.7" y="1056.4" font-size="3.6" fill="#d0d0d0" font-weight="bold" font-family="'Liberation Sans', Arial, sans-serif">5</text>
<text x="1553.7" y="1073" font-size="3.6" fill="#d0d0d0" font-weight="bold" font-family="'Liberation Sans', Arial, sans-serif">10</text>
<text x="1553.7" y="1089.7" font-size="3.6" fill="#d0d0d0" font-weight="bold" font-family="'Liberation Sans', Arial, sans-serif">15</text>
<text x="1553.7" y="1106.3" font-size="3.6" fill="#d0d0d0" font-weight="bold" font-family="'Liberation Sans', Arial, sans-serif">20</text>
<rect x="1551.5" y="1078.6" width="1.8" height="1.8" fill="#ffee00"/>
<path d="M1557.7 1040.5 Q1558.7 1071.8 1560.7 1104" stroke="#9a9a9a" stroke-width="0.7" fill="none"/>
<text x="1490.5" y="1042.5" font-size="3.2" fill="#e8e000" font-family="'Liberation Sans', Arial, sans-serif">LV Bmj</text>
<line x1="1417" y1="1155" x2="1620" y2="1155" stroke="#858005" stroke-width="1.3"/>
<clipPath id="cp8"><rect x="1417" y="1115" width="203" height="83"/></clipPath>
<g clip-path="url(#cp8)">
<polyline points="1382.9,1185 1386.9,1176.5 1386.5,1165.6 1387.7,1168 1389.6,1152.3 1391.2,1148.3 1390.9,1146.2 1395.3,1146.4 1394.5,1145.6 1398.9,1151 1400.7,1152.1 1404.6,1157.9 1406.8,1152.8 1409.1,1146.5 1410.9,1150.7 1412.1,1142.6 1416.1,1133.5 1415,1150.6 1418.7,1172 1421.4,1186.4 1423.4,1175.2 1422.5,1160.6 1426.3,1169 1425.1,1157.1 1428.9,1147.3 1430.6,1143.1 1429,1144.4 1432.1,1143.7 1433.7,1148.1 1437.8,1151.4 1438.6,1160.1 1441.5,1152.1 1444.1,1148.6 1444.4,1150.3 1449.5,1146.1 1452.9,1136 1452.4,1148.7 1456.1,1174 1457.5,1191.7 1456.9,1178.3 1461.9,1162.4 1461.2,1165.4 1463.3,1157.3 1465.1,1151.3 1463.5,1143.7 1466.1,1146.2 1467.8,1150.1 1472.1,1151.1 1476.6,1155.9 1477,1159.8 1480.8,1150.6 1482.1,1146.2 1483.5,1153.6 1485.6,1149.2 1487.2,1138.7 1490.4,1151.2 1491.3,1175.8 1494.1,1192 1495.6,1178 1496.1,1163.8 1496.3,1165.5 1501,1153.9 1501.2,1148.5 1503.6,1144.7 1502.3,1148.1 1506.4,1150.6 1508.2,1150.7 1512.9,1153 1513.9,1160.3 1516.3,1153.2 1518.1,1146.4 1520.6,1152.4 1520.3,1143.4 1524.6,1138.9 1524.6,1150.1 1526.8,1172.1 1530,1187.3 1531.9,1180.4 1535.1,1162.9 1534.9,1166.5 1537.2,1151.5 1536.4,1152.2 1538.7,1145.4 1539.2,1142.3 1543.7,1143.9 1543.7,1150.2 1549.2,1155.2 1552.1,1160.3 1551.2,1154.4 1553.1,1145.7 1557.1,1154.2 1559.2,1145.8 1559.5,1140.3 1561.1,1147.3 1564.1,1175.1 1568.5,1184.9 1568.7,1175.6 1570.3,1164.4 1572.1,1169.3 1572.4,1154.4 1572.5,1147.7 1575.2,1137.8 1575,1141.7 1577.7,1143.2 1580.7,1151.1 1585.9,1152.8 1586.7,1157.1 1587.3,1153.2 1591.8,1145.8 1592.5,1148.7 1595.1,1139.1 1596.5,1128 1598.2,1146.9 1600.8,1172.4 1604.3,1184.9 1603.3,1181.5 1606,1167 1606.7,1165.5 1609.8,1154.1 1611.2,1147.1 1610.3,1137.3 1611.5,1141 1614.5,1138.7 1616.5,1144.8 1623.1,1154.6 1623.8,1158.2 1623.4,1153.2 1625.4,1143.7 1628.5,1153.1 1629.7,1139.8 1635.9,1131.1 1636.9,1146.5 1636.6,1171.8 1639.4,1189.7 1642.7,1176.3 1640.2,1161.5 1642.2,1168.2 1646,1151.5 1645.3,1151.7 1646.6,1138.1 1649,1144 1651.1,1142.7 1653,1149.5 1656.4,1152.2 1660.9,1160.2 1661.2,1153.5 1662.5,1146.9 1666.8,1155.3 1666.6,1141.3 1671.8,1134.7 1670.8,1151.2 1673.5,1169.8 1674.7,1179.7 1676.2,1176.2 1680.1,1166.6 1681.7,1164.4 1682.4,1156 1683.5,1147.6 1685.8,1141.7 1685.2,1145.7 1689.6,1148.2 1690.3,1147.3 1694.7,1151.2 1697.7,1155.7 1697.5,1151.6 1700.7,1146.4 1699.9,1149.5 1703.2,1146.8 1709,1136.8 1707.9,1149.6 1708.8,1168.5" fill="none" stroke="#5a5400" stroke-width="0.9" stroke-dasharray="1 2.5" stroke-linejoin="round"/>
<polyline points="1383.4,1185.9 1385.2,1177.7 1387.1,1164.6 1388.1,1167.9 1389,1154.8 1390.5,1150.7 1391.9,1144.4 1393.3,1145.4 1395.8,1146 1399.7,1149 1401.7,1153.9 1404.1,1157.1 1406.5,1153 1407.3,1146.8 1409.1,1151.3 1412.3,1143.4 1415.3,1132 1416.1,1150.5 1417.8,1172 1420.8,1185.7 1422.5,1176.1 1423.2,1163.5 1424.7,1167.2 1425.5,1154.3 1427.3,1149.4 1429.3,1143.6 1429.8,1145.8 1432.5,1146.4 1435.5,1150.4 1438.6,1153.5 1440.1,1158.1 1442,1152.1 1443.7,1146 1445.9,1152 1448.1,1143.6 1451.2,1135.8 1453,1150.6 1454.4,1172.4 1457.3,1190 1457.9,1178.1 1460.2,1164.8 1460.7,1167.3 1461.9,1155.3 1464.5,1151.7 1465.4,1143.7 1466.6,1146.8 1469.4,1147.6 1472,1150.7 1475.2,1153.5 1476.8,1159.6 1479.4,1151.4 1480.5,1149.1 1482.3,1153.4 1485.1,1146.3 1488.3,1139.3 1489.2,1149.8 1491.2,1174.1 1493.4,1189.8 1495,1178.8 1496.9,1166.3 1497.8,1168.2 1499.1,1156 1500.8,1150.7 1501.7,1144.5 1503.6,1146.2 1505,1147.7 1509.3,1151.3 1512.2,1154.3 1513.6,1159.1 1515.3,1151.2 1517,1147.7 1519.6,1152.8 1521.7,1146.3 1524.1,1139.7 1526.2,1150.2 1527.1,1173.2 1529.8,1187 1531.8,1177.5 1533.4,1164.1 1533.5,1167.6 1535.4,1154.2 1537.1,1149.6 1538.1,1144.1 1540.4,1144.6 1541.9,1146.5 1545,1150.6 1547.9,1154.1 1550.1,1158.7 1551.5,1151.9 1553.9,1148.4 1555.2,1151.9 1558.5,1145.9 1560.7,1142 1562.8,1149.8 1564.2,1172.8 1566.8,1184.8 1568,1175.8 1569.2,1163.1 1570.2,1167.2 1571.7,1153.8 1573.8,1147.9 1575.4,1139.9 1576.2,1142.2 1579,1142.4 1581.4,1148.2 1585.2,1152.7 1586.9,1157.8 1588.5,1150.5 1590.1,1144.9 1591.9,1150.8 1595,1141.1 1597.2,1127.4 1599.6,1148.5 1599.9,1172.5 1602.8,1186.9 1604.9,1178.9 1605.6,1165.9 1606.4,1167.7 1607.9,1154.1 1609.5,1149.3 1611.2,1137 1612.5,1138.9 1615.5,1141.2 1617.9,1146.1 1621.3,1152.3 1623.1,1158.7 1625.3,1151.2 1626.9,1145.5 1628.7,1150.9 1631,1142.5 1634.3,1134 1636,1148.7 1637.4,1173.6 1639.6,1187.2 1641.4,1176.1 1641.9,1163.4 1643,1166.4 1644.4,1154.3 1646,1149 1648,1140.6 1649.9,1141.6 1652.1,1141.4 1654.5,1148.6 1657.7,1151.6 1659.9,1158 1661.5,1150.6 1662.9,1144.2 1665.2,1152.3 1668.2,1142.7 1671,1132.4 1671.7,1149.6 1673.6,1172.8 1676.4,1182.7 1677.3,1173.6 1679.4,1164.4 1680,1165 1681.6,1155.1 1682.8,1150.1 1684.3,1143.7 1685.4,1144.6 1688.6,1146.2 1691,1148.5 1693.8,1153.9 1696.2,1156.9 1698,1152.7 1699.8,1148.3 1701.3,1152.1 1704.7,1146.1 1707,1139.8 1708.1,1150.5 1709.6,1169.4" fill="none" stroke="#9a9200" stroke-width="4.4" stroke-linejoin="round" opacity="0.45" filter="url(#blur1)"/>
<polyline points="1383.4,1185.9 1385.2,1177.7 1387.1,1164.6 1388.1,1167.9 1389,1154.8 1390.5,1150.7 1391.9,1144.4 1393.3,1145.4 1395.8,1146 1399.7,1149 1401.7,1153.9 1404.1,1157.1 1406.5,1153 1407.3,1146.8 1409.1,1151.3 1412.3,1143.4 1415.3,1132 1416.1,1150.5 1417.8,1172 1420.8,1185.7 1422.5,1176.1 1423.2,1163.5 1424.7,1167.2 1425.5,1154.3 1427.3,1149.4 1429.3,1143.6 1429.8,1145.8 1432.5,1146.4 1435.5,1150.4 1438.6,1153.5 1440.1,1158.1 1442,1152.1 1443.7,1146 1445.9,1152 1448.1,1143.6 1451.2,1135.8 1453,1150.6 1454.4,1172.4 1457.3,1190 1457.9,1178.1 1460.2,1164.8 1460.7,1167.3 1461.9,1155.3 1464.5,1151.7 1465.4,1143.7 1466.6,1146.8 1469.4,1147.6 1472,1150.7 1475.2,1153.5 1476.8,1159.6 1479.4,1151.4 1480.5,1149.1 1482.3,1153.4 1485.1,1146.3 1488.3,1139.3 1489.2,1149.8 1491.2,1174.1 1493.4,1189.8 1495,1178.8 1496.9,1166.3 1497.8,1168.2 1499.1,1156 1500.8,1150.7 1501.7,1144.5 1503.6,1146.2 1505,1147.7 1509.3,1151.3 1512.2,1154.3 1513.6,1159.1 1515.3,1151.2 1517,1147.7 1519.6,1152.8 1521.7,1146.3 1524.1,1139.7 1526.2,1150.2 1527.1,1173.2 1529.8,1187 1531.8,1177.5 1533.4,1164.1 1533.5,1167.6 1535.4,1154.2 1537.1,1149.6 1538.1,1144.1 1540.4,1144.6 1541.9,1146.5 1545,1150.6 1547.9,1154.1 1550.1,1158.7 1551.5,1151.9 1553.9,1148.4 1555.2,1151.9 1558.5,1145.9 1560.7,1142 1562.8,1149.8 1564.2,1172.8 1566.8,1184.8 1568,1175.8 1569.2,1163.1 1570.2,1167.2 1571.7,1153.8 1573.8,1147.9 1575.4,1139.9 1576.2,1142.2 1579,1142.4 1581.4,1148.2 1585.2,1152.7 1586.9,1157.8 1588.5,1150.5 1590.1,1144.9 1591.9,1150.8 1595,1141.1 1597.2,1127.4 1599.6,1148.5 1599.9,1172.5 1602.8,1186.9 1604.9,1178.9 1605.6,1165.9 1606.4,1167.7 1607.9,1154.1 1609.5,1149.3 1611.2,1137 1612.5,1138.9 1615.5,1141.2 1617.9,1146.1 1621.3,1152.3 1623.1,1158.7 1625.3,1151.2 1626.9,1145.5 1628.7,1150.9 1631,1142.5 1634.3,1134 1636,1148.7 1637.4,1173.6 1639.6,1187.2 1641.4,1176.1 1641.9,1163.4 1643,1166.4 1644.4,1154.3 1646,1149 1648,1140.6 1649.9,1141.6 1652.1,1141.4 1654.5,1148.6 1657.7,1151.6 1659.9,1158 1661.5,1150.6 1662.9,1144.2 1665.2,1152.3 1668.2,1142.7 1671,1132.4 1671.7,1149.6 1673.6,1172.8 1676.4,1182.7 1677.3,1173.6 1679.4,1164.4 1680,1165 1681.6,1155.1 1682.8,1150.1 1684.3,1143.7 1685.4,1144.6 1688.6,1146.2 1691,1148.5 1693.8,1153.9 1696.2,1156.9 1698,1152.7 1699.8,1148.3 1701.3,1152.1 1704.7,1146.1 1707,1139.8 1708.1,1150.5 1709.6,1169.4" fill="none" stroke="#f2ea00" stroke-width="2.8" stroke-linejoin="round"/>
<polyline points="1391.9,1144.4 1393.3,1145.4 1395.8,1146 1399.7,1149" fill="none" stroke="#f2ea00" stroke-width="4.2" stroke-linejoin="round" stroke-linecap="round" transform="translate(0 1.2)"/>
<polyline points="1429.3,1143.6 1429.8,1145.8 1432.5,1146.4 1435.5,1150.4" fill="none" stroke="#f2ea00" stroke-width="4.2" stroke-linejoin="round" stroke-linecap="round" transform="translate(0 1.2)"/>
<polyline points="1465.4,1143.7 1466.6,1146.8 1469.4,1147.6 1472,1150.7" fill="none" stroke="#f2ea00" stroke-width="4.2" stroke-linejoin="round" stroke-linecap="round" transform="translate(0 1.2)"/>
<polyline points="1501.7,1144.5 1503.6,1146.2 1505,1147.7 1509.3,1151.3" fill="none" stroke="#f2ea00" stroke-width="4.2" stroke-linejoin="round" stroke-linecap="round" transform="translate(0 1.2)"/>
<polyline points="1538.1,1144.1 1540.4,1144.6 1541.9,1146.5 1545,1150.6" fill="none" stroke="#f2ea00" stroke-width="4.2" stroke-linejoin="round" stroke-linecap="round" transform="translate(0 1.2)"/>
<polyline points="1575.4,1139.9 1576.2,1142.2 1579,1142.4 1581.4,1148.2" fill="none" stroke="#f2ea00" stroke-width="4.2" stroke-linejoin="round" stroke-linecap="round" transform="translate(0 1.2)"/>
<polyline points="1611.2,1137 1612.5,1138.9 1615.5,1141.2 1617.9,1146.1" fill="none" stroke="#f2ea00" stroke-width="4.2" stroke-linejoin="round" stroke-linecap="round" transform="translate(0 1.2)"/>
<polyline points="1648,1140.6 1649.9,1141.6 1652.1,1141.4 1654.5,1148.6" fill="none" stroke="#f2ea00" stroke-width="4.2" stroke-linejoin="round" stroke-linecap="round" transform="translate(0 1.2)"/>
<polyline points="1684.3,1143.7 1685.4,1144.6 1688.6,1146.2 1691,1148.5" fill="none" stroke="#f2ea00" stroke-width="4.2" stroke-linejoin="round" stroke-linecap="round" transform="translate(0 1.2)"/>
</g>
<rect x="1412.6" y="1113" width="3.4" height="82" fill="url(#ybar)"/>
<line x1="1622.5" y1="1112" x2="1622.5" y2="1198" stroke="#8c8c8c" stroke-width="0.8" stroke-dasharray="0.8 2.2"/>
<text x="1625.5" y="1113.3" font-size="3.2" fill="#d0d0d0" font-weight="bold" font-family="'Liberation Sans', Arial, sans-serif">80.0</text>
<text x="1625.5" y="1127.6" font-size="3.2" fill="#d0d0d0" font-weight="bold" font-family="'Liberation Sans', Arial, sans-serif">40.0</text>
<text x="1625.5" y="1142" font-size="3.2" fill="#d0d0d0" font-weight="bold" font-family="'Liberation Sans', Arial, sans-serif">20.0</text>
<text x="1625.5" y="1156.3" font-size="3.2" fill="#d0d0d0" font-weight="bold" font-family="'Liberation Sans', Arial, sans-serif">0.0</text>
<text x="1625.5" y="1170.6" font-size="3.2" fill="#d0d0d0" font-weight="bold" font-family="'Liberation Sans', Arial, sans-serif">-20.0</text>
<text x="1625.5" y="1185" font-size="3.2" fill="#d0d0d0" font-weight="bold" font-family="'Liberation Sans', Arial, sans-serif">-40.0</text>
<text x="1625.5" y="1199.3" font-size="3.2" fill="#d0d0d0" font-weight="bold" font-family="'Liberation Sans', Arial, sans-serif">-80.0</text>
<rect x="1417" y="1205" width="203" height="10.5" fill="none" stroke="#1c1c1c" stroke-width="0.8"/>
<text x="1415" y="1049.6" font-size="14" fill="#fff" font-family="'Liberation Sans', Arial, sans-serif">(<tspan font-weight="bold">4</tspan>)</text>
<rect x="295" y="851.7" width="2.2" height="366.3" fill="#ffffff"/>
<rect x="66.4" y="1033.9" width="458.4" height="2.3" fill="#d6d6d6"/>
<rect x="295" y="1033.9" width="2.2" height="2.3" fill="#ffffff"/>
<rect x="852.4" y="851.7" width="2.2" height="366.3" fill="#ffffff"/>
<rect x="624" y="1033.9" width="458.2" height="2.3" fill="#d6d6d6"/>
<rect x="852.4" y="1033.9" width="2.2" height="2.3" fill="#ffffff"/>
<rect x="1410.4" y="851.7" width="2.2" height="366.3" fill="#ffffff"/>
<rect x="1182" y="1033.9" width="458" height="2.3" fill="#d6d6d6"/>
<rect x="1410.4" y="1033.9" width="2.2" height="2.3" fill="#ffffff"/>
</svg></body></html>
